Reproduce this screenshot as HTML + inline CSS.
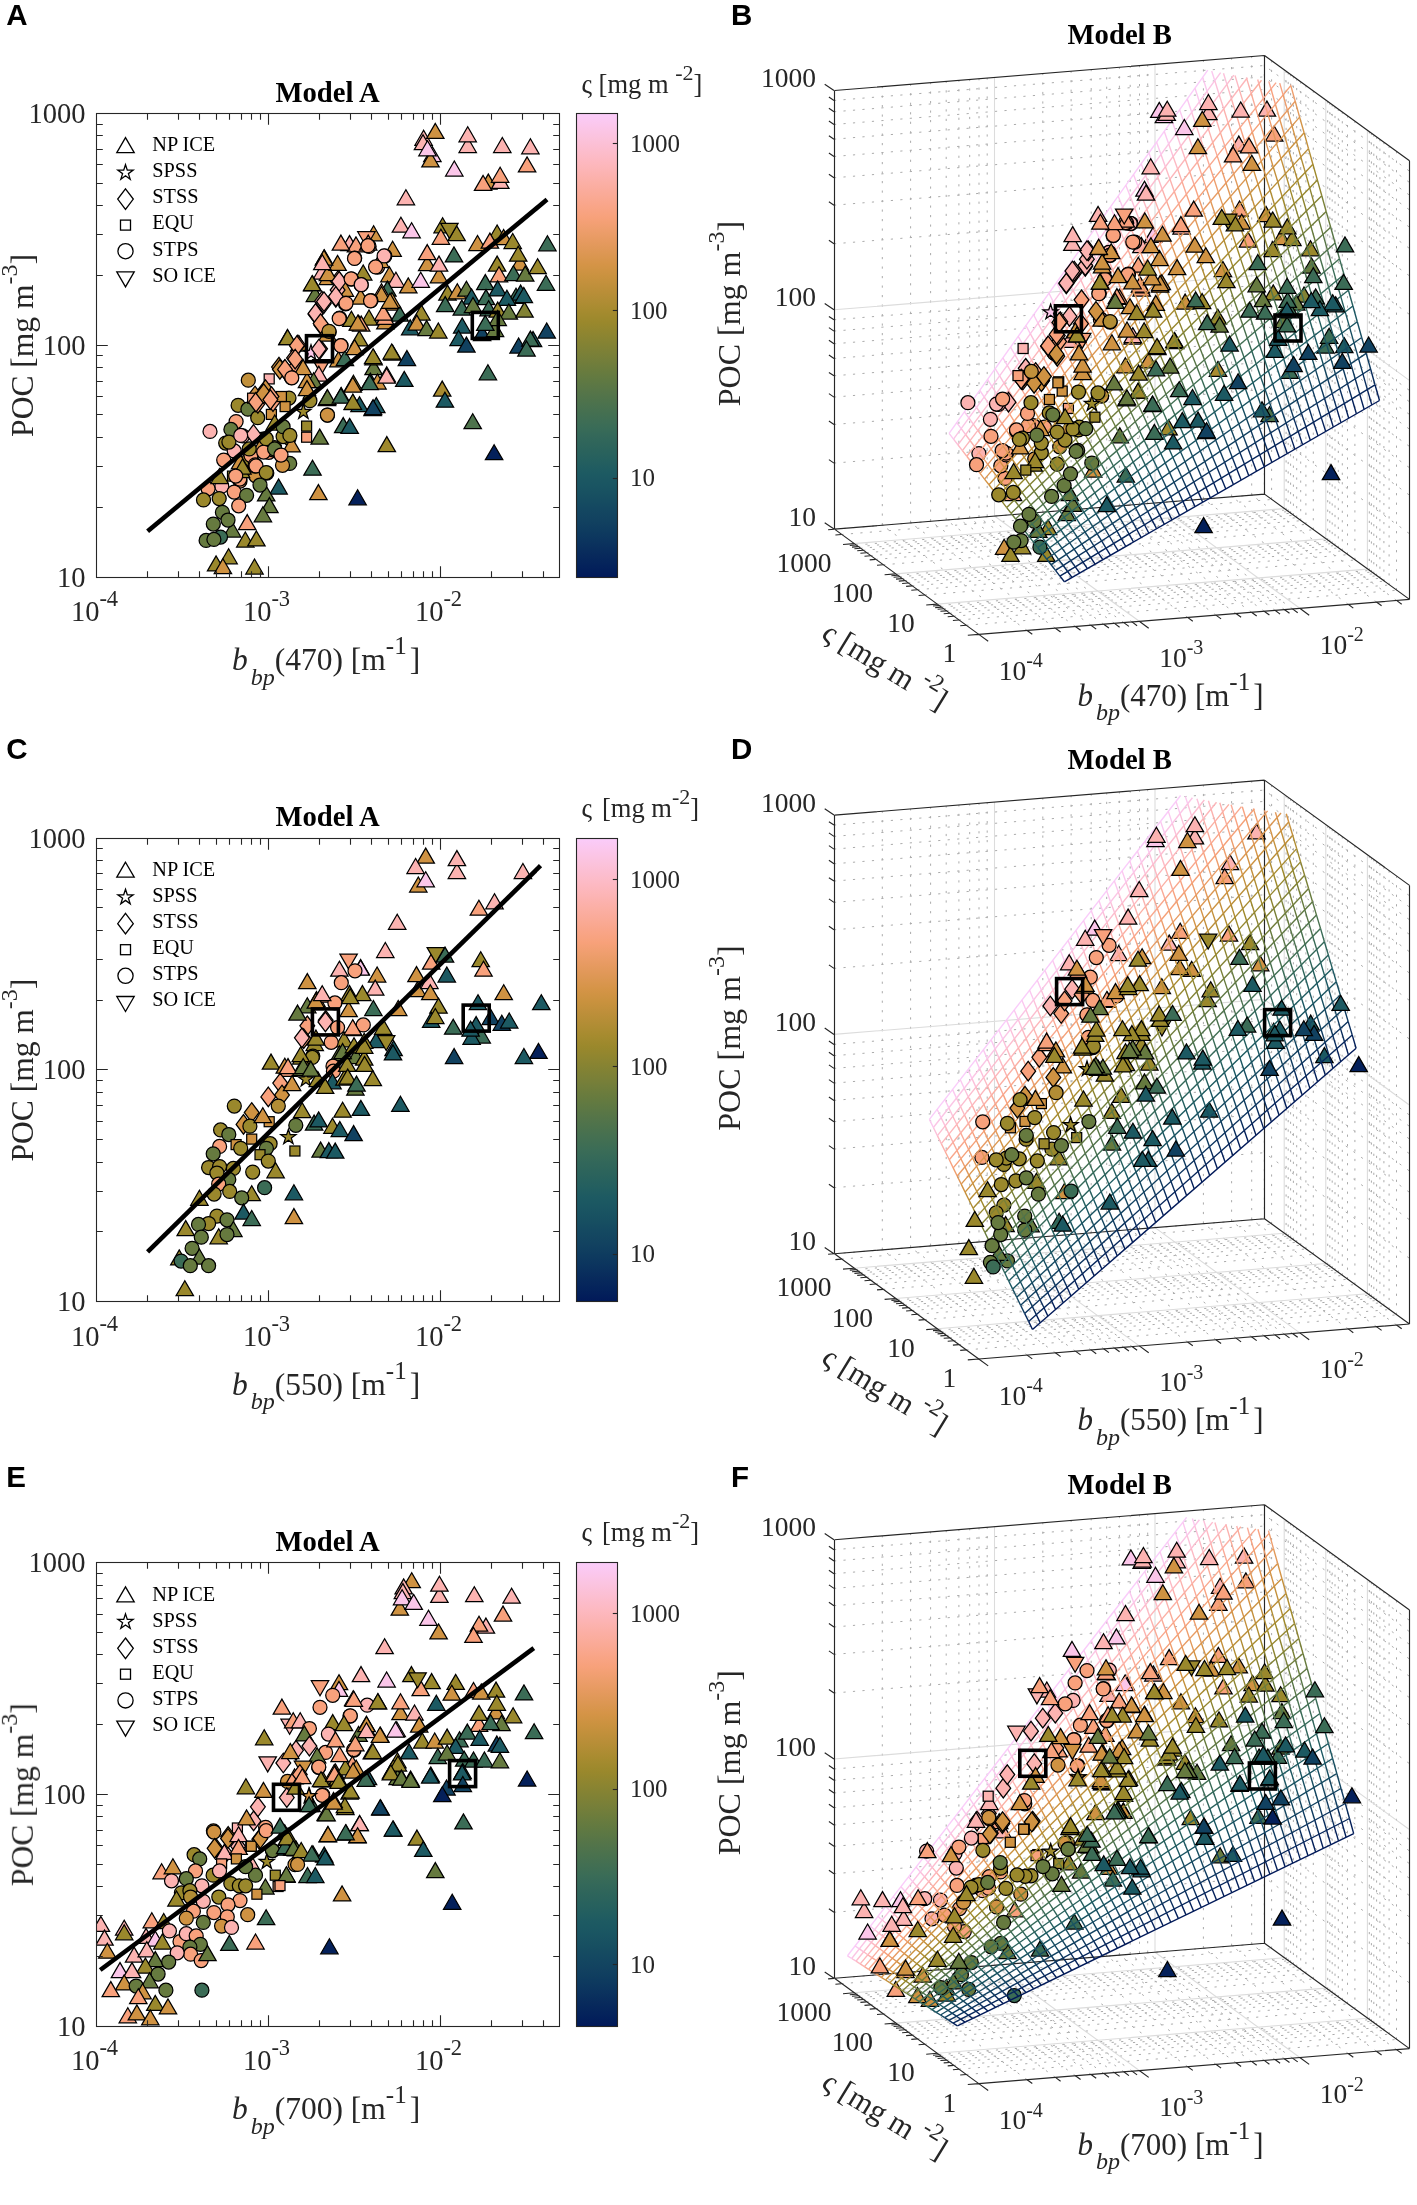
<!DOCTYPE html><html><head><meta charset="utf-8"><style>html,body{margin:0;padding:0;background:#fff;width:1417px;height:2205px;overflow:hidden}svg{display:block}</style></head><body><svg width="1417" height="2205" viewBox="0 0 1417 2205"><defs><linearGradient id="cbgrad" x1="0" y1="0" x2="0" y2="1"><stop offset="0.000" stop-color="#FACCFA"/><stop offset="0.025" stop-color="#FBC7EC"/><stop offset="0.050" stop-color="#FBC3DE"/><stop offset="0.075" stop-color="#FCBED0"/><stop offset="0.100" stop-color="#FDB9C2"/><stop offset="0.125" stop-color="#FCB4B4"/><stop offset="0.150" stop-color="#FBAFA5"/><stop offset="0.175" stop-color="#FAAA97"/><stop offset="0.200" stop-color="#F9A588"/><stop offset="0.225" stop-color="#F7A17A"/><stop offset="0.250" stop-color="#EE9E6D"/><stop offset="0.275" stop-color="#E69A60"/><stop offset="0.300" stop-color="#DD9754"/><stop offset="0.325" stop-color="#D59447"/><stop offset="0.350" stop-color="#CA923F"/><stop offset="0.375" stop-color="#BE8F3A"/><stop offset="0.400" stop-color="#B28D35"/><stop offset="0.425" stop-color="#A68B2F"/><stop offset="0.450" stop-color="#9A882C"/><stop offset="0.475" stop-color="#8E8530"/><stop offset="0.500" stop-color="#828234"/><stop offset="0.525" stop-color="#777F39"/><stop offset="0.550" stop-color="#6B7C3D"/><stop offset="0.575" stop-color="#607942"/><stop offset="0.600" stop-color="#567548"/><stop offset="0.625" stop-color="#4C724D"/><stop offset="0.650" stop-color="#436F52"/><stop offset="0.675" stop-color="#3A6C57"/><stop offset="0.700" stop-color="#32675A"/><stop offset="0.725" stop-color="#2B635C"/><stop offset="0.750" stop-color="#245F5F"/><stop offset="0.775" stop-color="#1D5A62"/><stop offset="0.800" stop-color="#1A5562"/><stop offset="0.825" stop-color="#174F61"/><stop offset="0.850" stop-color="#144861"/><stop offset="0.875" stop-color="#124260"/><stop offset="0.900" stop-color="#0E3B5F"/><stop offset="0.925" stop-color="#0B335E"/><stop offset="0.950" stop-color="#082A5C"/><stop offset="0.975" stop-color="#04225B"/><stop offset="1.000" stop-color="#011959"/></linearGradient><clipPath id="clipA0"><rect x="96" y="113.4" width="463.2" height="463.6"/></clipPath><clipPath id="clipA724"><rect x="96" y="838" width="463.2" height="463.6"/></clipPath><clipPath id="clipA1449"><rect x="96" y="1562.6" width="463.2" height="463.6"/></clipPath></defs><g style="will-change:transform">
<text x="6.2" y="25" style="font-family:'Liberation Sans',sans-serif;font-weight:bold;font-size:29.5px" fill="#000">A</text>
<text x="327.6" y="101.8" text-anchor="middle" style="font-family:'Liberation Serif',serif;font-weight:bold;font-size:28.7px" fill="#000">Model A</text>
<g clip-path="url(#clipA0)">
<polygon points="423.6,130.3 414.9,145.3 432.3,145.3" fill="#FCB3B1" stroke="#000" stroke-width="1.25" stroke-linejoin="miter"/>
<polygon points="435.3,123.4 426.6,138.4 444,138.4" fill="#CF9242" stroke="#000" stroke-width="1.25" stroke-linejoin="miter"/>
<polygon points="423,134.7 414.3,149.7 431.7,149.7" fill="#FCB3B1" stroke="#000" stroke-width="1.25" stroke-linejoin="miter"/>
<polygon points="432.4,146.7 423.7,161.7 441.1,161.7" fill="#FBC6E9" stroke="#000" stroke-width="1.25" stroke-linejoin="miter"/>
<polygon points="430.5,151.9 421.8,166.9 439.2,166.9" fill="#CF9242" stroke="#000" stroke-width="1.25" stroke-linejoin="miter"/>
<polygon points="427.5,140.8 418.8,155.8 436.2,155.8" fill="#FBC6E9" stroke="#000" stroke-width="1.25" stroke-linejoin="miter"/>
<polygon points="467.7,137.5 459,152.5 476.4,152.5" fill="#FCB3B1" stroke="#000" stroke-width="1.25" stroke-linejoin="miter"/>
<polygon points="467.7,126.8 459,141.8 476.4,141.8" fill="#FCB3B1" stroke="#000" stroke-width="1.25" stroke-linejoin="miter"/>
<polygon points="502.3,137.5 493.6,152.5 511,152.5" fill="#FCB3B1" stroke="#000" stroke-width="1.25" stroke-linejoin="miter"/>
<polygon points="530.4,138.8 521.7,153.8 539.1,153.8" fill="#FCB3B1" stroke="#000" stroke-width="1.25" stroke-linejoin="miter"/>
<polygon points="527.1,156.9 518.4,171.9 535.8,171.9" fill="#F8A17C" stroke="#000" stroke-width="1.25" stroke-linejoin="miter"/>
<polygon points="454.3,161 445.6,176 463,176" fill="#FBC6E9" stroke="#000" stroke-width="1.25" stroke-linejoin="miter"/>
<polygon points="488.3,174.1 479.6,189.1 497,189.1" fill="#CF9242" stroke="#000" stroke-width="1.25" stroke-linejoin="miter"/>
<polygon points="483.1,175.4 474.4,190.4 491.8,190.4" fill="#F8A17C" stroke="#000" stroke-width="1.25" stroke-linejoin="miter"/>
<polygon points="500.3,173.4 491.6,188.4 509,188.4" fill="#FCB3B1" stroke="#000" stroke-width="1.25" stroke-linejoin="miter"/>
<polygon points="500.1,167.3 491.4,182.3 508.8,182.3" fill="#F8A17C" stroke="#000" stroke-width="1.25" stroke-linejoin="miter"/>
<polygon points="405.9,189.8 397.2,204.8 414.6,204.8" fill="#FCB3B1" stroke="#000" stroke-width="1.25" stroke-linejoin="miter"/>
<polygon points="400.9,217.2 392.2,232.2 409.6,232.2" fill="#FCB3B1" stroke="#000" stroke-width="1.25" stroke-linejoin="miter"/>
<polygon points="411.6,222.8 402.9,237.8 420.3,237.8" fill="#FBC6E9" stroke="#000" stroke-width="1.25" stroke-linejoin="miter"/>
<polygon points="442.6,217.8 433.9,232.8 451.3,232.8" fill="#9A882C" stroke="#000" stroke-width="1.25" stroke-linejoin="miter"/>
<polygon points="456.6,225.7 447.9,240.7 465.3,240.7" fill="#9A882C" stroke="#000" stroke-width="1.25" stroke-linejoin="miter"/>
<polygon points="440.9,229.3 432.2,244.3 449.6,244.3" fill="#F8A17C" stroke="#000" stroke-width="1.25" stroke-linejoin="miter"/>
<polygon points="449.4,238.4 440.7,223.4 458.1,223.4" fill="#9A882C" stroke="#000" stroke-width="1.25"/>
<polygon points="497.1,225 488.4,240 505.8,240" fill="#9A882C" stroke="#000" stroke-width="1.25" stroke-linejoin="miter"/>
<polygon points="477.5,235.5 468.8,250.5 486.2,250.5" fill="#CF9242" stroke="#000" stroke-width="1.25" stroke-linejoin="miter"/>
<polygon points="489.9,233.1 481.2,248.1 498.6,248.1" fill="#F8A17C" stroke="#000" stroke-width="1.25" stroke-linejoin="miter"/>
<polygon points="503.6,229.5 494.9,244.5 512.3,244.5" fill="#CF9242" stroke="#000" stroke-width="1.25" stroke-linejoin="miter"/>
<polygon points="512.7,233.5 504,248.5 521.4,248.5" fill="#9A882C" stroke="#000" stroke-width="1.25" stroke-linejoin="miter"/>
<polygon points="547.4,235.8 538.7,250.8 556.1,250.8" fill="#3B6C56" stroke="#000" stroke-width="1.25" stroke-linejoin="miter"/>
<polygon points="392.6,241.3 383.9,256.3 401.3,256.3" fill="#CF9242" stroke="#000" stroke-width="1.25" stroke-linejoin="miter"/>
<polygon points="427.2,255.7 418.5,270.7 435.9,270.7" fill="#CF9242" stroke="#000" stroke-width="1.25" stroke-linejoin="miter"/>
<polygon points="427.2,244.6 418.5,259.6 435.9,259.6" fill="#F8A17C" stroke="#000" stroke-width="1.25" stroke-linejoin="miter"/>
<polygon points="439,267.8 430.3,282.8 447.7,282.8" fill="#CF9242" stroke="#000" stroke-width="1.25" stroke-linejoin="miter"/>
<polygon points="439,256.1 430.3,271.1 447.7,271.1" fill="#FCB3B1" stroke="#000" stroke-width="1.25" stroke-linejoin="miter"/>
<polygon points="454,246.9 445.3,261.9 462.7,261.9" fill="#3B6C56" stroke="#000" stroke-width="1.25" stroke-linejoin="miter"/>
<polygon points="519.9,255 511.2,270 528.6,270" fill="#CF9242" stroke="#000" stroke-width="1.25" stroke-linejoin="miter"/>
<polygon points="518.2,246.2 509.5,261.2 526.9,261.2" fill="#9A882C" stroke="#000" stroke-width="1.25" stroke-linejoin="miter"/>
<polygon points="497.1,256.1 488.4,271.1 505.8,271.1" fill="#9A882C" stroke="#000" stroke-width="1.25" stroke-linejoin="miter"/>
<polygon points="499,266.8 490.3,281.8 507.7,281.8" fill="#F8A17C" stroke="#000" stroke-width="1.25" stroke-linejoin="miter"/>
<polygon points="513.4,265.7 504.7,280.7 522.1,280.7" fill="#3B6C56" stroke="#000" stroke-width="1.25" stroke-linejoin="miter"/>
<polygon points="525.2,266.1 516.5,281.1 533.9,281.1" fill="#667A3F" stroke="#000" stroke-width="1.25" stroke-linejoin="miter"/>
<polygon points="537.6,258.7 528.9,273.7 546.3,273.7" fill="#9A882C" stroke="#000" stroke-width="1.25" stroke-linejoin="miter"/>
<polygon points="546,275.3 537.3,290.3 554.7,290.3" fill="#3B6C56" stroke="#000" stroke-width="1.25" stroke-linejoin="miter"/>
<polygon points="389.4,266.8 380.7,281.8 398.1,281.8" fill="#CF9242" stroke="#000" stroke-width="1.25" stroke-linejoin="miter"/>
<polygon points="395.9,272.3 387.2,287.3 404.6,287.3" fill="#FCB3B1" stroke="#000" stroke-width="1.25" stroke-linejoin="miter"/>
<polygon points="408.3,277.9 399.6,292.9 417,292.9" fill="#CF9242" stroke="#000" stroke-width="1.25" stroke-linejoin="miter"/>
<polygon points="420.7,272.3 412,287.3 429.4,287.3" fill="#FBC6E9" stroke="#000" stroke-width="1.25" stroke-linejoin="miter"/>
<polygon points="387.4,281.1 378.7,296.1 396.1,296.1" fill="#3B6C56" stroke="#000" stroke-width="1.25" stroke-linejoin="miter"/>
<polygon points="381.5,283.8 372.8,298.8 390.2,298.8" fill="#F8A17C" stroke="#000" stroke-width="1.25" stroke-linejoin="miter"/>
<polygon points="447.5,285.1 438.8,300.1 456.2,300.1" fill="#9A882C" stroke="#000" stroke-width="1.25" stroke-linejoin="miter"/>
<polygon points="457.3,283.8 448.6,298.8 466,298.8" fill="#CF9242" stroke="#000" stroke-width="1.25" stroke-linejoin="miter"/>
<polygon points="466.4,281.2 457.7,296.2 475.1,296.2" fill="#667A3F" stroke="#000" stroke-width="1.25" stroke-linejoin="miter"/>
<polygon points="471.6,289 462.9,304 480.3,304" fill="#1C5962" stroke="#000" stroke-width="1.25" stroke-linejoin="miter"/>
<polygon points="485.3,274.6 476.6,289.6 494,289.6" fill="#3B6C56" stroke="#000" stroke-width="1.25" stroke-linejoin="miter"/>
<polygon points="486,289.6 477.3,304.6 494.7,304.6" fill="#3B6C56" stroke="#000" stroke-width="1.25" stroke-linejoin="miter"/>
<polygon points="497.7,280.9 489,295.9 506.4,295.9" fill="#1C5962" stroke="#000" stroke-width="1.25" stroke-linejoin="miter"/>
<polygon points="516,288.3 507.3,303.3 524.7,303.3" fill="#3B6C56" stroke="#000" stroke-width="1.25" stroke-linejoin="miter"/>
<polygon points="520.6,285.1 511.9,300.1 529.3,300.1" fill="#1C5962" stroke="#000" stroke-width="1.25" stroke-linejoin="miter"/>
<polygon points="506.9,290.3 498.2,305.3 515.6,305.3" fill="#1C5962" stroke="#000" stroke-width="1.25" stroke-linejoin="miter"/>
<circle cx="384.8" cy="256" r="7" fill="#FCB3B1" stroke="#000" stroke-width="1.25"/>
<circle cx="377.6" cy="267.1" r="7" fill="#F8A17C" stroke="#000" stroke-width="1.25"/>
<polygon points="373.6,225.8 364.9,240.8 382.3,240.8" fill="#CF9242" stroke="#000" stroke-width="1.25" stroke-linejoin="miter"/>
<polygon points="366.4,246.7 357.7,231.7 375.1,231.7" fill="#F8A17C" stroke="#000" stroke-width="1.25"/>
<polygon points="349.5,235.6 340.8,250.6 358.2,250.6" fill="#FCB3B1" stroke="#000" stroke-width="1.25" stroke-linejoin="miter"/>
<polygon points="356,236.9 347.3,251.9 364.7,251.9" fill="#F8A17C" stroke="#000" stroke-width="1.25" stroke-linejoin="miter"/>
<circle cx="369.1" cy="246.4" r="7" fill="#F8A17C" stroke="#000" stroke-width="1.25"/>
<circle cx="354.7" cy="258.1" r="7" fill="#F8A17C" stroke="#000" stroke-width="1.25"/>
<polygon points="324.3,249.7 315.6,264.7 333,264.7" fill="#CF9242" stroke="#000" stroke-width="1.25" stroke-linejoin="miter"/>
<polygon points="327.9,269.5 319.2,284.5 336.6,284.5" fill="#CF9242" stroke="#000" stroke-width="1.25" stroke-linejoin="miter"/>
<polygon points="322,264 313.3,279 330.7,279" fill="#FCB3B1" stroke="#000" stroke-width="1.25" stroke-linejoin="miter"/>
<polygon points="363.2,265 354.5,280 371.9,280" fill="#9A882C" stroke="#000" stroke-width="1.25" stroke-linejoin="miter"/>
<polygon points="337.7,271.2 345.1,281 337.7,290.8 330.3,281" fill="#FCB3B1" stroke="#000" stroke-width="1.25"/>
<circle cx="351.4" cy="279" r="7" fill="#F8A17C" stroke="#000" stroke-width="1.25"/>
<circle cx="361.2" cy="284.9" r="7" fill="#FCB3B1" stroke="#000" stroke-width="1.25"/>
<polygon points="312.5,275.8 303.8,290.8 321.2,290.8" fill="#9A882C" stroke="#000" stroke-width="1.25" stroke-linejoin="miter"/>
<polygon points="314.9,286.5 306.2,301.5 323.6,301.5" fill="#667A3F" stroke="#000" stroke-width="1.25" stroke-linejoin="miter"/>
<polygon points="381.5,286.5 372.8,301.5 390.2,301.5" fill="#CF9242" stroke="#000" stroke-width="1.25" stroke-linejoin="miter"/>
<polygon points="390,295 381.3,310 398.7,310" fill="#CF9242" stroke="#000" stroke-width="1.25" stroke-linejoin="miter"/>
<polygon points="322,291.4 329.4,301.2 322,311 314.6,301.2" fill="#FCB3B1" stroke="#000" stroke-width="1.25"/>
<polygon points="335.8,287.5 343.2,297.3 335.8,307.1 328.4,297.3" fill="#FCB3B1" stroke="#000" stroke-width="1.25"/>
<circle cx="345.5" cy="303.8" r="7" fill="#F8A17C" stroke="#000" stroke-width="1.25"/>
<circle cx="371" cy="300.5" r="7" fill="#F8A17C" stroke="#000" stroke-width="1.25"/>
<polygon points="384.1,305.8 375.4,320.8 392.8,320.8" fill="#F8A17C" stroke="#000" stroke-width="1.25" stroke-linejoin="miter"/>
<polygon points="369,310 360.3,325 377.7,325" fill="#9A882C" stroke="#000" stroke-width="1.25" stroke-linejoin="miter"/>
<polygon points="351.4,311.3 342.7,326.3 360.1,326.3" fill="#9A882C" stroke="#000" stroke-width="1.25" stroke-linejoin="miter"/>
<polygon points="385.4,313.9 376.7,328.9 394.1,328.9" fill="#CF9242" stroke="#000" stroke-width="1.25" stroke-linejoin="miter"/>
<polygon points="399.7,306.1 391,321.1 408.4,321.1" fill="#3B6C56" stroke="#000" stroke-width="1.25" stroke-linejoin="miter"/>
<polygon points="410.2,319.8 401.5,334.8 418.9,334.8" fill="#1C5962" stroke="#000" stroke-width="1.25" stroke-linejoin="miter"/>
<polygon points="321.4,315.5 328.8,325.3 321.4,335.1 314,325.3" fill="#CF9242" stroke="#000" stroke-width="1.25"/>
<polygon points="315.5,304.4 322.9,314.2 315.5,324 308.1,314.2" fill="#FCB3B1" stroke="#000" stroke-width="1.25"/>
<circle cx="339.7" cy="318.2" r="7" fill="#F8A17C" stroke="#000" stroke-width="1.25"/>
<polygon points="358.6,315.2 349.9,330.2 367.3,330.2" fill="#F8A17C" stroke="#000" stroke-width="1.25" stroke-linejoin="miter"/>
<polygon points="287.4,329.6 278.7,344.6 296.1,344.6" fill="#9A882C" stroke="#000" stroke-width="1.25" stroke-linejoin="miter"/>
<polygon points="299.2,336.1 290.5,351.1 307.9,351.1" fill="#CF9242" stroke="#000" stroke-width="1.25" stroke-linejoin="miter"/>
<polygon points="359.3,330.9 350.6,345.9 368,345.9" fill="#9A882C" stroke="#000" stroke-width="1.25" stroke-linejoin="miter"/>
<circle cx="329.2" cy="331.9" r="7" fill="#B28D35" stroke="#000" stroke-width="1.25"/>
<polygon points="373.6,359.6 364.9,374.6 382.3,374.6" fill="#667A3F" stroke="#000" stroke-width="1.25" stroke-linejoin="miter"/>
<polygon points="373.6,349.8 364.9,364.8 382.3,364.8" fill="#9A882C" stroke="#000" stroke-width="1.25" stroke-linejoin="miter"/>
<polygon points="392.6,345 383.9,360 401.3,360" fill="#9A882C" stroke="#000" stroke-width="1.25" stroke-linejoin="miter"/>
<polygon points="406.9,350.5 398.2,365.5 415.6,365.5" fill="#114160" stroke="#000" stroke-width="1.25" stroke-linejoin="miter"/>
<polygon points="386.7,366.8 378,381.8 395.4,381.8" fill="#FCB3B1" stroke="#000" stroke-width="1.25" stroke-linejoin="miter"/>
<polygon points="404.3,371.4 395.6,386.4 413,386.4" fill="#1C5962" stroke="#000" stroke-width="1.25" stroke-linejoin="miter"/>
<polygon points="353.4,375.3 344.7,390.3 362.1,390.3" fill="#9A882C" stroke="#000" stroke-width="1.25" stroke-linejoin="miter"/>
<polygon points="370.4,373.2 361.7,388.2 379.1,388.2" fill="#1C5962" stroke="#000" stroke-width="1.25" stroke-linejoin="miter"/>
<polygon points="377.5,374 368.8,389 386.2,389" fill="#CF9242" stroke="#000" stroke-width="1.25" stroke-linejoin="miter"/>
<polygon points="338.4,351.8 329.7,366.8 347.1,366.8" fill="#CF9242" stroke="#000" stroke-width="1.25" stroke-linejoin="miter"/>
<polygon points="344.9,350.5 336.2,365.5 353.6,365.5" fill="#3B6C56" stroke="#000" stroke-width="1.25" stroke-linejoin="miter"/>
<circle cx="341" cy="345.6" r="7" fill="#F8A17C" stroke="#000" stroke-width="1.25"/>
<polygon points="297.9,335.1 305.3,344.9 297.9,354.7 290.5,344.9" fill="#F8A17C" stroke="#000" stroke-width="1.25"/>
<polygon points="294,348.2 301.4,358 294,367.8 286.6,358" fill="#F8A17C" stroke="#000" stroke-width="1.25"/>
<polygon points="279,357.3 286.4,367.1 279,376.9 271.6,367.1" fill="#CF9242" stroke="#000" stroke-width="1.25"/>
<polygon points="284.8,359.9 292.2,369.7 284.8,379.5 277.4,369.7" fill="#F8A17C" stroke="#000" stroke-width="1.25"/>
<polygon points="296.6,356 304,365.8 296.6,375.6 289.2,365.8" fill="#F8A17C" stroke="#000" stroke-width="1.25"/>
<polygon points="320.1,339 327.5,348.8 320.1,358.6 312.7,348.8" fill="#F8A17C" stroke="#000" stroke-width="1.25"/>
<polygon points="311,344.8 312.8,350.3 318.6,350.3 313.9,353.7 315.7,359.3 311,355.9 306.3,359.3 308.1,353.7 303.4,350.3 309.2,350.3" fill="#FBC6E9" stroke="#000" stroke-width="1.25"/>
<polygon points="321.4,374.6 312.7,359.6 330.1,359.6" fill="#F8A17C" stroke="#000" stroke-width="1.25"/>
<polygon points="318.8,366.2 310.1,381.2 327.5,381.2" fill="#FCB3B1" stroke="#000" stroke-width="1.25" stroke-linejoin="miter"/>
<polygon points="313.6,372.7 304.9,387.7 322.3,387.7" fill="#667A3F" stroke="#000" stroke-width="1.25" stroke-linejoin="miter"/>
<polygon points="307,372.7 298.3,387.7 315.7,387.7" fill="#CF9242" stroke="#000" stroke-width="1.25" stroke-linejoin="miter"/>
<circle cx="291.4" cy="377.6" r="7" fill="#F8A17C" stroke="#000" stroke-width="1.25"/>
<rect x="264.2" y="373.9" width="10" height="10" fill="#FCB3B1" stroke="#000" stroke-width="1.25"/>
<circle cx="248.3" cy="380.2" r="7" fill="#C1903B" stroke="#000" stroke-width="1.25"/>
<polygon points="445.2,296.6 436.5,311.6 453.9,311.6" fill="#3B6C56" stroke="#000" stroke-width="1.25" stroke-linejoin="miter"/>
<polygon points="461.8,300.1 453.1,315.1 470.5,315.1" fill="#3B6C56" stroke="#000" stroke-width="1.25" stroke-linejoin="miter"/>
<polygon points="473,297.5 464.3,312.5 481.7,312.5" fill="#667A3F" stroke="#000" stroke-width="1.25" stroke-linejoin="miter"/>
<polygon points="488.6,300.8 479.9,315.8 497.3,315.8" fill="#3B6C56" stroke="#000" stroke-width="1.25" stroke-linejoin="miter"/>
<polygon points="497.7,302.1 489,317.1 506.4,317.1" fill="#9A882C" stroke="#000" stroke-width="1.25" stroke-linejoin="miter"/>
<polygon points="508.8,304 500.1,319 517.5,319" fill="#667A3F" stroke="#000" stroke-width="1.25" stroke-linejoin="miter"/>
<polygon points="524.5,302.1 515.8,317.1 533.2,317.1" fill="#828234" stroke="#000" stroke-width="1.25" stroke-linejoin="miter"/>
<polygon points="523.8,287.5 515.1,302.5 532.5,302.5" fill="#1C5962" stroke="#000" stroke-width="1.25" stroke-linejoin="miter"/>
<polygon points="421.4,305 412.7,320 430.1,320" fill="#9A882C" stroke="#000" stroke-width="1.25" stroke-linejoin="miter"/>
<polygon points="416.8,315.1 408.1,330.1 425.5,330.1" fill="#CF9242" stroke="#000" stroke-width="1.25" stroke-linejoin="miter"/>
<polygon points="426.6,320.6 417.9,335.6 435.3,335.6" fill="#667A3F" stroke="#000" stroke-width="1.25" stroke-linejoin="miter"/>
<polygon points="438.3,323 429.6,338 447,338" fill="#9A882C" stroke="#000" stroke-width="1.25" stroke-linejoin="miter"/>
<polygon points="462.2,318 453.5,333 470.9,333" fill="#1C5962" stroke="#000" stroke-width="1.25" stroke-linejoin="miter"/>
<polygon points="458.6,330.5 449.9,345.5 467.3,345.5" fill="#1C5962" stroke="#000" stroke-width="1.25" stroke-linejoin="miter"/>
<polygon points="466.4,337.1 457.7,352.1 475.1,352.1" fill="#114160" stroke="#000" stroke-width="1.25" stroke-linejoin="miter"/>
<polygon points="482.1,325.6 473.4,340.6 490.8,340.6" fill="#114160" stroke="#000" stroke-width="1.25" stroke-linejoin="miter"/>
<polygon points="495,321.5 486.3,336.5 503.7,336.5" fill="#667A3F" stroke="#000" stroke-width="1.25" stroke-linejoin="miter"/>
<polygon points="497.7,310.5 489,325.5 506.4,325.5" fill="#667A3F" stroke="#000" stroke-width="1.25" stroke-linejoin="miter"/>
<polygon points="485.3,315.4 476.6,330.4 494,330.4" fill="#3B6C56" stroke="#000" stroke-width="1.25" stroke-linejoin="miter"/>
<polygon points="546.7,323 538,338 555.4,338" fill="#114160" stroke="#000" stroke-width="1.25" stroke-linejoin="miter"/>
<polygon points="533,331.5 524.3,346.5 541.7,346.5" fill="#1C5962" stroke="#000" stroke-width="1.25" stroke-linejoin="miter"/>
<polygon points="518.6,338 509.9,353 527.3,353" fill="#114160" stroke="#000" stroke-width="1.25" stroke-linejoin="miter"/>
<polygon points="530.4,331.1 521.7,346.1 539.1,346.1" fill="#3B6C56" stroke="#000" stroke-width="1.25" stroke-linejoin="miter"/>
<polygon points="526.5,341 517.8,356 535.2,356" fill="#3B6C56" stroke="#000" stroke-width="1.25" stroke-linejoin="miter"/>
<polygon points="442.2,381.1 433.5,396.1 450.9,396.1" fill="#A98B30" stroke="#000" stroke-width="1.25" stroke-linejoin="miter"/>
<polygon points="444.9,392.2 436.2,407.2 453.6,407.2" fill="#1C5962" stroke="#000" stroke-width="1.25" stroke-linejoin="miter"/>
<polygon points="487.9,364.8 479.2,379.8 496.6,379.8" fill="#3B6C56" stroke="#000" stroke-width="1.25" stroke-linejoin="miter"/>
<polygon points="472.7,413.7 464,428.7 481.4,428.7" fill="#4E734C" stroke="#000" stroke-width="1.25" stroke-linejoin="miter"/>
<polygon points="386.8,436.6 378.1,451.6 395.5,451.6" fill="#9F892C" stroke="#000" stroke-width="1.25" stroke-linejoin="miter"/>
<polygon points="494.1,444.7 485.4,459.7 502.8,459.7" fill="#04205A" stroke="#000" stroke-width="1.25" stroke-linejoin="miter"/>
<polygon points="376.3,397.5 367.6,412.5 385,412.5" fill="#1C5962" stroke="#000" stroke-width="1.25" stroke-linejoin="miter"/>
<polygon points="265.5,379.8 272.9,389.6 265.5,399.4 258.1,389.6" fill="#CF9242" stroke="#000" stroke-width="1.25"/>
<polygon points="255,386.2 262.4,396 255,405.8 247.6,396" fill="#CF9242" stroke="#000" stroke-width="1.25"/>
<polygon points="256.4,392.8 263.8,402.6 256.4,412.4 249,402.6" fill="#F8A17C" stroke="#000" stroke-width="1.25"/>
<polygon points="272,390.2 279.4,400 272,409.8 264.6,400" fill="#FCB3B1" stroke="#000" stroke-width="1.25"/>
<rect x="275.5" y="392.4" width="10" height="10" fill="#CF9242" stroke="#000" stroke-width="1.25"/>
<circle cx="289" cy="398.1" r="7" fill="#9A882C" stroke="#000" stroke-width="1.25"/>
<circle cx="238.1" cy="405.3" r="7" fill="#9A882C" stroke="#000" stroke-width="1.25"/>
<circle cx="247.9" cy="409.2" r="7" fill="#667A3F" stroke="#000" stroke-width="1.25"/>
<rect x="280.1" y="401.6" width="10" height="10" fill="#CF9242" stroke="#000" stroke-width="1.25"/>
<rect x="266.4" y="409.4" width="10" height="10" fill="#CF9242" stroke="#000" stroke-width="1.25"/>
<circle cx="257.7" cy="417.7" r="7" fill="#9A882C" stroke="#000" stroke-width="1.25"/>
<circle cx="236.1" cy="421.6" r="7" fill="#F8A17C" stroke="#000" stroke-width="1.25"/>
<circle cx="210" cy="431.4" r="7" fill="#FCB3B1" stroke="#000" stroke-width="1.25"/>
<circle cx="230.9" cy="429.4" r="7" fill="#667A3F" stroke="#000" stroke-width="1.25"/>
<circle cx="242.7" cy="435.9" r="7" fill="#FCB3B1" stroke="#000" stroke-width="1.25"/>
<circle cx="289" cy="438" r="7" fill="#9A882C" stroke="#000" stroke-width="1.25"/>
<circle cx="283.1" cy="436.6" r="7" fill="#9A882C" stroke="#000" stroke-width="1.25"/>
<circle cx="225.7" cy="443.1" r="7" fill="#9A882C" stroke="#000" stroke-width="1.25"/>
<circle cx="234.2" cy="450.9" r="7" fill="#FCB3B1" stroke="#000" stroke-width="1.25"/>
<circle cx="223.7" cy="460.1" r="7" fill="#F8A17C" stroke="#000" stroke-width="1.25"/>
<polygon points="291.6,436.9 282.9,451.9 300.3,451.9" fill="#CF9242" stroke="#000" stroke-width="1.25" stroke-linejoin="miter"/>
<circle cx="274.6" cy="447.7" r="7" fill="#9A882C" stroke="#000" stroke-width="1.25"/>
<circle cx="268.8" cy="452.3" r="7" fill="#F8A17C" stroke="#000" stroke-width="1.25"/>
<circle cx="251.1" cy="456.8" r="7" fill="#F8A17C" stroke="#000" stroke-width="1.25"/>
<circle cx="309.9" cy="400.7" r="7" fill="#9A882C" stroke="#000" stroke-width="1.25"/>
<polygon points="303.4,403.8 305.2,409.3 311,409.3 306.3,412.7 308.1,418.3 303.4,414.9 298.7,418.3 300.5,412.7 295.8,409.3 301.6,409.3" fill="#9A882C" stroke="#000" stroke-width="1.25"/>
<rect x="301.6" y="421.1" width="10" height="10" fill="#9A882C" stroke="#000" stroke-width="1.25"/>
<rect x="301.6" y="432.2" width="10" height="10" fill="#F8A17C" stroke="#000" stroke-width="1.25"/>
<circle cx="327.5" cy="415" r="7" fill="#CF9242" stroke="#000" stroke-width="1.25"/>
<polygon points="326.9,390.6 318.2,405.6 335.6,405.6" fill="#667A3F" stroke="#000" stroke-width="1.25" stroke-linejoin="miter"/>
<polygon points="341.2,387.6 332.5,402.6 349.9,402.6" fill="#3B6C56" stroke="#000" stroke-width="1.25" stroke-linejoin="miter"/>
<polygon points="353,394.5 344.3,409.5 361.7,409.5" fill="#9A882C" stroke="#000" stroke-width="1.25" stroke-linejoin="miter"/>
<polygon points="359.5,396.7 350.8,411.7 368.2,411.7" fill="#1C5962" stroke="#000" stroke-width="1.25" stroke-linejoin="miter"/>
<polygon points="372.6,400.6 363.9,415.6 381.3,415.6" fill="#114160" stroke="#000" stroke-width="1.25" stroke-linejoin="miter"/>
<polygon points="343.2,417.6 334.5,432.6 351.9,432.6" fill="#3B6C56" stroke="#000" stroke-width="1.25" stroke-linejoin="miter"/>
<polygon points="349.7,418.4 341,433.4 358.4,433.4" fill="#1C5962" stroke="#000" stroke-width="1.25" stroke-linejoin="miter"/>
<polygon points="319.7,429.1 311,444.1 328.4,444.1" fill="#667A3F" stroke="#000" stroke-width="1.25" stroke-linejoin="miter"/>
<polygon points="312.5,460.2 303.8,475.2 321.2,475.2" fill="#3B6C56" stroke="#000" stroke-width="1.25" stroke-linejoin="miter"/>
<polygon points="318.4,484.6 309.7,499.6 327.1,499.6" fill="#CF9242" stroke="#000" stroke-width="1.25" stroke-linejoin="miter"/>
<polygon points="357.6,489.8 348.9,504.8 366.3,504.8" fill="#04205A" stroke="#000" stroke-width="1.25" stroke-linejoin="miter"/>
<circle cx="289.7" cy="463.4" r="7" fill="#667A3F" stroke="#000" stroke-width="1.25"/>
<circle cx="282.5" cy="465.3" r="7" fill="#CF9242" stroke="#000" stroke-width="1.25"/>
<circle cx="266.8" cy="473.1" r="7" fill="#667A3F" stroke="#000" stroke-width="1.25"/>
<circle cx="255.7" cy="475.8" r="7" fill="#CF9242" stroke="#000" stroke-width="1.25"/>
<circle cx="240" cy="481" r="7" fill="#F8A17C" stroke="#000" stroke-width="1.25"/>
<circle cx="221.8" cy="486.2" r="7" fill="#FCB3B1" stroke="#000" stroke-width="1.25"/>
<circle cx="208.1" cy="488.8" r="7" fill="#F8A17C" stroke="#000" stroke-width="1.25"/>
<circle cx="234.2" cy="492.1" r="7" fill="#F8A17C" stroke="#000" stroke-width="1.25"/>
<polygon points="278.6,479 269.9,494 287.3,494" fill="#1C5962" stroke="#000" stroke-width="1.25" stroke-linejoin="miter"/>
<polygon points="266.2,485.9 257.5,500.9 274.9,500.9" fill="#667A3F" stroke="#000" stroke-width="1.25" stroke-linejoin="miter"/>
<polygon points="269.4,497.6 260.7,512.6 278.1,512.6" fill="#667A3F" stroke="#000" stroke-width="1.25" stroke-linejoin="miter"/>
<polygon points="262.9,506.8 254.2,521.8 271.6,521.8" fill="#667A3F" stroke="#000" stroke-width="1.25" stroke-linejoin="miter"/>
<circle cx="246.6" cy="495.3" r="7" fill="#667A3F" stroke="#000" stroke-width="1.25"/>
<circle cx="219.2" cy="498.6" r="7" fill="#9A882C" stroke="#000" stroke-width="1.25"/>
<circle cx="203.5" cy="499.9" r="7" fill="#9A882C" stroke="#000" stroke-width="1.25"/>
<circle cx="238.7" cy="505.8" r="7" fill="#F8A17C" stroke="#000" stroke-width="1.25"/>
<circle cx="222.4" cy="512.3" r="7" fill="#667A3F" stroke="#000" stroke-width="1.25"/>
<polygon points="247.2,514.6 238.5,529.6 255.9,529.6" fill="#F8A17C" stroke="#000" stroke-width="1.25" stroke-linejoin="miter"/>
<polygon points="232.2,522 223.5,537 240.9,537" fill="#667A3F" stroke="#000" stroke-width="1.25" stroke-linejoin="miter"/>
<circle cx="213.3" cy="524.1" r="7" fill="#667A3F" stroke="#000" stroke-width="1.25"/>
<circle cx="220.5" cy="537.1" r="7" fill="#3B6C56" stroke="#000" stroke-width="1.25"/>
<circle cx="206.1" cy="540.4" r="7" fill="#667A3F" stroke="#000" stroke-width="1.25"/>
<polygon points="245.3,532 236.6,547 254,547" fill="#9A882C" stroke="#000" stroke-width="1.25" stroke-linejoin="miter"/>
<polygon points="256.4,530.9 247.7,545.9 265.1,545.9" fill="#9A882C" stroke="#000" stroke-width="1.25" stroke-linejoin="miter"/>
<polygon points="327.9,265.6 319.2,280.6 336.6,280.6" fill="#CF9242" stroke="#000" stroke-width="1.25" stroke-linejoin="miter"/>
<polygon points="360.6,289.1 351.9,304.1 369.3,304.1" fill="#CF9242" stroke="#000" stroke-width="1.25" stroke-linejoin="miter"/>
<polygon points="344.9,281.3 336.2,296.3 353.6,296.3" fill="#CF9242" stroke="#000" stroke-width="1.25" stroke-linejoin="miter"/>
<polygon points="380.2,252.5 371.5,267.5 388.9,267.5" fill="#CF9242" stroke="#000" stroke-width="1.25" stroke-linejoin="miter"/>
<polygon points="303.1,359.6 294.4,374.6 311.8,374.6" fill="#CF9242" stroke="#000" stroke-width="1.25" stroke-linejoin="miter"/>
<circle cx="213.9" cy="539.4" r="7" fill="#667A3F" stroke="#000" stroke-width="1.25"/>
<circle cx="239.8" cy="479" r="7" fill="#F8A17C" stroke="#000" stroke-width="1.25"/>
<rect x="227.5" y="471.1" width="10" height="10" fill="#9A882C" stroke="#000" stroke-width="1.25"/>
<circle cx="255.1" cy="466" r="7" fill="#F8A17C" stroke="#000" stroke-width="1.25"/>
<polygon points="241,462.5 232.3,477.5 249.7,477.5" fill="#9A882C" stroke="#000" stroke-width="1.25" stroke-linejoin="miter"/>
<polygon points="219.5,468.5 210.8,483.5 228.2,483.5" fill="#9A882C" stroke="#000" stroke-width="1.25" stroke-linejoin="miter"/>
<polygon points="228.6,548.8 219.9,563.8 237.3,563.8" fill="#9A882C" stroke="#000" stroke-width="1.25" stroke-linejoin="miter"/>
<polygon points="216.1,555.9 207.4,570.9 224.8,570.9" fill="#9A882C" stroke="#000" stroke-width="1.25" stroke-linejoin="miter"/>
<polygon points="222.9,558.7 214.2,573.7 231.6,573.7" fill="#CF9242" stroke="#000" stroke-width="1.25" stroke-linejoin="miter"/>
<polygon points="254.5,559 245.8,574 263.2,574" fill="#9A882C" stroke="#000" stroke-width="1.25" stroke-linejoin="miter"/>
<circle cx="272.9" cy="449.8" r="7" fill="#667A3F" stroke="#000" stroke-width="1.25"/>
<circle cx="262.8" cy="439" r="7" fill="#F8A17C" stroke="#000" stroke-width="1.25"/>
<circle cx="249.2" cy="459.1" r="7" fill="#9A882C" stroke="#000" stroke-width="1.25"/>
<rect x="247.6" y="393.2" width="10" height="10" fill="#F8A17C" stroke="#000" stroke-width="1.25"/>
<polygon points="262.8,385 270.2,394.8 262.8,404.6 255.4,394.8" fill="#CF9242" stroke="#000" stroke-width="1.25"/>
<polygon points="273,391.8 280.4,401.6 273,411.4 265.6,401.6" fill="#F8A17C" stroke="#000" stroke-width="1.25"/>
<rect x="276.4" y="391.5" width="10" height="10" fill="#CF9242" stroke="#000" stroke-width="1.25"/>
<polygon points="323.8,293.8 331.2,303.6 323.8,313.4 316.4,303.6" fill="#FCB3B1" stroke="#000" stroke-width="1.25"/>
<polygon points="361.2,316.1 352.5,331.1 369.9,331.1" fill="#F8A17C" stroke="#000" stroke-width="1.25" stroke-linejoin="miter"/>
<polygon points="337.6,280.2 345,290 337.6,299.8 330.2,290" fill="#FCB3B1" stroke="#000" stroke-width="1.25"/>
<polygon points="327.5,326 318.8,341 336.2,341" fill="#CF9242" stroke="#000" stroke-width="1.25" stroke-linejoin="miter"/>
<polygon points="354.6,339.6 345.9,354.6 363.3,354.6" fill="#CF9242" stroke="#000" stroke-width="1.25" stroke-linejoin="miter"/>
<polygon points="340.9,235.1 332.2,250.1 349.6,250.1" fill="#F8A17C" stroke="#000" stroke-width="1.25" stroke-linejoin="miter"/>
<polygon points="368.2,235.1 359.5,250.1 376.9,250.1" fill="#F8A17C" stroke="#000" stroke-width="1.25" stroke-linejoin="miter"/>
<polygon points="337.6,255.4 328.9,270.4 346.3,270.4" fill="#CF9242" stroke="#000" stroke-width="1.25" stroke-linejoin="miter"/>
<polygon points="385.1,309.4 376.4,324.4 393.8,324.4" fill="#F8A17C" stroke="#000" stroke-width="1.25" stroke-linejoin="miter"/>
<polygon points="391.9,292.5 383.2,307.5 400.6,307.5" fill="#CF9242" stroke="#000" stroke-width="1.25" stroke-linejoin="miter"/>
<polygon points="324,250.1 315.3,265.1 332.7,265.1" fill="#CF9242" stroke="#000" stroke-width="1.25" stroke-linejoin="miter"/>
<polygon points="322.3,254.7 313.6,269.7 331,269.7" fill="#FCB3B1" stroke="#000" stroke-width="1.25" stroke-linejoin="miter"/>
<polygon points="312.1,275.7 303.4,290.7 320.8,290.7" fill="#9A882C" stroke="#000" stroke-width="1.25" stroke-linejoin="miter"/>
<polygon points="357.8,315.2 349.1,330.2 366.5,330.2" fill="#CF9242" stroke="#000" stroke-width="1.25" stroke-linejoin="miter"/>
<polygon points="383.3,305 374.6,320 392,320" fill="#F8A17C" stroke="#000" stroke-width="1.25" stroke-linejoin="miter"/>
<polygon points="390,293.3 381.3,308.3 398.7,308.3" fill="#CF9242" stroke="#000" stroke-width="1.25" stroke-linejoin="miter"/>
<polygon points="373.1,348.7 364.4,363.7 381.8,363.7" fill="#9A882C" stroke="#000" stroke-width="1.25" stroke-linejoin="miter"/>
<polygon points="391.7,344 383,359 400.4,359" fill="#9A882C" stroke="#000" stroke-width="1.25" stroke-linejoin="miter"/>
<polygon points="352.8,377.2 344.1,392.2 361.5,392.2" fill="#CF9242" stroke="#000" stroke-width="1.25" stroke-linejoin="miter"/>
<polygon points="369.7,374.6 361,389.6 378.4,389.6" fill="#3B6C56" stroke="#000" stroke-width="1.25" stroke-linejoin="miter"/>
<polygon points="386.6,368.2 377.9,383.2 395.3,383.2" fill="#FCB3B1" stroke="#000" stroke-width="1.25" stroke-linejoin="miter"/>
<polygon points="327.4,389.6 318.7,404.6 336.1,404.6" fill="#667A3F" stroke="#000" stroke-width="1.25" stroke-linejoin="miter"/>
<polygon points="340.9,388.1 332.2,403.1 349.6,403.1" fill="#3B6C56" stroke="#000" stroke-width="1.25" stroke-linejoin="miter"/>
<polygon points="352.8,394.3 344.1,409.3 361.5,409.3" fill="#9A882C" stroke="#000" stroke-width="1.25" stroke-linejoin="miter"/>
<polygon points="373.1,399.7 364.4,414.7 381.8,414.7" fill="#114160" stroke="#000" stroke-width="1.25" stroke-linejoin="miter"/>
<polygon points="287.6,329.7 278.9,344.7 296.3,344.7" fill="#9A882C" stroke="#000" stroke-width="1.25" stroke-linejoin="miter"/>
<polygon points="307,380.6 298.3,395.6 315.7,395.6" fill="#CF9242" stroke="#000" stroke-width="1.25" stroke-linejoin="miter"/>
<polygon points="339.2,271.5 346.6,281.3 339.2,291.1 331.8,281.3" fill="#FCB3B1" stroke="#000" stroke-width="1.25"/>
<polygon points="324,291.8 331.4,301.6 324,311.4 316.6,301.6" fill="#FCB3B1" stroke="#000" stroke-width="1.25"/>
<polygon points="315.5,303.7 322.9,313.5 315.5,323.3 308.1,313.5" fill="#FCB3B1" stroke="#000" stroke-width="1.25"/>
<polygon points="335.8,286.7 343.2,296.5 335.8,306.3 328.4,296.5" fill="#FCB3B1" stroke="#000" stroke-width="1.25"/>
<polygon points="320.6,313.8 328,323.6 320.6,333.4 313.2,323.6" fill="#F8A17C" stroke="#000" stroke-width="1.25"/>
<polygon points="296.9,335.9 304.3,345.7 296.9,355.5 289.5,345.7" fill="#F8A17C" stroke="#000" stroke-width="1.25"/>
<polygon points="295.2,349.4 302.6,359.2 295.2,369 287.8,359.2" fill="#F8A17C" stroke="#000" stroke-width="1.25"/>
<polygon points="279.9,359.6 287.3,369.4 279.9,379.2 272.5,369.4" fill="#CF9242" stroke="#000" stroke-width="1.25"/>
<polygon points="285,359.6 292.4,369.4 285,379.2 277.6,369.4" fill="#F8A17C" stroke="#000" stroke-width="1.25"/>
<polygon points="318.9,339.2 326.3,349 318.9,358.8 311.5,349" fill="#FCB3B1" stroke="#000" stroke-width="1.25"/>
<polygon points="271.5,386.7 278.9,396.5 271.5,406.3 264.1,396.5" fill="#F8A17C" stroke="#000" stroke-width="1.25"/>
<polygon points="257.9,393.5 265.3,403.3 257.9,413.1 250.5,403.3" fill="#F8A17C" stroke="#000" stroke-width="1.25"/>
<circle cx="329" cy="331.3" r="7" fill="#B28D35" stroke="#000" stroke-width="1.25"/>
<circle cx="368" cy="245.7" r="7" fill="#F8A17C" stroke="#000" stroke-width="1.25"/>
<circle cx="354.5" cy="258.4" r="7" fill="#F8A17C" stroke="#000" stroke-width="1.25"/>
<circle cx="384.1" cy="255.9" r="7" fill="#FCB3B1" stroke="#000" stroke-width="1.25"/>
<circle cx="375.6" cy="266.9" r="7" fill="#F8A17C" stroke="#000" stroke-width="1.25"/>
<circle cx="351.1" cy="278.8" r="7" fill="#F8A17C" stroke="#000" stroke-width="1.25"/>
<circle cx="361.2" cy="284.7" r="7" fill="#FCB3B1" stroke="#000" stroke-width="1.25"/>
<circle cx="346" cy="303.3" r="7" fill="#F8A17C" stroke="#000" stroke-width="1.25"/>
<circle cx="370.5" cy="300.8" r="7" fill="#F8A17C" stroke="#000" stroke-width="1.25"/>
<circle cx="339.2" cy="318.6" r="7" fill="#F8A17C" stroke="#000" stroke-width="1.25"/>
<circle cx="340.9" cy="345.7" r="7" fill="#F8A17C" stroke="#000" stroke-width="1.25"/>
<circle cx="291.8" cy="377.8" r="7" fill="#F8A17C" stroke="#000" stroke-width="1.25"/>
<circle cx="327.4" cy="415.1" r="7" fill="#CF9242" stroke="#000" stroke-width="1.25"/>
<polygon points="256,392.4 263.4,402.2 256,412 248.6,402.2" fill="#F8A17C" stroke="#000" stroke-width="1.25"/>
<polygon points="263.7,383.9 271.1,393.7 263.7,403.5 256.3,393.7" fill="#CF9242" stroke="#000" stroke-width="1.25"/>
<polygon points="270.4,389.8 277.8,399.6 270.4,409.4 263,399.6" fill="#F8A17C" stroke="#000" stroke-width="1.25"/>
<polygon points="274.7,415 266,430 283.4,430" fill="#9A882C" stroke="#000" stroke-width="1.25" stroke-linejoin="miter"/>
<circle cx="283.1" cy="426.7" r="7" fill="#667A3F" stroke="#000" stroke-width="1.25"/>
<polygon points="253.5,424.6 260.9,434.4 253.5,444.2 246.1,434.4" fill="#FCB3B1" stroke="#000" stroke-width="1.25"/>
<polygon points="262,436.2 253.3,451.2 270.7,451.2" fill="#CF9242" stroke="#000" stroke-width="1.25" stroke-linejoin="miter"/>
<polygon points="240,453.9 231.3,468.9 248.7,468.9" fill="#CF9242" stroke="#000" stroke-width="1.25" stroke-linejoin="miter"/>
<polygon points="242.5,459 233.8,474 251.2,474" fill="#9A882C" stroke="#000" stroke-width="1.25" stroke-linejoin="miter"/>
<circle cx="251" cy="455.5" r="7" fill="#F8A17C" stroke="#000" stroke-width="1.25"/>
<circle cx="263.7" cy="452.1" r="7" fill="#F8A17C" stroke="#000" stroke-width="1.25"/>
<circle cx="255.2" cy="464.8" r="7" fill="#F8A17C" stroke="#000" stroke-width="1.25"/>
<circle cx="249.2" cy="448.9" r="7" fill="#9A882C" stroke="#000" stroke-width="1.25"/>
<circle cx="266.2" cy="438.7" r="7" fill="#9A882C" stroke="#000" stroke-width="1.25"/>
<circle cx="289.9" cy="435.4" r="7" fill="#9A882C" stroke="#000" stroke-width="1.25"/>
<circle cx="274.6" cy="448.9" r="7" fill="#667A3F" stroke="#000" stroke-width="1.25"/>
<circle cx="256" cy="465.9" r="7" fill="#F8A17C" stroke="#000" stroke-width="1.25"/>
<circle cx="266.2" cy="472.6" r="7" fill="#9A882C" stroke="#000" stroke-width="1.25"/>
<circle cx="235.7" cy="476" r="7" fill="#F8A17C" stroke="#000" stroke-width="1.25"/>
<circle cx="228.9" cy="442.1" r="7" fill="#9A882C" stroke="#000" stroke-width="1.25"/>
<circle cx="240.7" cy="435.4" r="7" fill="#FCB3B1" stroke="#000" stroke-width="1.25"/>
<circle cx="281" cy="455" r="7" fill="#F8A17C" stroke="#000" stroke-width="1.25"/>
<circle cx="260" cy="485" r="7" fill="#667A3F" stroke="#000" stroke-width="1.25"/>
<circle cx="228" cy="520" r="7" fill="#667A3F" stroke="#000" stroke-width="1.25"/>
<line x1="147.6" y1="531.3" x2="547" y2="199.5" stroke="#000" stroke-width="4.6"/>
<rect x="306.5" y="335.7" width="26" height="26" fill="none" stroke="#000" stroke-width="3.6"/>
<rect x="472.3" y="312.4" width="26" height="26" fill="none" stroke="#000" stroke-width="3.6"/>
</g>
<rect x="96.5" y="113.5" width="463" height="464" fill="none" stroke="#262626" stroke-width="1.1"/>
<path d="M147.5 577.5v-6.3M147.5 113.5v6.3M178.5 577.5v-6.3M178.5 113.5v6.3M199.5 577.5v-6.3M199.5 113.5v6.3M216.5 577.5v-6.3M216.5 113.5v6.3M229.5 577.5v-6.3M229.5 113.5v6.3M241.5 577.5v-6.3M241.5 113.5v6.3M251.5 577.5v-6.3M251.5 113.5v6.3M260.5 577.5v-6.3M260.5 113.5v6.3M268.5 577.5v-11.3M268.5 113.5v11.3M319.5 577.5v-6.3M319.5 113.5v6.3M350.5 577.5v-6.3M350.5 113.5v6.3M371.5 577.5v-6.3M371.5 113.5v6.3M388.5 577.5v-6.3M388.5 113.5v6.3M401.5 577.5v-6.3M401.5 113.5v6.3M413.5 577.5v-6.3M413.5 113.5v6.3M423.5 577.5v-6.3M423.5 113.5v6.3M432.5 577.5v-6.3M432.5 113.5v6.3M440.5 577.5v-11.3M440.5 113.5v11.3M491.5 577.5v-6.3M491.5 113.5v6.3M522.5 577.5v-6.3M522.5 113.5v6.3M543.5 577.5v-6.3M543.5 113.5v6.3M96.5 507.5h6.3M559.5 507.5h-6.3M96.5 466.5h6.3M559.5 466.5h-6.3M96.5 437.5h6.3M559.5 437.5h-6.3M96.5 414.5h6.3M559.5 414.5h-6.3M96.5 396.5h6.3M559.5 396.5h-6.3M96.5 381.5h6.3M559.5 381.5h-6.3M96.5 367.5h6.3M559.5 367.5h-6.3M96.5 355.5h6.3M559.5 355.5h-6.3M96.5 345.5h11.3M559.5 345.5h-11.3M96.5 275.5h6.3M559.5 275.5h-6.3M96.5 234.5h6.3M559.5 234.5h-6.3M96.5 205.5h6.3M559.5 205.5h-6.3M96.5 183.5h6.3M559.5 183.5h-6.3M96.5 164.5h6.3M559.5 164.5h-6.3M96.5 149.5h6.3M559.5 149.5h-6.3M96.5 135.5h6.3M559.5 135.5h-6.3M96.5 124.5h6.3M559.5 124.5h-6.3" stroke="#262626" stroke-width="1.1" fill="none"/>
<text x="85.5" y="586.6" text-anchor="end" style="font-family:'Liberation Serif',serif;font-size:28.5px" fill="#262626">10</text>
<text x="85.5" y="354.8" text-anchor="end" style="font-family:'Liberation Serif',serif;font-size:28.5px" fill="#262626">100</text>
<text x="85.5" y="123" text-anchor="end" style="font-family:'Liberation Serif',serif;font-size:28.5px" fill="#262626">1000</text>
<text x="94.5" y="621" text-anchor="middle" style="font-family:'Liberation Serif',serif;font-size:28.5px" fill="#262626">10<tspan dy="-15" style="font-size:22.5px">-4</tspan></text>
<text x="266.5" y="621" text-anchor="middle" style="font-family:'Liberation Serif',serif;font-size:28.5px" fill="#262626">10<tspan dy="-15" style="font-size:22.5px">-3</tspan></text>
<text x="438.5" y="621" text-anchor="middle" style="font-family:'Liberation Serif',serif;font-size:28.5px" fill="#262626">10<tspan dy="-15" style="font-size:22.5px">-2</tspan></text>
<text x="232" y="670" style="font-family:'Liberation Serif',serif;font-size:31.5px" fill="#262626"><tspan style="font-style:italic">b</tspan><tspan dx="3" dy="14.5" style="font-style:italic;font-size:24px">bp</tspan><tspan dy="-14.5">(470) [m</tspan><tspan dy="-16" style="font-size:25px">-1</tspan><tspan dx="3" dy="16">]</tspan></text>
<text transform="translate(32.9,345.5) rotate(-90)" text-anchor="middle" style="font-family:'Liberation Serif',serif;font-size:31.5px" fill="#262626">POC [mg m<tspan dy="-16" style="font-size:24px">-3</tspan><tspan dy="16">]</tspan></text>
<rect x="576.5" y="113.5" width="41" height="464" fill="url(#cbgrad)" stroke="#262626" stroke-width="1.1"/>
<path d="M617.5 143.5h-4.7" stroke="#262626" stroke-width="1.1"/>
<text x="630" y="151.8" style="font-family:'Liberation Serif',serif;font-size:25px" fill="#262626">1000</text>
<path d="M617.5 310.5h-4.7" stroke="#262626" stroke-width="1.1"/>
<text x="630" y="319.1" style="font-family:'Liberation Serif',serif;font-size:25px" fill="#262626">100</text>
<path d="M617.5 478.5h-4.7" stroke="#262626" stroke-width="1.1"/>
<text x="630" y="486.4" style="font-family:'Liberation Serif',serif;font-size:25px" fill="#262626">10</text>
<text x="581.5" y="93" style="font-family:'Liberation Serif',serif;font-size:26.5px" fill="#262626">&#962; [mg m <tspan dy="-13" style="font-size:22px">-2</tspan><tspan dy="13">]</tspan></text>
<polygon points="125.5,137.6 116.8,152.6 134.2,152.6" fill="none" stroke="#000" stroke-width="1.30" stroke-linejoin="miter"/>
<text x="152.3" y="151.3" style="font-family:'Liberation Serif',serif;font-size:20.3px" fill="#000">NP ICE</text>
<polygon points="125.5,164.7 127.3,170.2 133.1,170.2 128.4,173.6 130.2,179.2 125.5,175.8 120.8,179.2 122.6,173.6 117.9,170.2 123.7,170.2" fill="none" stroke="#000" stroke-width="1.30"/>
<text x="152.3" y="177.3" style="font-family:'Liberation Serif',serif;font-size:20.3px" fill="#000">SPSS</text>
<polygon points="125.5,188.8 133.3,199.1 125.5,209.4 117.7,199.1" fill="none" stroke="#000" stroke-width="1.30"/>
<text x="152.3" y="203.4" style="font-family:'Liberation Serif',serif;font-size:20.3px" fill="#000">STSS</text>
<rect x="120.5" y="220.1" width="10" height="10" fill="none" stroke="#000" stroke-width="1.30"/>
<text x="152.3" y="229.4" style="font-family:'Liberation Serif',serif;font-size:20.3px" fill="#000">EQU</text>
<circle cx="125.5" cy="251.2" r="7.6" fill="none" stroke="#000" stroke-width="1.30"/>
<text x="152.3" y="255.5" style="font-family:'Liberation Serif',serif;font-size:20.3px" fill="#000">STPS</text>
<polygon points="125.5,286.9 116.8,271.9 134.2,271.9" fill="none" stroke="#000" stroke-width="1.30"/>
<text x="152.3" y="281.6" style="font-family:'Liberation Serif',serif;font-size:20.3px" fill="#000">SO ICE</text>
<text x="6.2" y="759" style="font-family:'Liberation Sans',sans-serif;font-weight:bold;font-size:29.5px" fill="#000">C</text>
<text x="327.6" y="826.4" text-anchor="middle" style="font-family:'Liberation Serif',serif;font-weight:bold;font-size:28.7px" fill="#000">Model A</text>
<g clip-path="url(#clipA724)">
<polygon points="425.7,848.1 417,863.1 434.4,863.1" fill="#CF9242" stroke="#000" stroke-width="1.25" stroke-linejoin="miter"/>
<polygon points="415.6,858.5 406.9,873.5 424.3,873.5" fill="#FCB3B1" stroke="#000" stroke-width="1.25" stroke-linejoin="miter"/>
<polygon points="418.3,877 409.6,892 427,892" fill="#CF9242" stroke="#000" stroke-width="1.25" stroke-linejoin="miter"/>
<polygon points="425.7,871.8 417,886.8 434.4,886.8" fill="#FBC6E9" stroke="#000" stroke-width="1.25" stroke-linejoin="miter"/>
<polygon points="456.9,863.5 448.2,878.5 465.6,878.5" fill="#FCB3B1" stroke="#000" stroke-width="1.25" stroke-linejoin="miter"/>
<polygon points="456.9,850.6 448.2,865.6 465.6,865.6" fill="#FCB3B1" stroke="#000" stroke-width="1.25" stroke-linejoin="miter"/>
<polygon points="522.9,863.5 514.2,878.5 531.6,878.5" fill="#FCB3B1" stroke="#000" stroke-width="1.25" stroke-linejoin="miter"/>
<polygon points="397.2,914.3 388.5,929.3 405.9,929.3" fill="#FCB3B1" stroke="#000" stroke-width="1.25" stroke-linejoin="miter"/>
<polygon points="478.9,900.2 470.2,915.2 487.6,915.2" fill="#F8A17C" stroke="#000" stroke-width="1.25" stroke-linejoin="miter"/>
<polygon points="494.5,893.8 485.8,908.8 503.2,908.8" fill="#FCB3B1" stroke="#000" stroke-width="1.25" stroke-linejoin="miter"/>
<polygon points="385.3,942.5 376.6,957.5 394,957.5" fill="#FCB3B1" stroke="#000" stroke-width="1.25" stroke-linejoin="miter"/>
<polygon points="445,947.1 436.3,962.1 453.7,962.1" fill="#3B6C56" stroke="#000" stroke-width="1.25" stroke-linejoin="miter"/>
<polygon points="431.2,954.1 422.5,969.1 439.9,969.1" fill="#F8A17C" stroke="#000" stroke-width="1.25" stroke-linejoin="miter"/>
<polygon points="435.8,962.6 427.1,947.6 444.5,947.6" fill="#9A882C" stroke="#000" stroke-width="1.25"/>
<polygon points="480.7,951.7 472,966.7 489.4,966.7" fill="#9A882C" stroke="#000" stroke-width="1.25" stroke-linejoin="miter"/>
<polygon points="483.5,961.2 474.8,976.2 492.2,976.2" fill="#F8A17C" stroke="#000" stroke-width="1.25" stroke-linejoin="miter"/>
<polygon points="446.8,967 438.1,982 455.5,982" fill="#1C5962" stroke="#000" stroke-width="1.25" stroke-linejoin="miter"/>
<polygon points="417.4,981.7 408.7,996.7 426.1,996.7" fill="#CF9242" stroke="#000" stroke-width="1.25" stroke-linejoin="miter"/>
<polygon points="416.5,966.6 407.8,981.6 425.2,981.6" fill="#CF9242" stroke="#000" stroke-width="1.25" stroke-linejoin="miter"/>
<polygon points="429.4,973.5 420.7,988.5 438.1,988.5" fill="#FCB3B1" stroke="#000" stroke-width="1.25" stroke-linejoin="miter"/>
<polygon points="430.3,984.7 421.6,999.7 439,999.7" fill="#CF9242" stroke="#000" stroke-width="1.25" stroke-linejoin="miter"/>
<polygon points="503.7,984.7 495,999.7 512.4,999.7" fill="#CF9242" stroke="#000" stroke-width="1.25" stroke-linejoin="miter"/>
<polygon points="541.3,994.7 532.6,1009.7 550,1009.7" fill="#1C5962" stroke="#000" stroke-width="1.25" stroke-linejoin="miter"/>
<polygon points="438.5,998.2 429.8,1013.2 447.2,1013.2" fill="#9A882C" stroke="#000" stroke-width="1.25" stroke-linejoin="miter"/>
<polygon points="431.2,1012.3 422.5,1027.3 439.9,1027.3" fill="#1C5962" stroke="#000" stroke-width="1.25" stroke-linejoin="miter"/>
<polygon points="453.2,1019.2 444.5,1034.2 461.9,1034.2" fill="#3B6C56" stroke="#000" stroke-width="1.25" stroke-linejoin="miter"/>
<polygon points="481.7,1028 473,1043 490.4,1043" fill="#3B6C56" stroke="#000" stroke-width="1.25" stroke-linejoin="miter"/>
<polygon points="471.6,1029.3 462.9,1044.3 480.3,1044.3" fill="#1C5962" stroke="#000" stroke-width="1.25" stroke-linejoin="miter"/>
<polygon points="478,994.7 469.3,1009.7 486.7,1009.7" fill="#1C5962" stroke="#000" stroke-width="1.25" stroke-linejoin="miter"/>
<polygon points="476.1,1016.6 467.4,1031.6 484.8,1031.6" fill="#1C5962" stroke="#000" stroke-width="1.25" stroke-linejoin="miter"/>
<polygon points="470.6,1021.2 461.9,1036.2 479.3,1036.2" fill="#1C5962" stroke="#000" stroke-width="1.25" stroke-linejoin="miter"/>
<polygon points="490.8,1009.5 482.1,1024.5 499.5,1024.5" fill="#114160" stroke="#000" stroke-width="1.25" stroke-linejoin="miter"/>
<polygon points="501.8,1015.3 493.1,1030.3 510.5,1030.3" fill="#114160" stroke="#000" stroke-width="1.25" stroke-linejoin="miter"/>
<polygon points="509.2,1013 500.5,1028 517.9,1028" fill="#1C5962" stroke="#000" stroke-width="1.25" stroke-linejoin="miter"/>
<polygon points="538.5,1043.4 529.8,1058.4 547.2,1058.4" fill="#04205A" stroke="#000" stroke-width="1.25" stroke-linejoin="miter"/>
<polygon points="523.9,1048.5 515.2,1063.5 532.6,1063.5" fill="#1C5962" stroke="#000" stroke-width="1.25" stroke-linejoin="miter"/>
<polygon points="454.1,1048.5 445.4,1063.5 462.8,1063.5" fill="#114160" stroke="#000" stroke-width="1.25" stroke-linejoin="miter"/>
<polygon points="307.3,973.6 298.6,988.6 316,988.6" fill="#CF9242" stroke="#000" stroke-width="1.25" stroke-linejoin="miter"/>
<polygon points="339.4,961.2 330.7,976.2 348.1,976.2" fill="#FCB3B1" stroke="#000" stroke-width="1.25" stroke-linejoin="miter"/>
<polygon points="348.6,969.1 339.9,954.1 357.3,954.1" fill="#F8A17C" stroke="#000" stroke-width="1.25"/>
<polygon points="360.6,959.6 351.9,974.6 369.3,974.6" fill="#9A882C" stroke="#000" stroke-width="1.25" stroke-linejoin="miter"/>
<polygon points="360.6,960.1 351.9,975.1 369.3,975.1" fill="#FBC6E9" stroke="#000" stroke-width="1.25" stroke-linejoin="miter"/>
<circle cx="355" cy="970.8" r="7" fill="#F8A17C" stroke="#000" stroke-width="1.25"/>
<circle cx="341.3" cy="982.7" r="7" fill="#F8A17C" stroke="#000" stroke-width="1.25"/>
<polygon points="377.1,967 368.4,982 385.8,982" fill="#CF9242" stroke="#000" stroke-width="1.25" stroke-linejoin="miter"/>
<polygon points="375.2,980.1 366.5,995.1 383.9,995.1" fill="#FCB3B1" stroke="#000" stroke-width="1.25" stroke-linejoin="miter"/>
<polygon points="349.5,985.6 340.8,1000.6 358.2,1000.6" fill="#9A882C" stroke="#000" stroke-width="1.25" stroke-linejoin="miter"/>
<polygon points="362.4,985.6 353.7,1000.6 371.1,1000.6" fill="#9A882C" stroke="#000" stroke-width="1.25" stroke-linejoin="miter"/>
<polygon points="316.5,991.5 307.8,1006.5 325.2,1006.5" fill="#CF9242" stroke="#000" stroke-width="1.25" stroke-linejoin="miter"/>
<polygon points="322,987.1 313.3,1002.1 330.7,1002.1" fill="#F8A17C" stroke="#000" stroke-width="1.25" stroke-linejoin="miter"/>
<circle cx="334.9" cy="1002.9" r="7" fill="#F8A17C" stroke="#000" stroke-width="1.25"/>
<polygon points="307.3,997.8 298.6,1012.8 316,1012.8" fill="#667A3F" stroke="#000" stroke-width="1.25" stroke-linejoin="miter"/>
<polygon points="373.4,1000.5 364.7,1015.5 382.1,1015.5" fill="#3B6C56" stroke="#000" stroke-width="1.25" stroke-linejoin="miter"/>
<polygon points="348.6,1001.7 339.9,1016.7 357.3,1016.7" fill="#CF9242" stroke="#000" stroke-width="1.25" stroke-linejoin="miter"/>
<polygon points="398.2,1000.5 389.5,1015.5 406.9,1015.5" fill="#CF9242" stroke="#000" stroke-width="1.25" stroke-linejoin="miter"/>
<polygon points="325.7,1010.5 333.1,1020.3 325.7,1030.1 318.3,1020.3" fill="#F8A17C" stroke="#000" stroke-width="1.25"/>
<polygon points="307.3,1016 314.7,1025.8 307.3,1035.6 299.9,1025.8" fill="#F8A17C" stroke="#000" stroke-width="1.25"/>
<circle cx="337.6" cy="1027.6" r="7" fill="#F8A17C" stroke="#000" stroke-width="1.25"/>
<polygon points="353.2,1020.7 344.5,1035.7 361.9,1035.7" fill="#F8A17C" stroke="#000" stroke-width="1.25" stroke-linejoin="miter"/>
<circle cx="363.3" cy="1024.9" r="7" fill="#F8A17C" stroke="#000" stroke-width="1.25"/>
<polygon points="384.4,1025.2 375.7,1040.2 393.1,1040.2" fill="#9A882C" stroke="#000" stroke-width="1.25" stroke-linejoin="miter"/>
<polygon points="303.7,1028.9 311.1,1038.7 303.7,1048.5 296.3,1038.7" fill="#F8A17C" stroke="#000" stroke-width="1.25"/>
<polygon points="314.7,1035.5 306,1050.5 323.4,1050.5" fill="#9A882C" stroke="#000" stroke-width="1.25" stroke-linejoin="miter"/>
<polygon points="344,1031.8 335.3,1046.8 352.7,1046.8" fill="#9A882C" stroke="#000" stroke-width="1.25" stroke-linejoin="miter"/>
<circle cx="331.2" cy="1042.3" r="7" fill="#F8A17C" stroke="#000" stroke-width="1.25"/>
<polygon points="376.1,1032.7 367.4,1047.7 384.8,1047.7" fill="#1C5962" stroke="#000" stroke-width="1.25" stroke-linejoin="miter"/>
<polygon points="386.2,1050.5 377.5,1035.5 394.9,1035.5" fill="#9A882C" stroke="#000" stroke-width="1.25"/>
<polygon points="393.6,1040.7 384.9,1055.7 402.3,1055.7" fill="#1C5962" stroke="#000" stroke-width="1.25" stroke-linejoin="miter"/>
<polygon points="364.2,1033.3 355.5,1048.3 372.9,1048.3" fill="#9A882C" stroke="#000" stroke-width="1.25" stroke-linejoin="miter"/>
<circle cx="312.8" cy="1056.1" r="7" fill="#9A882C" stroke="#000" stroke-width="1.25"/>
<polygon points="339.4,1045.7 330.7,1060.7 348.1,1060.7" fill="#667A3F" stroke="#000" stroke-width="1.25" stroke-linejoin="miter"/>
<polygon points="356,1048.5 347.3,1063.5 364.7,1063.5" fill="#667A3F" stroke="#000" stroke-width="1.25" stroke-linejoin="miter"/>
<polygon points="364.2,1050.1 355.5,1065.1 372.9,1065.1" fill="#9A882C" stroke="#000" stroke-width="1.25" stroke-linejoin="miter"/>
<circle cx="333" cy="1066.2" r="7" fill="#F8A17C" stroke="#000" stroke-width="1.25"/>
<polygon points="271,1054.1 262.3,1069.1 279.7,1069.1" fill="#9A882C" stroke="#000" stroke-width="1.25" stroke-linejoin="miter"/>
<polygon points="284.8,1058.2 276.1,1073.2 293.5,1073.2" fill="#CF9242" stroke="#000" stroke-width="1.25" stroke-linejoin="miter"/>
<polygon points="288.4,1061.4 279.7,1076.4 297.1,1076.4" fill="#F8A17C" stroke="#000" stroke-width="1.25" stroke-linejoin="miter"/>
<polygon points="280.2,1073.3 287.6,1083.1 280.2,1092.9 272.8,1083.1" fill="#F8A17C" stroke="#000" stroke-width="1.25"/>
<polygon points="268.3,1087.1 275.7,1096.9 268.3,1106.7 260.9,1096.9" fill="#F8A17C" stroke="#000" stroke-width="1.25"/>
<polygon points="282,1085.2 289.4,1095 282,1104.8 274.6,1095" fill="#CF9242" stroke="#000" stroke-width="1.25"/>
<polygon points="292.1,1075.6 283.4,1090.6 300.8,1090.6" fill="#CF9242" stroke="#000" stroke-width="1.25" stroke-linejoin="miter"/>
<polygon points="301.3,1049 292.6,1064 310,1064" fill="#9A882C" stroke="#000" stroke-width="1.25" stroke-linejoin="miter"/>
<circle cx="312.3" cy="1057.4" r="7" fill="#9A882C" stroke="#000" stroke-width="1.25"/>
<polygon points="301.3,1060.5 292.6,1075.5 310,1075.5" fill="#667A3F" stroke="#000" stroke-width="1.25" stroke-linejoin="miter"/>
<polygon points="305.9,1071.4 307.7,1076.9 313.5,1076.9 308.8,1080.3 310.6,1085.9 305.9,1082.5 301.2,1085.9 303,1080.3 298.3,1076.9 304.1,1076.9" fill="#9A882C" stroke="#000" stroke-width="1.25"/>
<polygon points="317.8,1071.5 309.1,1086.5 326.5,1086.5" fill="#9A882C" stroke="#000" stroke-width="1.25" stroke-linejoin="miter"/>
<circle cx="333.4" cy="1071.2" r="7" fill="#F8A17C" stroke="#000" stroke-width="1.25"/>
<polygon points="332.5,1073.8 323.8,1088.8 341.2,1088.8" fill="#1C5962" stroke="#000" stroke-width="1.25" stroke-linejoin="miter"/>
<polygon points="344.4,1070.1 335.7,1085.1 353.1,1085.1" fill="#9A882C" stroke="#000" stroke-width="1.25" stroke-linejoin="miter"/>
<polygon points="372.8,1070.6 364.1,1085.6 381.5,1085.6" fill="#9A882C" stroke="#000" stroke-width="1.25" stroke-linejoin="miter"/>
<polygon points="364.6,1056.4 355.9,1071.4 373.3,1071.4" fill="#9A882C" stroke="#000" stroke-width="1.25" stroke-linejoin="miter"/>
<polygon points="347.2,1056.4 338.5,1071.4 355.9,1071.4" fill="#9A882C" stroke="#000" stroke-width="1.25" stroke-linejoin="miter"/>
<polygon points="393,1044.9 384.3,1059.9 401.7,1059.9" fill="#1C5962" stroke="#000" stroke-width="1.25" stroke-linejoin="miter"/>
<polygon points="355.4,1080.2 346.7,1095.2 364.1,1095.2" fill="#667A3F" stroke="#000" stroke-width="1.25" stroke-linejoin="miter"/>
<polygon points="325.1,1078.4 316.4,1093.4 333.8,1093.4" fill="#9A882C" stroke="#000" stroke-width="1.25" stroke-linejoin="miter"/>
<polygon points="400.4,1096.3 391.7,1111.3 409.1,1111.3" fill="#1C5962" stroke="#000" stroke-width="1.25" stroke-linejoin="miter"/>
<polygon points="342.6,1102.2 333.9,1117.2 351.3,1117.2" fill="#9A882C" stroke="#000" stroke-width="1.25" stroke-linejoin="miter"/>
<polygon points="360.9,1100.4 352.2,1115.4 369.6,1115.4" fill="#1C5962" stroke="#000" stroke-width="1.25" stroke-linejoin="miter"/>
<polygon points="302.2,1102.7 293.5,1117.7 310.9,1117.7" fill="#9A882C" stroke="#000" stroke-width="1.25" stroke-linejoin="miter"/>
<polygon points="314.1,1115.1 305.4,1130.1 322.8,1130.1" fill="#3B6C56" stroke="#000" stroke-width="1.25" stroke-linejoin="miter"/>
<polygon points="318.7,1111.9 310,1126.9 327.4,1126.9" fill="#1C5962" stroke="#000" stroke-width="1.25" stroke-linejoin="miter"/>
<polygon points="332.5,1118.3 323.8,1133.3 341.2,1133.3" fill="#9A882C" stroke="#000" stroke-width="1.25" stroke-linejoin="miter"/>
<polygon points="339.8,1121.5 331.1,1136.5 348.5,1136.5" fill="#1C5962" stroke="#000" stroke-width="1.25" stroke-linejoin="miter"/>
<polygon points="353.6,1125.6 344.9,1140.6 362.3,1140.6" fill="#114160" stroke="#000" stroke-width="1.25" stroke-linejoin="miter"/>
<polygon points="320.6,1142.1 311.9,1157.1 329.3,1157.1" fill="#667A3F" stroke="#000" stroke-width="1.25" stroke-linejoin="miter"/>
<polygon points="328.8,1142.6 320.1,1157.6 337.5,1157.6" fill="#1C5962" stroke="#000" stroke-width="1.25" stroke-linejoin="miter"/>
<polygon points="335.2,1143.1 326.5,1158.1 343.9,1158.1" fill="#1C5962" stroke="#000" stroke-width="1.25" stroke-linejoin="miter"/>
<circle cx="295.8" cy="1125.3" r="7" fill="#667A3F" stroke="#000" stroke-width="1.25"/>
<polygon points="288.4,1129.2 290.2,1134.7 296,1134.7 291.3,1138.1 293.1,1143.7 288.4,1140.3 283.7,1143.7 285.5,1138.1 280.8,1134.7 286.6,1134.7" fill="#9A882C" stroke="#000" stroke-width="1.25"/>
<rect x="289.9" y="1146" width="10" height="10" fill="#9A882C" stroke="#000" stroke-width="1.25"/>
<circle cx="234.3" cy="1106.1" r="7" fill="#9A882C" stroke="#000" stroke-width="1.25"/>
<polygon points="251.7,1102.7 259.1,1112.5 251.7,1122.3 244.3,1112.5" fill="#CF9242" stroke="#000" stroke-width="1.25"/>
<polygon points="243.5,1114.6 250.9,1124.4 243.5,1134.2 236.1,1124.4" fill="#CF9242" stroke="#000" stroke-width="1.25"/>
<circle cx="249.9" cy="1126.2" r="7" fill="#9A882C" stroke="#000" stroke-width="1.25"/>
<rect x="264.2" y="1116.7" width="10" height="10" fill="#CF9242" stroke="#000" stroke-width="1.25"/>
<polygon points="262.8,1107.7 254.1,1122.7 271.5,1122.7" fill="#CF9242" stroke="#000" stroke-width="1.25" stroke-linejoin="miter"/>
<circle cx="278.3" cy="1106.1" r="7" fill="#B28D35" stroke="#000" stroke-width="1.25"/>
<circle cx="220.6" cy="1129.9" r="7" fill="#9A882C" stroke="#000" stroke-width="1.25"/>
<circle cx="228.8" cy="1134.5" r="7" fill="#667A3F" stroke="#000" stroke-width="1.25"/>
<circle cx="219.6" cy="1146.4" r="7" fill="#F8A17C" stroke="#000" stroke-width="1.25"/>
<rect x="231.1" y="1139.6" width="10" height="10" fill="#CF9242" stroke="#000" stroke-width="1.25"/>
<circle cx="240.7" cy="1148.3" r="7" fill="#9A882C" stroke="#000" stroke-width="1.25"/>
<rect x="246.7" y="1134.1" width="10" height="10" fill="#CF9242" stroke="#000" stroke-width="1.25"/>
<circle cx="270.1" cy="1143.7" r="7" fill="#9A882C" stroke="#000" stroke-width="1.25"/>
<circle cx="266.4" cy="1148.3" r="7" fill="#667A3F" stroke="#000" stroke-width="1.25"/>
<circle cx="213.2" cy="1153.8" r="7" fill="#667A3F" stroke="#000" stroke-width="1.25"/>
<circle cx="208.6" cy="1167.5" r="7" fill="#9A882C" stroke="#000" stroke-width="1.25"/>
<circle cx="219.6" cy="1166.6" r="7" fill="#9A882C" stroke="#000" stroke-width="1.25"/>
<circle cx="216.9" cy="1173" r="7" fill="#9A882C" stroke="#000" stroke-width="1.25"/>
<circle cx="233.4" cy="1168.4" r="7" fill="#9A882C" stroke="#000" stroke-width="1.25"/>
<circle cx="252.7" cy="1172.1" r="7" fill="#9A882C" stroke="#000" stroke-width="1.25"/>
<rect x="255" y="1149.7" width="10" height="10" fill="#9A882C" stroke="#000" stroke-width="1.25"/>
<circle cx="268.3" cy="1161.1" r="7" fill="#9A882C" stroke="#000" stroke-width="1.25"/>
<polygon points="275.6,1162.8 266.9,1177.8 284.3,1177.8" fill="#9A882C" stroke="#000" stroke-width="1.25" stroke-linejoin="miter"/>
<circle cx="228.8" cy="1179.4" r="7" fill="#667A3F" stroke="#000" stroke-width="1.25"/>
<circle cx="218.7" cy="1184" r="7" fill="#F8A17C" stroke="#000" stroke-width="1.25"/>
<circle cx="214.1" cy="1194.1" r="7" fill="#9A882C" stroke="#000" stroke-width="1.25"/>
<circle cx="229.7" cy="1191.4" r="7" fill="#9A882C" stroke="#000" stroke-width="1.25"/>
<polygon points="251.7,1185.7 243,1200.7 260.4,1200.7" fill="#9A882C" stroke="#000" stroke-width="1.25" stroke-linejoin="miter"/>
<circle cx="241.7" cy="1197.8" r="7" fill="#667A3F" stroke="#000" stroke-width="1.25"/>
<circle cx="264.6" cy="1187.7" r="7" fill="#3B6C56" stroke="#000" stroke-width="1.25"/>
<polygon points="199.4,1190.3 190.7,1205.3 208.1,1205.3" fill="#9A882C" stroke="#000" stroke-width="1.25" stroke-linejoin="miter"/>
<polygon points="293.9,1184.8 285.2,1199.8 302.6,1199.8" fill="#1C5962" stroke="#000" stroke-width="1.25" stroke-linejoin="miter"/>
<polygon points="293.9,1208.6 285.2,1223.6 302.6,1223.6" fill="#CF9242" stroke="#000" stroke-width="1.25" stroke-linejoin="miter"/>
<polygon points="243.5,1204.1 234.8,1219.1 252.2,1219.1" fill="#1C5962" stroke="#000" stroke-width="1.25" stroke-linejoin="miter"/>
<polygon points="251.7,1210.5 243,1225.5 260.4,1225.5" fill="#3B6C56" stroke="#000" stroke-width="1.25" stroke-linejoin="miter"/>
<circle cx="216.9" cy="1216.1" r="7" fill="#9A882C" stroke="#000" stroke-width="1.25"/>
<circle cx="208.6" cy="1223.5" r="7" fill="#9A882C" stroke="#000" stroke-width="1.25"/>
<circle cx="198.5" cy="1224.4" r="7" fill="#667A3F" stroke="#000" stroke-width="1.25"/>
<circle cx="227" cy="1219.8" r="7" fill="#667A3F" stroke="#000" stroke-width="1.25"/>
<polygon points="185.7,1220.6 177,1235.6 194.4,1235.6" fill="#9A882C" stroke="#000" stroke-width="1.25" stroke-linejoin="miter"/>
<polygon points="233.4,1221.5 224.7,1236.5 242.1,1236.5" fill="#667A3F" stroke="#000" stroke-width="1.25" stroke-linejoin="miter"/>
<polygon points="218.7,1228.8 210,1243.8 227.4,1243.8" fill="#9A882C" stroke="#000" stroke-width="1.25" stroke-linejoin="miter"/>
<circle cx="201.3" cy="1237.2" r="7" fill="#667A3F" stroke="#000" stroke-width="1.25"/>
<circle cx="227" cy="1234.5" r="7" fill="#667A3F" stroke="#000" stroke-width="1.25"/>
<polygon points="179.3,1249.9 170.6,1264.9 188,1264.9" fill="#9A882C" stroke="#000" stroke-width="1.25" stroke-linejoin="miter"/>
<circle cx="192.1" cy="1248.3" r="7" fill="#667A3F" stroke="#000" stroke-width="1.25"/>
<polygon points="199.4,1249 190.7,1264 208.1,1264" fill="#667A3F" stroke="#000" stroke-width="1.25" stroke-linejoin="miter"/>
<circle cx="181.1" cy="1261.1" r="7" fill="#3B6C56" stroke="#000" stroke-width="1.25"/>
<circle cx="190.3" cy="1265.7" r="7" fill="#667A3F" stroke="#000" stroke-width="1.25"/>
<circle cx="208.6" cy="1265.7" r="7" fill="#667A3F" stroke="#000" stroke-width="1.25"/>
<polygon points="184.8,1280.7 176.1,1295.7 193.5,1295.7" fill="#9A882C" stroke="#000" stroke-width="1.25" stroke-linejoin="miter"/>
<polygon points="297.5,1005.1 288.8,1020.1 306.2,1020.1" fill="#667A3F" stroke="#000" stroke-width="1.25" stroke-linejoin="miter"/>
<polygon points="315.9,993.1 307.2,1008.1 324.6,1008.1" fill="#CF9242" stroke="#000" stroke-width="1.25" stroke-linejoin="miter"/>
<polygon points="322.2,985.7 313.5,1000.7 330.9,1000.7" fill="#FCB3B1" stroke="#000" stroke-width="1.25" stroke-linejoin="miter"/>
<polygon points="350.2,988.7 341.5,1003.7 358.9,1003.7" fill="#9A882C" stroke="#000" stroke-width="1.25" stroke-linejoin="miter"/>
<polygon points="325.4,1012.1 332.8,1021.9 325.4,1031.7 318,1021.9" fill="#FCB3B1" stroke="#000" stroke-width="1.25"/>
<polygon points="301.9,1028 309.3,1037.8 301.9,1047.6 294.5,1037.8" fill="#FCB3B1" stroke="#000" stroke-width="1.25"/>
<polygon points="352.7,1019.8 344,1034.8 361.4,1034.8" fill="#F8A17C" stroke="#000" stroke-width="1.25" stroke-linejoin="miter"/>
<polygon points="383.2,1019.3 374.5,1034.3 391.9,1034.3" fill="#9A882C" stroke="#000" stroke-width="1.25" stroke-linejoin="miter"/>
<polygon points="315.9,1030.1 307.2,1045.1 324.6,1045.1" fill="#9A882C" stroke="#000" stroke-width="1.25" stroke-linejoin="miter"/>
<polygon points="300.7,1046.7 292,1061.7 309.4,1061.7" fill="#9A882C" stroke="#000" stroke-width="1.25" stroke-linejoin="miter"/>
<polygon points="342.6,1043.6 333.9,1058.6 351.3,1058.6" fill="#667A3F" stroke="#000" stroke-width="1.25" stroke-linejoin="miter"/>
<polygon points="354,1037.8 345.3,1052.8 362.7,1052.8" fill="#9A882C" stroke="#000" stroke-width="1.25" stroke-linejoin="miter"/>
<polygon points="364.2,1038.3 355.5,1053.3 372.9,1053.3" fill="#9A882C" stroke="#000" stroke-width="1.25" stroke-linejoin="miter"/>
<polygon points="288,1058.6 279.3,1073.6 296.7,1073.6" fill="#F8A17C" stroke="#000" stroke-width="1.25" stroke-linejoin="miter"/>
<polygon points="303.2,1058.5 294.5,1073.5 311.9,1073.5" fill="#667A3F" stroke="#000" stroke-width="1.25" stroke-linejoin="miter"/>
<polygon points="310.8,1061.1 302.1,1076.1 319.5,1076.1" fill="#667A3F" stroke="#000" stroke-width="1.25" stroke-linejoin="miter"/>
<polygon points="347.7,1069.1 339,1084.1 356.4,1084.1" fill="#9A882C" stroke="#000" stroke-width="1.25" stroke-linejoin="miter"/>
<polygon points="356.5,1076.1 347.8,1091.1 365.2,1091.1" fill="#3B6C56" stroke="#000" stroke-width="1.25" stroke-linejoin="miter"/>
<polygon points="435.3,1008.5 426.6,1023.5 444,1023.5" fill="#9A882C" stroke="#000" stroke-width="1.25" stroke-linejoin="miter"/>
<line x1="147.6" y1="1251.8" x2="540.5" y2="865.7" stroke="#000" stroke-width="4.6"/>
<rect x="312.4" y="1008.9" width="26" height="26" fill="none" stroke="#000" stroke-width="3.6"/>
<rect x="463.2" y="1005.1" width="26" height="26" fill="none" stroke="#000" stroke-width="3.6"/>
</g>
<rect x="96.5" y="838.5" width="463" height="463" fill="none" stroke="#262626" stroke-width="1.1"/>
<path d="M147.5 1301.5v-6.3M147.5 838.5v6.3M178.5 1301.5v-6.3M178.5 838.5v6.3M199.5 1301.5v-6.3M199.5 838.5v6.3M216.5 1301.5v-6.3M216.5 838.5v6.3M229.5 1301.5v-6.3M229.5 838.5v6.3M241.5 1301.5v-6.3M241.5 838.5v6.3M251.5 1301.5v-6.3M251.5 838.5v6.3M260.5 1301.5v-6.3M260.5 838.5v6.3M268.5 1301.5v-11.3M268.5 838.5v11.3M319.5 1301.5v-6.3M319.5 838.5v6.3M350.5 1301.5v-6.3M350.5 838.5v6.3M371.5 1301.5v-6.3M371.5 838.5v6.3M388.5 1301.5v-6.3M388.5 838.5v6.3M401.5 1301.5v-6.3M401.5 838.5v6.3M413.5 1301.5v-6.3M413.5 838.5v6.3M423.5 1301.5v-6.3M423.5 838.5v6.3M432.5 1301.5v-6.3M432.5 838.5v6.3M440.5 1301.5v-11.3M440.5 838.5v11.3M491.5 1301.5v-6.3M491.5 838.5v6.3M522.5 1301.5v-6.3M522.5 838.5v6.3M543.5 1301.5v-6.3M543.5 838.5v6.3M96.5 1231.5h6.3M559.5 1231.5h-6.3M96.5 1191.5h6.3M559.5 1191.5h-6.3M96.5 1162.5h6.3M559.5 1162.5h-6.3M96.5 1139.5h6.3M559.5 1139.5h-6.3M96.5 1121.5h6.3M559.5 1121.5h-6.3M96.5 1105.5h6.3M559.5 1105.5h-6.3M96.5 1092.5h6.3M559.5 1092.5h-6.3M96.5 1080.5h6.3M559.5 1080.5h-6.3M96.5 1069.5h11.3M559.5 1069.5h-11.3M96.5 1000.5h6.3M559.5 1000.5h-6.3M96.5 959.5h6.3M559.5 959.5h-6.3M96.5 930.5h6.3M559.5 930.5h-6.3M96.5 907.5h6.3M559.5 907.5h-6.3M96.5 889.5h6.3M559.5 889.5h-6.3M96.5 873.5h6.3M559.5 873.5h-6.3M96.5 860.5h6.3M559.5 860.5h-6.3M96.5 848.5h6.3M559.5 848.5h-6.3" stroke="#262626" stroke-width="1.1" fill="none"/>
<text x="85.5" y="1311.2" text-anchor="end" style="font-family:'Liberation Serif',serif;font-size:28.5px" fill="#262626">10</text>
<text x="85.5" y="1079.4" text-anchor="end" style="font-family:'Liberation Serif',serif;font-size:28.5px" fill="#262626">100</text>
<text x="85.5" y="847.6" text-anchor="end" style="font-family:'Liberation Serif',serif;font-size:28.5px" fill="#262626">1000</text>
<text x="94.5" y="1345.6" text-anchor="middle" style="font-family:'Liberation Serif',serif;font-size:28.5px" fill="#262626">10<tspan dy="-15" style="font-size:22.5px">-4</tspan></text>
<text x="266.5" y="1345.6" text-anchor="middle" style="font-family:'Liberation Serif',serif;font-size:28.5px" fill="#262626">10<tspan dy="-15" style="font-size:22.5px">-3</tspan></text>
<text x="438.5" y="1345.6" text-anchor="middle" style="font-family:'Liberation Serif',serif;font-size:28.5px" fill="#262626">10<tspan dy="-15" style="font-size:22.5px">-2</tspan></text>
<text x="232" y="1394.6" style="font-family:'Liberation Serif',serif;font-size:31.5px" fill="#262626"><tspan style="font-style:italic">b</tspan><tspan dx="3" dy="14.5" style="font-style:italic;font-size:24px">bp</tspan><tspan dy="-14.5">(550) [m</tspan><tspan dy="-16" style="font-size:25px">-1</tspan><tspan dx="3" dy="16">]</tspan></text>
<text transform="translate(32.9,1070.1) rotate(-90)" text-anchor="middle" style="font-family:'Liberation Serif',serif;font-size:31.5px" fill="#262626">POC [mg m<tspan dy="-16" style="font-size:24px">-3</tspan><tspan dy="16">]</tspan></text>
<rect x="576.5" y="838.5" width="41" height="463" fill="url(#cbgrad)" stroke="#262626" stroke-width="1.1"/>
<path d="M617.5 879.5h-4.7" stroke="#262626" stroke-width="1.1"/>
<text x="630" y="888" style="font-family:'Liberation Serif',serif;font-size:25px" fill="#262626">1000</text>
<path d="M617.5 1066.5h-4.7" stroke="#262626" stroke-width="1.1"/>
<text x="630" y="1075" style="font-family:'Liberation Serif',serif;font-size:25px" fill="#262626">100</text>
<path d="M617.5 1254.5h-4.7" stroke="#262626" stroke-width="1.1"/>
<text x="630" y="1262.4" style="font-family:'Liberation Serif',serif;font-size:25px" fill="#262626">10</text>
<text x="581.5" y="816.8" style="font-family:'Liberation Serif',serif;font-size:26.5px" fill="#262626">&#962;<tspan dx="10">[mg m</tspan><tspan dy="-13" style="font-size:22px">-2</tspan><tspan dy="13">]</tspan></text>
<polygon points="125.5,862.2 116.8,877.2 134.2,877.2" fill="none" stroke="#000" stroke-width="1.30" stroke-linejoin="miter"/>
<text x="152.3" y="875.9" style="font-family:'Liberation Serif',serif;font-size:20.3px" fill="#000">NP ICE</text>
<polygon points="125.5,889.3 127.3,894.8 133.1,894.8 128.4,898.2 130.2,903.8 125.5,900.4 120.8,903.8 122.6,898.2 117.9,894.8 123.7,894.8" fill="none" stroke="#000" stroke-width="1.30"/>
<text x="152.3" y="902" style="font-family:'Liberation Serif',serif;font-size:20.3px" fill="#000">SPSS</text>
<polygon points="125.5,913.4 133.3,923.7 125.5,934 117.7,923.7" fill="none" stroke="#000" stroke-width="1.30"/>
<text x="152.3" y="928" style="font-family:'Liberation Serif',serif;font-size:20.3px" fill="#000">STSS</text>
<rect x="120.5" y="944.7" width="10" height="10" fill="none" stroke="#000" stroke-width="1.30"/>
<text x="152.3" y="954.1" style="font-family:'Liberation Serif',serif;font-size:20.3px" fill="#000">EQU</text>
<circle cx="125.5" cy="975.8" r="7.6" fill="none" stroke="#000" stroke-width="1.30"/>
<text x="152.3" y="980.1" style="font-family:'Liberation Serif',serif;font-size:20.3px" fill="#000">STPS</text>
<polygon points="125.5,1011.5 116.8,996.5 134.2,996.5" fill="none" stroke="#000" stroke-width="1.30"/>
<text x="152.3" y="1006.2" style="font-family:'Liberation Serif',serif;font-size:20.3px" fill="#000">SO ICE</text>
<text x="6.2" y="1487" style="font-family:'Liberation Sans',sans-serif;font-weight:bold;font-size:29.5px" fill="#000">E</text>
<text x="327.6" y="1551" text-anchor="middle" style="font-family:'Liberation Serif',serif;font-weight:bold;font-size:28.7px" fill="#000">Model A</text>
<g clip-path="url(#clipA1449)">
<polygon points="411.7,1572.7 403,1587.7 420.4,1587.7" fill="#CF9242" stroke="#000" stroke-width="1.25" stroke-linejoin="miter"/>
<polygon points="403.7,1578.9 395,1593.9 412.4,1593.9" fill="#FCB3B1" stroke="#000" stroke-width="1.25" stroke-linejoin="miter"/>
<polygon points="402.9,1583.6 394.2,1598.6 411.6,1598.6" fill="#FCB3B1" stroke="#000" stroke-width="1.25" stroke-linejoin="miter"/>
<polygon points="399.8,1600.2 391.1,1615.2 408.5,1615.2" fill="#CF9242" stroke="#000" stroke-width="1.25" stroke-linejoin="miter"/>
<polygon points="402.1,1589.8 393.4,1604.8 410.8,1604.8" fill="#FBC6E9" stroke="#000" stroke-width="1.25" stroke-linejoin="miter"/>
<polygon points="413.7,1594.4 405,1609.4 422.4,1609.4" fill="#FBC6E9" stroke="#000" stroke-width="1.25" stroke-linejoin="miter"/>
<polygon points="439.4,1587.4 430.7,1602.4 448.1,1602.4" fill="#FCB3B1" stroke="#000" stroke-width="1.25" stroke-linejoin="miter"/>
<polygon points="439.4,1576.2 430.7,1591.2 448.1,1591.2" fill="#FCB3B1" stroke="#000" stroke-width="1.25" stroke-linejoin="miter"/>
<polygon points="474.3,1586.7 465.6,1601.7 483,1601.7" fill="#FCB3B1" stroke="#000" stroke-width="1.25" stroke-linejoin="miter"/>
<polygon points="511.6,1588.2 502.9,1603.2 520.3,1603.2" fill="#FCB3B1" stroke="#000" stroke-width="1.25" stroke-linejoin="miter"/>
<polygon points="503,1606.1 494.3,1621.1 511.7,1621.1" fill="#F8A17C" stroke="#000" stroke-width="1.25" stroke-linejoin="miter"/>
<polygon points="428.5,1610.3 419.8,1625.3 437.2,1625.3" fill="#FBC6E9" stroke="#000" stroke-width="1.25" stroke-linejoin="miter"/>
<polygon points="438.6,1623.9 429.9,1638.9 447.3,1638.9" fill="#CF9242" stroke="#000" stroke-width="1.25" stroke-linejoin="miter"/>
<polygon points="485.9,1618.1 477.2,1633.1 494.6,1633.1" fill="#FCB3B1" stroke="#000" stroke-width="1.25" stroke-linejoin="miter"/>
<polygon points="479,1616.2 470.3,1631.2 487.7,1631.2" fill="#F8A17C" stroke="#000" stroke-width="1.25" stroke-linejoin="miter"/>
<polygon points="473.5,1627.4 464.8,1642.4 482.2,1642.4" fill="#F8A17C" stroke="#000" stroke-width="1.25" stroke-linejoin="miter"/>
<polygon points="384.6,1638.7 375.9,1653.7 393.3,1653.7" fill="#FCB3B1" stroke="#000" stroke-width="1.25" stroke-linejoin="miter"/>
<polygon points="361,1666.6 352.3,1681.6 369.7,1681.6" fill="#FCB3B1" stroke="#000" stroke-width="1.25" stroke-linejoin="miter"/>
<polygon points="386.6,1672 377.9,1687 395.3,1687" fill="#FBC6E9" stroke="#000" stroke-width="1.25" stroke-linejoin="miter"/>
<polygon points="411.4,1666.6 402.7,1681.6 420.1,1681.6" fill="#9A882C" stroke="#000" stroke-width="1.25" stroke-linejoin="miter"/>
<polygon points="431.6,1673.6 422.9,1688.6 440.3,1688.6" fill="#9A882C" stroke="#000" stroke-width="1.25" stroke-linejoin="miter"/>
<polygon points="420.7,1680.6 412,1695.6 429.4,1695.6" fill="#F8A17C" stroke="#000" stroke-width="1.25" stroke-linejoin="miter"/>
<polygon points="417.6,1687.8 408.9,1672.8 426.3,1672.8" fill="#9A882C" stroke="#000" stroke-width="1.25"/>
<polygon points="455.7,1674.4 447,1689.4 464.4,1689.4" fill="#9A882C" stroke="#000" stroke-width="1.25" stroke-linejoin="miter"/>
<polygon points="451.8,1685.2 443.1,1700.2 460.5,1700.2" fill="#CF9242" stroke="#000" stroke-width="1.25" stroke-linejoin="miter"/>
<polygon points="473.5,1682.5 464.8,1697.5 482.2,1697.5" fill="#F8A17C" stroke="#000" stroke-width="1.25" stroke-linejoin="miter"/>
<polygon points="481.3,1684.1 472.6,1699.1 490,1699.1" fill="#CF9242" stroke="#000" stroke-width="1.25" stroke-linejoin="miter"/>
<polygon points="496,1682.1 487.3,1697.1 504.7,1697.1" fill="#9A882C" stroke="#000" stroke-width="1.25" stroke-linejoin="miter"/>
<polygon points="524,1684.9 515.3,1699.9 532.7,1699.9" fill="#3B6C56" stroke="#000" stroke-width="1.25" stroke-linejoin="miter"/>
<polygon points="353.2,1690.7 344.5,1705.7 361.9,1705.7" fill="#F8A17C" stroke="#000" stroke-width="1.25" stroke-linejoin="miter"/>
<polygon points="378,1693.8 369.3,1708.8 386.7,1708.8" fill="#9A882C" stroke="#000" stroke-width="1.25" stroke-linejoin="miter"/>
<circle cx="367.2" cy="1705.2" r="7" fill="#FCB3B1" stroke="#000" stroke-width="1.25"/>
<circle cx="350.1" cy="1716" r="7" fill="#F8A17C" stroke="#000" stroke-width="1.25"/>
<polygon points="400.5,1704.7 391.8,1719.7 409.2,1719.7" fill="#CF9242" stroke="#000" stroke-width="1.25" stroke-linejoin="miter"/>
<polygon points="400.5,1693.8 391.8,1708.8 409.2,1708.8" fill="#F8A17C" stroke="#000" stroke-width="1.25" stroke-linejoin="miter"/>
<polygon points="414.5,1705 405.8,1720 423.2,1720" fill="#FCB3B1" stroke="#000" stroke-width="1.25" stroke-linejoin="miter"/>
<polygon points="436.3,1695.3 427.6,1710.3 445,1710.3" fill="#1C5962" stroke="#000" stroke-width="1.25" stroke-linejoin="miter"/>
<polygon points="496,1703.9 487.3,1718.9 504.7,1718.9" fill="#CF9242" stroke="#000" stroke-width="1.25" stroke-linejoin="miter"/>
<polygon points="496.8,1695.3 488.1,1710.3 505.5,1710.3" fill="#9A882C" stroke="#000" stroke-width="1.25" stroke-linejoin="miter"/>
<polygon points="479,1716.3 470.3,1731.3 487.7,1731.3" fill="#F8A17C" stroke="#000" stroke-width="1.25" stroke-linejoin="miter"/>
<polygon points="479,1705.4 470.3,1720.4 487.7,1720.4" fill="#9A882C" stroke="#000" stroke-width="1.25" stroke-linejoin="miter"/>
<polygon points="513.1,1707.8 504.4,1722.8 521.8,1722.8" fill="#9A882C" stroke="#000" stroke-width="1.25" stroke-linejoin="miter"/>
<polygon points="501.5,1715.5 492.8,1730.5 510.2,1730.5" fill="#667A3F" stroke="#000" stroke-width="1.25" stroke-linejoin="miter"/>
<polygon points="490.6,1714.7 481.9,1729.7 499.3,1729.7" fill="#3B6C56" stroke="#000" stroke-width="1.25" stroke-linejoin="miter"/>
<polygon points="534.1,1723.7 525.4,1738.7 542.8,1738.7" fill="#3B6C56" stroke="#000" stroke-width="1.25" stroke-linejoin="miter"/>
<polygon points="366.4,1716.3 357.7,1731.3 375.1,1731.3" fill="#CF9242" stroke="#000" stroke-width="1.25" stroke-linejoin="miter"/>
<polygon points="367.2,1722.1 358.5,1737.1 375.9,1737.1" fill="#F8A17C" stroke="#000" stroke-width="1.25" stroke-linejoin="miter"/>
<polygon points="419.2,1717.1 410.5,1732.1 427.9,1732.1" fill="#CF9242" stroke="#000" stroke-width="1.25" stroke-linejoin="miter"/>
<polygon points="396.7,1721.7 388,1736.7 405.4,1736.7" fill="#FBC6E9" stroke="#000" stroke-width="1.25" stroke-linejoin="miter"/>
<polygon points="358.6,1726.4 349.9,1741.4 367.3,1741.4" fill="#667A3F" stroke="#000" stroke-width="1.25" stroke-linejoin="miter"/>
<polygon points="380.4,1727.2 371.7,1742.2 389.1,1742.2" fill="#CF9242" stroke="#000" stroke-width="1.25" stroke-linejoin="miter"/>
<polygon points="422.3,1733 413.6,1748 431,1748" fill="#9A882C" stroke="#000" stroke-width="1.25" stroke-linejoin="miter"/>
<polygon points="434.7,1733 426,1748 443.4,1748" fill="#CF9242" stroke="#000" stroke-width="1.25" stroke-linejoin="miter"/>
<polygon points="447.1,1729.1 438.4,1744.1 455.8,1744.1" fill="#9A882C" stroke="#000" stroke-width="1.25" stroke-linejoin="miter"/>
<polygon points="459.5,1731.8 450.8,1746.8 468.2,1746.8" fill="#3B6C56" stroke="#000" stroke-width="1.25" stroke-linejoin="miter"/>
<polygon points="467.3,1724.1 458.6,1739.1 476,1739.1" fill="#3B6C56" stroke="#000" stroke-width="1.25" stroke-linejoin="miter"/>
<polygon points="479.7,1730.3 471,1745.3 488.4,1745.3" fill="#1C5962" stroke="#000" stroke-width="1.25" stroke-linejoin="miter"/>
<polygon points="496.8,1736.1 488.1,1751.1 505.5,1751.1" fill="#114160" stroke="#000" stroke-width="1.25" stroke-linejoin="miter"/>
<polygon points="499.9,1737.3 491.2,1752.3 508.6,1752.3" fill="#1C5962" stroke="#000" stroke-width="1.25" stroke-linejoin="miter"/>
<polygon points="455.7,1738.4 447,1753.4 464.4,1753.4" fill="#1C5962" stroke="#000" stroke-width="1.25" stroke-linejoin="miter"/>
<polygon points="437.8,1748.5 429.1,1763.5 446.5,1763.5" fill="#3B6C56" stroke="#000" stroke-width="1.25" stroke-linejoin="miter"/>
<polygon points="447.1,1745 438.4,1760 455.8,1760" fill="#667A3F" stroke="#000" stroke-width="1.25" stroke-linejoin="miter"/>
<polygon points="464.2,1751.2 455.5,1766.2 472.9,1766.2" fill="#3B6C56" stroke="#000" stroke-width="1.25" stroke-linejoin="miter"/>
<polygon points="473.5,1752 464.8,1767 482.2,1767" fill="#3B6C56" stroke="#000" stroke-width="1.25" stroke-linejoin="miter"/>
<polygon points="484.4,1752 475.7,1767 493.1,1767" fill="#3B6C56" stroke="#000" stroke-width="1.25" stroke-linejoin="miter"/>
<polygon points="499.9,1752.8 491.2,1767.8 508.6,1767.8" fill="#667A3F" stroke="#000" stroke-width="1.25" stroke-linejoin="miter"/>
<polygon points="409.1,1743.9 400.4,1758.9 417.8,1758.9" fill="#1C5962" stroke="#000" stroke-width="1.25" stroke-linejoin="miter"/>
<polygon points="397.4,1752.8 388.7,1767.8 406.1,1767.8" fill="#9A882C" stroke="#000" stroke-width="1.25" stroke-linejoin="miter"/>
<polygon points="391.2,1763.3 382.5,1778.3 399.9,1778.3" fill="#9A882C" stroke="#000" stroke-width="1.25" stroke-linejoin="miter"/>
<polygon points="371.8,1743.9 363.1,1758.9 380.5,1758.9" fill="#CF9242" stroke="#000" stroke-width="1.25" stroke-linejoin="miter"/>
<circle cx="354" cy="1750.2" r="7" fill="#F8A17C" stroke="#000" stroke-width="1.25"/>
<polygon points="401.3,1769.5 392.6,1784.5 410,1784.5" fill="#667A3F" stroke="#000" stroke-width="1.25" stroke-linejoin="miter"/>
<polygon points="410.6,1771 401.9,1786 419.3,1786" fill="#9A882C" stroke="#000" stroke-width="1.25" stroke-linejoin="miter"/>
<polygon points="430.8,1767.1 422.1,1782.1 439.5,1782.1" fill="#1C5962" stroke="#000" stroke-width="1.25" stroke-linejoin="miter"/>
<polygon points="462.7,1763.6 454,1778.6 471.4,1778.6" fill="#1C5962" stroke="#000" stroke-width="1.25" stroke-linejoin="miter"/>
<polygon points="527.1,1771 518.4,1786 535.8,1786" fill="#04205A" stroke="#000" stroke-width="1.25" stroke-linejoin="miter"/>
<polygon points="320,1695.7 311.3,1680.7 328.7,1680.7" fill="#F8A17C" stroke="#000" stroke-width="1.25"/>
<polygon points="339,1674.7 330.3,1689.7 347.7,1689.7" fill="#CF9242" stroke="#000" stroke-width="1.25" stroke-linejoin="miter"/>
<polygon points="339,1681.4 330.3,1696.4 347.7,1696.4" fill="#FBC6E9" stroke="#000" stroke-width="1.25" stroke-linejoin="miter"/>
<circle cx="332.7" cy="1695.3" r="7" fill="#F8A17C" stroke="#000" stroke-width="1.25"/>
<circle cx="320" cy="1707.3" r="7" fill="#F8A17C" stroke="#000" stroke-width="1.25"/>
<polygon points="353.8,1691.3 345.1,1706.3 362.5,1706.3" fill="#F8A17C" stroke="#000" stroke-width="1.25" stroke-linejoin="miter"/>
<polygon points="377.8,1693.8 369.1,1708.8 386.5,1708.8" fill="#9A882C" stroke="#000" stroke-width="1.25" stroke-linejoin="miter"/>
<circle cx="350.3" cy="1715.8" r="7" fill="#F8A17C" stroke="#000" stroke-width="1.25"/>
<polygon points="281.9,1699.1 273.2,1714.1 290.6,1714.1" fill="#F8A17C" stroke="#000" stroke-width="1.25" stroke-linejoin="miter"/>
<polygon points="289.6,1734.2 280.9,1719.2 298.3,1719.2" fill="#FCB3B1" stroke="#000" stroke-width="1.25"/>
<polygon points="293.2,1712.8 284.5,1727.8 301.9,1727.8" fill="#F8A17C" stroke="#000" stroke-width="1.25" stroke-linejoin="miter"/>
<polygon points="300.2,1712.8 291.5,1727.8 308.9,1727.8" fill="#FCB3B1" stroke="#000" stroke-width="1.25" stroke-linejoin="miter"/>
<circle cx="309.4" cy="1728.5" r="7" fill="#F8A17C" stroke="#000" stroke-width="1.25"/>
<polygon points="332.7,1714.6 324,1729.6 341.4,1729.6" fill="#9A882C" stroke="#000" stroke-width="1.25" stroke-linejoin="miter"/>
<polygon points="344,1715.7 335.3,1730.7 352.7,1730.7" fill="#9A882C" stroke="#000" stroke-width="1.25" stroke-linejoin="miter"/>
<polygon points="366.5,1716.7 357.8,1731.7 375.2,1731.7" fill="#CF9242" stroke="#000" stroke-width="1.25" stroke-linejoin="miter"/>
<circle cx="328.4" cy="1734.1" r="7" fill="#FCB3B1" stroke="#000" stroke-width="1.25"/>
<polygon points="366.5,1722.7 357.8,1737.7 375.2,1737.7" fill="#FCB3B1" stroke="#000" stroke-width="1.25" stroke-linejoin="miter"/>
<polygon points="380,1727.3 371.3,1742.3 388.7,1742.3" fill="#CF9242" stroke="#000" stroke-width="1.25" stroke-linejoin="miter"/>
<polygon points="395.5,1722 386.8,1737 404.2,1737" fill="#FBC6E9" stroke="#000" stroke-width="1.25" stroke-linejoin="miter"/>
<polygon points="264.2,1729.8 255.5,1744.8 272.9,1744.8" fill="#9A882C" stroke="#000" stroke-width="1.25" stroke-linejoin="miter"/>
<polygon points="304.4,1725.9 295.7,1740.9 313.1,1740.9" fill="#667A3F" stroke="#000" stroke-width="1.25" stroke-linejoin="miter"/>
<polygon points="296,1740.5 303.4,1750.3 296,1760.1 288.6,1750.3" fill="#FCB3B1" stroke="#000" stroke-width="1.25"/>
<polygon points="309.4,1736.3 316.8,1746.1 309.4,1755.9 302,1746.1" fill="#FCB3B1" stroke="#000" stroke-width="1.25"/>
<circle cx="325.6" cy="1752.4" r="7" fill="#F8A17C" stroke="#000" stroke-width="1.25"/>
<circle cx="353.8" cy="1749.6" r="7" fill="#F8A17C" stroke="#000" stroke-width="1.25"/>
<polygon points="335.5,1731.9 326.8,1746.9 344.2,1746.9" fill="#F8A17C" stroke="#000" stroke-width="1.25" stroke-linejoin="miter"/>
<polygon points="372.9,1743.5 364.2,1758.5 381.6,1758.5" fill="#9A882C" stroke="#000" stroke-width="1.25" stroke-linejoin="miter"/>
<polygon points="355.3,1735.8 346.6,1750.8 364,1750.8" fill="#F8A17C" stroke="#000" stroke-width="1.25" stroke-linejoin="miter"/>
<polygon points="267.7,1771.9 259,1756.9 276.4,1756.9" fill="#FCB3B1" stroke="#000" stroke-width="1.25"/>
<polygon points="283.3,1753.2 290.7,1763 283.3,1772.8 275.9,1763" fill="#FCB3B1" stroke="#000" stroke-width="1.25"/>
<polygon points="290.3,1743.5 281.6,1758.5 299,1758.5" fill="#CF9242" stroke="#000" stroke-width="1.25" stroke-linejoin="miter"/>
<polygon points="317.1,1747.8 308.4,1762.8 325.8,1762.8" fill="#667A3F" stroke="#000" stroke-width="1.25" stroke-linejoin="miter"/>
<polygon points="303,1776.2 294.3,1761.2 311.7,1761.2" fill="#CF9242" stroke="#000" stroke-width="1.25"/>
<circle cx="318.6" cy="1767.3" r="7" fill="#F8A17C" stroke="#000" stroke-width="1.25"/>
<polygon points="335.5,1764 326.8,1779 344.2,1779" fill="#CF9242" stroke="#000" stroke-width="1.25" stroke-linejoin="miter"/>
<polygon points="352.4,1756.2 343.7,1771.2 361.1,1771.2" fill="#F8A17C" stroke="#000" stroke-width="1.25" stroke-linejoin="miter"/>
<polygon points="345.4,1759.8 336.7,1774.8 354.1,1774.8" fill="#9A882C" stroke="#000" stroke-width="1.25" stroke-linejoin="miter"/>
<polygon points="368,1769.6 359.3,1784.6 376.7,1784.6" fill="#1C5962" stroke="#000" stroke-width="1.25" stroke-linejoin="miter"/>
<polygon points="393.4,1759.8 384.7,1774.8 402.1,1774.8" fill="#9A882C" stroke="#000" stroke-width="1.25" stroke-linejoin="miter"/>
<polygon points="397.6,1769.6 388.9,1784.6 406.3,1784.6" fill="#667A3F" stroke="#000" stroke-width="1.25" stroke-linejoin="miter"/>
<circle cx="287.5" cy="1781.4" r="7" fill="#CF9242" stroke="#000" stroke-width="1.25"/>
<polygon points="245.9,1778.8 237.2,1793.8 254.6,1793.8" fill="#9A882C" stroke="#000" stroke-width="1.25" stroke-linejoin="miter"/>
<polygon points="263.5,1782.4 254.8,1797.4 272.2,1797.4" fill="#CF9242" stroke="#000" stroke-width="1.25" stroke-linejoin="miter"/>
<polygon points="294.6,1768.9 285.9,1783.9 303.3,1783.9" fill="#F8A17C" stroke="#000" stroke-width="1.25" stroke-linejoin="miter"/>
<polygon points="322.8,1771.8 314.1,1786.8 331.5,1786.8" fill="#9A882C" stroke="#000" stroke-width="1.25" stroke-linejoin="miter"/>
<polygon points="286.8,1787.8 294.2,1797.6 286.8,1807.4 279.4,1797.6" fill="#FCB3B1" stroke="#000" stroke-width="1.25"/>
<polygon points="309.4,1788.2 311.2,1793.7 317,1793.7 312.3,1797.1 314.1,1802.7 309.4,1799.3 304.7,1802.7 306.5,1797.1 301.8,1793.7 307.6,1793.7" fill="#CF9242" stroke="#000" stroke-width="1.25"/>
<circle cx="322.8" cy="1794.8" r="7" fill="#F8A17C" stroke="#000" stroke-width="1.25"/>
<polygon points="349.6,1784.1 340.9,1799.1 358.3,1799.1" fill="#9A882C" stroke="#000" stroke-width="1.25" stroke-linejoin="miter"/>
<polygon points="345.4,1799.6 336.7,1814.6 354.1,1814.6" fill="#9A882C" stroke="#000" stroke-width="1.25" stroke-linejoin="miter"/>
<polygon points="325.6,1805.6 316.9,1820.6 334.3,1820.6" fill="#667A3F" stroke="#000" stroke-width="1.25" stroke-linejoin="miter"/>
<polygon points="311.5,1796.5 302.8,1811.5 320.2,1811.5" fill="#3B6C56" stroke="#000" stroke-width="1.25" stroke-linejoin="miter"/>
<polygon points="380.7,1800 372,1815 389.4,1815" fill="#114160" stroke="#000" stroke-width="1.25" stroke-linejoin="miter"/>
<polygon points="359.5,1815.5 350.8,1830.5 368.2,1830.5" fill="#FCB3B1" stroke="#000" stroke-width="1.25" stroke-linejoin="miter"/>
<polygon points="327.7,1826.8 319,1841.8 336.4,1841.8" fill="#CF9242" stroke="#000" stroke-width="1.25" stroke-linejoin="miter"/>
<polygon points="346.1,1825 337.4,1840 354.8,1840" fill="#3B6C56" stroke="#000" stroke-width="1.25" stroke-linejoin="miter"/>
<polygon points="357.4,1827.9 348.7,1842.9 366.1,1842.9" fill="#CF9242" stroke="#000" stroke-width="1.25" stroke-linejoin="miter"/>
<polygon points="393.4,1821.2 384.7,1836.2 402.1,1836.2" fill="#1C5962" stroke="#000" stroke-width="1.25" stroke-linejoin="miter"/>
<polygon points="257.9,1797 265.3,1806.8 257.9,1816.6 250.5,1806.8" fill="#FCB3B1" stroke="#000" stroke-width="1.25"/>
<polygon points="253.6,1811.1 261,1820.9 253.6,1830.7 246.2,1820.9" fill="#FCB3B1" stroke="#000" stroke-width="1.25"/>
<circle cx="265.6" cy="1827.3" r="7" fill="#F8A17C" stroke="#000" stroke-width="1.25"/>
<rect x="232.4" y="1823" width="10" height="10" fill="#FCB3B1" stroke="#000" stroke-width="1.25"/>
<circle cx="213.4" cy="1830.8" r="7" fill="#CF9242" stroke="#000" stroke-width="1.25"/>
<polygon points="228.2,1826.6 235.6,1836.4 228.2,1846.2 220.8,1836.4" fill="#CF9242" stroke="#000" stroke-width="1.25"/>
<polygon points="215.5,1837.9 222.9,1847.7 215.5,1857.5 208.1,1847.7" fill="#CF9242" stroke="#000" stroke-width="1.25"/>
<polygon points="238.1,1836.5 245.5,1846.3 238.1,1856.1 230.7,1846.3" fill="#FCB3B1" stroke="#000" stroke-width="1.25"/>
<polygon points="225.4,1843.6 232.8,1853.4 225.4,1863.2 218,1853.4" fill="#FCB3B1" stroke="#000" stroke-width="1.25"/>
<rect x="245.8" y="1841.3" width="10" height="10" fill="#CF9242" stroke="#000" stroke-width="1.25"/>
<polygon points="259.3,1829.5 266.7,1839.3 259.3,1849.1 251.9,1839.3" fill="#CF9242" stroke="#000" stroke-width="1.25"/>
<polygon points="284.7,1824.7 276,1839.7 293.4,1839.7" fill="#3B6C56" stroke="#000" stroke-width="1.25" stroke-linejoin="miter"/>
<polygon points="287.5,1830.3 278.8,1845.3 296.2,1845.3" fill="#9A882C" stroke="#000" stroke-width="1.25" stroke-linejoin="miter"/>
<circle cx="272.7" cy="1850.5" r="7" fill="#667A3F" stroke="#000" stroke-width="1.25"/>
<polygon points="296,1840.9 287.3,1855.9 304.7,1855.9" fill="#667A3F" stroke="#000" stroke-width="1.25" stroke-linejoin="miter"/>
<polygon points="284.7,1840.2 276,1855.2 293.4,1855.2" fill="#1C5962" stroke="#000" stroke-width="1.25" stroke-linejoin="miter"/>
<polygon points="312.9,1845.7 304.2,1860.7 321.6,1860.7" fill="#1C5962" stroke="#000" stroke-width="1.25" stroke-linejoin="miter"/>
<polygon points="324.2,1847.1 315.5,1862.1 332.9,1862.1" fill="#1C5962" stroke="#000" stroke-width="1.25" stroke-linejoin="miter"/>
<polygon points="246.6,1809.9 237.9,1824.9 255.3,1824.9" fill="#CF9242" stroke="#000" stroke-width="1.25" stroke-linejoin="miter"/>
<circle cx="213.9" cy="1832.1" r="7" fill="#CF9242" stroke="#000" stroke-width="1.25"/>
<polygon points="228,1828.7 235.4,1838.5 228,1848.3 220.6,1838.5" fill="#CF9242" stroke="#000" stroke-width="1.25"/>
<polygon points="238.6,1826.7 229.9,1841.7 247.3,1841.7" fill="#FCB3B1" stroke="#000" stroke-width="1.25" stroke-linejoin="miter"/>
<polygon points="214.6,1838.5 222,1848.3 214.6,1858.1 207.2,1848.3" fill="#CF9242" stroke="#000" stroke-width="1.25"/>
<polygon points="224.4,1844.4 215.7,1859.4 233.1,1859.4" fill="#FCB3B1" stroke="#000" stroke-width="1.25" stroke-linejoin="miter"/>
<polygon points="238.6,1839.4 229.9,1854.4 247.3,1854.4" fill="#F8A17C" stroke="#000" stroke-width="1.25" stroke-linejoin="miter"/>
<rect x="246.3" y="1841.2" width="10" height="10" fill="#CF9242" stroke="#000" stroke-width="1.25"/>
<polygon points="260.4,1828.7 267.8,1838.5 260.4,1848.3 253,1838.5" fill="#CF9242" stroke="#000" stroke-width="1.25"/>
<circle cx="266.1" cy="1830.7" r="7" fill="#F8A17C" stroke="#000" stroke-width="1.25"/>
<circle cx="194.1" cy="1854.7" r="7" fill="#9A882C" stroke="#000" stroke-width="1.25"/>
<circle cx="199.7" cy="1858.9" r="7" fill="#667A3F" stroke="#000" stroke-width="1.25"/>
<rect x="216.6" y="1858.9" width="10" height="10" fill="#F8A17C" stroke="#000" stroke-width="1.25"/>
<rect x="231.4" y="1853.9" width="10" height="10" fill="#CF9242" stroke="#000" stroke-width="1.25"/>
<polygon points="252.7,1857.8 244,1872.8 261.4,1872.8" fill="#FCB3B1" stroke="#000" stroke-width="1.25" stroke-linejoin="miter"/>
<circle cx="272.4" cy="1850.5" r="7" fill="#667A3F" stroke="#000" stroke-width="1.25"/>
<polygon points="288,1828.1 279.3,1843.1 296.7,1843.1" fill="#9A882C" stroke="#000" stroke-width="1.25" stroke-linejoin="miter"/>
<polygon points="292.2,1840.1 283.5,1855.1 300.9,1855.1" fill="#667A3F" stroke="#000" stroke-width="1.25" stroke-linejoin="miter"/>
<polygon points="285.1,1838.7 276.4,1853.7 293.8,1853.7" fill="#3B6C56" stroke="#000" stroke-width="1.25" stroke-linejoin="miter"/>
<polygon points="266.8,1853.8 268.6,1859.3 274.4,1859.3 269.7,1862.7 271.5,1868.3 266.8,1864.9 262.1,1868.3 263.9,1862.7 259.2,1859.3 265,1859.3" fill="#9A882C" stroke="#000" stroke-width="1.25"/>
<polygon points="161.6,1863.8 152.9,1878.8 170.3,1878.8" fill="#F8A17C" stroke="#000" stroke-width="1.25" stroke-linejoin="miter"/>
<polygon points="172.9,1858.8 164.2,1873.8 181.6,1873.8" fill="#CF9242" stroke="#000" stroke-width="1.25" stroke-linejoin="miter"/>
<circle cx="171.5" cy="1880.8" r="7" fill="#FCB3B1" stroke="#000" stroke-width="1.25"/>
<circle cx="195.5" cy="1870.9" r="7" fill="#F8A17C" stroke="#000" stroke-width="1.25"/>
<circle cx="186.3" cy="1878.7" r="7" fill="#667A3F" stroke="#000" stroke-width="1.25"/>
<circle cx="213.1" cy="1875.2" r="7" fill="#9A882C" stroke="#000" stroke-width="1.25"/>
<circle cx="219.5" cy="1870.9" r="7" fill="#FCB3B1" stroke="#000" stroke-width="1.25"/>
<circle cx="201.9" cy="1885.8" r="7" fill="#FCB3B1" stroke="#000" stroke-width="1.25"/>
<circle cx="181.4" cy="1892.8" r="7" fill="#9A882C" stroke="#000" stroke-width="1.25"/>
<circle cx="189.9" cy="1890.7" r="7" fill="#9A882C" stroke="#000" stroke-width="1.25"/>
<circle cx="190.6" cy="1897" r="7" fill="#B28D35" stroke="#000" stroke-width="1.25"/>
<polygon points="176.5,1891 167.8,1906 185.2,1906" fill="#9A882C" stroke="#000" stroke-width="1.25" stroke-linejoin="miter"/>
<circle cx="203.3" cy="1901.3" r="7" fill="#FCB3B1" stroke="#000" stroke-width="1.25"/>
<circle cx="218.8" cy="1897" r="7" fill="#9A882C" stroke="#000" stroke-width="1.25"/>
<circle cx="230.8" cy="1883.6" r="7" fill="#9A882C" stroke="#000" stroke-width="1.25"/>
<circle cx="239.3" cy="1885.8" r="7" fill="#9A882C" stroke="#000" stroke-width="1.25"/>
<circle cx="245.6" cy="1885.8" r="7" fill="#9A882C" stroke="#000" stroke-width="1.25"/>
<circle cx="255.5" cy="1875.2" r="7" fill="#667A3F" stroke="#000" stroke-width="1.25"/>
<circle cx="245.6" cy="1866.7" r="7" fill="#667A3F" stroke="#000" stroke-width="1.25"/>
<polygon points="265.4,1879 256.7,1894 274.1,1894" fill="#667A3F" stroke="#000" stroke-width="1.25" stroke-linejoin="miter"/>
<rect x="270.3" y="1870.2" width="10" height="10" fill="#9A882C" stroke="#000" stroke-width="1.25"/>
<rect x="273.1" y="1881.5" width="10" height="10" fill="#F8A17C" stroke="#000" stroke-width="1.25"/>
<rect x="251.9" y="1889.2" width="10" height="10" fill="#CF9242" stroke="#000" stroke-width="1.25"/>
<polygon points="286.5,1867.3 277.8,1882.3 295.2,1882.3" fill="#9A882C" stroke="#000" stroke-width="1.25" stroke-linejoin="miter"/>
<circle cx="295" cy="1864.6" r="7" fill="#CF9242" stroke="#000" stroke-width="1.25"/>
<circle cx="240" cy="1900.6" r="7" fill="#F8A17C" stroke="#000" stroke-width="1.25"/>
<circle cx="228" cy="1904.8" r="7" fill="#F8A17C" stroke="#000" stroke-width="1.25"/>
<circle cx="193.4" cy="1911.2" r="7" fill="#F8A17C" stroke="#000" stroke-width="1.25"/>
<circle cx="186.3" cy="1918.2" r="7" fill="#CF9242" stroke="#000" stroke-width="1.25"/>
<circle cx="203.3" cy="1922.4" r="7" fill="#667A3F" stroke="#000" stroke-width="1.25"/>
<circle cx="213.9" cy="1912.6" r="7" fill="#F8A17C" stroke="#000" stroke-width="1.25"/>
<circle cx="227.3" cy="1916.8" r="7" fill="#F8A17C" stroke="#000" stroke-width="1.25"/>
<circle cx="221.6" cy="1926" r="7" fill="#CF9242" stroke="#000" stroke-width="1.25"/>
<circle cx="231.5" cy="1927.4" r="7" fill="#FCB3B1" stroke="#000" stroke-width="1.25"/>
<circle cx="247.7" cy="1914.7" r="7" fill="#CF9242" stroke="#000" stroke-width="1.25"/>
<polygon points="266.1,1909.7 257.4,1924.7 274.8,1924.7" fill="#3B6C56" stroke="#000" stroke-width="1.25" stroke-linejoin="miter"/>
<polygon points="151.8,1912.8 143.1,1927.8 160.5,1927.8" fill="#F8A17C" stroke="#000" stroke-width="1.25" stroke-linejoin="miter"/>
<polygon points="163.7,1913.5 155,1928.5 172.4,1928.5" fill="#9A882C" stroke="#000" stroke-width="1.25" stroke-linejoin="miter"/>
<polygon points="100.9,1916.4 92.2,1931.4 109.6,1931.4" fill="#FCB3B1" stroke="#000" stroke-width="1.25" stroke-linejoin="miter"/>
<polygon points="124.2,1920.2 115.5,1935.2 132.9,1935.2" fill="#FCB3B1" stroke="#000" stroke-width="1.25" stroke-linejoin="miter"/>
<polygon points="124.2,1924.8 115.5,1939.8 132.9,1939.8" fill="#9A882C" stroke="#000" stroke-width="1.25" stroke-linejoin="miter"/>
<polygon points="104.5,1930.1 95.8,1945.1 113.2,1945.1" fill="#FCB3B1" stroke="#000" stroke-width="1.25" stroke-linejoin="miter"/>
<polygon points="107.3,1943.2 98.6,1958.2 116,1958.2" fill="#CF9242" stroke="#000" stroke-width="1.25" stroke-linejoin="miter"/>
<polygon points="146.1,1928.4 137.4,1943.4 154.8,1943.4" fill="#FCB3B1" stroke="#000" stroke-width="1.25" stroke-linejoin="miter"/>
<polygon points="155.3,1931.2 146.6,1946.2 164,1946.2" fill="#FBC6E9" stroke="#000" stroke-width="1.25" stroke-linejoin="miter"/>
<polygon points="162.3,1934 153.6,1949 171,1949" fill="#9A882C" stroke="#000" stroke-width="1.25" stroke-linejoin="miter"/>
<circle cx="169.4" cy="1930.9" r="7" fill="#FCB3B1" stroke="#000" stroke-width="1.25"/>
<circle cx="180" cy="1941.5" r="7" fill="#F8A17C" stroke="#000" stroke-width="1.25"/>
<circle cx="186.3" cy="1933.7" r="7" fill="#FCB3B1" stroke="#000" stroke-width="1.25"/>
<circle cx="196.2" cy="1935.9" r="7" fill="#F8A17C" stroke="#000" stroke-width="1.25"/>
<circle cx="200.4" cy="1944.3" r="7" fill="#667A3F" stroke="#000" stroke-width="1.25"/>
<circle cx="189.9" cy="1947.1" r="7" fill="#667A3F" stroke="#000" stroke-width="1.25"/>
<circle cx="190.6" cy="1954.2" r="7" fill="#F8A17C" stroke="#000" stroke-width="1.25"/>
<circle cx="201.2" cy="1960.6" r="7" fill="#F8A17C" stroke="#000" stroke-width="1.25"/>
<circle cx="177.2" cy="1952.8" r="7" fill="#FCB3B1" stroke="#000" stroke-width="1.25"/>
<polygon points="207.5,1945.6 198.8,1960.6 216.2,1960.6" fill="#667A3F" stroke="#000" stroke-width="1.25" stroke-linejoin="miter"/>
<polygon points="229.4,1935.4 220.7,1950.4 238.1,1950.4" fill="#3B6C56" stroke="#000" stroke-width="1.25" stroke-linejoin="miter"/>
<polygon points="255.5,1934 246.8,1949 264.2,1949" fill="#F8A17C" stroke="#000" stroke-width="1.25" stroke-linejoin="miter"/>
<polygon points="134.1,1947.1 125.4,1962.1 142.8,1962.1" fill="#FCB3B1" stroke="#000" stroke-width="1.25" stroke-linejoin="miter"/>
<polygon points="146.8,1941.8 138.1,1956.8 155.5,1956.8" fill="#FCB3B1" stroke="#000" stroke-width="1.25" stroke-linejoin="miter"/>
<polygon points="155.3,1951.6 146.6,1966.6 164,1966.6" fill="#667A3F" stroke="#000" stroke-width="1.25" stroke-linejoin="miter"/>
<circle cx="168.7" cy="1962" r="7" fill="#667A3F" stroke="#000" stroke-width="1.25"/>
<polygon points="145.4,1958 136.7,1973 154.1,1973" fill="#9A882C" stroke="#000" stroke-width="1.25" stroke-linejoin="miter"/>
<polygon points="120,1962.6 111.3,1977.6 128.7,1977.6" fill="#FBC6E9" stroke="#000" stroke-width="1.25" stroke-linejoin="miter"/>
<polygon points="132,1962.6 123.3,1977.6 140.7,1977.6" fill="#FCB3B1" stroke="#000" stroke-width="1.25" stroke-linejoin="miter"/>
<circle cx="158.1" cy="1974" r="7" fill="#667A3F" stroke="#000" stroke-width="1.25"/>
<polygon points="124.2,1974.9 115.5,1989.9 132.9,1989.9" fill="#CF9242" stroke="#000" stroke-width="1.25" stroke-linejoin="miter"/>
<polygon points="149.6,1972.8 140.9,1987.8 158.3,1987.8" fill="#667A3F" stroke="#000" stroke-width="1.25" stroke-linejoin="miter"/>
<circle cx="136.2" cy="1986" r="7" fill="#667A3F" stroke="#000" stroke-width="1.25"/>
<polygon points="110.8,1981.6 102.1,1996.6 119.5,1996.6" fill="#F8A17C" stroke="#000" stroke-width="1.25" stroke-linejoin="miter"/>
<polygon points="142.6,1983.8 133.9,1998.8 151.3,1998.8" fill="#CF9242" stroke="#000" stroke-width="1.25" stroke-linejoin="miter"/>
<polygon points="138.3,1988.7 129.6,2003.7 147,2003.7" fill="#F8A17C" stroke="#000" stroke-width="1.25" stroke-linejoin="miter"/>
<circle cx="165.9" cy="1990.2" r="7" fill="#667A3F" stroke="#000" stroke-width="1.25"/>
<circle cx="201.9" cy="1990.2" r="7" fill="#3B6C56" stroke="#000" stroke-width="1.25"/>
<polygon points="155.3,1995.4 146.6,2010.4 164,2010.4" fill="#9A882C" stroke="#000" stroke-width="1.25" stroke-linejoin="miter"/>
<polygon points="168,1998.9 159.3,2013.9 176.7,2013.9" fill="#CF9242" stroke="#000" stroke-width="1.25" stroke-linejoin="miter"/>
<polygon points="127.8,2007.8 119.1,2022.8 136.5,2022.8" fill="#F8A17C" stroke="#000" stroke-width="1.25" stroke-linejoin="miter"/>
<polygon points="136.9,2004.9 128.2,2019.9 145.6,2019.9" fill="#CF9242" stroke="#000" stroke-width="1.25" stroke-linejoin="miter"/>
<polygon points="150.3,2009.9 141.6,2024.9 159,2024.9" fill="#CF9242" stroke="#000" stroke-width="1.25" stroke-linejoin="miter"/>
<polygon points="397.9,1756 389.2,1771 406.6,1771" fill="#9A882C" stroke="#000" stroke-width="1.25" stroke-linejoin="miter"/>
<polygon points="390.8,1764.9 382.1,1779.9 399.5,1779.9" fill="#9A882C" stroke="#000" stroke-width="1.25" stroke-linejoin="miter"/>
<polygon points="401.4,1770.1 392.7,1785.1 410.1,1785.1" fill="#667A3F" stroke="#000" stroke-width="1.25" stroke-linejoin="miter"/>
<polygon points="410.6,1772.3 401.9,1787.3 419.3,1787.3" fill="#667A3F" stroke="#000" stroke-width="1.25" stroke-linejoin="miter"/>
<polygon points="430.3,1768 421.6,1783 439,1783" fill="#1C5962" stroke="#000" stroke-width="1.25" stroke-linejoin="miter"/>
<polygon points="462.1,1764.9 453.4,1779.9 470.8,1779.9" fill="#1C5962" stroke="#000" stroke-width="1.25" stroke-linejoin="miter"/>
<polygon points="446.5,1780 437.8,1795 455.2,1795" fill="#114160" stroke="#000" stroke-width="1.25" stroke-linejoin="miter"/>
<polygon points="442.3,1786.7 433.6,1801.7 451,1801.7" fill="#04205A" stroke="#000" stroke-width="1.25" stroke-linejoin="miter"/>
<polygon points="462.8,1776.5 454.1,1791.5 471.5,1791.5" fill="#114160" stroke="#000" stroke-width="1.25" stroke-linejoin="miter"/>
<polygon points="334.3,1764.5 325.6,1779.5 343,1779.5" fill="#CF9242" stroke="#000" stroke-width="1.25" stroke-linejoin="miter"/>
<circle cx="318.8" cy="1767.1" r="7" fill="#F8A17C" stroke="#000" stroke-width="1.25"/>
<polygon points="356.2,1760.3 347.5,1775.3 364.9,1775.3" fill="#CF9242" stroke="#000" stroke-width="1.25" stroke-linejoin="miter"/>
<polygon points="337.9,1770.1 329.2,1785.1 346.6,1785.1" fill="#9A882C" stroke="#000" stroke-width="1.25" stroke-linejoin="miter"/>
<polygon points="366.1,1771.2 357.4,1786.2 374.8,1786.2" fill="#1C5962" stroke="#000" stroke-width="1.25" stroke-linejoin="miter"/>
<polygon points="350.6,1783.2 341.9,1798.2 359.3,1798.2" fill="#9A882C" stroke="#000" stroke-width="1.25" stroke-linejoin="miter"/>
<polygon points="344.9,1797.7 336.2,1812.7 353.6,1812.7" fill="#9A882C" stroke="#000" stroke-width="1.25" stroke-linejoin="miter"/>
<polygon points="326.6,1805.8 317.9,1820.8 335.3,1820.8" fill="#667A3F" stroke="#000" stroke-width="1.25" stroke-linejoin="miter"/>
<polygon points="333.6,1792.4 324.9,1807.4 342.3,1807.4" fill="#CF9242" stroke="#000" stroke-width="1.25" stroke-linejoin="miter"/>
<circle cx="322.3" cy="1795.3" r="7" fill="#F8A17C" stroke="#000" stroke-width="1.25"/>
<polygon points="308.9,1788 310.7,1793.5 316.5,1793.5 311.8,1796.9 313.6,1802.5 308.9,1799.1 304.2,1802.5 306,1796.9 301.3,1793.5 307.1,1793.5" fill="#CF9242" stroke="#000" stroke-width="1.25"/>
<polygon points="380.2,1799.8 371.5,1814.8 388.9,1814.8" fill="#114160" stroke="#000" stroke-width="1.25" stroke-linejoin="miter"/>
<polygon points="359.7,1815.7 351,1830.7 368.4,1830.7" fill="#FCB3B1" stroke="#000" stroke-width="1.25" stroke-linejoin="miter"/>
<polygon points="357.6,1827.7 348.9,1842.7 366.3,1842.7" fill="#CF9242" stroke="#000" stroke-width="1.25" stroke-linejoin="miter"/>
<polygon points="345.6,1824.8 336.9,1839.8 354.3,1839.8" fill="#3B6C56" stroke="#000" stroke-width="1.25" stroke-linejoin="miter"/>
<polygon points="328,1826.6 319.3,1841.6 336.7,1841.6" fill="#CF9242" stroke="#000" stroke-width="1.25" stroke-linejoin="miter"/>
<polygon points="392.9,1821 384.2,1836 401.6,1836" fill="#1C5962" stroke="#000" stroke-width="1.25" stroke-linejoin="miter"/>
<polygon points="416.9,1830.1 408.2,1845.1 425.6,1845.1" fill="#9A882C" stroke="#000" stroke-width="1.25" stroke-linejoin="miter"/>
<polygon points="423.3,1841.4 414.6,1856.4 432,1856.4" fill="#1C5962" stroke="#000" stroke-width="1.25" stroke-linejoin="miter"/>
<polygon points="463.5,1813.9 454.8,1828.9 472.2,1828.9" fill="#3B6C56" stroke="#000" stroke-width="1.25" stroke-linejoin="miter"/>
<polygon points="435.3,1862.6 426.6,1877.6 444,1877.6" fill="#667A3F" stroke="#000" stroke-width="1.25" stroke-linejoin="miter"/>
<polygon points="452.2,1894.3 443.5,1909.3 460.9,1909.3" fill="#04205A" stroke="#000" stroke-width="1.25" stroke-linejoin="miter"/>
<polygon points="287.1,1829.8 278.4,1844.8 295.8,1844.8" fill="#9A882C" stroke="#000" stroke-width="1.25" stroke-linejoin="miter"/>
<polygon points="293.4,1840.4 284.7,1855.4 302.1,1855.4" fill="#667A3F" stroke="#000" stroke-width="1.25" stroke-linejoin="miter"/>
<polygon points="301.2,1842.5 292.5,1857.5 309.9,1857.5" fill="#9A882C" stroke="#000" stroke-width="1.25" stroke-linejoin="miter"/>
<polygon points="311.8,1846 303.1,1861 320.5,1861" fill="#3B6C56" stroke="#000" stroke-width="1.25" stroke-linejoin="miter"/>
<polygon points="325.2,1849.9 316.5,1864.9 333.9,1864.9" fill="#1C5962" stroke="#000" stroke-width="1.25" stroke-linejoin="miter"/>
<circle cx="297.6" cy="1864.4" r="7" fill="#CF9242" stroke="#000" stroke-width="1.25"/>
<polygon points="286.4,1866.8 277.7,1881.8 295.1,1881.8" fill="#667A3F" stroke="#000" stroke-width="1.25" stroke-linejoin="miter"/>
<polygon points="307.5,1867.5 298.8,1882.5 316.2,1882.5" fill="#3B6C56" stroke="#000" stroke-width="1.25" stroke-linejoin="miter"/>
<polygon points="315.3,1867.5 306.6,1882.5 324,1882.5" fill="#1C5962" stroke="#000" stroke-width="1.25" stroke-linejoin="miter"/>
<polygon points="342.1,1885.9 333.4,1900.9 350.8,1900.9" fill="#CF9242" stroke="#000" stroke-width="1.25" stroke-linejoin="miter"/>
<polygon points="329.4,1938.8 320.7,1953.8 338.1,1953.8" fill="#04205A" stroke="#000" stroke-width="1.25" stroke-linejoin="miter"/>
<polygon points="280,1818.1 271.3,1833.1 288.7,1833.1" fill="#3B6C56" stroke="#000" stroke-width="1.25" stroke-linejoin="miter"/>
<rect x="275" y="1880.6" width="10" height="10" fill="#F8A17C" stroke="#000" stroke-width="1.25"/>
<polygon points="339.6,1746.7 330.9,1761.7 348.3,1761.7" fill="#F8A17C" stroke="#000" stroke-width="1.25" stroke-linejoin="miter"/>
<polygon points="299.8,1764.7 307.2,1774.5 299.8,1784.3 292.4,1774.5" fill="#F8A17C" stroke="#000" stroke-width="1.25"/>
<polygon points="321,1771.7 312.3,1786.7 329.7,1786.7" fill="#9A882C" stroke="#000" stroke-width="1.25" stroke-linejoin="miter"/>
<polygon points="334.5,1766.3 325.8,1781.3 343.2,1781.3" fill="#F8A17C" stroke="#000" stroke-width="1.25" stroke-linejoin="miter"/>
<polygon points="338.7,1773.3 330,1788.3 347.4,1788.3" fill="#9A882C" stroke="#000" stroke-width="1.25" stroke-linejoin="miter"/>
<polygon points="353.1,1763 344.4,1778 361.8,1778" fill="#CF9242" stroke="#000" stroke-width="1.25" stroke-linejoin="miter"/>
<polygon points="365.8,1771.3 357.1,1786.3 374.5,1786.3" fill="#3B6C56" stroke="#000" stroke-width="1.25" stroke-linejoin="miter"/>
<polygon points="309.1,1796.7 300.4,1811.7 317.8,1811.7" fill="#3B6C56" stroke="#000" stroke-width="1.25" stroke-linejoin="miter"/>
<polygon points="333.7,1794.2 325,1809.2 342.4,1809.2" fill="#CF9242" stroke="#000" stroke-width="1.25" stroke-linejoin="miter"/>
<polygon points="295.6,1779.2 286.9,1794.2 304.3,1794.2" fill="#9A882C" stroke="#000" stroke-width="1.25" stroke-linejoin="miter"/>
<polygon points="302.3,1768.7 293.6,1783.7 311,1783.7" fill="#F8A17C" stroke="#000" stroke-width="1.25" stroke-linejoin="miter"/>
<line x1="100.2" y1="1970" x2="533.8" y2="1648.2" stroke="#000" stroke-width="4.6"/>
<rect x="273.5" y="1784.3" width="26" height="26" fill="none" stroke="#000" stroke-width="3.6"/>
<rect x="449.6" y="1760.6" width="26" height="26" fill="none" stroke="#000" stroke-width="3.6"/>
</g>
<rect x="96.5" y="1562.5" width="463" height="464" fill="none" stroke="#262626" stroke-width="1.1"/>
<path d="M147.5 2026.5v-6.3M147.5 1562.5v6.3M178.5 2026.5v-6.3M178.5 1562.5v6.3M199.5 2026.5v-6.3M199.5 1562.5v6.3M216.5 2026.5v-6.3M216.5 1562.5v6.3M229.5 2026.5v-6.3M229.5 1562.5v6.3M241.5 2026.5v-6.3M241.5 1562.5v6.3M251.5 2026.5v-6.3M251.5 1562.5v6.3M260.5 2026.5v-6.3M260.5 1562.5v6.3M268.5 2026.5v-11.3M268.5 1562.5v11.3M319.5 2026.5v-6.3M319.5 1562.5v6.3M350.5 2026.5v-6.3M350.5 1562.5v6.3M371.5 2026.5v-6.3M371.5 1562.5v6.3M388.5 2026.5v-6.3M388.5 1562.5v6.3M401.5 2026.5v-6.3M401.5 1562.5v6.3M413.5 2026.5v-6.3M413.5 1562.5v6.3M423.5 2026.5v-6.3M423.5 1562.5v6.3M432.5 2026.5v-6.3M432.5 1562.5v6.3M440.5 2026.5v-11.3M440.5 1562.5v11.3M491.5 2026.5v-6.3M491.5 1562.5v6.3M522.5 2026.5v-6.3M522.5 1562.5v6.3M543.5 2026.5v-6.3M543.5 1562.5v6.3M96.5 1956.5h6.3M559.5 1956.5h-6.3M96.5 1915.5h6.3M559.5 1915.5h-6.3M96.5 1886.5h6.3M559.5 1886.5h-6.3M96.5 1864.5h6.3M559.5 1864.5h-6.3M96.5 1845.5h6.3M559.5 1845.5h-6.3M96.5 1830.5h6.3M559.5 1830.5h-6.3M96.5 1816.5h6.3M559.5 1816.5h-6.3M96.5 1805.5h6.3M559.5 1805.5h-6.3M96.5 1794.5h11.3M559.5 1794.5h-11.3M96.5 1724.5h6.3M559.5 1724.5h-6.3M96.5 1683.5h6.3M559.5 1683.5h-6.3M96.5 1654.5h6.3M559.5 1654.5h-6.3M96.5 1632.5h6.3M559.5 1632.5h-6.3M96.5 1614.5h6.3M559.5 1614.5h-6.3M96.5 1598.5h6.3M559.5 1598.5h-6.3M96.5 1585.5h6.3M559.5 1585.5h-6.3M96.5 1573.5h6.3M559.5 1573.5h-6.3" stroke="#262626" stroke-width="1.1" fill="none"/>
<text x="85.5" y="2035.8" text-anchor="end" style="font-family:'Liberation Serif',serif;font-size:28.5px" fill="#262626">10</text>
<text x="85.5" y="1804" text-anchor="end" style="font-family:'Liberation Serif',serif;font-size:28.5px" fill="#262626">100</text>
<text x="85.5" y="1572.2" text-anchor="end" style="font-family:'Liberation Serif',serif;font-size:28.5px" fill="#262626">1000</text>
<text x="94.5" y="2070.2" text-anchor="middle" style="font-family:'Liberation Serif',serif;font-size:28.5px" fill="#262626">10<tspan dy="-15" style="font-size:22.5px">-4</tspan></text>
<text x="266.5" y="2070.2" text-anchor="middle" style="font-family:'Liberation Serif',serif;font-size:28.5px" fill="#262626">10<tspan dy="-15" style="font-size:22.5px">-3</tspan></text>
<text x="438.5" y="2070.2" text-anchor="middle" style="font-family:'Liberation Serif',serif;font-size:28.5px" fill="#262626">10<tspan dy="-15" style="font-size:22.5px">-2</tspan></text>
<text x="232" y="2119.2" style="font-family:'Liberation Serif',serif;font-size:31.5px" fill="#262626"><tspan style="font-style:italic">b</tspan><tspan dx="3" dy="14.5" style="font-style:italic;font-size:24px">bp</tspan><tspan dy="-14.5">(700) [m</tspan><tspan dy="-16" style="font-size:25px">-1</tspan><tspan dx="3" dy="16">]</tspan></text>
<text transform="translate(32.9,1794.7) rotate(-90)" text-anchor="middle" style="font-family:'Liberation Serif',serif;font-size:31.5px" fill="#262626">POC [mg m<tspan dy="-16" style="font-size:24px">-3</tspan><tspan dy="16">]</tspan></text>
<rect x="576.5" y="1562.5" width="41" height="464" fill="url(#cbgrad)" stroke="#262626" stroke-width="1.1"/>
<path d="M617.5 1613.5h-4.7" stroke="#262626" stroke-width="1.1"/>
<text x="630" y="1621.8" style="font-family:'Liberation Serif',serif;font-size:25px" fill="#262626">1000</text>
<path d="M617.5 1789.5h-4.7" stroke="#262626" stroke-width="1.1"/>
<text x="630" y="1797.4" style="font-family:'Liberation Serif',serif;font-size:25px" fill="#262626">100</text>
<path d="M617.5 1964.5h-4.7" stroke="#262626" stroke-width="1.1"/>
<text x="630" y="1973.1" style="font-family:'Liberation Serif',serif;font-size:25px" fill="#262626">10</text>
<text x="581.5" y="1541.4" style="font-family:'Liberation Serif',serif;font-size:26.5px" fill="#262626">&#962;<tspan dx="10">[mg m</tspan><tspan dy="-13" style="font-size:22px">-2</tspan><tspan dy="13">]</tspan></text>
<polygon points="125.5,1586.8 116.8,1601.8 134.2,1601.8" fill="none" stroke="#000" stroke-width="1.30" stroke-linejoin="miter"/>
<text x="152.3" y="1600.5" style="font-family:'Liberation Serif',serif;font-size:20.3px" fill="#000">NP ICE</text>
<polygon points="125.5,1613.9 127.3,1619.4 133.1,1619.4 128.4,1622.8 130.2,1628.4 125.5,1625 120.8,1628.4 122.6,1622.8 117.9,1619.4 123.7,1619.4" fill="none" stroke="#000" stroke-width="1.30"/>
<text x="152.3" y="1626.6" style="font-family:'Liberation Serif',serif;font-size:20.3px" fill="#000">SPSS</text>
<polygon points="125.5,1638 133.3,1648.3 125.5,1658.6 117.7,1648.3" fill="none" stroke="#000" stroke-width="1.30"/>
<text x="152.3" y="1652.6" style="font-family:'Liberation Serif',serif;font-size:20.3px" fill="#000">STSS</text>
<rect x="120.5" y="1669.2" width="10" height="10" fill="none" stroke="#000" stroke-width="1.30"/>
<text x="152.3" y="1678.7" style="font-family:'Liberation Serif',serif;font-size:20.3px" fill="#000">EQU</text>
<circle cx="125.5" cy="1700.4" r="7.6" fill="none" stroke="#000" stroke-width="1.30"/>
<text x="152.3" y="1704.7" style="font-family:'Liberation Serif',serif;font-size:20.3px" fill="#000">STPS</text>
<polygon points="125.5,1736.1 116.8,1721.1 134.2,1721.1" fill="none" stroke="#000" stroke-width="1.30"/>
<text x="152.3" y="1730.8" style="font-family:'Liberation Serif',serif;font-size:20.3px" fill="#000">SO ICE</text>
<text x="731" y="25.2" style="font-family:'Liberation Sans',sans-serif;font-weight:bold;font-size:29.5px" fill="#000">B</text>
<text x="1119.7" y="44.3" text-anchor="middle" style="font-family:'Liberation Serif',serif;font-weight:bold;font-size:28.7px" fill="#000">Model B</text>
<path d="M882.3 525.2L882.3 86.6M910.6 522.9L910.6 84.3M930.6 521.2L930.6 82.6M946.2 520L946.2 81.4M958.9 518.9L958.9 80.3M969.7 518.1L969.7 79.5M979 517.3L979 78.7M987.2 516.6L987.2 78M1042.8 512.1L1042.8 73.5M1071.1 509.8L1071.1 71.2M1091.2 508.2L1091.2 69.6M1106.7 506.9L1106.7 68.3M1119.4 505.9L1119.4 67.3M1130.2 505L1130.2 66.4M1139.5 504.2L1139.5 65.6M1147.7 503.6L1147.7 65M1203.4 499L1203.4 60.4M1231.6 496.7L1231.6 58.1M1251.7 495.1L1251.7 56.5M834 463.1L1264.2 428.1M834 424.5L1264.2 389.5M834 397.1L1264.2 362.1M834 375.8L1264.2 340.8M834 358.5L1264.2 323.5M834 343.8L1264.2 308.8M834 331.1L1264.2 296.1M834 319.8L1264.2 284.8M834 243.8L1264.2 208.8M834 205.2L1264.2 170.2M834 177.8L1264.2 142.8M834 156.5L1264.2 121.5M834 139.2L1264.2 104.2M834 124.5L1264.2 89.5M834 111.8L1264.2 76.8M834 100.5L1264.2 65.5M1396.5 590.3L1396.5 151.7M1389.1 585L1389.1 146.4M1383.9 581.2L1383.9 142.6M1379.9 578.3L1379.9 139.7M1376.6 575.9L1376.6 137.3M1373.8 573.8L1373.8 135.2M1371.4 572.1L1371.4 133.5M1369.3 570.5L1369.3 131.9M1354.9 560L1354.9 121.4M1347.5 554.7L1347.5 116.1M1342.3 550.9L1342.3 112.3M1338.3 548L1338.3 109.4M1335 545.6L1335 107M1332.2 543.6L1332.2 105M1329.8 541.8L1329.8 103.2M1327.7 540.3L1327.7 101.7M1313.3 529.8L1313.3 91.2M1305.9 524.4L1305.9 85.8M1300.7 520.7L1300.7 82.1M1296.7 517.7L1296.7 79.1M1293.4 515.3L1293.4 76.7M1290.6 513.3L1290.6 74.7M1288.2 511.6L1288.2 73M1286.1 510L1286.1 71.4M1271.6 499.5L1271.6 60.9M1264.3 494.2L1264.3 55.6M1409 533.4L1264.2 428.1M1409 494.8L1264.2 389.5M1409 467.4L1264.2 362.1M1409 446.1L1264.2 340.8M1409 428.8L1264.2 323.5M1409 414.1L1264.2 308.8M1409 401.4L1264.2 296.1M1409 390.1L1264.2 284.8M1409 314.1L1264.2 208.8M1409 275.5L1264.2 170.2M1409 248.1L1264.2 142.8M1409 226.8L1264.2 121.5M1409 209.5L1264.2 104.2M1409 194.8L1264.2 89.5M1409 182.1L1264.2 76.8M1409 170.8L1264.2 65.5M1027.1 630.5L882.3 525.2M1055.4 628.2L910.6 522.9M1075.4 626.5L930.6 521.2M1091 625.3L946.2 520M1103.7 624.2L958.9 518.9M1114.5 623.4L969.7 518.1M1123.8 622.6L979 517.3M1132 621.9L987.2 516.6M1187.6 617.4L1042.8 512.1M1215.9 615.1L1071.1 509.8M1236 613.5L1091.2 508.2M1251.5 612.2L1106.7 506.9M1264.2 611.2L1119.4 505.9M1275 610.3L1130.2 505M1284.3 609.5L1139.5 504.2M1292.5 608.9L1147.7 503.6M1348.2 604.3L1203.4 499M1376.4 602L1231.6 496.7M1396.5 600.4L1251.7 495.1M966.3 625.3L1396.5 590.3M958.9 620L1389.1 585M953.7 616.2L1383.9 581.2M949.7 613.3L1379.9 578.3M946.4 610.9L1376.6 575.9M943.6 608.8L1373.8 573.8M941.2 607.1L1371.4 572.1M939.1 605.5L1369.3 570.5M924.7 595L1354.9 560M917.3 589.7L1347.5 554.7M912.1 585.9L1342.3 550.9M908.1 583L1338.3 548M904.8 580.6L1335 545.6M902 578.6L1332.2 543.6M899.6 576.8L1329.8 541.8M897.5 575.3L1327.7 540.3M883.1 564.8L1313.3 529.8M875.7 559.4L1305.9 524.4M870.5 555.7L1300.7 520.7M866.5 552.7L1296.7 517.7M863.2 550.3L1293.4 515.3M860.4 548.3L1290.6 513.3M858 546.6L1288.2 511.6M855.9 545L1286.1 510M841.4 534.5L1271.6 499.5M834.1 529.2L1264.3 494.2" stroke="#ABABAB" stroke-width="1" fill="none" stroke-dasharray="2.2 7.3"/>
<path d="M994.5 516L994.5 77.4M1155 503L1155 64.4M834 309.8L1264.2 274.8M1367.4 569.1L1367.4 130.5M1325.8 538.9L1325.8 100.3M1284.2 508.6L1284.2 70M1409 380.1L1264.2 274.8M1139.3 621.3L994.5 516M1299.8 608.3L1155 503M937.2 604.1L1367.4 569.1M895.6 573.9L1325.8 538.9M854 543.6L1284.2 508.6" stroke="#DCDCDC" stroke-width="1.1" fill="none"/>
<path d="M834.5 529.1L834.5 90.5M834.5 90.5L1264.5 55.5M1264.5 55.5L1409.5 160.8M1409.5 160.8L1409.5 599.4M978.8 634.4L1409.5 599.4M978.8 634.4L834.5 529.1M834.5 529.1L1264.5 494.1M1264.5 494.1L1409.5 599.4M1264.5 494.1L1264.5 55.5" stroke="#262626" stroke-width="1.15" fill="none"/>
<path d="M834 463.1L828.9 459.6M834 424.5L828.9 421M834 397.1L828.9 393.6M834 375.8L828.9 372.4M834 358.5L828.9 355M834 343.8L828.9 340.3M834 331.1L828.9 327.6M834 319.8L828.9 316.4M834 309.8L824.7 303.5M834 243.8L828.9 240.3M834 205.2L828.9 201.7M834 177.8L828.9 174.3M834 156.5L828.9 153.1M834 139.2L828.9 135.7M834 124.5L828.9 121M834 111.8L828.9 108.3M834 100.5L828.9 97.1M834 529.1L824.7 522.8M834 90.5L824.7 84.2M1027.1 630.5L1032.3 634.3M1055.4 628.2L1060.6 632M1075.4 626.5L1080.6 630.3M1091 625.3L1096.2 629.1M1103.7 624.2L1108.9 628M1114.5 623.4L1119.6 627.2M1123.8 622.6L1128.9 626.4M1132 621.9L1137.1 625.7M1139.3 621.3L1148.7 628.2M1187.6 617.4L1192.8 621.2M1215.9 615.1L1221.1 618.9M1236 613.5L1241.1 617.3M1251.5 612.2L1256.7 616M1264.2 611.2L1269.4 615M1275 610.3L1280.1 614.1M1284.3 609.5L1289.5 613.3M1292.5 608.9L1297.7 612.7M1299.8 608.3L1309.2 615.2M1348.2 604.3L1353.3 608.1M1376.4 602L1381.6 605.8M1396.5 600.4L1401.7 604.2M978.8 634.4L988.2 641.3M966.3 625.3L960.2 625.8M958.9 620L952.9 620.5M953.7 616.2L947.7 616.7M949.7 613.3L943.7 613.7M946.4 610.9L940.4 611.3M943.6 608.8L937.6 609.3M941.2 607.1L935.2 607.6M939.1 605.5L933 606M937.2 604.1L926.2 605M924.7 595L918.6 595.5M917.3 589.7L911.3 590.2M912.1 585.9L906.1 586.4M908.1 583L902.1 583.5M904.8 580.6L898.8 581.1M902 578.6L896 579.1M899.6 576.8L893.6 577.3M897.5 575.3L891.4 575.8M895.6 573.9L884.6 574.8M883.1 564.8L877 565.3M875.7 559.4L869.7 559.9M870.5 555.7L864.5 556.2M866.5 552.7L860.4 553.2M863.2 550.3L857.2 550.8M860.4 548.3L854.4 548.8M858 546.6L852 547.1M855.9 545L849.8 545.5M854 543.6L843 544.5M841.4 534.5L835.4 535M834.1 529.2L828.1 529.7M978.8 634.4L967.8 635.3" stroke="#262626" stroke-width="1.15" fill="none"/>
<text x="816" y="525.6" text-anchor="end" style="font-family:'Liberation Serif',serif;font-size:27.5px" fill="#262626">10</text>
<text x="816" y="306.3" text-anchor="end" style="font-family:'Liberation Serif',serif;font-size:27.5px" fill="#262626">100</text>
<text x="816" y="87" text-anchor="end" style="font-family:'Liberation Serif',serif;font-size:27.5px" fill="#262626">1000</text>
<text x="956.3" y="662.4" text-anchor="end" style="font-family:'Liberation Serif',serif;font-size:27.5px" fill="#262626">1</text>
<text x="914.7" y="632.1" text-anchor="end" style="font-family:'Liberation Serif',serif;font-size:27.5px" fill="#262626">10</text>
<text x="873.1" y="601.9" text-anchor="end" style="font-family:'Liberation Serif',serif;font-size:27.5px" fill="#262626">100</text>
<text x="831.5" y="571.6" text-anchor="end" style="font-family:'Liberation Serif',serif;font-size:27.5px" fill="#262626">1000</text>
<text x="1020.8" y="679.9" text-anchor="middle" style="font-family:'Liberation Serif',serif;font-size:27.5px" fill="#262626">10<tspan dy="-12.5" style="font-size:20px">-4</tspan></text>
<text x="1181.3" y="666.8" text-anchor="middle" style="font-family:'Liberation Serif',serif;font-size:27.5px" fill="#262626">10<tspan dy="-12.5" style="font-size:20px">-3</tspan></text>
<text x="1341.8" y="653.8" text-anchor="middle" style="font-family:'Liberation Serif',serif;font-size:27.5px" fill="#262626">10<tspan dy="-12.5" style="font-size:20px">-2</tspan></text>
<text x="1077.5" y="705.7" style="font-family:'Liberation Serif',serif;font-size:31px" fill="#262626"><tspan style="font-style:italic">b</tspan><tspan dx="3" dy="14.5" style="font-style:italic;font-size:24px">bp</tspan><tspan dy="-14.5">(470) [m</tspan><tspan dy="-16" style="font-size:25px">-1</tspan><tspan dx="3" dy="16">]</tspan></text>
<text transform="translate(739.9,313.5) rotate(-90)" text-anchor="middle" style="font-family:'Liberation Serif',serif;font-size:32px" fill="#262626">POC [mg m<tspan dy="-16" style="font-size:24px">-3</tspan><tspan dy="16">]</tspan></text>
<text transform="translate(820,638) rotate(31.5)" style="font-family:'Liberation Serif',serif;font-size:31px" fill="#262626">&#962; [mg m <tspan dy="-15" style="font-size:24px">-2</tspan><tspan dy="15">]</tspan></text>
<polygon points="1153,227.4 1144.3,242.4 1161.7,242.4" fill="#FBC6E9" stroke="#000" stroke-width="1.25" stroke-linejoin="miter"/>
<polygon points="1132.7,329.1 1124,344.1 1141.4,344.1" fill="#FCB3B1" stroke="#000" stroke-width="1.25" stroke-linejoin="miter"/>
<polygon points="1132.8,327.7 1124.1,342.7 1141.5,342.7" fill="#FCB3B1" stroke="#000" stroke-width="1.25" stroke-linejoin="miter"/>
<polygon points="1181.6,219 1172.9,234 1190.3,234" fill="#FCB3B1" stroke="#000" stroke-width="1.25" stroke-linejoin="miter"/>
<polygon points="1266.9,101.1 1258.2,116.1 1275.6,116.1" fill="#FCB3B1" stroke="#000" stroke-width="1.25" stroke-linejoin="miter"/>
<polygon points="1238.8,136.1 1230.1,151.1 1247.5,151.1" fill="#FCB3B1" stroke="#000" stroke-width="1.25" stroke-linejoin="miter"/>
<polygon points="1141.4,237.6 1132.7,252.6 1150.1,252.6" fill="#FCB3B1" stroke="#000" stroke-width="1.25" stroke-linejoin="miter"/>
<polygon points="1248,232.1 1239.3,247.1 1256.7,247.1" fill="#F8A17C" stroke="#000" stroke-width="1.25" stroke-linejoin="miter"/>
<polygon points="1069.4,332.3 1060.7,347.3 1078.1,347.3" fill="#FCB3B1" stroke="#000" stroke-width="1.25" stroke-linejoin="miter"/>
<circle cx="978.9" cy="453.6" r="7" fill="#FCB3B1" stroke="#000" stroke-width="1.25"/>
<polygon points="1239.5,201 1230.8,216 1248.2,216" fill="#F8A17C" stroke="#000" stroke-width="1.25" stroke-linejoin="miter"/>
<polygon points="1013,485.7 1004.3,500.7 1021.7,500.7" fill="#F8A17C" stroke="#000" stroke-width="1.25" stroke-linejoin="miter"/>
<polygon points="1274.2,126 1265.5,141 1282.9,141" fill="#F8A17C" stroke="#000" stroke-width="1.25" stroke-linejoin="miter"/>
<rect x="1063.4" y="403.4" width="10" height="10" fill="#F8A17C" stroke="#000" stroke-width="1.25"/>
<circle cx="1044.5" cy="427.2" r="7" fill="#F8A17C" stroke="#000" stroke-width="1.25"/>
<circle cx="1005" cy="478.4" r="7" fill="#F8A17C" stroke="#000" stroke-width="1.25"/>
<polygon points="1141.7,281.1 1133,296.1 1150.4,296.1" fill="#F8A17C" stroke="#000" stroke-width="1.25" stroke-linejoin="miter"/>
<polygon points="1140.7,277.8 1132,292.8 1149.4,292.8" fill="#F8A17C" stroke="#000" stroke-width="1.25" stroke-linejoin="miter"/>
<polygon points="1140,277.1 1131.3,292.1 1148.7,292.1" fill="#F8A17C" stroke="#000" stroke-width="1.25" stroke-linejoin="miter"/>
<circle cx="1033.1" cy="425.5" r="7" fill="#F8A17C" stroke="#000" stroke-width="1.25"/>
<circle cx="1021.2" cy="439.4" r="7" fill="#F8A17C" stroke="#000" stroke-width="1.25"/>
<circle cx="1020.3" cy="439.5" r="7" fill="#F8A17C" stroke="#000" stroke-width="1.25"/>
<circle cx="1000.8" cy="465.8" r="7" fill="#F8A17C" stroke="#000" stroke-width="1.25"/>
<circle cx="1020.4" cy="438.4" r="7" fill="#F8A17C" stroke="#000" stroke-width="1.25"/>
<circle cx="1028.4" cy="425.7" r="7" fill="#F8A17C" stroke="#000" stroke-width="1.25"/>
<circle cx="1006.2" cy="454.9" r="7" fill="#F8A17C" stroke="#000" stroke-width="1.25"/>
<circle cx="1006.1" cy="453" r="7" fill="#F8A17C" stroke="#000" stroke-width="1.25"/>
<circle cx="1002.2" cy="450.5" r="7" fill="#F8A17C" stroke="#000" stroke-width="1.25"/>
<polygon points="1281.3,229.5 1272.6,244.5 1290,244.5" fill="#CF9242" stroke="#000" stroke-width="1.25" stroke-linejoin="miter"/>
<polygon points="1093.2,462 1084.5,477 1101.9,477" fill="#CF9242" stroke="#000" stroke-width="1.25" stroke-linejoin="miter"/>
<polygon points="1266.1,206.6 1257.4,221.6 1274.8,221.6" fill="#CF9242" stroke="#000" stroke-width="1.25" stroke-linejoin="miter"/>
<polygon points="1222.9,261.5 1214.2,276.5 1231.6,276.5" fill="#CF9242" stroke="#000" stroke-width="1.25" stroke-linejoin="miter"/>
<polygon points="1148.4,352.9 1139.7,367.9 1157.1,367.9" fill="#CF9242" stroke="#000" stroke-width="1.25" stroke-linejoin="miter"/>
<polygon points="1185.1,294.1 1176.4,309.1 1193.8,309.1" fill="#CF9242" stroke="#000" stroke-width="1.25" stroke-linejoin="miter"/>
<polygon points="1241.7,214.2 1233,229.2 1250.4,229.2" fill="#CF9242" stroke="#000" stroke-width="1.25" stroke-linejoin="miter"/>
<polygon points="1004.1,539.3 995.4,554.3 1012.8,554.3" fill="#CF9242" stroke="#000" stroke-width="1.25" stroke-linejoin="miter"/>
<polygon points="1218,361.4 1209.3,376.4 1226.7,376.4" fill="#A98B30" stroke="#000" stroke-width="1.25" stroke-linejoin="miter"/>
<polygon points="1125.3,357.8 1116.6,372.8 1134,372.8" fill="#CF9242" stroke="#000" stroke-width="1.25" stroke-linejoin="miter"/>
<circle cx="1101.7" cy="395.8" r="7" fill="#CF9242" stroke="#000" stroke-width="1.25"/>
<circle cx="1101.6" cy="395.9" r="7" fill="#CF9242" stroke="#000" stroke-width="1.25"/>
<circle cx="1059.7" cy="446.8" r="7" fill="#CF9242" stroke="#000" stroke-width="1.25"/>
<polygon points="1068.2,418.9 1059.5,433.9 1076.9,433.9" fill="#CF9242" stroke="#000" stroke-width="1.25" stroke-linejoin="miter"/>
<circle cx="1034.7" cy="458.8" r="7" fill="#CF9242" stroke="#000" stroke-width="1.25"/>
<polygon points="1310.5,240.8 1301.8,255.8 1319.2,255.8" fill="#9A882C" stroke="#000" stroke-width="1.25" stroke-linejoin="miter"/>
<polygon points="1168.6,419.8 1159.9,434.8 1177.3,434.8" fill="#9F892C" stroke="#000" stroke-width="1.25" stroke-linejoin="miter"/>
<polygon points="1273.3,284.9 1264.6,299.9 1282,299.9" fill="#9A882C" stroke="#000" stroke-width="1.25" stroke-linejoin="miter"/>
<polygon points="1292.4,230.5 1283.7,245.5 1301.1,245.5" fill="#9A882C" stroke="#000" stroke-width="1.25" stroke-linejoin="miter"/>
<polygon points="1304,287.1 1295.3,302.1 1312.7,302.1" fill="#828234" stroke="#000" stroke-width="1.25" stroke-linejoin="miter"/>
<polygon points="1272.7,241.5 1264,256.5 1281.4,256.5" fill="#9A882C" stroke="#000" stroke-width="1.25" stroke-linejoin="miter"/>
<polygon points="1287.3,218.9 1278.6,233.9 1296,233.9" fill="#9A882C" stroke="#000" stroke-width="1.25" stroke-linejoin="miter"/>
<polygon points="1046.3,546.4 1037.6,561.4 1055,561.4" fill="#9A882C" stroke="#000" stroke-width="1.25" stroke-linejoin="miter"/>
<polygon points="1217.8,309.2 1209.1,324.2 1226.5,324.2" fill="#9A882C" stroke="#000" stroke-width="1.25" stroke-linejoin="miter"/>
<polygon points="1048.1,519.7 1039.4,534.7 1056.8,534.7" fill="#9A882C" stroke="#000" stroke-width="1.25" stroke-linejoin="miter"/>
<polygon points="1175.2,333.5 1166.5,348.5 1183.9,348.5" fill="#9A882C" stroke="#000" stroke-width="1.25" stroke-linejoin="miter"/>
<polygon points="1037.7,521.6 1029,536.6 1046.4,536.6" fill="#9A882C" stroke="#000" stroke-width="1.25" stroke-linejoin="miter"/>
<polygon points="1138.2,383.3 1129.5,398.3 1146.9,398.3" fill="#9A882C" stroke="#000" stroke-width="1.25" stroke-linejoin="miter"/>
<polygon points="1138,383.2 1129.3,398.2 1146.7,398.2" fill="#9A882C" stroke="#000" stroke-width="1.25" stroke-linejoin="miter"/>
<polygon points="1174.3,332.6 1165.6,347.6 1183,347.6" fill="#9A882C" stroke="#000" stroke-width="1.25" stroke-linejoin="miter"/>
<polygon points="1022.1,538.8 1013.4,553.8 1030.8,553.8" fill="#9A882C" stroke="#000" stroke-width="1.25" stroke-linejoin="miter"/>
<polygon points="1010.5,546.4 1001.8,561.4 1019.2,561.4" fill="#9A882C" stroke="#000" stroke-width="1.25" stroke-linejoin="miter"/>
<circle cx="1057.2" cy="464.2" r="7" fill="#9A882C" stroke="#000" stroke-width="1.25"/>
<polygon points="1296.3,295.1 1287.6,310.1 1305,310.1" fill="#667A3F" stroke="#000" stroke-width="1.25" stroke-linejoin="miter"/>
<polygon points="1283.4,312.7 1274.7,327.7 1292.1,327.7" fill="#667A3F" stroke="#000" stroke-width="1.25" stroke-linejoin="miter"/>
<polygon points="1285.9,302.1 1277.2,317.1 1294.6,317.1" fill="#667A3F" stroke="#000" stroke-width="1.25" stroke-linejoin="miter"/>
<polygon points="1311.6,258 1302.9,273 1320.3,273" fill="#667A3F" stroke="#000" stroke-width="1.25" stroke-linejoin="miter"/>
<polygon points="1269.5,406.7 1260.8,421.7 1278.2,421.7" fill="#4E734C" stroke="#000" stroke-width="1.25" stroke-linejoin="miter"/>
<polygon points="1325.5,338 1316.8,353 1334.2,353" fill="#3B6C56" stroke="#000" stroke-width="1.25" stroke-linejoin="miter"/>
<polygon points="1329.1,328.3 1320.4,343.3 1337.8,343.3" fill="#3B6C56" stroke="#000" stroke-width="1.25" stroke-linejoin="miter"/>
<polygon points="1066.8,505.6 1058.1,520.6 1075.5,520.6" fill="#667A3F" stroke="#000" stroke-width="1.25" stroke-linejoin="miter"/>
<polygon points="1072.9,496.4 1064.2,511.4 1081.6,511.4" fill="#667A3F" stroke="#000" stroke-width="1.25" stroke-linejoin="miter"/>
<polygon points="1119.8,427.8 1111.1,442.8 1128.5,442.8" fill="#667A3F" stroke="#000" stroke-width="1.25" stroke-linejoin="miter"/>
<polygon points="1289.5,363.4 1280.8,378.4 1298.2,378.4" fill="#3B6C56" stroke="#000" stroke-width="1.25" stroke-linejoin="miter"/>
<polygon points="1069.9,485.6 1061.2,500.6 1078.6,500.6" fill="#667A3F" stroke="#000" stroke-width="1.25" stroke-linejoin="miter"/>
<circle cx="1091.8" cy="463" r="7" fill="#667A3F" stroke="#000" stroke-width="1.25"/>
<polygon points="1038.2,522.4 1029.5,537.4 1046.9,537.4" fill="#667A3F" stroke="#000" stroke-width="1.25" stroke-linejoin="miter"/>
<circle cx="1021.1" cy="540.6" r="7" fill="#667A3F" stroke="#000" stroke-width="1.25"/>
<circle cx="1034.2" cy="521.2" r="7" fill="#667A3F" stroke="#000" stroke-width="1.25"/>
<circle cx="1013.8" cy="542.1" r="7" fill="#667A3F" stroke="#000" stroke-width="1.25"/>
<polygon points="1125.8,467 1117.1,482 1134.5,482" fill="#3B6C56" stroke="#000" stroke-width="1.25" stroke-linejoin="miter"/>
<polygon points="1344.3,337.7 1335.6,352.7 1353,352.7" fill="#1C5962" stroke="#000" stroke-width="1.25" stroke-linejoin="miter"/>
<circle cx="1039.9" cy="547.2" r="7" fill="#3B6C56" stroke="#000" stroke-width="1.25"/>
<polygon points="1262,401.8 1253.3,416.8 1270.7,416.8" fill="#1C5962" stroke="#000" stroke-width="1.25" stroke-linejoin="miter"/>
<polygon points="1331,464.6 1322.3,479.6 1339.7,479.6" fill="#04205A" stroke="#000" stroke-width="1.25" stroke-linejoin="miter"/>
<polygon points="1203.6,517.6 1194.9,532.6 1212.3,532.6" fill="#04205A" stroke="#000" stroke-width="1.25" stroke-linejoin="miter"/>
<path d="M1064.4 581.8L1379.5 400.5" stroke="#011959" stroke-width="1.4" fill="none"/>
<path d="M1059.9 576.1L1375 384.8" stroke="#06265B" stroke-width="1.4" fill="none"/>
<path d="M1055.5 570.4L1370.6 369" stroke="#0B335E" stroke-width="1.4" fill="none"/>
<path d="M1051.1 564.7L1366.2 353.3" stroke="#104060" stroke-width="1.4" fill="none"/>
<path d="M1046.6 559L1361.7 337.5" stroke="#154961" stroke-width="1.4" fill="none"/>
<path d="M1042.2 553.3L1357.3 321.8" stroke="#195361" stroke-width="1.4" fill="none"/>
<path d="M1037.7 547.6L1352.9 306" stroke="#1E5B61" stroke-width="1.4" fill="none"/>
<path d="M1033.3 541.9L1348.4 290.3" stroke="#2A625D" stroke-width="1.4" fill="none"/>
<path d="M1028.9 536.2L1344 274.5" stroke="#356959" stroke-width="1.4" fill="none"/>
<path d="M1024.4 530.5L1339.5 258.8" stroke="#416F53" stroke-width="1.4" fill="none"/>
<path d="M1020 524.8L1335.1 243" stroke="#50734B" stroke-width="1.4" fill="none"/>
<path d="M1015.6 519L1330.7 227.3" stroke="#607843" stroke-width="1.4" fill="none"/>
<path d="M1011.1 513.3L1326.2 211.6" stroke="#707D3B" stroke-width="1.4" fill="none"/>
<path d="M1006.7 507.6L1321.8 195.8" stroke="#828234" stroke-width="1.4" fill="none"/>
<path d="M1002.3 501.9L1317.4 180.1" stroke="#95872E" stroke-width="1.4" fill="none"/>
<path d="M997.8 496.2L1312.9 164.3" stroke="#A78B30" stroke-width="1.4" fill="none"/>
<path d="M993.4 490.5L1308.5 148.6" stroke="#BA8E38" stroke-width="1.4" fill="none"/>
<path d="M989 484.8L1304.1 132.8" stroke="#CC9240" stroke-width="1.4" fill="none"/>
<path d="M984.5 479.1L1299.6 117.1" stroke="#DB9650" stroke-width="1.4" fill="none"/>
<path d="M980.1 473.4L1295.2 101.3" stroke="#E89B63" stroke-width="1.4" fill="none"/>
<path d="M975.7 467.7L1290.8 85.6" stroke="#F5A077" stroke-width="1.4" fill="none"/>
<path d="M971.2 462L1276.1 82.6" stroke="#F9A78C" stroke-width="1.4" fill="none"/>
<path d="M966.8 456.3L1261.5 80.2" stroke="#FBAFA3" stroke-width="1.4" fill="none"/>
<path d="M962.4 450.6L1247.4 77.7" stroke="#FDB6BA" stroke-width="1.4" fill="none"/>
<path d="M957.9 444.8L1233.8 75.2" stroke="#FCBDCF" stroke-width="1.4" fill="none"/>
<path d="M953.5 439.1L1220.6 72.7" stroke="#FBC5E5" stroke-width="1.4" fill="none"/>
<path d="M949.1 433.4L1207.8 70.2" stroke="#FACCFA" stroke-width="1.4" fill="none"/>
<path d="M1064.4 581.8L1059.9 576.1M1072 577.4L1067.6 571.5M1079.7 573L1075.3 566.8M1087.4 568.6L1083 562.1M1095.1 564.1L1090.7 557.5M1102.8 559.7L1098.3 552.8M1110.5 555.3L1106 548.1M1118.2 550.9L1113.7 543.5M1125.8 546.5L1121.4 538.8M1133.5 542L1129.1 534.1M1141.2 537.6L1136.8 529.5M1148.9 533.2L1144.5 524.8M1156.6 528.8L1152.1 520.1M1164.3 524.3L1159.8 515.4M1172 519.9L1167.5 510.8M1179.6 515.5L1175.2 506.1M1187.3 511.1L1182.9 501.4M1195 506.6L1190.6 496.8M1202.7 502.2L1198.3 492.1M1210.4 497.8L1205.9 487.4M1218.1 493.4L1213.6 482.8M1225.8 489L1221.3 478.1M1233.4 484.5L1229 473.4M1241.1 480.1L1236.7 468.8M1248.8 475.7L1244.4 464.1M1256.5 471.3L1252.1 459.4M1264.2 466.8L1259.7 454.8M1271.9 462.4L1267.4 450.1M1279.5 458L1275.1 445.4M1287.2 453.6L1282.8 440.8M1294.9 449.1L1290.5 436.1M1302.6 444.7L1298.2 431.4M1310.3 440.3L1305.9 426.8M1318 435.9L1313.5 422.1M1325.7 431.5L1321.2 417.4M1333.3 427L1328.9 412.8M1341 422.6L1336.6 408.1M1348.7 418.2L1344.3 403.4M1356.4 413.8L1352 398.8M1364.1 409.3L1359.7 394.1M1371.8 404.9L1367.3 389.4M1379.5 400.5L1375 384.8" stroke="#04205A" stroke-width="1.4" fill="none"/>
<path d="M1059.9 576.1L1055.5 570.4M1067.6 571.5L1063.2 565.5M1075.3 566.8L1070.9 560.6M1083 562.1L1078.5 555.7M1090.7 557.5L1086.2 550.8M1098.3 552.8L1093.9 545.9M1106 548.1L1101.6 540.9M1113.7 543.5L1109.3 536M1121.4 538.8L1117 531.1M1129.1 534.1L1124.7 526.2M1136.8 529.5L1132.3 521.3M1144.5 524.8L1140 516.4M1152.1 520.1L1147.7 511.5M1159.8 515.4L1155.4 506.6M1167.5 510.8L1163.1 501.6M1175.2 506.1L1170.8 496.7M1182.9 501.4L1178.5 491.8M1190.6 496.8L1186.1 486.9M1198.3 492.1L1193.8 482M1205.9 487.4L1201.5 477.1M1213.6 482.8L1209.2 472.2M1221.3 478.1L1216.9 467.3M1229 473.4L1224.6 462.3M1236.7 468.8L1232.3 457.4M1244.4 464.1L1239.9 452.5M1252.1 459.4L1247.6 447.6M1259.7 454.8L1255.3 442.7M1267.4 450.1L1263 437.8M1275.1 445.4L1270.7 432.9M1282.8 440.8L1278.4 428M1290.5 436.1L1286.1 423M1298.2 431.4L1293.7 418.1M1305.9 426.8L1301.4 413.2M1313.5 422.1L1309.1 408.3M1321.2 417.4L1316.8 403.4M1328.9 412.8L1324.5 398.5M1336.6 408.1L1332.2 393.6M1344.3 403.4L1339.8 388.7M1352 398.8L1347.5 383.7M1359.7 394.1L1355.2 378.8M1367.3 389.4L1362.9 373.9M1375 384.8L1370.6 369" stroke="#092D5D" stroke-width="1.4" fill="none"/>
<path d="M1055.5 570.4L1051.1 564.7M1063.2 565.5L1058.7 559.6M1070.9 560.6L1066.4 554.4M1078.5 555.7L1074.1 549.2M1086.2 550.8L1081.8 544.1M1093.9 545.9L1089.5 538.9M1101.6 540.9L1097.2 533.8M1109.3 536L1104.9 528.6M1117 531.1L1112.5 523.5M1124.7 526.2L1120.2 518.3M1132.3 521.3L1127.9 513.1M1140 516.4L1135.6 508M1147.7 511.5L1143.3 502.8M1155.4 506.6L1151 497.7M1163.1 501.6L1158.6 492.5M1170.8 496.7L1166.3 487.4M1178.5 491.8L1174 482.2M1186.1 486.9L1181.7 477M1193.8 482L1189.4 471.9M1201.5 477.1L1197.1 466.7M1209.2 472.2L1204.8 461.6M1216.9 467.3L1212.4 456.4M1224.6 462.3L1220.1 451.3M1232.3 457.4L1227.8 446.1M1239.9 452.5L1235.5 440.9M1247.6 447.6L1243.2 435.8M1255.3 442.7L1250.9 430.6M1263 437.8L1258.6 425.5M1270.7 432.9L1266.2 420.3M1278.4 428L1273.9 415.1M1286.1 423L1281.6 410M1293.7 418.1L1289.3 404.8M1301.4 413.2L1297 399.7M1309.1 408.3L1304.7 394.5M1316.8 403.4L1312.4 389.4M1324.5 398.5L1320 384.2M1332.2 393.6L1327.7 379M1339.8 388.7L1335.4 373.9M1347.5 383.7L1343.1 368.7M1355.2 378.8L1350.8 363.6M1362.9 373.9L1358.5 358.4M1370.6 369L1366.2 353.3" stroke="#0E3A5F" stroke-width="1.4" fill="none"/>
<path d="M1051.1 564.7L1046.6 559M1058.7 559.6L1054.3 553.6M1066.4 554.4L1062 548.2M1074.1 549.2L1069.7 542.8M1081.8 544.1L1077.4 537.4M1089.5 538.9L1085 532M1097.2 533.8L1092.7 526.6M1104.9 528.6L1100.4 521.2M1112.5 523.5L1108.1 515.8M1120.2 518.3L1115.8 510.4M1127.9 513.1L1123.5 505M1135.6 508L1131.2 499.6M1143.3 502.8L1138.8 494.2M1151 497.7L1146.5 488.8M1158.6 492.5L1154.2 483.4M1166.3 487.4L1161.9 478M1174 482.2L1169.6 472.6M1181.7 477L1177.3 467.2M1189.4 471.9L1185 461.8M1197.1 466.7L1192.6 456.4M1204.8 461.6L1200.3 451M1212.4 456.4L1208 445.6M1220.1 451.3L1215.7 440.2M1227.8 446.1L1223.4 434.8M1235.5 440.9L1231.1 429.4M1243.2 435.8L1238.8 424M1250.9 430.6L1246.4 418.5M1258.6 425.5L1254.1 413.1M1266.2 420.3L1261.8 407.7M1273.9 415.1L1269.5 402.3M1281.6 410L1277.2 396.9M1289.3 404.8L1284.9 391.5M1297 399.7L1292.6 386.1M1304.7 394.5L1300.2 380.7M1312.4 389.4L1307.9 375.3M1320 384.2L1315.6 369.9M1327.7 379L1323.3 364.5M1335.4 373.9L1331 359.1M1343.1 368.7L1338.7 353.7M1350.8 363.6L1346.4 348.3M1358.5 358.4L1354 342.9M1366.2 353.3L1361.7 337.5" stroke="#134560" stroke-width="1.4" fill="none"/>
<path d="M1046.6 559L1042.2 553.3M1054.3 553.6L1049.9 547.6M1062 548.2L1057.6 542M1069.7 542.8L1065.2 536.4M1077.4 537.4L1072.9 530.7M1085 532L1080.6 525.1M1092.7 526.6L1088.3 519.4M1100.4 521.2L1096 513.8M1108.1 515.8L1103.7 508.1M1115.8 510.4L1111.4 502.5M1123.5 505L1119 496.8M1131.2 499.6L1126.7 491.2M1138.8 494.2L1134.4 485.5M1146.5 488.8L1142.1 479.9M1154.2 483.4L1149.8 474.2M1161.9 478L1157.5 468.6M1169.6 472.6L1165.2 462.9M1177.3 467.2L1172.8 457.3M1185 461.8L1180.5 451.7M1192.6 456.4L1188.2 446M1200.3 451L1195.9 440.4M1208 445.6L1203.6 434.7M1215.7 440.2L1211.3 429.1M1223.4 434.8L1218.9 423.4M1231.1 429.4L1226.6 417.8M1238.8 424L1234.3 412.1M1246.4 418.5L1242 406.5M1254.1 413.1L1249.7 400.8M1261.8 407.7L1257.4 395.2M1269.5 402.3L1265.1 389.5M1277.2 396.9L1272.7 383.9M1284.9 391.5L1280.4 378.2M1292.6 386.1L1288.1 372.6M1300.2 380.7L1295.8 366.9M1307.9 375.3L1303.5 361.3M1315.6 369.9L1311.2 355.7M1323.3 364.5L1318.9 350M1331 359.1L1326.5 344.4M1338.7 353.7L1334.2 338.7M1346.4 348.3L1341.9 333.1M1354 342.9L1349.6 327.4M1361.7 337.5L1357.3 321.8" stroke="#174E61" stroke-width="1.4" fill="none"/>
<path d="M1042.2 553.3L1037.7 547.6M1049.9 547.6L1045.4 541.7M1057.6 542L1053.1 535.8M1065.2 536.4L1060.8 529.9M1072.9 530.7L1068.5 524M1080.6 525.1L1076.2 518.1M1088.3 519.4L1083.9 512.2M1096 513.8L1091.5 506.3M1103.7 508.1L1099.2 500.5M1111.4 502.5L1106.9 494.6M1119 496.8L1114.6 488.7M1126.7 491.2L1122.3 482.8M1134.4 485.5L1130 476.9M1142.1 479.9L1137.7 471M1149.8 474.2L1145.3 465.1M1157.5 468.6L1153 459.2M1165.2 462.9L1160.7 453.3M1172.8 457.3L1168.4 447.4M1180.5 451.7L1176.1 441.5M1188.2 446L1183.8 435.6M1195.9 440.4L1191.5 429.8M1203.6 434.7L1199.1 423.9M1211.3 429.1L1206.8 418M1218.9 423.4L1214.5 412.1M1226.6 417.8L1222.2 406.2M1234.3 412.1L1229.9 400.3M1242 406.5L1237.6 394.4M1249.7 400.8L1245.3 388.5M1257.4 395.2L1252.9 382.6M1265.1 389.5L1260.6 376.7M1272.7 383.9L1268.3 370.8M1280.4 378.2L1276 364.9M1288.1 372.6L1283.7 359.1M1295.8 366.9L1291.4 353.2M1303.5 361.3L1299.1 347.3M1311.2 355.7L1306.7 341.4M1318.9 350L1314.4 335.5M1326.5 344.4L1322.1 329.6M1334.2 338.7L1329.8 323.7M1341.9 333.1L1337.5 317.8M1349.6 327.4L1345.2 311.9M1357.3 321.8L1352.9 306" stroke="#1B5762" stroke-width="1.4" fill="none"/>
<path d="M1037.7 547.6L1033.3 541.9M1045.4 541.7L1041 535.7M1053.1 535.8L1048.7 529.6M1060.8 529.9L1056.4 523.5M1068.5 524L1064.1 517.3M1076.2 518.1L1071.7 511.2M1083.9 512.2L1079.4 505.1M1091.5 506.3L1087.1 498.9M1099.2 500.5L1094.8 492.8M1106.9 494.6L1102.5 486.7M1114.6 488.7L1110.2 480.5M1122.3 482.8L1117.9 474.4M1130 476.9L1125.5 468.2M1137.7 471L1133.2 462.1M1145.3 465.1L1140.9 456M1153 459.2L1148.6 449.8M1160.7 453.3L1156.3 443.7M1168.4 447.4L1164 437.6M1176.1 441.5L1171.7 431.4M1183.8 435.6L1179.3 425.3M1191.5 429.8L1187 419.1M1199.1 423.9L1194.7 413M1206.8 418L1202.4 406.9M1214.5 412.1L1210.1 400.7M1222.2 406.2L1217.8 394.6M1229.9 400.3L1225.5 388.5M1237.6 394.4L1233.1 382.3M1245.3 388.5L1240.8 376.2M1252.9 382.6L1248.5 370.1M1260.6 376.7L1256.2 363.9M1268.3 370.8L1263.9 357.8M1276 364.9L1271.6 351.6M1283.7 359.1L1279.2 345.5M1291.4 353.2L1286.9 339.4M1299.1 347.3L1294.6 333.2M1306.7 341.4L1302.3 327.1M1314.4 335.5L1310 321M1322.1 329.6L1317.7 314.8M1329.8 323.7L1325.4 308.7M1337.5 317.8L1333 302.6M1345.2 311.9L1340.7 296.4M1352.9 306L1348.4 290.3" stroke="#245F5F" stroke-width="1.4" fill="none"/>
<path d="M1033.3 541.9L1028.9 536.2M1041 535.7L1036.6 529.8M1048.7 529.6L1044.3 523.4M1056.4 523.5L1051.9 517M1064.1 517.3L1059.6 510.6M1071.7 511.2L1067.3 504.3M1079.4 505.1L1075 497.9M1087.1 498.9L1082.7 491.5M1094.8 492.8L1090.4 485.1M1102.5 486.7L1098 478.7M1110.2 480.5L1105.7 472.4M1117.9 474.4L1113.4 466M1125.5 468.2L1121.1 459.6M1133.2 462.1L1128.8 453.2M1140.9 456L1136.5 446.8M1148.6 449.8L1144.2 440.5M1156.3 443.7L1151.8 434.1M1164 437.6L1159.5 427.7M1171.7 431.4L1167.2 421.3M1179.3 425.3L1174.9 414.9M1187 419.1L1182.6 408.5M1194.7 413L1190.3 402.2M1202.4 406.9L1198 395.8M1210.1 400.7L1205.6 389.4M1217.8 394.6L1213.3 383M1225.5 388.5L1221 376.6M1233.1 382.3L1228.7 370.3M1240.8 376.2L1236.4 363.9M1248.5 370.1L1244.1 357.5M1256.2 363.9L1251.8 351.1M1263.9 357.8L1259.4 344.7M1271.6 351.6L1267.1 338.3M1279.2 345.5L1274.8 332M1286.9 339.4L1282.5 325.6M1294.6 333.2L1290.2 319.2M1302.3 327.1L1297.9 312.8M1310 321L1305.6 306.4M1317.7 314.8L1313.2 300.1M1325.4 308.7L1320.9 293.7M1333 302.6L1328.6 287.3M1340.7 296.4L1336.3 280.9M1348.4 290.3L1344 274.5" stroke="#2F655B" stroke-width="1.4" fill="none"/>
<path d="M1028.9 536.2L1024.4 530.5M1036.6 529.8L1032.1 523.8M1044.3 523.4L1039.8 517.2M1051.9 517L1047.5 510.6M1059.6 510.6L1055.2 504M1067.3 504.3L1062.9 497.3M1075 497.9L1070.6 490.7M1082.7 491.5L1078.2 484.1M1090.4 485.1L1085.9 477.5M1098 478.7L1093.6 470.8M1105.7 472.4L1101.3 464.2M1113.4 466L1109 457.6M1121.1 459.6L1116.7 451M1128.8 453.2L1124.4 444.3M1136.5 446.8L1132 437.7M1144.2 440.5L1139.7 431.1M1151.8 434.1L1147.4 424.4M1159.5 427.7L1155.1 417.8M1167.2 421.3L1162.8 411.2M1174.9 414.9L1170.5 404.6M1182.6 408.5L1178.2 397.9M1190.3 402.2L1185.8 391.3M1198 395.8L1193.5 384.7M1205.6 389.4L1201.2 378.1M1213.3 383L1208.9 371.4M1221 376.6L1216.6 364.8M1228.7 370.3L1224.3 358.2M1236.4 363.9L1232 351.6M1244.1 357.5L1239.6 344.9M1251.8 351.1L1247.3 338.3M1259.4 344.7L1255 331.7M1267.1 338.3L1262.7 325.1M1274.8 332L1270.4 318.4M1282.5 325.6L1278.1 311.8M1290.2 319.2L1285.8 305.2M1297.9 312.8L1293.4 298.5M1305.6 306.4L1301.1 291.9M1313.2 300.1L1308.8 285.3M1320.9 293.7L1316.5 278.7M1328.6 287.3L1324.2 272M1336.3 280.9L1331.9 265.4M1344 274.5L1339.5 258.8" stroke="#3A6C57" stroke-width="1.4" fill="none"/>
<path d="M1024.4 530.5L1020 524.8M1032.1 523.8L1027.7 517.9M1039.8 517.2L1035.4 511M1047.5 510.6L1043.1 504.1M1055.2 504L1050.8 497.3M1062.9 497.3L1058.4 490.4M1070.6 490.7L1066.1 483.5M1078.2 484.1L1073.8 476.7M1085.9 477.5L1081.5 469.8M1093.6 470.8L1089.2 462.9M1101.3 464.2L1096.9 456M1109 457.6L1104.6 449.2M1116.7 451L1112.2 442.3M1124.4 444.3L1119.9 435.4M1132 437.7L1127.6 428.6M1139.7 431.1L1135.3 421.7M1147.4 424.4L1143 414.8M1155.1 417.8L1150.7 407.9M1162.8 411.2L1158.3 401.1M1170.5 404.6L1166 394.2M1178.2 397.9L1173.7 387.3M1185.8 391.3L1181.4 380.5M1193.5 384.7L1189.1 373.6M1201.2 378.1L1196.8 366.7M1208.9 371.4L1204.5 359.9M1216.6 364.8L1212.1 353M1224.3 358.2L1219.8 346.1M1232 351.6L1227.5 339.2M1239.6 344.9L1235.2 332.4M1247.3 338.3L1242.9 325.5M1255 331.7L1250.6 318.6M1262.7 325.1L1258.3 311.8M1270.4 318.4L1265.9 304.9M1278.1 311.8L1273.6 298M1285.8 305.2L1281.3 291.1M1293.4 298.5L1289 284.3M1301.1 291.9L1296.7 277.4M1308.8 285.3L1304.4 270.5M1316.5 278.7L1312.1 263.7M1324.2 272L1319.7 256.8M1331.9 265.4L1327.4 249.9M1339.5 258.8L1335.1 243" stroke="#49714F" stroke-width="1.4" fill="none"/>
<path d="M1020 524.8L1015.6 519M1027.7 517.9L1023.3 511.9M1035.4 511L1030.9 504.8M1043.1 504.1L1038.6 497.7M1050.8 497.3L1046.3 490.6M1058.4 490.4L1054 483.5M1066.1 483.5L1061.7 476.4M1073.8 476.7L1069.4 469.2M1081.5 469.8L1077.1 462.1M1089.2 462.9L1084.7 455M1096.9 456L1092.4 447.9M1104.6 449.2L1100.1 440.8M1112.2 442.3L1107.8 433.7M1119.9 435.4L1115.5 426.5M1127.6 428.6L1123.2 419.4M1135.3 421.7L1130.9 412.3M1143 414.8L1138.5 405.2M1150.7 407.9L1146.2 398.1M1158.3 401.1L1153.9 391M1166 394.2L1161.6 383.8M1173.7 387.3L1169.3 376.7M1181.4 380.5L1177 369.6M1189.1 373.6L1184.7 362.5M1196.8 366.7L1192.3 355.4M1204.5 359.9L1200 348.3M1212.1 353L1207.7 341.2M1219.8 346.1L1215.4 334M1227.5 339.2L1223.1 326.9M1235.2 332.4L1230.8 319.8M1242.9 325.5L1238.5 312.7M1250.6 318.6L1246.1 305.6M1258.3 311.8L1253.8 298.5M1265.9 304.9L1261.5 291.3M1273.6 298L1269.2 284.2M1281.3 291.1L1276.9 277.1M1289 284.3L1284.6 270M1296.7 277.4L1292.3 262.9M1304.4 270.5L1299.9 255.8M1312.1 263.7L1307.6 248.6M1319.7 256.8L1315.3 241.5M1327.4 249.9L1323 234.4M1335.1 243L1330.7 227.3" stroke="#587647" stroke-width="1.4" fill="none"/>
<path d="M1015.6 519L1011.1 513.3M1023.3 511.9L1018.8 506M1030.9 504.8L1026.5 498.6M1038.6 497.7L1034.2 491.3M1046.3 490.6L1041.9 483.9M1054 483.5L1049.6 476.5M1061.7 476.4L1057.3 469.2M1069.4 469.2L1064.9 461.8M1077.1 462.1L1072.6 454.5M1084.7 455L1080.3 447.1M1092.4 447.9L1088 439.7M1100.1 440.8L1095.7 432.4M1107.8 433.7L1103.4 425M1115.5 426.5L1111.1 417.7M1123.2 419.4L1118.7 410.3M1130.9 412.3L1126.4 402.9M1138.5 405.2L1134.1 395.6M1146.2 398.1L1141.8 388.2M1153.9 391L1149.5 380.8M1161.6 383.8L1157.2 373.5M1169.3 376.7L1164.9 366.1M1177 369.6L1172.5 358.8M1184.7 362.5L1180.2 351.4M1192.3 355.4L1187.9 344M1200 348.3L1195.6 336.7M1207.7 341.2L1203.3 329.3M1215.4 334L1211 322M1223.1 326.9L1218.6 314.6M1230.8 319.8L1226.3 307.2M1238.5 312.7L1234 299.9M1246.1 305.6L1241.7 292.5M1253.8 298.5L1249.4 285.2M1261.5 291.3L1257.1 277.8M1269.2 284.2L1264.8 270.4M1276.9 277.1L1272.4 263.1M1284.6 270L1280.1 255.7M1292.3 262.9L1287.8 248.4M1299.9 255.8L1295.5 241M1307.6 248.6L1303.2 233.6M1315.3 241.5L1310.9 226.3M1323 234.4L1318.6 218.9M1330.7 227.3L1326.2 211.6" stroke="#677B3E" stroke-width="1.4" fill="none"/>
<path d="M1011.1 513.3L1006.7 507.6M1018.8 506L1014.4 500M1026.5 498.6L1022.1 492.4M1034.2 491.3L1029.8 484.8M1041.9 483.9L1037.4 477.2M1049.6 476.5L1045.1 469.6M1057.3 469.2L1052.8 462M1064.9 461.8L1060.5 454.4M1072.6 454.5L1068.2 446.8M1080.3 447.1L1075.9 439.2M1088 439.7L1083.6 431.6M1095.7 432.4L1091.2 424M1103.4 425L1098.9 416.4M1111.1 417.7L1106.6 408.8M1118.7 410.3L1114.3 401.2M1126.4 402.9L1122 393.6M1134.1 395.6L1129.7 385.9M1141.8 388.2L1137.4 378.3M1149.5 380.8L1145 370.7M1157.2 373.5L1152.7 363.1M1164.9 366.1L1160.4 355.5M1172.5 358.8L1168.1 347.9M1180.2 351.4L1175.8 340.3M1187.9 344L1183.5 332.7M1195.6 336.7L1191.2 325.1M1203.3 329.3L1198.8 317.5M1211 322L1206.5 309.9M1218.6 314.6L1214.2 302.3M1226.3 307.2L1221.9 294.7M1234 299.9L1229.6 287.1M1241.7 292.5L1237.3 279.5M1249.4 285.2L1245 271.9M1257.1 277.8L1252.6 264.3M1264.8 270.4L1260.3 256.7M1272.4 263.1L1268 249M1280.1 255.7L1275.7 241.4M1287.8 248.4L1283.4 233.8M1295.5 241L1291.1 226.2M1303.2 233.6L1298.8 218.6M1310.9 226.3L1306.4 211M1318.6 218.9L1314.1 203.4M1326.2 211.6L1321.8 195.8" stroke="#798038" stroke-width="1.4" fill="none"/>
<path d="M1006.7 507.6L1002.3 501.9M1014.4 500L1010 494.1M1022.1 492.4L1017.6 486.2M1029.8 484.8L1025.3 478.4M1037.4 477.2L1033 470.5M1045.1 469.6L1040.7 462.7M1052.8 462L1048.4 454.8M1060.5 454.4L1056.1 447M1068.2 446.8L1063.8 439.1M1075.9 439.2L1071.4 431.3M1083.6 431.6L1079.1 423.4M1091.2 424L1086.8 415.6M1098.9 416.4L1094.5 407.7M1106.6 408.8L1102.2 399.9M1114.3 401.2L1109.9 392M1122 393.6L1117.6 384.2M1129.7 385.9L1125.2 376.3M1137.4 378.3L1132.9 368.5M1145 370.7L1140.6 360.6M1152.7 363.1L1148.3 352.8M1160.4 355.5L1156 344.9M1168.1 347.9L1163.7 337.1M1175.8 340.3L1171.4 329.2M1183.5 332.7L1179 321.4M1191.2 325.1L1186.7 313.5M1198.8 317.5L1194.4 305.7M1206.5 309.9L1202.1 297.8M1214.2 302.3L1209.8 290M1221.9 294.7L1217.5 282.1M1229.6 287.1L1225.2 274.3M1237.3 279.5L1232.8 266.4M1245 271.9L1240.5 258.6M1252.6 264.3L1248.2 250.7M1260.3 256.7L1255.9 242.9M1268 249L1263.6 235M1275.7 241.4L1271.3 227.2M1283.4 233.8L1278.9 219.3M1291.1 226.2L1286.6 211.5M1298.8 218.6L1294.3 203.6M1306.4 211L1302 195.8M1314.1 203.4L1309.7 187.9M1321.8 195.8L1317.4 180.1" stroke="#8C8431" stroke-width="1.4" fill="none"/>
<path d="M1002.3 501.9L997.8 496.2M1010 494.1L1005.5 488.1M1017.6 486.2L1013.2 480M1025.3 478.4L1020.9 471.9M1033 470.5L1028.6 463.8M1040.7 462.7L1036.3 455.7M1048.4 454.8L1043.9 447.6M1056.1 447L1051.6 439.6M1063.8 439.1L1059.3 431.5M1071.4 431.3L1067 423.4M1079.1 423.4L1074.7 415.3M1086.8 415.6L1082.4 407.2M1094.5 407.7L1090.1 399.1M1102.2 399.9L1097.7 391M1109.9 392L1105.4 382.9M1117.6 384.2L1113.1 374.8M1125.2 376.3L1120.8 366.7M1132.9 368.5L1128.5 358.6M1140.6 360.6L1136.2 350.5M1148.3 352.8L1143.9 342.4M1156 344.9L1151.5 334.3M1163.7 337.1L1159.2 326.2M1171.4 329.2L1166.9 318.1M1179 321.4L1174.6 310M1186.7 313.5L1182.3 301.9M1194.4 305.7L1190 293.8M1202.1 297.8L1197.7 285.7M1209.8 290L1205.3 277.7M1217.5 282.1L1213 269.6M1225.2 274.3L1220.7 261.5M1232.8 266.4L1228.4 253.4M1240.5 258.6L1236.1 245.3M1248.2 250.7L1243.8 237.2M1255.9 242.9L1251.5 229.1M1263.6 235L1259.1 221M1271.3 227.2L1266.8 212.9M1278.9 219.3L1274.5 204.8M1286.6 211.5L1282.2 196.7M1294.3 203.6L1289.9 188.6M1302 195.8L1297.6 180.5M1309.7 187.9L1305.3 172.4M1317.4 180.1L1312.9 164.3" stroke="#9E892B" stroke-width="1.4" fill="none"/>
<path d="M997.8 496.2L993.4 490.5M1005.5 488.1L1001.1 482.2M1013.2 480L1008.8 473.8M1020.9 471.9L1016.5 465.5M1028.6 463.8L1024.1 457.1M1036.3 455.7L1031.8 448.8M1043.9 447.6L1039.5 440.5M1051.6 439.6L1047.2 432.1M1059.3 431.5L1054.9 423.8M1067 423.4L1062.6 415.4M1074.7 415.3L1070.3 407.1M1082.4 407.2L1077.9 398.8M1090.1 399.1L1085.6 390.4M1097.7 391L1093.3 382.1M1105.4 382.9L1101 373.8M1113.1 374.8L1108.7 365.4M1120.8 366.7L1116.4 357.1M1128.5 358.6L1124.1 348.7M1136.2 350.5L1131.7 340.4M1143.9 342.4L1139.4 332.1M1151.5 334.3L1147.1 323.7M1159.2 326.2L1154.8 315.4M1166.9 318.1L1162.5 307M1174.6 310L1170.2 298.7M1182.3 301.9L1177.9 290.4M1190 293.8L1185.5 282M1197.7 285.7L1193.2 273.7M1205.3 277.7L1200.9 265.3M1213 269.6L1208.6 257M1220.7 261.5L1216.3 248.7M1228.4 253.4L1224 240.3M1236.1 245.3L1231.7 232M1243.8 237.2L1239.3 223.6M1251.5 229.1L1247 215.3M1259.1 221L1254.7 207M1266.8 212.9L1262.4 198.6M1274.5 204.8L1270.1 190.3M1282.2 196.7L1277.8 181.9M1289.9 188.6L1285.5 173.6M1297.6 180.5L1293.1 165.3M1305.3 172.4L1300.8 156.9M1312.9 164.3L1308.5 148.6" stroke="#B08D34" stroke-width="1.4" fill="none"/>
<path d="M993.4 490.5L989 484.8M1001.1 482.2L996.7 476.2M1008.8 473.8L1004.3 467.6M1016.5 465.5L1012 459M1024.1 457.1L1019.7 450.5M1031.8 448.8L1027.4 441.9M1039.5 440.5L1035.1 433.3M1047.2 432.1L1042.8 424.7M1054.9 423.8L1050.5 416.1M1062.6 415.4L1058.1 407.5M1070.3 407.1L1065.8 399M1077.9 398.8L1073.5 390.4M1085.6 390.4L1081.2 381.8M1093.3 382.1L1088.9 373.2M1101 373.8L1096.6 364.6M1108.7 365.4L1104.3 356M1116.4 357.1L1111.9 347.4M1124.1 348.7L1119.6 338.9M1131.7 340.4L1127.3 330.3M1139.4 332.1L1135 321.7M1147.1 323.7L1142.7 313.1M1154.8 315.4L1150.4 304.5M1162.5 307L1158 295.9M1170.2 298.7L1165.7 287.4M1177.9 290.4L1173.4 278.8M1185.5 282L1181.1 270.2M1193.2 273.7L1188.8 261.6M1200.9 265.3L1196.5 253M1208.6 257L1204.2 244.4M1216.3 248.7L1211.8 235.8M1224 240.3L1219.5 227.3M1231.7 232L1227.2 218.7M1239.3 223.6L1234.9 210.1M1247 215.3L1242.6 201.5M1254.7 207L1250.3 192.9M1262.4 198.6L1258 184.3M1270.1 190.3L1265.6 175.8M1277.8 181.9L1273.3 167.2M1285.5 173.6L1281 158.6M1293.1 165.3L1288.7 150M1300.8 156.9L1296.4 141.4M1308.5 148.6L1304.1 132.8" stroke="#C3903C" stroke-width="1.4" fill="none"/>
<path d="M989 484.8L984.5 479.1M996.7 476.2L992.2 470.3M1004.3 467.6L999.9 461.4M1012 459L1007.6 452.6M1019.7 450.5L1015.3 443.8M1027.4 441.9L1023 434.9M1035.1 433.3L1030.6 426.1M1042.8 424.7L1038.3 417.3M1050.5 416.1L1046 408.5M1058.1 407.5L1053.7 399.6M1065.8 399L1061.4 390.8M1073.5 390.4L1069.1 382M1081.2 381.8L1076.8 373.1M1088.9 373.2L1084.4 364.3M1096.6 364.6L1092.1 355.5M1104.3 356L1099.8 346.7M1111.9 347.4L1107.5 337.8M1119.6 338.9L1115.2 329M1127.3 330.3L1122.9 320.2M1135 321.7L1130.6 311.3M1142.7 313.1L1138.2 302.5M1150.4 304.5L1145.9 293.7M1158 295.9L1153.6 284.8M1165.7 287.4L1161.3 276M1173.4 278.8L1169 267.2M1181.1 270.2L1176.7 258.4M1188.8 261.6L1184.4 249.5M1196.5 253L1192 240.7M1204.2 244.4L1199.7 231.9M1211.8 235.8L1207.4 223M1219.5 227.3L1215.1 214.2M1227.2 218.7L1222.8 205.4M1234.9 210.1L1230.5 196.5M1242.6 201.5L1238.2 187.7M1250.3 192.9L1245.8 178.9M1258 184.3L1253.5 170.1M1265.6 175.8L1261.2 161.2M1273.3 167.2L1268.9 152.4M1281 158.6L1276.6 143.6M1288.7 150L1284.3 134.7M1296.4 141.4L1292 125.9M1304.1 132.8L1299.6 117.1" stroke="#D49446" stroke-width="1.4" fill="none"/>
<path d="M984.5 479.1L980.1 473.4M992.2 470.3L987.8 464.3M999.9 461.4L995.5 455.2M1007.6 452.6L1003.2 446.2M1015.3 443.8L1010.8 437.1M1023 434.9L1018.5 428M1030.6 426.1L1026.2 418.9M1038.3 417.3L1033.9 409.9M1046 408.5L1041.6 400.8M1053.7 399.6L1049.3 391.7M1061.4 390.8L1057 382.6M1069.1 382L1064.6 373.6M1076.8 373.1L1072.3 364.5M1084.4 364.3L1080 355.4M1092.1 355.5L1087.7 346.3M1099.8 346.7L1095.4 337.3M1107.5 337.8L1103.1 328.2M1115.2 329L1110.8 319.1M1122.9 320.2L1118.4 310M1130.6 311.3L1126.1 301M1138.2 302.5L1133.8 291.9M1145.9 293.7L1141.5 282.8M1153.6 284.8L1149.2 273.7M1161.3 276L1156.9 264.7M1169 267.2L1164.6 255.6M1176.7 258.4L1172.2 246.5M1184.4 249.5L1179.9 237.5M1192 240.7L1187.6 228.4M1199.7 231.9L1195.3 219.3M1207.4 223L1203 210.2M1215.1 214.2L1210.7 201.2M1222.8 205.4L1218.3 192.1M1230.5 196.5L1226 183M1238.2 187.7L1233.7 173.9M1245.8 178.9L1241.4 164.9M1253.5 170.1L1249.1 155.8M1261.2 161.2L1256.8 146.7M1268.9 152.4L1264.5 137.6M1276.6 143.6L1272.1 128.6M1284.3 134.7L1279.8 119.5M1292 125.9L1287.5 110.4M1299.6 117.1L1295.2 101.3" stroke="#E1995A" stroke-width="1.4" fill="none"/>
<path d="M980.1 473.4L975.7 467.7M987.8 464.3L983.3 458.4M995.5 455.2L991 449M1003.2 446.2L998.7 439.7M1010.8 437.1L1006.4 430.4M1018.5 428L1014.1 421.1M1026.2 418.9L1021.8 411.8M1033.9 409.9L1029.5 402.4M1041.6 400.8L1037.1 393.1M1049.3 391.7L1044.8 383.8M1057 382.6L1052.5 374.5M1064.6 373.6L1060.2 365.2M1072.3 364.5L1067.9 355.8M1080 355.4L1075.6 346.5M1087.7 346.3L1083.3 337.2M1095.4 337.3L1090.9 327.9M1103.1 328.2L1098.6 318.6M1110.8 319.1L1106.3 309.3M1118.4 310L1114 299.9M1126.1 301L1121.7 290.6M1133.8 291.9L1129.4 281.3M1141.5 282.8L1137.1 272M1149.2 273.7L1144.7 262.7M1156.9 264.7L1152.4 253.3M1164.6 255.6L1160.1 244M1172.2 246.5L1167.8 234.7M1179.9 237.5L1175.5 225.4M1187.6 228.4L1183.2 216.1M1195.3 219.3L1190.9 206.7M1203 210.2L1198.5 197.4M1210.7 201.2L1206.2 188.1M1218.3 192.1L1213.9 178.8M1226 183L1221.6 169.5M1233.7 173.9L1229.3 160.1M1241.4 164.9L1237 150.8M1249.1 155.8L1244.7 141.5M1256.8 146.7L1252.3 132.2M1264.5 137.6L1260 122.9M1272.1 128.6L1267.7 113.6M1279.8 119.5L1275.4 104.2M1287.5 110.4L1283.1 94.9M1295.2 101.3L1290.8 85.6" stroke="#EE9E6D" stroke-width="1.4" fill="none"/>
<path d="M975.7 467.7L971.2 462M983.3 458.4L978.9 452.4M991 449L986.6 442.8M998.7 439.7L994.3 433.3M1006.4 430.4L1002 423.7M1014.1 421.1L1009.7 414.1M1021.8 411.8L1017.3 404.6M1029.5 402.4L1025 395M1037.1 393.1L1032.7 385.5M1044.8 383.8L1040.4 375.9M1052.5 374.5L1048.1 366.3M1060.2 365.2L1055.8 356.8M1067.9 355.8L1063.5 347.2M1075.6 346.5L1071.1 337.6M1083.3 337.2L1078.8 328.1M1090.9 327.9L1086.5 318.5M1098.6 318.6L1094.2 308.9M1106.3 309.3L1101.9 299.4M1114 299.9L1109.6 289.8M1121.7 290.6L1117.3 280.3M1129.4 281.3L1124.9 270.7M1137.1 272L1132.6 261.1M1144.7 262.7L1140.3 251.6M1152.4 253.3L1148 242M1160.1 244L1155.7 232.4M1167.8 234.7L1163.4 222.9M1175.5 225.4L1171.1 213.3M1183.2 216.1L1178.7 203.7M1190.9 206.7L1186.4 194.2M1198.5 197.4L1194.1 184.6M1206.2 188.1L1201.8 175.1M1213.9 178.8L1209.5 165.5M1221.6 169.5L1217.2 155.9M1229.3 160.1L1224.9 146.4M1237 150.8L1232.5 136.8M1244.7 141.5L1240.2 127.2M1252.3 132.2L1247.9 117.7M1260 122.9L1255.6 108.1M1267.7 113.6L1263.3 98.5M1275.4 104.2L1271 89M1283.1 94.9L1279.7 83.1M1290.8 85.6L1290.5 84.8" stroke="#F8A381" stroke-width="1.4" fill="none"/>
<path d="M971.2 462L966.8 456.3M978.9 452.4L974.5 446.5M986.6 442.8L982.2 436.6M994.3 433.3L989.9 426.8M1002 423.7L997.5 417M1009.7 414.1L1005.2 407.2M1017.3 404.6L1012.9 397.4M1025 395L1020.6 387.6M1032.7 385.5L1028.3 377.8M1040.4 375.9L1036 368M1048.1 366.3L1043.6 358.2M1055.8 356.8L1051.3 348.4M1063.5 347.2L1059 338.6M1071.1 337.6L1066.7 328.7M1078.8 328.1L1074.4 318.9M1086.5 318.5L1082.1 309.1M1094.2 308.9L1089.8 299.3M1101.9 299.4L1097.4 289.5M1109.6 289.8L1105.1 279.7M1117.3 280.3L1112.8 269.9M1124.9 270.7L1120.5 260.1M1132.6 261.1L1128.2 250.3M1140.3 251.6L1135.9 240.5M1148 242L1143.6 230.7M1155.7 232.4L1151.2 220.9M1163.4 222.9L1158.9 211M1171.1 213.3L1166.6 201.2M1178.7 203.7L1174.3 191.4M1186.4 194.2L1182 181.6M1194.1 184.6L1189.7 171.8M1201.8 175.1L1197.4 162M1209.5 165.5L1205 152.2M1217.2 155.9L1212.7 142.4M1224.9 146.4L1220.4 132.6M1232.5 136.8L1228.1 122.8M1240.2 127.2L1235.8 113M1247.9 117.7L1243.5 103.1M1255.6 108.1L1251.2 93.3M1263.3 98.5L1258.8 83.5M1271 89L1268.8 81.4" stroke="#FAAB98" stroke-width="1.4" fill="none"/>
<path d="M966.8 456.3L962.4 450.6M974.5 446.5L970 440.5M982.2 436.6L977.7 430.4M989.9 426.8L985.4 420.4M997.5 417L993.1 410.3M1005.2 407.2L1000.8 400.3M1012.9 397.4L1008.5 390.2M1020.6 387.6L1016.2 380.2M1028.3 377.8L1023.8 370.1M1036 368L1031.5 360.1M1043.6 358.2L1039.2 350M1051.3 348.4L1046.9 340M1059 338.6L1054.6 329.9M1066.7 328.7L1062.3 319.9M1074.4 318.9L1070 309.8M1082.1 309.1L1077.6 299.7M1089.8 299.3L1085.3 289.7M1097.4 289.5L1093 279.6M1105.1 279.7L1100.7 269.6M1112.8 269.9L1108.4 259.5M1120.5 260.1L1116.1 249.5M1128.2 250.3L1123.8 239.4M1135.9 240.5L1131.4 229.4M1143.6 230.7L1139.1 219.3M1151.2 220.9L1146.8 209.3M1158.9 211L1154.5 199.2M1166.6 201.2L1162.2 189.2M1174.3 191.4L1169.9 179.1M1182 181.6L1177.6 169.1M1189.7 171.8L1185.2 159M1197.4 162L1192.9 148.9M1205 152.2L1200.6 138.9M1212.7 142.4L1208.3 128.8M1220.4 132.6L1216 118.8M1228.1 122.8L1223.7 108.7M1235.8 113L1231.4 98.7M1243.5 103.1L1239 88.6M1251.2 93.3L1246.7 78.6M1258.8 83.5L1257.7 79.5" stroke="#FCB2AE" stroke-width="1.4" fill="none"/>
<path d="M962.4 450.6L957.9 444.8M970 440.5L965.6 434.5M977.7 430.4L973.3 424.2M985.4 420.4L981 413.9M993.1 410.3L988.7 403.7M1000.8 400.3L996.4 393.4M1008.5 390.2L1004 383.1M1016.2 380.2L1011.7 372.8M1023.8 370.1L1019.4 362.5M1031.5 360.1L1027.1 352.2M1039.2 350L1034.8 341.9M1046.9 340L1042.5 331.6M1054.6 329.9L1050.2 321.3M1062.3 319.9L1057.8 311M1070 309.8L1065.5 300.7M1077.6 299.7L1073.2 290.4M1085.3 289.7L1080.9 280.1M1093 279.6L1088.6 269.8M1100.7 269.6L1096.3 259.5M1108.4 259.5L1104 249.2M1116.1 249.5L1111.6 238.9M1123.8 239.4L1119.3 228.6M1131.4 229.4L1127 218.3M1139.1 219.3L1134.7 208M1146.8 209.3L1142.4 197.7M1154.5 199.2L1150.1 187.4M1162.2 189.2L1157.7 177.1M1169.9 179.1L1165.4 166.8M1177.6 169.1L1173.1 156.5M1185.2 159L1180.8 146.2M1192.9 148.9L1188.5 135.9M1200.6 138.9L1196.2 125.6M1208.3 128.8L1203.9 115.3M1216 118.8L1211.5 105M1223.7 108.7L1219.2 94.7M1231.4 98.7L1226.9 84.4M1239 88.6L1235 75.5M1246.7 78.6L1246.4 77.5" stroke="#FDBAC4" stroke-width="1.4" fill="none"/>
<path d="M957.9 444.8L953.5 439.1M965.6 434.5L961.2 428.6M973.3 424.2L968.9 418M981 413.9L976.5 407.5M988.7 403.7L984.2 397M996.4 393.4L991.9 386.4M1004 383.1L999.6 375.9M1011.7 372.8L1007.3 365.3M1019.4 362.5L1015 354.8M1027.1 352.2L1022.7 344.2M1034.8 341.9L1030.3 333.7M1042.5 331.6L1038 323.2M1050.2 321.3L1045.7 312.6M1057.8 311L1053.4 302.1M1065.5 300.7L1061.1 291.5M1073.2 290.4L1068.8 281M1080.9 280.1L1076.5 270.4M1088.6 269.8L1084.1 259.9M1096.3 259.5L1091.8 249.4M1104 249.2L1099.5 238.8M1111.6 238.9L1107.2 228.3M1119.3 228.6L1114.9 217.7M1127 218.3L1122.6 207.2M1134.7 208L1130.3 196.6M1142.4 197.7L1137.9 186.1M1150.1 187.4L1145.6 175.6M1157.7 177.1L1153.3 165M1165.4 166.8L1161 154.5M1173.1 156.5L1168.7 143.9M1180.8 146.2L1176.4 133.4M1188.5 135.9L1184.1 122.8M1196.2 125.6L1191.7 112.3M1203.9 115.3L1199.4 101.8M1211.5 105L1207.1 91.2M1219.2 94.7L1214.8 80.7M1226.9 84.4L1223.5 73.3" stroke="#FCC1DA" stroke-width="1.4" fill="none"/>
<path d="M953.5 439.1L949.1 433.4M961.2 428.6L956.7 422.6M968.9 418L964.4 411.9M976.5 407.5L972.1 401.1M984.2 397L979.8 390.3M991.9 386.4L987.5 379.5M999.6 375.9L995.2 368.7M1007.3 365.3L1002.9 357.9M1015 354.8L1010.5 347.1M1022.7 344.2L1018.2 336.3M1030.3 333.7L1025.9 325.5M1038 323.2L1033.6 314.8M1045.7 312.6L1041.3 304M1053.4 302.1L1049 293.2M1061.1 291.5L1056.7 282.4M1068.8 281L1064.3 271.6M1076.5 270.4L1072 260.8M1084.1 259.9L1079.7 250M1091.8 249.4L1087.4 239.2M1099.5 238.8L1095.1 228.5M1107.2 228.3L1102.8 217.7M1114.9 217.7L1110.5 206.9M1122.6 207.2L1118.1 196.1M1130.3 196.6L1125.8 185.3M1137.9 186.1L1133.5 174.5M1145.6 175.6L1141.2 163.7M1153.3 165L1148.9 152.9M1161 154.5L1156.6 142.2M1168.7 143.9L1164.3 131.4M1176.4 133.4L1171.9 120.6M1184.1 122.8L1179.6 109.8M1191.7 112.3L1187.3 99M1199.4 101.8L1195 88.2M1207.1 91.2L1202.7 77.4M1214.8 80.7L1211.7 71" stroke="#FBC8EF" stroke-width="1.4" fill="none"/>
<polygon points="1144.5,181.2 1135.8,196.2 1153.2,196.2" fill="#FBC6E9" stroke="#000" stroke-width="1.25" stroke-linejoin="miter"/>
<polygon points="1050.6,304.3 1052.4,309.8 1058.2,309.8 1053.5,313.2 1055.3,318.7 1050.6,315.3 1045.9,318.7 1047.7,313.2 1043,309.8 1048.8,309.8" fill="#FBC6E9" stroke="#000" stroke-width="1.25"/>
<polygon points="1184.3,119.5 1175.6,134.5 1193,134.5" fill="#FBC6E9" stroke="#000" stroke-width="1.25" stroke-linejoin="miter"/>
<polygon points="1163.9,107.7 1155.2,122.7 1172.6,122.7" fill="#FBC6E9" stroke="#000" stroke-width="1.25" stroke-linejoin="miter"/>
<polygon points="1159.3,102.4 1150.6,117.4 1168,117.4" fill="#FBC6E9" stroke="#000" stroke-width="1.25" stroke-linejoin="miter"/>
<polygon points="1240.7,102 1232,117 1249.4,117" fill="#FCB3B1" stroke="#000" stroke-width="1.25" stroke-linejoin="miter"/>
<polygon points="1008.5,392.4 1015.9,402.2 1008.5,412 1001.1,402.2" fill="#FCB3B1" stroke="#000" stroke-width="1.25"/>
<polygon points="1069.5,306.6 1076.9,316.4 1069.5,326.2 1062.1,316.4" fill="#FCB3B1" stroke="#000" stroke-width="1.25"/>
<circle cx="990.4" cy="419.3" r="7" fill="#FCB3B1" stroke="#000" stroke-width="1.25"/>
<polygon points="1025.7,358.5 1033.1,368.3 1025.7,378.1 1018.3,368.3" fill="#FCB3B1" stroke="#000" stroke-width="1.25"/>
<circle cx="1131" cy="223.5" r="7" fill="#FCB3B1" stroke="#000" stroke-width="1.25"/>
<circle cx="1130.3" cy="223.4" r="7" fill="#FCB3B1" stroke="#000" stroke-width="1.25"/>
<circle cx="1109" cy="252.6" r="7" fill="#FCB3B1" stroke="#000" stroke-width="1.25"/>
<circle cx="1109" cy="252.4" r="7" fill="#FCB3B1" stroke="#000" stroke-width="1.25"/>
<circle cx="998.4" cy="404.4" r="7" fill="#FCB3B1" stroke="#000" stroke-width="1.25"/>
<circle cx="996.5" cy="404.1" r="7" fill="#FCB3B1" stroke="#000" stroke-width="1.25"/>
<polygon points="1208.4,104.7 1199.7,119.7 1217.1,119.7" fill="#FCB3B1" stroke="#000" stroke-width="1.25" stroke-linejoin="miter"/>
<polygon points="1146,185.1 1137.3,200.1 1154.7,200.1" fill="#FCB3B1" stroke="#000" stroke-width="1.25" stroke-linejoin="miter"/>
<polygon points="1208.4,94.5 1199.7,109.5 1217.1,109.5" fill="#FCB3B1" stroke="#000" stroke-width="1.25" stroke-linejoin="miter"/>
<polygon points="1085.3,256.5 1092.7,266.3 1085.3,276.1 1077.9,266.3" fill="#FCB3B1" stroke="#000" stroke-width="1.25"/>
<polygon points="1085.3,255.7 1092.7,265.5 1085.3,275.3 1077.9,265.5" fill="#FCB3B1" stroke="#000" stroke-width="1.25"/>
<rect x="1018.1" y="343.5" width="10" height="10" fill="#FCB3B1" stroke="#000" stroke-width="1.25"/>
<polygon points="1086.9,249.4 1094.3,259.2 1086.9,269 1079.5,259.2" fill="#FCB3B1" stroke="#000" stroke-width="1.25"/>
<polygon points="1066.3,274 1073.7,283.8 1066.3,293.6 1058.9,283.8" fill="#FCB3B1" stroke="#000" stroke-width="1.25"/>
<polygon points="1074.1,263.3 1081.5,273.1 1074.1,282.9 1066.7,273.1" fill="#FCB3B1" stroke="#000" stroke-width="1.25"/>
<polygon points="1066.3,273.3 1073.7,283.1 1066.3,292.9 1058.9,283.1" fill="#FCB3B1" stroke="#000" stroke-width="1.25"/>
<polygon points="1150.7,158.8 1142,173.8 1159.4,173.8" fill="#FCB3B1" stroke="#000" stroke-width="1.25" stroke-linejoin="miter"/>
<polygon points="1074.3,261.4 1081.7,271.2 1074.3,281 1066.9,271.2" fill="#FCB3B1" stroke="#000" stroke-width="1.25"/>
<polygon points="1088.4,241.1 1095.8,250.9 1088.4,260.7 1081,250.9" fill="#FCB3B1" stroke="#000" stroke-width="1.25"/>
<polygon points="1072.4,261.2 1079.8,271 1072.4,280.8 1065,271" fill="#FCB3B1" stroke="#000" stroke-width="1.25"/>
<polygon points="1087,240.9 1094.4,250.7 1087,260.5 1079.6,250.7" fill="#FCB3B1" stroke="#000" stroke-width="1.25"/>
<circle cx="967.9" cy="402.7" r="7" fill="#FCB3B1" stroke="#000" stroke-width="1.25"/>
<polygon points="1098.1,206.4 1089.4,221.4 1106.8,221.4" fill="#FCB3B1" stroke="#000" stroke-width="1.25" stroke-linejoin="miter"/>
<polygon points="1249,137.9 1240.3,152.9 1257.7,152.9" fill="#F8A17C" stroke="#000" stroke-width="1.25" stroke-linejoin="miter"/>
<polygon points="1072.4,235.4 1063.7,250.4 1081.1,250.4" fill="#FCB3B1" stroke="#000" stroke-width="1.25" stroke-linejoin="miter"/>
<polygon points="1166.7,105.4 1158,120.4 1175.4,120.4" fill="#FCB3B1" stroke="#000" stroke-width="1.25" stroke-linejoin="miter"/>
<polygon points="1167.2,101.2 1158.5,116.2 1175.9,116.2" fill="#FCB3B1" stroke="#000" stroke-width="1.25" stroke-linejoin="miter"/>
<polygon points="1072.7,226.6 1064,241.6 1081.4,241.6" fill="#FCB3B1" stroke="#000" stroke-width="1.25" stroke-linejoin="miter"/>
<polygon points="1193.7,201.1 1185,216.1 1202.4,216.1" fill="#F8A17C" stroke="#000" stroke-width="1.25" stroke-linejoin="miter"/>
<polygon points="1233.1,146.9 1224.4,161.9 1241.8,161.9" fill="#F8A17C" stroke="#000" stroke-width="1.25" stroke-linejoin="miter"/>
<polygon points="1180.9,216.6 1172.2,231.6 1189.6,231.6" fill="#F8A17C" stroke="#000" stroke-width="1.25" stroke-linejoin="miter"/>
<polygon points="1119.4,289.3 1110.7,304.3 1128.1,304.3" fill="#F8A17C" stroke="#000" stroke-width="1.25" stroke-linejoin="miter"/>
<circle cx="1100.5" cy="319.1" r="7" fill="#F8A17C" stroke="#000" stroke-width="1.25"/>
<circle cx="1100.4" cy="319.2" r="7" fill="#F8A17C" stroke="#000" stroke-width="1.25"/>
<polygon points="1116.9,288.6 1108.2,303.6 1125.6,303.6" fill="#F8A17C" stroke="#000" stroke-width="1.25" stroke-linejoin="miter"/>
<polygon points="1138.3,257.2 1129.6,272.2 1147,272.2" fill="#F8A17C" stroke="#000" stroke-width="1.25" stroke-linejoin="miter"/>
<polygon points="1082.2,348.4 1073.5,333.4 1090.9,333.4" fill="#F8A17C" stroke="#000" stroke-width="1.25"/>
<circle cx="1016.6" cy="431.1" r="7" fill="#F8A17C" stroke="#000" stroke-width="1.25"/>
<circle cx="1016.5" cy="429.9" r="7" fill="#F8A17C" stroke="#000" stroke-width="1.25"/>
<circle cx="1027.5" cy="413.4" r="7" fill="#F8A17C" stroke="#000" stroke-width="1.25"/>
<circle cx="1128.5" cy="274.2" r="7" fill="#F8A17C" stroke="#000" stroke-width="1.25"/>
<circle cx="1128" cy="274.5" r="7" fill="#F8A17C" stroke="#000" stroke-width="1.25"/>
<polygon points="1081,313.9 1088.4,323.7 1081,333.5 1073.6,323.7" fill="#F8A17C" stroke="#000" stroke-width="1.25"/>
<circle cx="976.5" cy="464.7" r="7" fill="#F8A17C" stroke="#000" stroke-width="1.25"/>
<circle cx="1099.3" cy="293.3" r="7" fill="#F8A17C" stroke="#000" stroke-width="1.25"/>
<circle cx="1098.8" cy="293.7" r="7" fill="#F8A17C" stroke="#000" stroke-width="1.25"/>
<circle cx="1054.6" cy="353.3" r="7" fill="#F8A17C" stroke="#000" stroke-width="1.25"/>
<polygon points="1037,367.4 1044.4,377.2 1037,387 1029.6,377.2" fill="#F8A17C" stroke="#000" stroke-width="1.25"/>
<circle cx="1054.2" cy="353.1" r="7" fill="#F8A17C" stroke="#000" stroke-width="1.25"/>
<circle cx="1134.7" cy="242.1" r="7" fill="#F8A17C" stroke="#000" stroke-width="1.25"/>
<circle cx="1132.8" cy="242" r="7" fill="#F8A17C" stroke="#000" stroke-width="1.25"/>
<circle cx="991" cy="436.3" r="7" fill="#F8A17C" stroke="#000" stroke-width="1.25"/>
<circle cx="1105.2" cy="278.7" r="7" fill="#F8A17C" stroke="#000" stroke-width="1.25"/>
<circle cx="1104.7" cy="279.2" r="7" fill="#F8A17C" stroke="#000" stroke-width="1.25"/>
<polygon points="1034.6,365.7 1042,375.5 1034.6,385.3 1027.2,375.5" fill="#F8A17C" stroke="#000" stroke-width="1.25"/>
<polygon points="1059.1,331.8 1066.5,341.6 1059.1,351.4 1051.7,341.6" fill="#F8A17C" stroke="#000" stroke-width="1.25"/>
<polygon points="1035.6,362.7 1043,372.5 1035.6,382.3 1028.2,372.5" fill="#F8A17C" stroke="#000" stroke-width="1.25"/>
<polygon points="1057.8,325.6 1065.2,335.4 1057.8,345.2 1050.4,335.4" fill="#F8A17C" stroke="#000" stroke-width="1.25"/>
<polygon points="1056.6,324.6 1064,334.4 1056.6,344.2 1049.2,334.4" fill="#F8A17C" stroke="#000" stroke-width="1.25"/>
<polygon points="1048,336.4 1055.4,346.2 1048,356 1040.6,346.2" fill="#F8A17C" stroke="#000" stroke-width="1.25"/>
<polygon points="1048.2,336.1 1055.6,345.9 1048.2,355.7 1040.8,345.9" fill="#F8A17C" stroke="#000" stroke-width="1.25"/>
<polygon points="1081.5,290 1088.9,299.8 1081.5,309.6 1074.1,299.8" fill="#F8A17C" stroke="#000" stroke-width="1.25"/>
<polygon points="1022.9,370.2 1030.3,380 1022.9,389.8 1015.5,380" fill="#F8A17C" stroke="#000" stroke-width="1.25"/>
<polygon points="1021.5,369.6 1028.9,379.4 1021.5,389.2 1014.1,379.4" fill="#F8A17C" stroke="#000" stroke-width="1.25"/>
<polygon points="1021.2,369.3 1028.6,379.1 1021.2,388.9 1013.8,379.1" fill="#F8A17C" stroke="#000" stroke-width="1.25"/>
<circle cx="1110.2" cy="255.3" r="7" fill="#F8A17C" stroke="#000" stroke-width="1.25"/>
<circle cx="1109.9" cy="255.1" r="7" fill="#F8A17C" stroke="#000" stroke-width="1.25"/>
<polygon points="1060.3,311.9 1067.7,321.7 1060.3,331.5 1052.9,321.7" fill="#F8A17C" stroke="#000" stroke-width="1.25"/>
<polygon points="1059.3,312.7 1066.7,322.5 1059.3,332.3 1051.9,322.5" fill="#F8A17C" stroke="#000" stroke-width="1.25"/>
<circle cx="1002.6" cy="399" r="7" fill="#F8A17C" stroke="#000" stroke-width="1.25"/>
<rect x="1013" y="370.6" width="10" height="10" fill="#F8A17C" stroke="#000" stroke-width="1.25"/>
<circle cx="1126.7" cy="223.1" r="7" fill="#F8A17C" stroke="#000" stroke-width="1.25"/>
<circle cx="1125.7" cy="222.5" r="7" fill="#F8A17C" stroke="#000" stroke-width="1.25"/>
<polygon points="1125.9,212.1 1117.2,227.1 1134.6,227.1" fill="#F8A17C" stroke="#000" stroke-width="1.25" stroke-linejoin="miter"/>
<circle cx="1113.1" cy="235.6" r="7" fill="#F8A17C" stroke="#000" stroke-width="1.25"/>
<circle cx="1113.3" cy="235.3" r="7" fill="#F8A17C" stroke="#000" stroke-width="1.25"/>
<polygon points="1124.2,224 1115.5,209 1132.9,209" fill="#F8A17C" stroke="#000" stroke-width="1.25"/>
<polygon points="1114.5,214.7 1105.8,229.7 1123.2,229.7" fill="#F8A17C" stroke="#000" stroke-width="1.25" stroke-linejoin="miter"/>
<polygon points="1100.4,214.2 1091.7,229.2 1109.1,229.2" fill="#F8A17C" stroke="#000" stroke-width="1.25" stroke-linejoin="miter"/>
<polygon points="1205.8,247.7 1197.1,262.7 1214.5,262.7" fill="#CF9242" stroke="#000" stroke-width="1.25" stroke-linejoin="miter"/>
<polygon points="1155.8,295.4 1147.1,310.4 1164.5,310.4" fill="#CF9242" stroke="#000" stroke-width="1.25" stroke-linejoin="miter"/>
<polygon points="1194.8,237.2 1186.1,252.2 1203.5,252.2" fill="#CF9242" stroke="#000" stroke-width="1.25" stroke-linejoin="miter"/>
<polygon points="1177.1,259.6 1168.4,274.6 1185.8,274.6" fill="#CF9242" stroke="#000" stroke-width="1.25" stroke-linejoin="miter"/>
<polygon points="1251.8,155.3 1243.1,170.3 1260.5,170.3" fill="#CF9242" stroke="#000" stroke-width="1.25" stroke-linejoin="miter"/>
<polygon points="1160.1,277.2 1151.4,292.2 1168.8,292.2" fill="#CF9242" stroke="#000" stroke-width="1.25" stroke-linejoin="miter"/>
<polygon points="1161.8,274.7 1153.1,289.7 1170.5,289.7" fill="#CF9242" stroke="#000" stroke-width="1.25" stroke-linejoin="miter"/>
<polygon points="1127,322 1118.3,337 1135.7,337" fill="#CF9242" stroke="#000" stroke-width="1.25" stroke-linejoin="miter"/>
<polygon points="1160.1,275.6 1151.4,290.6 1168.8,290.6" fill="#CF9242" stroke="#000" stroke-width="1.25" stroke-linejoin="miter"/>
<polygon points="1111.9,334.8 1103.2,349.8 1120.6,349.8" fill="#CF9242" stroke="#000" stroke-width="1.25" stroke-linejoin="miter"/>
<polygon points="1152.1,269.8 1143.4,284.8 1160.8,284.8" fill="#CF9242" stroke="#000" stroke-width="1.25" stroke-linejoin="miter"/>
<polygon points="1082.6,364.5 1073.9,379.5 1091.3,379.5" fill="#CF9242" stroke="#000" stroke-width="1.25" stroke-linejoin="miter"/>
<polygon points="1130,298.7 1121.3,313.7 1138.7,313.7" fill="#CF9242" stroke="#000" stroke-width="1.25" stroke-linejoin="miter"/>
<polygon points="1040.6,420.5 1031.9,435.5 1049.3,435.5" fill="#CF9242" stroke="#000" stroke-width="1.25" stroke-linejoin="miter"/>
<polygon points="1082.6,357 1073.9,372 1091.3,372" fill="#CF9242" stroke="#000" stroke-width="1.25" stroke-linejoin="miter"/>
<polygon points="1159.5,250.5 1150.8,265.5 1168.2,265.5" fill="#CF9242" stroke="#000" stroke-width="1.25" stroke-linejoin="miter"/>
<rect x="1057.2" y="386.1" width="10" height="10" fill="#CF9242" stroke="#000" stroke-width="1.25"/>
<polygon points="1020.1,438.9 1011.4,453.9 1028.8,453.9" fill="#CF9242" stroke="#000" stroke-width="1.25" stroke-linejoin="miter"/>
<rect x="1044.4" y="394.5" width="10" height="10" fill="#CF9242" stroke="#000" stroke-width="1.25"/>
<polygon points="1132.6,273.8 1123.9,288.8 1141.3,288.8" fill="#CF9242" stroke="#000" stroke-width="1.25" stroke-linejoin="miter"/>
<rect x="1053.7" y="376.8" width="10" height="10" fill="#CF9242" stroke="#000" stroke-width="1.25"/>
<rect x="1052.9" y="377.8" width="10" height="10" fill="#CF9242" stroke="#000" stroke-width="1.25"/>
<polygon points="1079,344.9 1070.3,359.9 1087.7,359.9" fill="#CF9242" stroke="#000" stroke-width="1.25" stroke-linejoin="miter"/>
<polygon points="1101.7,311.2 1093,326.2 1110.4,326.2" fill="#CF9242" stroke="#000" stroke-width="1.25" stroke-linejoin="miter"/>
<polygon points="1162.5,226.2 1153.8,241.2 1171.2,241.2" fill="#CF9242" stroke="#000" stroke-width="1.25" stroke-linejoin="miter"/>
<polygon points="1150.9,237.7 1142.2,252.7 1159.6,252.7" fill="#CF9242" stroke="#000" stroke-width="1.25" stroke-linejoin="miter"/>
<polygon points="1096,301.6 1103.4,311.4 1096,321.2 1088.6,311.4" fill="#CF9242" stroke="#000" stroke-width="1.25"/>
<polygon points="1042.2,370.7 1049.6,380.5 1042.2,390.3 1034.8,380.5" fill="#CF9242" stroke="#000" stroke-width="1.25"/>
<polygon points="1041.4,371.8 1048.8,381.6 1041.4,391.4 1034,381.6" fill="#CF9242" stroke="#000" stroke-width="1.25"/>
<polygon points="1118,267.6 1109.3,282.6 1126.7,282.6" fill="#CF9242" stroke="#000" stroke-width="1.25" stroke-linejoin="miter"/>
<polygon points="1043.9,366.7 1051.3,376.5 1043.9,386.3 1036.5,376.5" fill="#CF9242" stroke="#000" stroke-width="1.25"/>
<polygon points="1057.3,346.5 1064.7,356.3 1057.3,366.1 1049.9,356.3" fill="#CF9242" stroke="#000" stroke-width="1.25"/>
<polygon points="1075.3,322.9 1066.6,337.9 1084,337.9" fill="#CF9242" stroke="#000" stroke-width="1.25" stroke-linejoin="miter"/>
<polygon points="1056.5,344.4 1063.9,354.2 1056.5,364 1049.1,354.2" fill="#CF9242" stroke="#000" stroke-width="1.25"/>
<polygon points="1034.1,373.6 1041.5,383.4 1034.1,393.2 1026.7,383.4" fill="#CF9242" stroke="#000" stroke-width="1.25"/>
<polygon points="1272.7,212 1264,227 1281.4,227" fill="#9A882C" stroke="#000" stroke-width="1.25" stroke-linejoin="miter"/>
<polygon points="1144.8,212.9 1136.1,227.9 1153.5,227.9" fill="#CF9242" stroke="#000" stroke-width="1.25" stroke-linejoin="miter"/>
<polygon points="1197.9,138.7 1189.2,153.7 1206.6,153.7" fill="#CF9242" stroke="#000" stroke-width="1.25" stroke-linejoin="miter"/>
<polygon points="1226.4,272.7 1217.7,287.7 1235.1,287.7" fill="#9A882C" stroke="#000" stroke-width="1.25" stroke-linejoin="miter"/>
<polygon points="1102.1,257.8 1093.4,272.8 1110.8,272.8" fill="#CF9242" stroke="#000" stroke-width="1.25" stroke-linejoin="miter"/>
<polygon points="1202.1,293.5 1193.4,308.5 1210.8,308.5" fill="#9A882C" stroke="#000" stroke-width="1.25" stroke-linejoin="miter"/>
<polygon points="1111.2,243.7 1102.5,258.7 1119.9,258.7" fill="#CF9242" stroke="#000" stroke-width="1.25" stroke-linejoin="miter"/>
<polygon points="1102.1,254.1 1093.4,269.1 1110.8,269.1" fill="#CF9242" stroke="#000" stroke-width="1.25" stroke-linejoin="miter"/>
<polygon points="1202.3,111.4 1193.6,126.4 1211,126.4" fill="#CF9242" stroke="#000" stroke-width="1.25" stroke-linejoin="miter"/>
<polygon points="1157.4,339.5 1148.7,354.5 1166.1,354.5" fill="#9A882C" stroke="#000" stroke-width="1.25" stroke-linejoin="miter"/>
<polygon points="1138.6,365.1 1129.9,380.1 1147.3,380.1" fill="#9A882C" stroke="#000" stroke-width="1.25" stroke-linejoin="miter"/>
<polygon points="1157,338.5 1148.3,353.5 1165.7,353.5" fill="#9A882C" stroke="#000" stroke-width="1.25" stroke-linejoin="miter"/>
<polygon points="1098.5,239.7 1089.8,254.7 1107.2,254.7" fill="#CF9242" stroke="#000" stroke-width="1.25" stroke-linejoin="miter"/>
<polygon points="1098.7,239.3 1090,254.3 1107.4,254.3" fill="#CF9242" stroke="#000" stroke-width="1.25" stroke-linejoin="miter"/>
<circle cx="1110.2" cy="322.1" r="7" fill="#B28D35" stroke="#000" stroke-width="1.25"/>
<circle cx="1110.1" cy="321.6" r="7" fill="#B28D35" stroke="#000" stroke-width="1.25"/>
<rect x="1089.9" y="412.2" width="10" height="10" fill="#9A882C" stroke="#000" stroke-width="1.25"/>
<polygon points="1234.9,215.8 1226.2,230.8 1243.6,230.8" fill="#9A882C" stroke="#000" stroke-width="1.25" stroke-linejoin="miter"/>
<circle cx="1031.3" cy="371.4" r="7" fill="#C1903B" stroke="#000" stroke-width="1.25"/>
<circle cx="1078.5" cy="429.8" r="7" fill="#9A882C" stroke="#000" stroke-width="1.25"/>
<circle cx="1079.3" cy="427.2" r="7" fill="#9A882C" stroke="#000" stroke-width="1.25"/>
<polygon points="1228.2,229.1 1219.5,214.1 1236.9,214.1" fill="#9A882C" stroke="#000" stroke-width="1.25"/>
<polygon points="1091.9,395.9 1093.7,401.4 1099.5,401.4 1094.8,404.8 1096.6,410.3 1091.9,406.9 1087.2,410.3 1089,404.8 1084.3,401.4 1090.1,401.4" fill="#9A882C" stroke="#000" stroke-width="1.25"/>
<circle cx="1065" cy="440" r="7" fill="#9A882C" stroke="#000" stroke-width="1.25"/>
<circle cx="1073" cy="428.9" r="7" fill="#9A882C" stroke="#000" stroke-width="1.25"/>
<polygon points="1144.1,322.7 1135.4,337.7 1152.8,337.7" fill="#9A882C" stroke="#000" stroke-width="1.25" stroke-linejoin="miter"/>
<circle cx="1098" cy="392.9" r="7" fill="#9A882C" stroke="#000" stroke-width="1.25"/>
<polygon points="1221.8,209.4 1213.1,224.4 1230.5,224.4" fill="#9A882C" stroke="#000" stroke-width="1.25" stroke-linejoin="miter"/>
<polygon points="1153.1,302.2 1144.4,317.2 1161.8,317.2" fill="#9A882C" stroke="#000" stroke-width="1.25" stroke-linejoin="miter"/>
<circle cx="1057.2" cy="432.1" r="7" fill="#9A882C" stroke="#000" stroke-width="1.25"/>
<circle cx="1013.3" cy="492.4" r="7" fill="#9A882C" stroke="#000" stroke-width="1.25"/>
<polygon points="1033.7,456.2 1025,471.2 1042.4,471.2" fill="#9A882C" stroke="#000" stroke-width="1.25" stroke-linejoin="miter"/>
<circle cx="1041.3" cy="452.7" r="7" fill="#9A882C" stroke="#000" stroke-width="1.25"/>
<polygon points="1035.1,452.7 1026.4,467.7 1043.8,467.7" fill="#9A882C" stroke="#000" stroke-width="1.25" stroke-linejoin="miter"/>
<polygon points="1065.1,408.7 1056.4,423.7 1073.8,423.7" fill="#9A882C" stroke="#000" stroke-width="1.25" stroke-linejoin="miter"/>
<rect x="1020.8" y="465.1" width="10" height="10" fill="#9A882C" stroke="#000" stroke-width="1.25"/>
<polygon points="1136.7,304.7 1128,319.7 1145.4,319.7" fill="#9A882C" stroke="#000" stroke-width="1.25" stroke-linejoin="miter"/>
<circle cx="1041.3" cy="443.1" r="7" fill="#9A882C" stroke="#000" stroke-width="1.25"/>
<circle cx="1078.5" cy="392" r="7" fill="#9A882C" stroke="#000" stroke-width="1.25"/>
<circle cx="998.7" cy="494.8" r="7" fill="#9A882C" stroke="#000" stroke-width="1.25"/>
<polygon points="1013.6,463.5 1004.9,478.5 1022.3,478.5" fill="#9A882C" stroke="#000" stroke-width="1.25" stroke-linejoin="miter"/>
<polygon points="1262.9,291.7 1254.2,306.7 1271.6,306.7" fill="#667A3F" stroke="#000" stroke-width="1.25" stroke-linejoin="miter"/>
<circle cx="1049.3" cy="412.9" r="7" fill="#9A882C" stroke="#000" stroke-width="1.25"/>
<polygon points="1147.7,260 1139,275 1156.4,275" fill="#9A882C" stroke="#000" stroke-width="1.25" stroke-linejoin="miter"/>
<circle cx="1022.4" cy="438.2" r="7" fill="#9A882C" stroke="#000" stroke-width="1.25"/>
<circle cx="1019.4" cy="439.4" r="7" fill="#9A882C" stroke="#000" stroke-width="1.25"/>
<polygon points="1256.7,276.8 1248,291.8 1265.4,291.8" fill="#667A3F" stroke="#000" stroke-width="1.25" stroke-linejoin="miter"/>
<polygon points="1219.6,317.1 1210.9,332.1 1228.3,332.1" fill="#667A3F" stroke="#000" stroke-width="1.25" stroke-linejoin="miter"/>
<circle cx="1031" cy="402.7" r="7" fill="#9A882C" stroke="#000" stroke-width="1.25"/>
<polygon points="1077.2,327 1068.5,342 1085.9,342" fill="#9A882C" stroke="#000" stroke-width="1.25" stroke-linejoin="miter"/>
<polygon points="1077,326.9 1068.3,341.9 1085.7,341.9" fill="#9A882C" stroke="#000" stroke-width="1.25" stroke-linejoin="miter"/>
<polygon points="1170.1,358 1161.4,373 1178.8,373" fill="#667A3F" stroke="#000" stroke-width="1.25" stroke-linejoin="miter"/>
<polygon points="1100.4,274.1 1091.7,289.1 1109.1,289.1" fill="#9A882C" stroke="#000" stroke-width="1.25" stroke-linejoin="miter"/>
<polygon points="1100,274 1091.3,289 1108.7,289" fill="#9A882C" stroke="#000" stroke-width="1.25" stroke-linejoin="miter"/>
<polygon points="1343.7,274.4 1335,289.4 1352.4,289.4" fill="#3B6C56" stroke="#000" stroke-width="1.25" stroke-linejoin="miter"/>
<circle cx="1064.1" cy="485.6" r="7" fill="#667A3F" stroke="#000" stroke-width="1.25"/>
<polygon points="1126.5,390.8 1117.8,405.8 1135.2,405.8" fill="#667A3F" stroke="#000" stroke-width="1.25" stroke-linejoin="miter"/>
<polygon points="1127,389.9 1118.3,404.9 1135.7,404.9" fill="#667A3F" stroke="#000" stroke-width="1.25" stroke-linejoin="miter"/>
<circle cx="1070.5" cy="473.9" r="7" fill="#667A3F" stroke="#000" stroke-width="1.25"/>
<circle cx="1051.6" cy="496.4" r="7" fill="#667A3F" stroke="#000" stroke-width="1.25"/>
<polygon points="1315.7,288.9 1307,303.9 1324.4,303.9" fill="#3B6C56" stroke="#000" stroke-width="1.25" stroke-linejoin="miter"/>
<circle cx="1077.7" cy="450.4" r="7" fill="#667A3F" stroke="#000" stroke-width="1.25"/>
<circle cx="1076.1" cy="451.4" r="7" fill="#667A3F" stroke="#000" stroke-width="1.25"/>
<circle cx="1020.5" cy="526.2" r="7" fill="#667A3F" stroke="#000" stroke-width="1.25"/>
<circle cx="1029" cy="514.3" r="7" fill="#667A3F" stroke="#000" stroke-width="1.25"/>
<circle cx="1085.7" cy="428.7" r="7" fill="#667A3F" stroke="#000" stroke-width="1.25"/>
<polygon points="1287.1,316.9 1278.4,331.9 1295.8,331.9" fill="#3B6C56" stroke="#000" stroke-width="1.25" stroke-linejoin="miter"/>
<polygon points="1345,236.9 1336.3,251.9 1353.7,251.9" fill="#3B6C56" stroke="#000" stroke-width="1.25" stroke-linejoin="miter"/>
<polygon points="1114.1,374.9 1105.4,389.9 1122.8,389.9" fill="#667A3F" stroke="#000" stroke-width="1.25" stroke-linejoin="miter"/>
<polygon points="1290.1,302.8 1281.4,317.8 1298.8,317.8" fill="#3B6C56" stroke="#000" stroke-width="1.25" stroke-linejoin="miter"/>
<polygon points="1313.3,267.7 1304.6,282.7 1322,282.7" fill="#3B6C56" stroke="#000" stroke-width="1.25" stroke-linejoin="miter"/>
<polygon points="1287.7,292.4 1279,307.4 1296.4,307.4" fill="#3B6C56" stroke="#000" stroke-width="1.25" stroke-linejoin="miter"/>
<polygon points="1287.1,278.3 1278.4,293.3 1295.8,293.3" fill="#3B6C56" stroke="#000" stroke-width="1.25" stroke-linejoin="miter"/>
<polygon points="1265.1,304.2 1256.4,319.2 1273.8,319.2" fill="#3B6C56" stroke="#000" stroke-width="1.25" stroke-linejoin="miter"/>
<circle cx="1052.8" cy="414.8" r="7" fill="#667A3F" stroke="#000" stroke-width="1.25"/>
<circle cx="1036.9" cy="435.2" r="7" fill="#667A3F" stroke="#000" stroke-width="1.25"/>
<polygon points="1249.6,302.2 1240.9,317.2 1258.3,317.2" fill="#3B6C56" stroke="#000" stroke-width="1.25" stroke-linejoin="miter"/>
<polygon points="1154.4,424.4 1145.7,439.4 1163.1,439.4" fill="#3B6C56" stroke="#000" stroke-width="1.25" stroke-linejoin="miter"/>
<polygon points="1179.2,381.7 1170.5,396.7 1187.9,396.7" fill="#3B6C56" stroke="#000" stroke-width="1.25" stroke-linejoin="miter"/>
<polygon points="1115.3,293.3 1106.6,308.3 1124,308.3" fill="#667A3F" stroke="#000" stroke-width="1.25" stroke-linejoin="miter"/>
<polygon points="1257.8,254.5 1249.1,269.5 1266.5,269.5" fill="#3B6C56" stroke="#000" stroke-width="1.25" stroke-linejoin="miter"/>
<polygon points="1152.3,396.6 1143.6,411.6 1161,411.6" fill="#3B6C56" stroke="#000" stroke-width="1.25" stroke-linejoin="miter"/>
<polygon points="1152.6,396.1 1143.9,411.1 1161.3,411.1" fill="#3B6C56" stroke="#000" stroke-width="1.25" stroke-linejoin="miter"/>
<polygon points="1207.2,314.6 1198.5,329.6 1215.9,329.6" fill="#3B6C56" stroke="#000" stroke-width="1.25" stroke-linejoin="miter"/>
<polygon points="1335.7,296.8 1327,311.8 1344.4,311.8" fill="#1C5962" stroke="#000" stroke-width="1.25" stroke-linejoin="miter"/>
<polygon points="1332.7,294.8 1324,309.8 1341.4,309.8" fill="#1C5962" stroke="#000" stroke-width="1.25" stroke-linejoin="miter"/>
<polygon points="1156,360.8 1147.3,375.8 1164.7,375.8" fill="#3B6C56" stroke="#000" stroke-width="1.25" stroke-linejoin="miter"/>
<polygon points="1319.9,300.7 1311.2,315.7 1328.6,315.7" fill="#1C5962" stroke="#000" stroke-width="1.25" stroke-linejoin="miter"/>
<polygon points="1195.7,291.9 1187,306.9 1204.4,306.9" fill="#3B6C56" stroke="#000" stroke-width="1.25" stroke-linejoin="miter"/>
<polygon points="1311.3,292.5 1302.6,307.5 1320,307.5" fill="#1C5962" stroke="#000" stroke-width="1.25" stroke-linejoin="miter"/>
<polygon points="1274.8,342.4 1266.1,357.4 1283.5,357.4" fill="#1C5962" stroke="#000" stroke-width="1.25" stroke-linejoin="miter"/>
<polygon points="1278.2,330.3 1269.5,345.3 1286.9,345.3" fill="#1C5962" stroke="#000" stroke-width="1.25" stroke-linejoin="miter"/>
<polygon points="1287,302.2 1278.3,317.2 1295.7,317.2" fill="#1C5962" stroke="#000" stroke-width="1.25" stroke-linejoin="miter"/>
<polygon points="1224.1,385.3 1215.4,400.3 1232.8,400.3" fill="#1C5962" stroke="#000" stroke-width="1.25" stroke-linejoin="miter"/>
<polygon points="1368.6,337 1359.9,352 1377.3,352" fill="#114160" stroke="#000" stroke-width="1.25" stroke-linejoin="miter"/>
<polygon points="1198,412.1 1189.3,427.1 1206.7,427.1" fill="#1C5962" stroke="#000" stroke-width="1.25" stroke-linejoin="miter"/>
<polygon points="1173.2,433.9 1164.5,448.9 1181.9,448.9" fill="#1C5962" stroke="#000" stroke-width="1.25" stroke-linejoin="miter"/>
<polygon points="1342.3,353.4 1333.6,368.4 1351,368.4" fill="#114160" stroke="#000" stroke-width="1.25" stroke-linejoin="miter"/>
<polygon points="1182.3,412.6 1173.6,427.6 1191,427.6" fill="#1C5962" stroke="#000" stroke-width="1.25" stroke-linejoin="miter"/>
<polygon points="1192.5,389.5 1183.8,404.5 1201.2,404.5" fill="#1C5962" stroke="#000" stroke-width="1.25" stroke-linejoin="miter"/>
<polygon points="1229.6,336 1220.9,351 1238.3,351" fill="#1C5962" stroke="#000" stroke-width="1.25" stroke-linejoin="miter"/>
<polygon points="1106.8,496.6 1098.1,511.6 1115.5,511.6" fill="#1C5962" stroke="#000" stroke-width="1.25" stroke-linejoin="miter"/>
<polygon points="1308.3,344.4 1299.6,359.4 1317,359.4" fill="#114160" stroke="#000" stroke-width="1.25" stroke-linejoin="miter"/>
<polygon points="1293.6,356.5 1284.9,371.5 1302.3,371.5" fill="#114160" stroke="#000" stroke-width="1.25" stroke-linejoin="miter"/>
<polygon points="1206.1,423.7 1197.4,438.7 1214.8,438.7" fill="#114160" stroke="#000" stroke-width="1.25" stroke-linejoin="miter"/>
<polygon points="1206.6,422.8 1197.9,437.8 1215.3,437.8" fill="#114160" stroke="#000" stroke-width="1.25" stroke-linejoin="miter"/>
<polygon points="1238.1,373.7 1229.4,388.7 1246.8,388.7" fill="#114160" stroke="#000" stroke-width="1.25" stroke-linejoin="miter"/>
<rect x="1055.4" y="305.8" width="26" height="26" fill="none" stroke="#000" stroke-width="3.6"/>
<rect x="1275" y="315" width="26" height="26" fill="none" stroke="#000" stroke-width="3.6"/>
<text x="731" y="758.9" style="font-family:'Liberation Sans',sans-serif;font-weight:bold;font-size:29.5px" fill="#000">D</text>
<text x="1119.7" y="768.9" text-anchor="middle" style="font-family:'Liberation Serif',serif;font-weight:bold;font-size:28.7px" fill="#000">Model B</text>
<path d="M882.3 1249.8L882.3 811.2M910.6 1247.5L910.6 808.9M930.6 1245.8L930.6 807.2M946.2 1244.6L946.2 806M958.9 1243.5L958.9 804.9M969.7 1242.7L969.7 804.1M979 1241.9L979 803.3M987.2 1241.2L987.2 802.6M1042.8 1236.7L1042.8 798.1M1071.1 1234.4L1071.1 795.8M1091.2 1232.8L1091.2 794.2M1106.7 1231.5L1106.7 792.9M1119.4 1230.5L1119.4 791.9M1130.2 1229.6L1130.2 791M1139.5 1228.8L1139.5 790.2M1147.7 1228.2L1147.7 789.6M1203.4 1223.6L1203.4 785M1231.6 1221.3L1231.6 782.7M1251.7 1219.7L1251.7 781.1M834 1187.7L1264.2 1152.7M834 1149.1L1264.2 1114.1M834 1121.7L1264.2 1086.7M834 1100.4L1264.2 1065.4M834 1083.1L1264.2 1048.1M834 1068.4L1264.2 1033.4M834 1055.7L1264.2 1020.7M834 1044.4L1264.2 1009.4M834 968.4L1264.2 933.4M834 929.8L1264.2 894.8M834 902.4L1264.2 867.4M834 881.1L1264.2 846.1M834 863.8L1264.2 828.8M834 849.1L1264.2 814.1M834 836.4L1264.2 801.4M834 825.1L1264.2 790.1M1396.5 1314.9L1396.5 876.3M1389.1 1309.6L1389.1 871M1383.9 1305.8L1383.9 867.2M1379.9 1302.9L1379.9 864.3M1376.6 1300.5L1376.6 861.9M1373.8 1298.4L1373.8 859.8M1371.4 1296.7L1371.4 858.1M1369.3 1295.1L1369.3 856.5M1354.9 1284.6L1354.9 846M1347.5 1279.3L1347.5 840.7M1342.3 1275.5L1342.3 836.9M1338.3 1272.6L1338.3 834M1335 1270.2L1335 831.6M1332.2 1268.2L1332.2 829.6M1329.8 1266.4L1329.8 827.8M1327.7 1264.9L1327.7 826.3M1313.3 1254.4L1313.3 815.8M1305.9 1249L1305.9 810.4M1300.7 1245.3L1300.7 806.7M1296.7 1242.3L1296.7 803.7M1293.4 1239.9L1293.4 801.3M1290.6 1237.9L1290.6 799.3M1288.2 1236.2L1288.2 797.6M1286.1 1234.6L1286.1 796M1271.6 1224.1L1271.6 785.5M1264.3 1218.8L1264.3 780.2M1409 1258L1264.2 1152.7M1409 1219.4L1264.2 1114.1M1409 1192L1264.2 1086.7M1409 1170.7L1264.2 1065.4M1409 1153.4L1264.2 1048.1M1409 1138.7L1264.2 1033.4M1409 1126L1264.2 1020.7M1409 1114.7L1264.2 1009.4M1409 1038.7L1264.2 933.4M1409 1000.1L1264.2 894.8M1409 972.7L1264.2 867.4M1409 951.4L1264.2 846.1M1409 934.1L1264.2 828.8M1409 919.4L1264.2 814.1M1409 906.7L1264.2 801.4M1409 895.4L1264.2 790.1M1027.1 1355.1L882.3 1249.8M1055.4 1352.8L910.6 1247.5M1075.4 1351.1L930.6 1245.8M1091 1349.9L946.2 1244.6M1103.7 1348.8L958.9 1243.5M1114.5 1348L969.7 1242.7M1123.8 1347.2L979 1241.9M1132 1346.5L987.2 1241.2M1187.6 1342L1042.8 1236.7M1215.9 1339.7L1071.1 1234.4M1236 1338.1L1091.2 1232.8M1251.5 1336.8L1106.7 1231.5M1264.2 1335.8L1119.4 1230.5M1275 1334.9L1130.2 1229.6M1284.3 1334.1L1139.5 1228.8M1292.5 1333.5L1147.7 1228.2M1348.2 1328.9L1203.4 1223.6M1376.4 1326.6L1231.6 1221.3M1396.5 1325L1251.7 1219.7M966.3 1349.9L1396.5 1314.9M958.9 1344.6L1389.1 1309.6M953.7 1340.8L1383.9 1305.8M949.7 1337.9L1379.9 1302.9M946.4 1335.5L1376.6 1300.5M943.6 1333.4L1373.8 1298.4M941.2 1331.7L1371.4 1296.7M939.1 1330.1L1369.3 1295.1M924.7 1319.6L1354.9 1284.6M917.3 1314.3L1347.5 1279.3M912.1 1310.5L1342.3 1275.5M908.1 1307.6L1338.3 1272.6M904.8 1305.2L1335 1270.2M902 1303.2L1332.2 1268.2M899.6 1301.4L1329.8 1266.4M897.5 1299.9L1327.7 1264.9M883.1 1289.4L1313.3 1254.4M875.7 1284L1305.9 1249M870.5 1280.3L1300.7 1245.3M866.5 1277.3L1296.7 1242.3M863.2 1274.9L1293.4 1239.9M860.4 1272.9L1290.6 1237.9M858 1271.2L1288.2 1236.2M855.9 1269.6L1286.1 1234.6M841.4 1259.1L1271.6 1224.1M834.1 1253.8L1264.3 1218.8" stroke="#ABABAB" stroke-width="1" fill="none" stroke-dasharray="2.2 7.3"/>
<path d="M994.5 1240.6L994.5 802M1155 1227.6L1155 789M834 1034.4L1264.2 999.4M1367.4 1293.7L1367.4 855.1M1325.8 1263.5L1325.8 824.9M1284.2 1233.2L1284.2 794.6M1409 1104.7L1264.2 999.4M1139.3 1345.9L994.5 1240.6M1299.8 1332.9L1155 1227.6M937.2 1328.7L1367.4 1293.7M895.6 1298.5L1325.8 1263.5M854 1268.2L1284.2 1233.2" stroke="#DCDCDC" stroke-width="1.1" fill="none"/>
<path d="M834.5 1253.7L834.5 815.1M834.5 815.1L1264.5 780.1M1264.5 780.1L1409.5 885.4M1409.5 885.4L1409.5 1324M978.8 1359L1409.5 1324M978.8 1359L834.5 1253.7M834.5 1253.7L1264.5 1218.7M1264.5 1218.7L1409.5 1324M1264.5 1218.7L1264.5 780.1" stroke="#262626" stroke-width="1.15" fill="none"/>
<path d="M834 1187.7L828.9 1184.2M834 1149.1L828.9 1145.6M834 1121.7L828.9 1118.2M834 1100.4L828.9 1097M834 1083.1L828.9 1079.6M834 1068.4L828.9 1064.9M834 1055.7L828.9 1052.2M834 1044.4L828.9 1041M834 1034.4L824.7 1028.1M834 968.4L828.9 964.9M834 929.8L828.9 926.3M834 902.4L828.9 898.9M834 881.1L828.9 877.7M834 863.8L828.9 860.3M834 849.1L828.9 845.6M834 836.4L828.9 832.9M834 825.1L828.9 821.7M834 1253.7L824.7 1247.4M834 815.1L824.7 808.8M1027.1 1355.1L1032.3 1358.9M1055.4 1352.8L1060.6 1356.6M1075.4 1351.1L1080.6 1354.9M1091 1349.9L1096.2 1353.7M1103.7 1348.8L1108.9 1352.6M1114.5 1348L1119.6 1351.8M1123.8 1347.2L1128.9 1351M1132 1346.5L1137.1 1350.3M1139.3 1345.9L1148.7 1352.8M1187.6 1342L1192.8 1345.8M1215.9 1339.7L1221.1 1343.5M1236 1338.1L1241.1 1341.9M1251.5 1336.8L1256.7 1340.6M1264.2 1335.8L1269.4 1339.6M1275 1334.9L1280.1 1338.7M1284.3 1334.1L1289.5 1337.9M1292.5 1333.5L1297.7 1337.3M1299.8 1332.9L1309.2 1339.8M1348.2 1328.9L1353.3 1332.7M1376.4 1326.6L1381.6 1330.4M1396.5 1325L1401.7 1328.8M978.8 1359L988.2 1365.9M966.3 1349.9L960.2 1350.4M958.9 1344.6L952.9 1345.1M953.7 1340.8L947.7 1341.3M949.7 1337.9L943.7 1338.3M946.4 1335.5L940.4 1335.9M943.6 1333.4L937.6 1333.9M941.2 1331.7L935.2 1332.2M939.1 1330.1L933 1330.6M937.2 1328.7L926.2 1329.6M924.7 1319.6L918.6 1320.1M917.3 1314.3L911.3 1314.8M912.1 1310.5L906.1 1311M908.1 1307.6L902.1 1308.1M904.8 1305.2L898.8 1305.7M902 1303.2L896 1303.7M899.6 1301.4L893.6 1301.9M897.5 1299.9L891.4 1300.4M895.6 1298.5L884.6 1299.4M883.1 1289.4L877 1289.9M875.7 1284L869.7 1284.5M870.5 1280.3L864.5 1280.8M866.5 1277.3L860.4 1277.8M863.2 1274.9L857.2 1275.4M860.4 1272.9L854.4 1273.4M858 1271.2L852 1271.7M855.9 1269.6L849.8 1270.1M854 1268.2L843 1269.1M841.4 1259.1L835.4 1259.6M834.1 1253.8L828.1 1254.3M978.8 1359L967.8 1359.9" stroke="#262626" stroke-width="1.15" fill="none"/>
<text x="816" y="1250.2" text-anchor="end" style="font-family:'Liberation Serif',serif;font-size:27.5px" fill="#262626">10</text>
<text x="816" y="1030.9" text-anchor="end" style="font-family:'Liberation Serif',serif;font-size:27.5px" fill="#262626">100</text>
<text x="816" y="811.6" text-anchor="end" style="font-family:'Liberation Serif',serif;font-size:27.5px" fill="#262626">1000</text>
<text x="956.3" y="1387" text-anchor="end" style="font-family:'Liberation Serif',serif;font-size:27.5px" fill="#262626">1</text>
<text x="914.7" y="1356.7" text-anchor="end" style="font-family:'Liberation Serif',serif;font-size:27.5px" fill="#262626">10</text>
<text x="873.1" y="1326.5" text-anchor="end" style="font-family:'Liberation Serif',serif;font-size:27.5px" fill="#262626">100</text>
<text x="831.5" y="1296.2" text-anchor="end" style="font-family:'Liberation Serif',serif;font-size:27.5px" fill="#262626">1000</text>
<text x="1020.8" y="1404.5" text-anchor="middle" style="font-family:'Liberation Serif',serif;font-size:27.5px" fill="#262626">10<tspan dy="-12.5" style="font-size:20px">-4</tspan></text>
<text x="1181.3" y="1391.4" text-anchor="middle" style="font-family:'Liberation Serif',serif;font-size:27.5px" fill="#262626">10<tspan dy="-12.5" style="font-size:20px">-3</tspan></text>
<text x="1341.8" y="1378.4" text-anchor="middle" style="font-family:'Liberation Serif',serif;font-size:27.5px" fill="#262626">10<tspan dy="-12.5" style="font-size:20px">-2</tspan></text>
<text x="1077.5" y="1430.3" style="font-family:'Liberation Serif',serif;font-size:31px" fill="#262626"><tspan style="font-style:italic">b</tspan><tspan dx="3" dy="14.5" style="font-style:italic;font-size:24px">bp</tspan><tspan dy="-14.5">(550) [m</tspan><tspan dy="-16" style="font-size:25px">-1</tspan><tspan dx="3" dy="16">]</tspan></text>
<text transform="translate(739.9,1038.1) rotate(-90)" text-anchor="middle" style="font-family:'Liberation Serif',serif;font-size:32px" fill="#262626">POC [mg m<tspan dy="-16" style="font-size:24px">-3</tspan><tspan dy="16">]</tspan></text>
<text transform="translate(820,1362.6) rotate(31.5)" style="font-family:'Liberation Serif',serif;font-size:31px" fill="#262626">&#962; [mg m <tspan dy="-15" style="font-size:24px">-2</tspan><tspan dy="15">]</tspan></text>
<polygon points="1256.5,823.9 1247.8,838.9 1265.2,838.9" fill="#FCB3B1" stroke="#000" stroke-width="1.25" stroke-linejoin="miter"/>
<polygon points="1230,854.7 1221.3,869.7 1238.7,869.7" fill="#FCB3B1" stroke="#000" stroke-width="1.25" stroke-linejoin="miter"/>
<polygon points="1169.2,935.1 1160.5,950.1 1177.9,950.1" fill="#FCB3B1" stroke="#000" stroke-width="1.25" stroke-linejoin="miter"/>
<polygon points="1229,926.1 1220.3,941.1 1237.7,941.1" fill="#F8A17C" stroke="#000" stroke-width="1.25" stroke-linejoin="miter"/>
<polygon points="1118.7,945.5 1110,960.5 1127.4,960.5" fill="#FCB3B1" stroke="#000" stroke-width="1.25" stroke-linejoin="miter"/>
<polygon points="1224.7,868.7 1216,883.7 1233.4,883.7" fill="#F8A17C" stroke="#000" stroke-width="1.25" stroke-linejoin="miter"/>
<polygon points="1180.2,923.3 1171.5,938.3 1188.9,938.3" fill="#F8A17C" stroke="#000" stroke-width="1.25" stroke-linejoin="miter"/>
<circle cx="1088.9" cy="1042" r="7" fill="#F8A17C" stroke="#000" stroke-width="1.25"/>
<circle cx="1088.6" cy="1037.3" r="7" fill="#F8A17C" stroke="#000" stroke-width="1.25"/>
<circle cx="1116.8" cy="995.9" r="7" fill="#F8A17C" stroke="#000" stroke-width="1.25"/>
<polygon points="1260.2,955.8 1251.5,970.8 1268.9,970.8" fill="#CF9242" stroke="#000" stroke-width="1.25" stroke-linejoin="miter"/>
<polygon points="1107.4,992.3 1098.7,1007.3 1116.1,1007.3" fill="#F8A17C" stroke="#000" stroke-width="1.25" stroke-linejoin="miter"/>
<polygon points="1106.9,991.5 1098.2,1006.5 1115.6,1006.5" fill="#F8A17C" stroke="#000" stroke-width="1.25" stroke-linejoin="miter"/>
<circle cx="981.9" cy="1157.4" r="7" fill="#F8A17C" stroke="#000" stroke-width="1.25"/>
<polygon points="1064.4,1183.5 1055.7,1198.5 1073.1,1198.5" fill="#CF9242" stroke="#000" stroke-width="1.25" stroke-linejoin="miter"/>
<polygon points="1191.7,961.4 1183,976.4 1200.4,976.4" fill="#CF9242" stroke="#000" stroke-width="1.25" stroke-linejoin="miter"/>
<polygon points="1179.7,959.5 1171,974.5 1188.4,974.5" fill="#CF9242" stroke="#000" stroke-width="1.25" stroke-linejoin="miter"/>
<polygon points="1161.8,978.7 1153.1,993.7 1170.5,993.7" fill="#CF9242" stroke="#000" stroke-width="1.25" stroke-linejoin="miter"/>
<polygon points="1250.1,934.6 1241.4,949.6 1258.8,949.6" fill="#9A882C" stroke="#000" stroke-width="1.25" stroke-linejoin="miter"/>
<polygon points="1207.7,991.7 1199,1006.7 1216.4,1006.7" fill="#9A882C" stroke="#000" stroke-width="1.25" stroke-linejoin="miter"/>
<polygon points="1210.7,981.8 1202,996.8 1219.4,996.8" fill="#9A882C" stroke="#000" stroke-width="1.25" stroke-linejoin="miter"/>
<polygon points="1149.4,1055.2 1140.7,1070.2 1158.1,1070.2" fill="#9A882C" stroke="#000" stroke-width="1.25" stroke-linejoin="miter"/>
<polygon points="1111.8,1103.4 1103.1,1118.4 1120.5,1118.4" fill="#9A882C" stroke="#000" stroke-width="1.25" stroke-linejoin="miter"/>
<polygon points="1121.2,1087.4 1112.5,1102.4 1129.9,1102.4" fill="#9A882C" stroke="#000" stroke-width="1.25" stroke-linejoin="miter"/>
<polygon points="1161.9,1036 1153.2,1021 1170.6,1021" fill="#9A882C" stroke="#000" stroke-width="1.25"/>
<polygon points="1141.7,1042.4 1133,1057.4 1150.4,1057.4" fill="#9A882C" stroke="#000" stroke-width="1.25" stroke-linejoin="miter"/>
<rect x="1071.7" y="1132.6" width="10" height="10" fill="#9A882C" stroke="#000" stroke-width="1.25"/>
<polygon points="1058.7,1149.8 1050,1164.8 1067.4,1164.8" fill="#9A882C" stroke="#000" stroke-width="1.25" stroke-linejoin="miter"/>
<polygon points="1005.6,1216.6 996.9,1231.6 1014.3,1231.6" fill="#9A882C" stroke="#000" stroke-width="1.25" stroke-linejoin="miter"/>
<polygon points="1036.4,1173.3 1027.7,1188.3 1045.1,1188.3" fill="#9A882C" stroke="#000" stroke-width="1.25" stroke-linejoin="miter"/>
<circle cx="1051.9" cy="1149.2" r="7" fill="#9A882C" stroke="#000" stroke-width="1.25"/>
<circle cx="1003.9" cy="1205.1" r="7" fill="#9A882C" stroke="#000" stroke-width="1.25"/>
<circle cx="996.2" cy="1212.8" r="7" fill="#9A882C" stroke="#000" stroke-width="1.25"/>
<polygon points="1112,1135.1 1103.3,1150.1 1120.7,1150.1" fill="#667A3F" stroke="#000" stroke-width="1.25" stroke-linejoin="miter"/>
<circle cx="1007.5" cy="1260.9" r="7" fill="#667A3F" stroke="#000" stroke-width="1.25"/>
<polygon points="1030.6,1216.8 1021.9,1231.8 1039.3,1231.8" fill="#667A3F" stroke="#000" stroke-width="1.25" stroke-linejoin="miter"/>
<circle cx="1024.7" cy="1230" r="7" fill="#667A3F" stroke="#000" stroke-width="1.25"/>
<polygon points="1273.7,1023.2 1265,1038.2 1282.4,1038.2" fill="#3B6C56" stroke="#000" stroke-width="1.25" stroke-linejoin="miter"/>
<polygon points="998.9,1245.4 990.2,1260.4 1007.6,1260.4" fill="#667A3F" stroke="#000" stroke-width="1.25" stroke-linejoin="miter"/>
<circle cx="1024.7" cy="1216.1" r="7" fill="#667A3F" stroke="#000" stroke-width="1.25"/>
<circle cx="990.4" cy="1262.3" r="7" fill="#667A3F" stroke="#000" stroke-width="1.25"/>
<polygon points="1324.4,1047.6 1315.7,1062.6 1333.1,1062.6" fill="#1C5962" stroke="#000" stroke-width="1.25" stroke-linejoin="miter"/>
<polygon points="1059.1,1213.3 1050.4,1228.3 1067.8,1228.3" fill="#3B6C56" stroke="#000" stroke-width="1.25" stroke-linejoin="miter"/>
<polygon points="1310.7,1015.1 1302,1030.1 1319.4,1030.1" fill="#1C5962" stroke="#000" stroke-width="1.25" stroke-linejoin="miter"/>
<polygon points="1209.2,1102.2 1200.5,1117.2 1217.9,1117.2" fill="#1C5962" stroke="#000" stroke-width="1.25" stroke-linejoin="miter"/>
<path d="M1032.5 1329.5L1356.1 1048.2" stroke="#011959" stroke-width="1.4" fill="none"/>
<path d="M1028.6 1321.4L1352.2 1034.9" stroke="#06265B" stroke-width="1.4" fill="none"/>
<path d="M1024.6 1313.4L1348.2 1021.6" stroke="#0B335E" stroke-width="1.4" fill="none"/>
<path d="M1020.6 1305.3L1344.2 1008.3" stroke="#104060" stroke-width="1.4" fill="none"/>
<path d="M1016.7 1297.2L1340.3 995" stroke="#154961" stroke-width="1.4" fill="none"/>
<path d="M1012.7 1289.1L1336.3 981.7" stroke="#195361" stroke-width="1.4" fill="none"/>
<path d="M1008.7 1281L1332.3 968.4" stroke="#1E5B61" stroke-width="1.4" fill="none"/>
<path d="M1004.8 1273L1328.4 955.1" stroke="#2A625D" stroke-width="1.4" fill="none"/>
<path d="M1000.8 1264.9L1324.4 941.8" stroke="#356959" stroke-width="1.4" fill="none"/>
<path d="M996.8 1256.8L1320.5 928.4" stroke="#416F53" stroke-width="1.4" fill="none"/>
<path d="M992.9 1248.7L1316.5 915.1" stroke="#50734B" stroke-width="1.4" fill="none"/>
<path d="M988.9 1240.6L1312.5 901.8" stroke="#607843" stroke-width="1.4" fill="none"/>
<path d="M984.9 1232.5L1308.6 888.5" stroke="#707D3B" stroke-width="1.4" fill="none"/>
<path d="M981 1224.5L1304.6 875.2" stroke="#828234" stroke-width="1.4" fill="none"/>
<path d="M977 1216.4L1300.6 861.9" stroke="#95872E" stroke-width="1.4" fill="none"/>
<path d="M973.1 1208.3L1296.7 848.6" stroke="#A78B30" stroke-width="1.4" fill="none"/>
<path d="M969.1 1200.2L1292.7 835.3" stroke="#BA8E38" stroke-width="1.4" fill="none"/>
<path d="M965.1 1192.1L1288.7 822" stroke="#CC9240" stroke-width="1.4" fill="none"/>
<path d="M961.2 1184.1L1281 813" stroke="#DB9650" stroke-width="1.4" fill="none"/>
<path d="M957.2 1176L1267.6 810.9" stroke="#E89B63" stroke-width="1.4" fill="none"/>
<path d="M953.2 1167.9L1254.4 808.8" stroke="#F5A077" stroke-width="1.4" fill="none"/>
<path d="M949.3 1159.8L1241.5 806.6" stroke="#F9A78C" stroke-width="1.4" fill="none"/>
<path d="M945.3 1151.7L1228.9 804.4" stroke="#FBAFA3" stroke-width="1.4" fill="none"/>
<path d="M941.3 1143.6L1216.5 802.2" stroke="#FDB6BA" stroke-width="1.4" fill="none"/>
<path d="M937.4 1135.6L1204.3 800" stroke="#FCBDCF" stroke-width="1.4" fill="none"/>
<path d="M933.4 1127.5L1192.4 797.8" stroke="#FBC5E5" stroke-width="1.4" fill="none"/>
<path d="M929.4 1119.4L1180.6 795.5" stroke="#FACCFA" stroke-width="1.4" fill="none"/>
<path d="M1032.5 1329.5L1028.6 1321.4M1040.2 1322.8L1036.3 1314.6M1047.9 1316.1L1044 1307.8M1055.6 1309.4L1051.7 1301M1063.3 1302.7L1059.4 1294.2M1071 1296L1067.1 1287.3M1078.7 1289.3L1074.8 1280.5M1086.5 1282.7L1082.5 1273.7M1094.2 1276L1090.2 1266.9M1101.9 1269.3L1097.9 1260.1M1109.6 1262.6L1105.6 1253.2M1117.3 1255.9L1113.3 1246.4M1125 1249.2L1121 1239.6M1132.7 1242.5L1128.7 1232.8M1140.4 1235.8L1136.4 1225.9M1148.1 1229.1L1144.1 1219.1M1155.8 1222.4L1151.8 1212.3M1163.5 1215.7L1159.5 1205.5M1171.2 1209L1167.2 1198.7M1178.9 1202.3L1174.9 1191.8M1186.6 1195.6L1182.7 1185M1194.3 1188.9L1190.4 1178.2M1202 1182.2L1198.1 1171.4M1209.7 1175.5L1205.8 1164.5M1217.4 1168.8L1213.5 1157.7M1225.1 1162.1L1221.2 1150.9M1232.8 1155.4L1228.9 1144.1M1240.6 1148.7L1236.6 1137.3M1248.3 1142L1244.3 1130.4M1256 1135.3L1252 1123.6M1263.7 1128.6L1259.7 1116.8M1271.4 1121.9L1267.4 1110M1279.1 1115.2L1275.1 1103.2M1286.8 1108.5L1282.8 1096.3M1294.5 1101.8L1290.5 1089.5M1302.2 1095.1L1298.2 1082.7M1309.9 1088.4L1305.9 1075.9M1317.6 1081.7L1313.6 1069M1325.3 1075L1321.3 1062.2M1333 1068.3L1329 1055.4M1340.7 1061.6L1336.8 1048.6M1348.4 1054.9L1344.5 1041.8M1356.1 1048.2L1352.2 1034.9" stroke="#04205A" stroke-width="1.4" fill="none"/>
<path d="M1028.6 1321.4L1024.6 1313.4M1036.3 1314.6L1032.3 1306.4M1044 1307.8L1040 1299.5M1051.7 1301L1047.7 1292.5M1059.4 1294.2L1055.4 1285.6M1067.1 1287.3L1063.1 1278.6M1074.8 1280.5L1070.8 1271.7M1082.5 1273.7L1078.5 1264.7M1090.2 1266.9L1086.2 1257.8M1097.9 1260.1L1093.9 1250.9M1105.6 1253.2L1101.6 1243.9M1113.3 1246.4L1109.3 1237M1121 1239.6L1117 1230M1128.7 1232.8L1124.8 1223.1M1136.4 1225.9L1132.5 1216.1M1144.1 1219.1L1140.2 1209.2M1151.8 1212.3L1147.9 1202.2M1159.5 1205.5L1155.6 1195.3M1167.2 1198.7L1163.3 1188.3M1174.9 1191.8L1171 1181.4M1182.7 1185L1178.7 1174.4M1190.4 1178.2L1186.4 1167.5M1198.1 1171.4L1194.1 1160.5M1205.8 1164.5L1201.8 1153.6M1213.5 1157.7L1209.5 1146.7M1221.2 1150.9L1217.2 1139.7M1228.9 1144.1L1224.9 1132.8M1236.6 1137.3L1232.6 1125.8M1244.3 1130.4L1240.3 1118.9M1252 1123.6L1248 1111.9M1259.7 1116.8L1255.7 1105M1267.4 1110L1263.4 1098M1275.1 1103.2L1271.1 1091.1M1282.8 1096.3L1278.9 1084.1M1290.5 1089.5L1286.6 1077.2M1298.2 1082.7L1294.3 1070.2M1305.9 1075.9L1302 1063.3M1313.6 1069L1309.7 1056.4M1321.3 1062.2L1317.4 1049.4M1329 1055.4L1325.1 1042.5M1336.8 1048.6L1332.8 1035.5M1344.5 1041.8L1340.5 1028.6M1352.2 1034.9L1348.2 1021.6" stroke="#092D5D" stroke-width="1.4" fill="none"/>
<path d="M1024.6 1313.4L1020.6 1305.3M1032.3 1306.4L1028.3 1298.2M1040 1299.5L1036 1291.1M1047.7 1292.5L1043.7 1284.1M1055.4 1285.6L1051.4 1277M1063.1 1278.6L1059.1 1269.9M1070.8 1271.7L1066.9 1262.9M1078.5 1264.7L1074.6 1255.8M1086.2 1257.8L1082.3 1248.7M1093.9 1250.9L1090 1241.6M1101.6 1243.9L1097.7 1234.6M1109.3 1237L1105.4 1227.5M1117 1230L1113.1 1220.4M1124.8 1223.1L1120.8 1213.4M1132.5 1216.1L1128.5 1206.3M1140.2 1209.2L1136.2 1199.2M1147.9 1202.2L1143.9 1192.2M1155.6 1195.3L1151.6 1185.1M1163.3 1188.3L1159.3 1178M1171 1181.4L1167 1170.9M1178.7 1174.4L1174.7 1163.9M1186.4 1167.5L1182.4 1156.8M1194.1 1160.5L1190.1 1149.7M1201.8 1153.6L1197.8 1142.7M1209.5 1146.7L1205.5 1135.6M1217.2 1139.7L1213.2 1128.5M1224.9 1132.8L1221 1121.4M1232.6 1125.8L1228.7 1114.4M1240.3 1118.9L1236.4 1107.3M1248 1111.9L1244.1 1100.2M1255.7 1105L1251.8 1093.2M1263.4 1098L1259.5 1086.1M1271.1 1091.1L1267.2 1079M1278.9 1084.1L1274.9 1071.9M1286.6 1077.2L1282.6 1064.9M1294.3 1070.2L1290.3 1057.8M1302 1063.3L1298 1050.7M1309.7 1056.4L1305.7 1043.7M1317.4 1049.4L1313.4 1036.6M1325.1 1042.5L1321.1 1029.5M1332.8 1035.5L1328.8 1022.5M1340.5 1028.6L1336.5 1015.4M1348.2 1021.6L1344.2 1008.3" stroke="#0E3A5F" stroke-width="1.4" fill="none"/>
<path d="M1020.6 1305.3L1016.7 1297.2M1028.3 1298.2L1024.4 1290M1036 1291.1L1032.1 1282.8M1043.7 1284.1L1039.8 1275.6M1051.4 1277L1047.5 1268.4M1059.1 1269.9L1055.2 1261.2M1066.9 1262.9L1062.9 1254M1074.6 1255.8L1070.6 1246.8M1082.3 1248.7L1078.3 1239.6M1090 1241.6L1086 1232.4M1097.7 1234.6L1093.7 1225.3M1105.4 1227.5L1101.4 1218.1M1113.1 1220.4L1109.1 1210.9M1120.8 1213.4L1116.8 1203.7M1128.5 1206.3L1124.5 1196.5M1136.2 1199.2L1132.2 1189.3M1143.9 1192.2L1139.9 1182.1M1151.6 1185.1L1147.6 1174.9M1159.3 1178L1155.4 1167.7M1167 1170.9L1163.1 1160.5M1174.7 1163.9L1170.8 1153.3M1182.4 1156.8L1178.5 1146.1M1190.1 1149.7L1186.2 1138.9M1197.8 1142.7L1193.9 1131.7M1205.5 1135.6L1201.6 1124.5M1213.2 1128.5L1209.3 1117.3M1221 1121.4L1217 1110.1M1228.7 1114.4L1224.7 1102.9M1236.4 1107.3L1232.4 1095.7M1244.1 1100.2L1240.1 1088.5M1251.8 1093.2L1247.8 1081.3M1259.5 1086.1L1255.5 1074.1M1267.2 1079L1263.2 1067M1274.9 1071.9L1270.9 1059.8M1282.6 1064.9L1278.6 1052.6M1290.3 1057.8L1286.3 1045.4M1298 1050.7L1294 1038.2M1305.7 1043.7L1301.7 1031M1313.4 1036.6L1309.5 1023.8M1321.1 1029.5L1317.2 1016.6M1328.8 1022.5L1324.9 1009.4M1336.5 1015.4L1332.6 1002.2M1344.2 1008.3L1340.3 995" stroke="#134560" stroke-width="1.4" fill="none"/>
<path d="M1016.7 1297.2L1012.7 1289.1M1024.4 1290L1020.4 1281.8M1032.1 1282.8L1028.1 1274.5M1039.8 1275.6L1035.8 1267.2M1047.5 1268.4L1043.5 1259.8M1055.2 1261.2L1051.2 1252.5M1062.9 1254L1058.9 1245.2M1070.6 1246.8L1066.6 1237.9M1078.3 1239.6L1074.3 1230.6M1086 1232.4L1082 1223.2M1093.7 1225.3L1089.7 1215.9M1101.4 1218.1L1097.5 1208.6M1109.1 1210.9L1105.2 1201.3M1116.8 1203.7L1112.9 1194M1124.5 1196.5L1120.6 1186.6M1132.2 1189.3L1128.3 1179.3M1139.9 1182.1L1136 1172M1147.6 1174.9L1143.7 1164.7M1155.4 1167.7L1151.4 1157.4M1163.1 1160.5L1159.1 1150M1170.8 1153.3L1166.8 1142.7M1178.5 1146.1L1174.5 1135.4M1186.2 1138.9L1182.2 1128.1M1193.9 1131.7L1189.9 1120.8M1201.6 1124.5L1197.6 1113.4M1209.3 1117.3L1205.3 1106.1M1217 1110.1L1213 1098.8M1224.7 1102.9L1220.7 1091.5M1232.4 1095.7L1228.4 1084.2M1240.1 1088.5L1236.1 1076.8M1247.8 1081.3L1243.8 1069.5M1255.5 1074.1L1251.6 1062.2M1263.2 1067L1259.3 1054.9M1270.9 1059.8L1267 1047.6M1278.6 1052.6L1274.7 1040.2M1286.3 1045.4L1282.4 1032.9M1294 1038.2L1290.1 1025.6M1301.7 1031L1297.8 1018.3M1309.5 1023.8L1305.5 1011M1317.2 1016.6L1313.2 1003.6M1324.9 1009.4L1320.9 996.3M1332.6 1002.2L1328.6 989M1340.3 995L1336.3 981.7" stroke="#174E61" stroke-width="1.4" fill="none"/>
<path d="M1012.7 1289.1L1008.7 1281M1020.4 1281.8L1016.4 1273.6M1028.1 1274.5L1024.1 1266.2M1035.8 1267.2L1031.8 1258.7M1043.5 1259.8L1039.6 1251.3M1051.2 1252.5L1047.3 1243.8M1058.9 1245.2L1055 1236.4M1066.6 1237.9L1062.7 1228.9M1074.3 1230.6L1070.4 1221.5M1082 1223.2L1078.1 1214M1089.7 1215.9L1085.8 1206.6M1097.5 1208.6L1093.5 1199.2M1105.2 1201.3L1101.2 1191.7M1112.9 1194L1108.9 1184.3M1120.6 1186.6L1116.6 1176.8M1128.3 1179.3L1124.3 1169.4M1136 1172L1132 1161.9M1143.7 1164.7L1139.7 1154.5M1151.4 1157.4L1147.4 1147M1159.1 1150L1155.1 1139.6M1166.8 1142.7L1162.8 1132.2M1174.5 1135.4L1170.5 1124.7M1182.2 1128.1L1178.2 1117.3M1189.9 1120.8L1185.9 1109.8M1197.6 1113.4L1193.7 1102.4M1205.3 1106.1L1201.4 1094.9M1213 1098.8L1209.1 1087.5M1220.7 1091.5L1216.8 1080M1228.4 1084.2L1224.5 1072.6M1236.1 1076.8L1232.2 1065.2M1243.8 1069.5L1239.9 1057.7M1251.6 1062.2L1247.6 1050.3M1259.3 1054.9L1255.3 1042.8M1267 1047.6L1263 1035.4M1274.7 1040.2L1270.7 1027.9M1282.4 1032.9L1278.4 1020.5M1290.1 1025.6L1286.1 1013M1297.8 1018.3L1293.8 1005.6M1305.5 1011L1301.5 998.2M1313.2 1003.6L1309.2 990.7M1320.9 996.3L1316.9 983.3M1328.6 989L1324.6 975.8M1336.3 981.7L1332.3 968.4" stroke="#1B5762" stroke-width="1.4" fill="none"/>
<path d="M1008.7 1281L1004.8 1273M1016.4 1273.6L1012.5 1265.4M1024.1 1266.2L1020.2 1257.8M1031.8 1258.7L1027.9 1250.3M1039.6 1251.3L1035.6 1242.7M1047.3 1243.8L1043.3 1235.1M1055 1236.4L1051 1227.5M1062.7 1228.9L1058.7 1220M1070.4 1221.5L1066.4 1212.4M1078.1 1214L1074.1 1204.8M1085.8 1206.6L1081.8 1197.3M1093.5 1199.2L1089.5 1189.7M1101.2 1191.7L1097.2 1182.1M1108.9 1184.3L1104.9 1174.6M1116.6 1176.8L1112.6 1167M1124.3 1169.4L1120.3 1159.4M1132 1161.9L1128 1151.9M1139.7 1154.5L1135.8 1144.3M1147.4 1147L1143.5 1136.7M1155.1 1139.6L1151.2 1129.2M1162.8 1132.2L1158.9 1121.6M1170.5 1124.7L1166.6 1114M1178.2 1117.3L1174.3 1106.4M1185.9 1109.8L1182 1098.9M1193.7 1102.4L1189.7 1091.3M1201.4 1094.9L1197.4 1083.7M1209.1 1087.5L1205.1 1076.2M1216.8 1080L1212.8 1068.6M1224.5 1072.6L1220.5 1061M1232.2 1065.2L1228.2 1053.5M1239.9 1057.7L1235.9 1045.9M1247.6 1050.3L1243.6 1038.3M1255.3 1042.8L1251.3 1030.8M1263 1035.4L1259 1023.2M1270.7 1027.9L1266.7 1015.6M1278.4 1020.5L1274.4 1008M1286.1 1013L1282.1 1000.5M1293.8 1005.6L1289.9 992.9M1301.5 998.2L1297.6 985.3M1309.2 990.7L1305.3 977.8M1316.9 983.3L1313 970.2M1324.6 975.8L1320.7 962.6M1332.3 968.4L1328.4 955.1" stroke="#245F5F" stroke-width="1.4" fill="none"/>
<path d="M1004.8 1273L1000.8 1264.9M1012.5 1265.4L1008.5 1257.2M1020.2 1257.8L1016.2 1249.5M1027.9 1250.3L1023.9 1241.8M1035.6 1242.7L1031.6 1234.1M1043.3 1235.1L1039.3 1226.4M1051 1227.5L1047 1218.7M1058.7 1220L1054.7 1211M1066.4 1212.4L1062.4 1203.3M1074.1 1204.8L1070.1 1195.6M1081.8 1197.3L1077.9 1187.9M1089.5 1189.7L1085.6 1180.2M1097.2 1182.1L1093.3 1172.6M1104.9 1174.6L1101 1164.9M1112.6 1167L1108.7 1157.2M1120.3 1159.4L1116.4 1149.5M1128 1151.9L1124.1 1141.8M1135.8 1144.3L1131.8 1134.1M1143.5 1136.7L1139.5 1126.4M1151.2 1129.2L1147.2 1118.7M1158.9 1121.6L1154.9 1111M1166.6 1114L1162.6 1103.3M1174.3 1106.4L1170.3 1095.6M1182 1098.9L1178 1087.9M1189.7 1091.3L1185.7 1080.2M1197.4 1083.7L1193.4 1072.5M1205.1 1076.2L1201.1 1064.8M1212.8 1068.6L1208.8 1057.2M1220.5 1061L1216.5 1049.5M1228.2 1053.5L1224.2 1041.8M1235.9 1045.9L1232 1034.1M1243.6 1038.3L1239.7 1026.4M1251.3 1030.8L1247.4 1018.7M1259 1023.2L1255.1 1011M1266.7 1015.6L1262.8 1003.3M1274.4 1008L1270.5 995.6M1282.1 1000.5L1278.2 987.9M1289.9 992.9L1285.9 980.2M1297.6 985.3L1293.6 972.5M1305.3 977.8L1301.3 964.8M1313 970.2L1309 957.1M1320.7 962.6L1316.7 949.4M1328.4 955.1L1324.4 941.8" stroke="#2F655B" stroke-width="1.4" fill="none"/>
<path d="M1000.8 1264.9L996.8 1256.8M1008.5 1257.2L1004.5 1249M1016.2 1249.5L1012.2 1241.2M1023.9 1241.8L1020 1233.3M1031.6 1234.1L1027.7 1225.5M1039.3 1226.4L1035.4 1217.7M1047 1218.7L1043.1 1209.9M1054.7 1211L1050.8 1202.1M1062.4 1203.3L1058.5 1194.3M1070.1 1195.6L1066.2 1186.4M1077.9 1187.9L1073.9 1178.6M1085.6 1180.2L1081.6 1170.8M1093.3 1172.6L1089.3 1163M1101 1164.9L1097 1155.2M1108.7 1157.2L1104.7 1147.3M1116.4 1149.5L1112.4 1139.5M1124.1 1141.8L1120.1 1131.7M1131.8 1134.1L1127.8 1123.9M1139.5 1126.4L1135.5 1116.1M1147.2 1118.7L1143.2 1108.3M1154.9 1111L1150.9 1100.4M1162.6 1103.3L1158.6 1092.6M1170.3 1095.6L1166.4 1084.8M1178 1087.9L1174.1 1077M1185.7 1080.2L1181.8 1069.2M1193.4 1072.5L1189.5 1061.3M1201.1 1064.8L1197.2 1053.5M1208.8 1057.2L1204.9 1045.7M1216.5 1049.5L1212.6 1037.9M1224.2 1041.8L1220.3 1030.1M1232 1034.1L1228 1022.3M1239.7 1026.4L1235.7 1014.4M1247.4 1018.7L1243.4 1006.6M1255.1 1011L1251.1 998.8M1262.8 1003.3L1258.8 991M1270.5 995.6L1266.5 983.2M1278.2 987.9L1274.2 975.4M1285.9 980.2L1281.9 967.5M1293.6 972.5L1289.6 959.7M1301.3 964.8L1297.3 951.9M1309 957.1L1305 944.1M1316.7 949.4L1312.7 936.3M1324.4 941.8L1320.5 928.4" stroke="#3A6C57" stroke-width="1.4" fill="none"/>
<path d="M996.8 1256.8L992.9 1248.7M1004.5 1249L1000.6 1240.8M1012.2 1241.2L1008.3 1232.8M1020 1233.3L1016 1224.9M1027.7 1225.5L1023.7 1216.9M1035.4 1217.7L1031.4 1209M1043.1 1209.9L1039.1 1201.1M1050.8 1202.1L1046.8 1193.1M1058.5 1194.3L1054.5 1185.2M1066.2 1186.4L1062.2 1177.2M1073.9 1178.6L1069.9 1169.3M1081.6 1170.8L1077.6 1161.3M1089.3 1163L1085.3 1153.4M1097 1155.2L1093 1145.5M1104.7 1147.3L1100.7 1137.5M1112.4 1139.5L1108.5 1129.6M1120.1 1131.7L1116.2 1121.6M1127.8 1123.9L1123.9 1113.7M1135.5 1116.1L1131.6 1105.8M1143.2 1108.3L1139.3 1097.8M1150.9 1100.4L1147 1089.9M1158.6 1092.6L1154.7 1081.9M1166.4 1084.8L1162.4 1074M1174.1 1077L1170.1 1066M1181.8 1069.2L1177.8 1058.1M1189.5 1061.3L1185.5 1050.2M1197.2 1053.5L1193.2 1042.2M1204.9 1045.7L1200.9 1034.3M1212.6 1037.9L1208.6 1026.3M1220.3 1030.1L1216.3 1018.4M1228 1022.3L1224 1010.4M1235.7 1014.4L1231.7 1002.5M1243.4 1006.6L1239.4 994.6M1251.1 998.8L1247.1 986.6M1258.8 991L1254.8 978.7M1266.5 983.2L1262.6 970.7M1274.2 975.4L1270.3 962.8M1281.9 967.5L1278 954.8M1289.6 959.7L1285.7 946.9M1297.3 951.9L1293.4 939M1305 944.1L1301.1 931M1312.7 936.3L1308.8 923.1M1320.5 928.4L1316.5 915.1" stroke="#49714F" stroke-width="1.4" fill="none"/>
<path d="M992.9 1248.7L988.9 1240.6M1000.6 1240.8L996.6 1232.6M1008.3 1232.8L1004.3 1224.5M1016 1224.9L1012 1216.4M1023.7 1216.9L1019.7 1208.4M1031.4 1209L1027.4 1200.3M1039.1 1201.1L1035.1 1192.2M1046.8 1193.1L1042.8 1184.2M1054.5 1185.2L1050.6 1176.1M1062.2 1177.2L1058.3 1168M1069.9 1169.3L1066 1160M1077.6 1161.3L1073.7 1151.9M1085.3 1153.4L1081.4 1143.8M1093 1145.5L1089.1 1135.8M1100.7 1137.5L1096.8 1127.7M1108.5 1129.6L1104.5 1119.6M1116.2 1121.6L1112.2 1111.6M1123.9 1113.7L1119.9 1103.5M1131.6 1105.8L1127.6 1095.4M1139.3 1097.8L1135.3 1087.4M1147 1089.9L1143 1079.3M1154.7 1081.9L1150.7 1071.2M1162.4 1074L1158.4 1063.2M1170.1 1066L1166.1 1055.1M1177.8 1058.1L1173.8 1047M1185.5 1050.2L1181.5 1039M1193.2 1042.2L1189.2 1030.9M1200.9 1034.3L1196.9 1022.8M1208.6 1026.3L1204.7 1014.8M1216.3 1018.4L1212.4 1006.7M1224 1010.4L1220.1 998.6M1231.7 1002.5L1227.8 990.6M1239.4 994.6L1235.5 982.5M1247.1 986.6L1243.2 974.4M1254.8 978.7L1250.9 966.4M1262.6 970.7L1258.6 958.3M1270.3 962.8L1266.3 950.2M1278 954.8L1274 942.2M1285.7 946.9L1281.7 934.1M1293.4 939L1289.4 926M1301.1 931L1297.1 918M1308.8 923.1L1304.8 909.9M1316.5 915.1L1312.5 901.8" stroke="#587647" stroke-width="1.4" fill="none"/>
<path d="M988.9 1240.6L984.9 1232.5M996.6 1232.6L992.7 1224.4M1004.3 1224.5L1000.4 1216.2M1012 1216.4L1008.1 1208M1019.7 1208.4L1015.8 1199.8M1027.4 1200.3L1023.5 1191.6M1035.1 1192.2L1031.2 1183.4M1042.8 1184.2L1038.9 1175.2M1050.6 1176.1L1046.6 1167M1058.3 1168L1054.3 1158.8M1066 1160L1062 1150.6M1073.7 1151.9L1069.7 1142.4M1081.4 1143.8L1077.4 1134.3M1089.1 1135.8L1085.1 1126.1M1096.8 1127.7L1092.8 1117.9M1104.5 1119.6L1100.5 1109.7M1112.2 1111.6L1108.2 1101.5M1119.9 1103.5L1115.9 1093.3M1127.6 1095.4L1123.6 1085.1M1135.3 1087.4L1131.3 1076.9M1143 1079.3L1139 1068.7M1150.7 1071.2L1146.8 1060.5M1158.4 1063.2L1154.5 1052.3M1166.1 1055.1L1162.2 1044.1M1173.8 1047L1169.9 1036M1181.5 1039L1177.6 1027.8M1189.2 1030.9L1185.3 1019.6M1196.9 1022.8L1193 1011.4M1204.7 1014.8L1200.7 1003.2M1212.4 1006.7L1208.4 995M1220.1 998.6L1216.1 986.8M1227.8 990.6L1223.8 978.6M1235.5 982.5L1231.5 970.4M1243.2 974.4L1239.2 962.2M1250.9 966.4L1246.9 954M1258.6 958.3L1254.6 945.8M1266.3 950.2L1262.3 937.7M1274 942.2L1270 929.5M1281.7 934.1L1277.7 921.3M1289.4 926L1285.4 913.1M1297.1 918L1293.1 904.9M1304.8 909.9L1300.9 896.7M1312.5 901.8L1308.6 888.5" stroke="#677B3E" stroke-width="1.4" fill="none"/>
<path d="M984.9 1232.5L981 1224.5M992.7 1224.4L988.7 1216.2M1000.4 1216.2L996.4 1207.8M1008.1 1208L1004.1 1199.5M1015.8 1199.8L1011.8 1191.2M1023.5 1191.6L1019.5 1182.9M1031.2 1183.4L1027.2 1174.6M1038.9 1175.2L1034.9 1166.3M1046.6 1167L1042.6 1157.9M1054.3 1158.8L1050.3 1149.6M1062 1150.6L1058 1141.3M1069.7 1142.4L1065.7 1133M1077.4 1134.3L1073.4 1124.7M1085.1 1126.1L1081.1 1116.4M1092.8 1117.9L1088.9 1108M1100.5 1109.7L1096.6 1099.7M1108.2 1101.5L1104.3 1091.4M1115.9 1093.3L1112 1083.1M1123.6 1085.1L1119.7 1074.8M1131.3 1076.9L1127.4 1066.5M1139 1068.7L1135.1 1058.1M1146.8 1060.5L1142.8 1049.8M1154.5 1052.3L1150.5 1041.5M1162.2 1044.1L1158.2 1033.2M1169.9 1036L1165.9 1024.9M1177.6 1027.8L1173.6 1016.6M1185.3 1019.6L1181.3 1008.3M1193 1011.4L1189 999.9M1200.7 1003.2L1196.7 991.6M1208.4 995L1204.4 983.3M1216.1 986.8L1212.1 975M1223.8 978.6L1219.8 966.7M1231.5 970.4L1227.5 958.4M1239.2 962.2L1235.2 950M1246.9 954L1243 941.7M1254.6 945.8L1250.7 933.4M1262.3 937.7L1258.4 925.1M1270 929.5L1266.1 916.8M1277.7 921.3L1273.8 908.5M1285.4 913.1L1281.5 900.1M1293.1 904.9L1289.2 891.8M1300.9 896.7L1296.9 883.5M1308.6 888.5L1304.6 875.2" stroke="#798038" stroke-width="1.4" fill="none"/>
<path d="M981 1224.5L977 1216.4M988.7 1216.2L984.7 1207.9M996.4 1207.8L992.4 1199.5M1004.1 1199.5L1000.1 1191.1M1011.8 1191.2L1007.8 1182.6M1019.5 1182.9L1015.5 1174.2M1027.2 1174.6L1023.2 1165.7M1034.9 1166.3L1031 1157.3M1042.6 1157.9L1038.7 1148.9M1050.3 1149.6L1046.4 1140.4M1058 1141.3L1054.1 1132M1065.7 1133L1061.8 1123.5M1073.4 1124.7L1069.5 1115.1M1081.1 1116.4L1077.2 1106.7M1088.9 1108L1084.9 1098.2M1096.6 1099.7L1092.6 1089.8M1104.3 1091.4L1100.3 1081.3M1112 1083.1L1108 1072.9M1119.7 1074.8L1115.7 1064.5M1127.4 1066.5L1123.4 1056M1135.1 1058.1L1131.1 1047.6M1142.8 1049.8L1138.8 1039.1M1150.5 1041.5L1146.5 1030.7M1158.2 1033.2L1154.2 1022.3M1165.9 1024.9L1161.9 1013.8M1173.6 1016.6L1169.6 1005.4M1181.3 1008.3L1177.4 996.9M1189 999.9L1185.1 988.5M1196.7 991.6L1192.8 980.1M1204.4 983.3L1200.5 971.6M1212.1 975L1208.2 963.2M1219.8 966.7L1215.9 954.7M1227.5 958.4L1223.6 946.3M1235.2 950L1231.3 937.9M1243 941.7L1239 929.4M1250.7 933.4L1246.7 921M1258.4 925.1L1254.4 912.5M1266.1 916.8L1262.1 904.1M1273.8 908.5L1269.8 895.6M1281.5 900.1L1277.5 887.2M1289.2 891.8L1285.2 878.8M1296.9 883.5L1292.9 870.3M1304.6 875.2L1300.6 861.9" stroke="#8C8431" stroke-width="1.4" fill="none"/>
<path d="M977 1216.4L973.1 1208.3M984.7 1207.9L980.8 1199.7M992.4 1199.5L988.5 1191.2M1000.1 1191.1L996.2 1182.6M1007.8 1182.6L1003.9 1174M1015.5 1174.2L1011.6 1165.5M1023.2 1165.7L1019.3 1156.9M1031 1157.3L1027 1148.3M1038.7 1148.9L1034.7 1139.8M1046.4 1140.4L1042.4 1131.2M1054.1 1132L1050.1 1122.7M1061.8 1123.5L1057.8 1114.1M1069.5 1115.1L1065.5 1105.5M1077.2 1106.7L1073.2 1097M1084.9 1098.2L1080.9 1088.4M1092.6 1089.8L1088.6 1079.8M1100.3 1081.3L1096.3 1071.3M1108 1072.9L1104 1062.7M1115.7 1064.5L1111.7 1054.1M1123.4 1056L1119.5 1045.6M1131.1 1047.6L1127.2 1037M1138.8 1039.1L1134.9 1028.4M1146.5 1030.7L1142.6 1019.9M1154.2 1022.3L1150.3 1011.3M1161.9 1013.8L1158 1002.7M1169.6 1005.4L1165.7 994.2M1177.4 996.9L1173.4 985.6M1185.1 988.5L1181.1 977.1M1192.8 980.1L1188.8 968.5M1200.5 971.6L1196.5 959.9M1208.2 963.2L1204.2 951.4M1215.9 954.7L1211.9 942.8M1223.6 946.3L1219.6 934.2M1231.3 937.9L1227.3 925.7M1239 929.4L1235 917.1M1246.7 921L1242.7 908.5M1254.4 912.5L1250.4 900M1262.1 904.1L1258.1 891.4M1269.8 895.6L1265.8 882.8M1277.5 887.2L1273.6 874.3M1285.2 878.8L1281.3 865.7M1292.9 870.3L1289 857.1M1300.6 861.9L1296.7 848.6" stroke="#9E892B" stroke-width="1.4" fill="none"/>
<path d="M973.1 1208.3L969.1 1200.2M980.8 1199.7L976.8 1191.5M988.5 1191.2L984.5 1182.8M996.2 1182.6L992.2 1174.2M1003.9 1174L999.9 1165.5M1011.6 1165.5L1007.6 1156.8M1019.3 1156.9L1015.3 1148.1M1027 1148.3L1023 1139.4M1034.7 1139.8L1030.7 1130.7M1042.4 1131.2L1038.4 1122M1050.1 1122.7L1046.1 1113.3M1057.8 1114.1L1053.8 1104.6M1065.5 1105.5L1061.6 1095.9M1073.2 1097L1069.3 1087.3M1080.9 1088.4L1077 1078.6M1088.6 1079.8L1084.7 1069.9M1096.3 1071.3L1092.4 1061.2M1104 1062.7L1100.1 1052.5M1111.7 1054.1L1107.8 1043.8M1119.5 1045.6L1115.5 1035.1M1127.2 1037L1123.2 1026.4M1134.9 1028.4L1130.9 1017.7M1142.6 1019.9L1138.6 1009.1M1150.3 1011.3L1146.3 1000.4M1158 1002.7L1154 991.7M1165.7 994.2L1161.7 983M1173.4 985.6L1169.4 974.3M1181.1 977.1L1177.1 965.6M1188.8 968.5L1184.8 956.9M1196.5 959.9L1192.5 948.2M1204.2 951.4L1200.2 939.5M1211.9 942.8L1207.9 930.8M1219.6 934.2L1215.7 922.2M1227.3 925.7L1223.4 913.5M1235 917.1L1231.1 904.8M1242.7 908.5L1238.8 896.1M1250.4 900L1246.5 887.4M1258.1 891.4L1254.2 878.7M1265.8 882.8L1261.9 870M1273.6 874.3L1269.6 861.3M1281.3 865.7L1277.3 852.6M1289 857.1L1285 844M1296.7 848.6L1292.7 835.3" stroke="#B08D34" stroke-width="1.4" fill="none"/>
<path d="M969.1 1200.2L965.1 1192.1M976.8 1191.5L972.8 1183.3M984.5 1182.8L980.5 1174.5M992.2 1174.2L988.2 1165.7M999.9 1165.5L995.9 1156.9M1007.6 1156.8L1003.7 1148.1M1015.3 1148.1L1011.4 1139.3M1023 1139.4L1019.1 1130.4M1030.7 1130.7L1026.8 1121.6M1038.4 1122L1034.5 1112.8M1046.1 1113.3L1042.2 1104M1053.8 1104.6L1049.9 1095.2M1061.6 1095.9L1057.6 1086.4M1069.3 1087.3L1065.3 1077.6M1077 1078.6L1073 1068.7M1084.7 1069.9L1080.7 1059.9M1092.4 1061.2L1088.4 1051.1M1100.1 1052.5L1096.1 1042.3M1107.8 1043.8L1103.8 1033.5M1115.5 1035.1L1111.5 1024.7M1123.2 1026.4L1119.2 1015.9M1130.9 1017.7L1126.9 1007M1138.6 1009.1L1134.6 998.2M1146.3 1000.4L1142.3 989.4M1154 991.7L1150 980.6M1161.7 983L1157.8 971.8M1169.4 974.3L1165.5 963M1177.1 965.6L1173.2 954.2M1184.8 956.9L1180.9 945.3M1192.5 948.2L1188.6 936.5M1200.2 939.5L1196.3 927.7M1207.9 930.8L1204 918.9M1215.7 922.2L1211.7 910.1M1223.4 913.5L1219.4 901.3M1231.1 904.8L1227.1 892.5M1238.8 896.1L1234.8 883.7M1246.5 887.4L1242.5 874.8M1254.2 878.7L1250.2 866M1261.9 870L1257.9 857.2M1269.6 861.3L1265.6 848.4M1277.3 852.6L1273.3 839.6M1285 844L1281 830.8M1292.7 835.3L1288.7 822" stroke="#C3903C" stroke-width="1.4" fill="none"/>
<path d="M965.1 1192.1L961.2 1184.1M972.8 1183.3L968.9 1175.1M980.5 1174.5L976.6 1166.2M988.2 1165.7L984.3 1157.2M995.9 1156.9L992 1148.3M1003.7 1148.1L999.7 1139.4M1011.4 1139.3L1007.4 1130.4M1019.1 1130.4L1015.1 1121.5M1026.8 1121.6L1022.8 1112.6M1034.5 1112.8L1030.5 1103.6M1042.2 1104L1038.2 1094.7M1049.9 1095.2L1045.9 1085.7M1057.6 1086.4L1053.6 1076.8M1065.3 1077.6L1061.3 1067.9M1073 1068.7L1069 1058.9M1080.7 1059.9L1076.7 1050M1088.4 1051.1L1084.4 1041M1096.1 1042.3L1092.1 1032.1M1103.8 1033.5L1099.9 1023.2M1111.5 1024.7L1107.6 1014.2M1119.2 1015.9L1115.3 1005.3M1126.9 1007L1123 996.4M1134.6 998.2L1130.7 987.4M1142.3 989.4L1138.4 978.5M1150 980.6L1146.1 969.5M1157.8 971.8L1153.8 960.6M1165.5 963L1161.5 951.7M1173.2 954.2L1169.2 942.7M1180.9 945.3L1176.9 933.8M1188.6 936.5L1184.6 924.8M1196.3 927.7L1192.3 915.9M1204 918.9L1200 907M1211.7 910.1L1207.7 898M1219.4 901.3L1215.4 889.1M1227.1 892.5L1223.1 880.2M1234.8 883.7L1230.8 871.2M1242.5 874.8L1238.5 862.3M1250.2 866L1246.2 853.3M1257.9 857.2L1254 844.4M1265.6 848.4L1261.7 835.5M1273.3 839.6L1269.4 826.5M1281 830.8L1277.1 817.6M1288.7 822L1286.3 813.8" stroke="#D49446" stroke-width="1.4" fill="none"/>
<path d="M961.2 1184.1L957.2 1176M968.9 1175.1L964.9 1166.9M976.6 1166.2L972.6 1157.9M984.3 1157.2L980.3 1148.8M992 1148.3L988 1139.7M999.7 1139.4L995.7 1130.7M1007.4 1130.4L1003.4 1121.6M1015.1 1121.5L1011.1 1112.5M1022.8 1112.6L1018.8 1103.5M1030.5 1103.6L1026.5 1094.4M1038.2 1094.7L1034.2 1085.3M1045.9 1085.7L1042 1076.3M1053.6 1076.8L1049.7 1067.2M1061.3 1067.9L1057.4 1058.2M1069 1058.9L1065.1 1049.1M1076.7 1050L1072.8 1040M1084.4 1041L1080.5 1031M1092.1 1032.1L1088.2 1021.9M1099.9 1023.2L1095.9 1012.8M1107.6 1014.2L1103.6 1003.8M1115.3 1005.3L1111.3 994.7M1123 996.4L1119 985.7M1130.7 987.4L1126.7 976.6M1138.4 978.5L1134.4 967.5M1146.1 969.5L1142.1 958.5M1153.8 960.6L1149.8 949.4M1161.5 951.7L1157.5 940.3M1169.2 942.7L1165.2 931.3M1176.9 933.8L1172.9 922.2M1184.6 924.8L1180.6 913.1M1192.3 915.9L1188.4 904.1M1200 907L1196.1 895M1207.7 898L1203.8 886M1215.4 889.1L1211.5 876.9M1223.1 880.2L1219.2 867.8M1230.8 871.2L1226.9 858.8M1238.5 862.3L1234.6 849.7M1246.2 853.3L1242.3 840.6M1254 844.4L1250 831.6M1261.7 835.5L1257.7 822.5M1269.4 826.5L1265.4 813.5M1277.1 817.6L1275.4 812.2" stroke="#E1995A" stroke-width="1.4" fill="none"/>
<path d="M957.2 1176L953.2 1167.9M964.9 1166.9L960.9 1158.7M972.6 1157.9L968.6 1149.5M980.3 1148.8L976.3 1140.3M988 1139.7L984.1 1131.1M995.7 1130.7L991.8 1122M1003.4 1121.6L999.5 1112.8M1011.1 1112.5L1007.2 1103.6M1018.8 1103.5L1014.9 1094.4M1026.5 1094.4L1022.6 1085.2M1034.2 1085.3L1030.3 1076M1042 1076.3L1038 1066.8M1049.7 1067.2L1045.7 1057.6M1057.4 1058.2L1053.4 1048.5M1065.1 1049.1L1061.1 1039.3M1072.8 1040L1068.8 1030.1M1080.5 1031L1076.5 1020.9M1088.2 1021.9L1084.2 1011.7M1095.9 1012.8L1091.9 1002.5M1103.6 1003.8L1099.6 993.3M1111.3 994.7L1107.3 984.1M1119 985.7L1115 975M1126.7 976.6L1122.7 965.8M1134.4 967.5L1130.5 956.6M1142.1 958.5L1138.2 947.4M1149.8 949.4L1145.9 938.2M1157.5 940.3L1153.6 929M1165.2 931.3L1161.3 919.8M1172.9 922.2L1169 910.6M1180.6 913.1L1176.7 901.5M1188.4 904.1L1184.4 892.3M1196.1 895L1192.1 883.1M1203.8 886L1199.8 873.9M1211.5 876.9L1207.5 864.7M1219.2 867.8L1215.2 855.5M1226.9 858.8L1222.9 846.3M1234.6 849.7L1230.6 837.1M1242.3 840.6L1238.3 828M1250 831.6L1246 818.8M1257.7 822.5L1253.7 809.6M1265.4 813.5L1264.5 810.4" stroke="#EE9E6D" stroke-width="1.4" fill="none"/>
<path d="M953.2 1167.9L949.3 1159.8M960.9 1158.7L957 1150.5M968.6 1149.5L964.7 1141.2M976.3 1140.3L972.4 1131.9M984.1 1131.1L980.1 1122.6M991.8 1122L987.8 1113.3M999.5 1112.8L995.5 1103.9M1007.2 1103.6L1003.2 1094.6M1014.9 1094.4L1010.9 1085.3M1022.6 1085.2L1018.6 1076M1030.3 1076L1026.3 1066.7M1038 1066.8L1034 1057.4M1045.7 1057.6L1041.7 1048.1M1053.4 1048.5L1049.4 1038.8M1061.1 1039.3L1057.1 1029.4M1068.8 1030.1L1064.8 1020.1M1076.5 1020.9L1072.6 1010.8M1084.2 1011.7L1080.3 1001.5M1091.9 1002.5L1088 992.2M1099.6 993.3L1095.7 982.9M1107.3 984.1L1103.4 973.6M1115 975L1111.1 964.3M1122.7 965.8L1118.8 954.9M1130.5 956.6L1126.5 945.6M1138.2 947.4L1134.2 936.3M1145.9 938.2L1141.9 927M1153.6 929L1149.6 917.7M1161.3 919.8L1157.3 908.4M1169 910.6L1165 899.1M1176.7 901.5L1172.7 889.8M1184.4 892.3L1180.4 880.5M1192.1 883.1L1188.1 871.1M1199.8 873.9L1195.8 861.8M1207.5 864.7L1203.5 852.5M1215.2 855.5L1211.2 843.2M1222.9 846.3L1218.9 833.9M1230.6 837.1L1226.7 824.6M1238.3 828L1234.4 815.3M1246 818.8L1242.3 806.8M1253.7 809.6L1253.4 808.6" stroke="#F8A381" stroke-width="1.4" fill="none"/>
<path d="M949.3 1159.8L945.3 1151.7M957 1150.5L953 1142.3M964.7 1141.2L960.7 1132.9M972.4 1131.9L968.4 1123.4M980.1 1122.6L976.1 1114M987.8 1113.3L983.8 1104.5M995.5 1103.9L991.5 1095.1M1003.2 1094.6L999.2 1085.7M1010.9 1085.3L1006.9 1076.2M1018.6 1076L1014.7 1066.8M1026.3 1066.7L1022.4 1057.4M1034 1057.4L1030.1 1047.9M1041.7 1048.1L1037.8 1038.5M1049.4 1038.8L1045.5 1029.1M1057.1 1029.4L1053.2 1019.6M1064.8 1020.1L1060.9 1010.2M1072.6 1010.8L1068.6 1000.7M1080.3 1001.5L1076.3 991.3M1088 992.2L1084 981.9M1095.7 982.9L1091.7 972.4M1103.4 973.6L1099.4 963M1111.1 964.3L1107.1 953.6M1118.8 954.9L1114.8 944.1M1126.5 945.6L1122.5 934.7M1134.2 936.3L1130.2 925.3M1141.9 927L1137.9 915.8M1149.6 917.7L1145.6 906.4M1157.3 908.4L1153.3 896.9M1165 899.1L1161 887.5M1172.7 889.8L1168.8 878.1M1180.4 880.5L1176.5 868.6M1188.1 871.1L1184.2 859.2M1195.8 861.8L1191.9 849.8M1203.5 852.5L1199.6 840.3M1211.2 843.2L1207.3 830.9M1218.9 833.9L1215 821.5M1226.7 824.6L1222.7 812M1234.4 815.3L1231.1 804.8" stroke="#FAAB98" stroke-width="1.4" fill="none"/>
<path d="M945.3 1151.7L941.3 1143.6M953 1142.3L949 1134.1M960.7 1132.9L956.8 1124.5M968.4 1123.4L964.5 1115M976.1 1114L972.2 1105.4M983.8 1104.5L979.9 1095.8M991.5 1095.1L987.6 1086.3M999.2 1085.7L995.3 1076.7M1006.9 1076.2L1003 1067.2M1014.7 1066.8L1010.7 1057.6M1022.4 1057.4L1018.4 1048M1030.1 1047.9L1026.1 1038.5M1037.8 1038.5L1033.8 1028.9M1045.5 1029.1L1041.5 1019.4M1053.2 1019.6L1049.2 1009.8M1060.9 1010.2L1056.9 1000.2M1068.6 1000.7L1064.6 990.7M1076.3 991.3L1072.3 981.1M1084 981.9L1080 971.6M1091.7 972.4L1087.7 962M1099.4 963L1095.4 952.4M1107.1 953.6L1103.1 942.9M1114.8 944.1L1110.9 933.3M1122.5 934.7L1118.6 923.7M1130.2 925.3L1126.3 914.2M1137.9 915.8L1134 904.6M1145.6 906.4L1141.7 895.1M1153.3 896.9L1149.4 885.5M1161 887.5L1157.1 875.9M1168.8 878.1L1164.8 866.4M1176.5 868.6L1172.5 856.8M1184.2 859.2L1180.2 847.3M1191.9 849.8L1187.9 837.7M1199.6 840.3L1195.6 828.1M1207.3 830.9L1203.3 818.6M1215 821.5L1211 809M1222.7 812L1219.8 802.8" stroke="#FCB2AE" stroke-width="1.4" fill="none"/>
<path d="M941.3 1143.6L937.4 1135.6M949 1134.1L945.1 1125.9M956.8 1124.5L952.8 1116.2M964.5 1115L960.5 1106.5M972.2 1105.4L968.2 1096.8M979.9 1095.8L975.9 1087.1M987.6 1086.3L983.6 1077.5M995.3 1076.7L991.3 1067.8M1003 1067.2L999 1058.1M1010.7 1057.6L1006.7 1048.4M1018.4 1048L1014.4 1038.7M1026.1 1038.5L1022.1 1029M1033.8 1028.9L1029.8 1019.3M1041.5 1019.4L1037.5 1009.7M1049.2 1009.8L1045.2 1000M1056.9 1000.2L1053 990.3M1064.6 990.7L1060.7 980.6M1072.3 981.1L1068.4 970.9M1080 971.6L1076.1 961.2M1087.7 962L1083.8 951.5M1095.4 952.4L1091.5 941.9M1103.1 942.9L1099.2 932.2M1110.9 933.3L1106.9 922.5M1118.6 923.7L1114.6 912.8M1126.3 914.2L1122.3 903.1M1134 904.6L1130 893.4M1141.7 895.1L1137.7 883.7M1149.4 885.5L1145.4 874.1M1157.1 875.9L1153.1 864.4M1164.8 866.4L1160.8 854.7M1172.5 856.8L1168.5 845M1180.2 847.3L1176.2 835.3M1187.9 837.7L1183.9 825.6M1195.6 828.1L1191.6 815.9M1203.3 818.6L1199.4 806.3M1211 809L1208.4 800.8" stroke="#FDBAC4" stroke-width="1.4" fill="none"/>
<path d="M937.4 1135.6L933.4 1127.5M945.1 1125.9L941.1 1117.7M952.8 1116.2L948.8 1107.9M960.5 1106.5L956.5 1098.1M968.2 1096.8L964.2 1088.2M975.9 1087.1L971.9 1078.4M983.6 1077.5L979.6 1068.6M991.3 1067.8L987.3 1058.8M999 1058.1L995.1 1049M1006.7 1048.4L1002.8 1039.2M1014.4 1038.7L1010.5 1029.4M1022.1 1029L1018.2 1019.6M1029.8 1019.3L1025.9 1009.8M1037.5 1009.7L1033.6 1000M1045.2 1000L1041.3 990.1M1053 990.3L1049 980.3M1060.7 980.6L1056.7 970.5M1068.4 970.9L1064.4 960.7M1076.1 961.2L1072.1 950.9M1083.8 951.5L1079.8 941.1M1091.5 941.9L1087.5 931.3M1099.2 932.2L1095.2 921.5M1106.9 922.5L1102.9 911.7M1114.6 912.8L1110.6 901.9M1122.3 903.1L1118.3 892M1130 893.4L1126 882.2M1137.7 883.7L1133.7 872.4M1145.4 874.1L1141.5 862.6M1153.1 864.4L1149.2 852.8M1160.8 854.7L1156.9 843M1168.5 845L1164.6 833.2M1176.2 835.3L1172.3 823.4M1183.9 825.6L1180 813.6M1191.6 815.9L1187.7 803.8M1199.4 806.3L1196.9 798.7" stroke="#FCC1DA" stroke-width="1.4" fill="none"/>
<path d="M933.4 1127.5L929.4 1119.4M941.1 1117.7L937.2 1109.5M948.8 1107.9L944.9 1099.5M956.5 1098.1L952.6 1089.6M964.2 1088.2L960.3 1079.7M971.9 1078.4L968 1069.7M979.6 1068.6L975.7 1059.8M987.3 1058.8L983.4 1049.9M995.1 1049L991.1 1039.9M1002.8 1039.2L998.8 1030M1010.5 1029.4L1006.5 1020.1M1018.2 1019.6L1014.2 1010.1M1025.9 1009.8L1021.9 1000.2M1033.6 1000L1029.6 990.3M1041.3 990.1L1037.3 980.3M1049 980.3L1045 970.4M1056.7 970.5L1052.7 960.5M1064.4 960.7L1060.4 950.5M1072.1 950.9L1068.1 940.6M1079.8 941.1L1075.8 930.6M1087.5 931.3L1083.6 920.7M1095.2 921.5L1091.3 910.8M1102.9 911.7L1099 900.8M1110.6 901.9L1106.7 890.9M1118.3 892L1114.4 881M1126 882.2L1122.1 871M1133.7 872.4L1129.8 861.1M1141.5 862.6L1137.5 851.2M1149.2 852.8L1145.2 841.2M1156.9 843L1152.9 831.3M1164.6 833.2L1160.6 821.4M1172.3 823.4L1168.3 811.4M1180 813.6L1176 801.5M1187.7 803.8L1185.3 796.4" stroke="#FBC8EF" stroke-width="1.4" fill="none"/>
<polygon points="1094.7,920.1 1086,935.1 1103.4,935.1" fill="#FBC6E9" stroke="#000" stroke-width="1.25" stroke-linejoin="miter"/>
<polygon points="1155.5,831.7 1146.8,846.7 1164.2,846.7" fill="#FBC6E9" stroke="#000" stroke-width="1.25" stroke-linejoin="miter"/>
<polygon points="1194.9,828.9 1186.2,843.9 1203.6,843.9" fill="#FCB3B1" stroke="#000" stroke-width="1.25" stroke-linejoin="miter"/>
<polygon points="1128.1,909.1 1119.4,924.1 1136.8,924.1" fill="#FCB3B1" stroke="#000" stroke-width="1.25" stroke-linejoin="miter"/>
<polygon points="1194.9,816.7 1186.2,831.7 1203.6,831.7" fill="#FCB3B1" stroke="#000" stroke-width="1.25" stroke-linejoin="miter"/>
<polygon points="1072.2,979.4 1079.6,989.2 1072.2,999 1064.8,989.2" fill="#FCB3B1" stroke="#000" stroke-width="1.25"/>
<polygon points="1139.2,881.5 1130.5,896.5 1147.9,896.5" fill="#FCB3B1" stroke="#000" stroke-width="1.25" stroke-linejoin="miter"/>
<polygon points="1050.3,996.2 1057.7,1006 1050.3,1015.8 1042.9,1006" fill="#FCB3B1" stroke="#000" stroke-width="1.25"/>
<polygon points="1069.2,954.8 1060.5,969.8 1077.9,969.8" fill="#FCB3B1" stroke="#000" stroke-width="1.25" stroke-linejoin="miter"/>
<polygon points="1085.2,930.3 1076.5,945.3 1093.9,945.3" fill="#FCB3B1" stroke="#000" stroke-width="1.25" stroke-linejoin="miter"/>
<polygon points="1156.4,827.3 1147.7,842.3 1165.1,842.3" fill="#FCB3B1" stroke="#000" stroke-width="1.25" stroke-linejoin="miter"/>
<circle cx="1086.9" cy="1014.8" r="7" fill="#F8A17C" stroke="#000" stroke-width="1.25"/>
<circle cx="1092.8" cy="1000.4" r="7" fill="#F8A17C" stroke="#000" stroke-width="1.25"/>
<polygon points="1039.3,1047.5 1046.7,1057.3 1039.3,1067.1 1031.9,1057.3" fill="#F8A17C" stroke="#000" stroke-width="1.25"/>
<polygon points="1028.2,1061.4 1035.6,1071.2 1028.2,1081 1020.8,1071.2" fill="#F8A17C" stroke="#000" stroke-width="1.25"/>
<polygon points="1046.9,1035.7 1038.2,1050.7 1055.6,1050.7" fill="#F8A17C" stroke="#000" stroke-width="1.25" stroke-linejoin="miter"/>
<polygon points="1081.7,984.6 1089.1,994.4 1081.7,1004.2 1074.3,994.4" fill="#F8A17C" stroke="#000" stroke-width="1.25"/>
<polygon points="1046.6,1033.1 1037.9,1048.1 1055.3,1048.1" fill="#F8A17C" stroke="#000" stroke-width="1.25" stroke-linejoin="miter"/>
<circle cx="1090.3" cy="977.2" r="7" fill="#F8A17C" stroke="#000" stroke-width="1.25"/>
<circle cx="982.7" cy="1121.8" r="7" fill="#F8A17C" stroke="#000" stroke-width="1.25"/>
<polygon points="1061.2,1003.7 1068.6,1013.5 1061.2,1023.3 1053.8,1013.5" fill="#F8A17C" stroke="#000" stroke-width="1.25"/>
<circle cx="1109.1" cy="945.3" r="7" fill="#F8A17C" stroke="#000" stroke-width="1.25"/>
<circle cx="1096.3" cy="957.6" r="7" fill="#F8A17C" stroke="#000" stroke-width="1.25"/>
<polygon points="1064.6,991.2 1072,1001 1064.6,1010.8 1057.2,1001" fill="#F8A17C" stroke="#000" stroke-width="1.25"/>
<polygon points="1103.1,944.6 1094.4,929.6 1111.8,929.6" fill="#F8A17C" stroke="#000" stroke-width="1.25"/>
<polygon points="1078.3,962.9 1069.6,977.9 1087,977.9" fill="#F8A17C" stroke="#000" stroke-width="1.25" stroke-linejoin="miter"/>
<polygon points="1178.8,945.3 1170.1,960.3 1187.5,960.3" fill="#CF9242" stroke="#000" stroke-width="1.25" stroke-linejoin="miter"/>
<rect x="1036.4" y="1098.6" width="10" height="10" fill="#CF9242" stroke="#000" stroke-width="1.25"/>
<rect x="1020" y="1116.4" width="10" height="10" fill="#CF9242" stroke="#000" stroke-width="1.25"/>
<polygon points="1062.8,1057.9 1054.1,1072.9 1071.5,1072.9" fill="#CF9242" stroke="#000" stroke-width="1.25" stroke-linejoin="miter"/>
<polygon points="1142.1,948.7 1133.4,963.7 1150.8,963.7" fill="#CF9242" stroke="#000" stroke-width="1.25" stroke-linejoin="miter"/>
<polygon points="1053.3,1067.6 1060.7,1077.4 1053.3,1087.2 1045.9,1077.4" fill="#CF9242" stroke="#000" stroke-width="1.25"/>
<polygon points="1115.5,983.6 1106.8,998.6 1124.2,998.6" fill="#CF9242" stroke="#000" stroke-width="1.25" stroke-linejoin="miter"/>
<polygon points="1035.4,1090.4 1026.7,1105.4 1044.1,1105.4" fill="#CF9242" stroke="#000" stroke-width="1.25" stroke-linejoin="miter"/>
<rect x="1005.5" y="1122.8" width="10" height="10" fill="#CF9242" stroke="#000" stroke-width="1.25"/>
<polygon points="1017.4,1098.3 1024.8,1108.1 1017.4,1117.9 1010,1108.1" fill="#CF9242" stroke="#000" stroke-width="1.25"/>
<polygon points="1025,1086.4 1032.4,1096.2 1025,1106 1017.6,1096.2" fill="#CF9242" stroke="#000" stroke-width="1.25"/>
<polygon points="1055.9,1041.9 1047.2,1056.9 1064.6,1056.9" fill="#CF9242" stroke="#000" stroke-width="1.25" stroke-linejoin="miter"/>
<polygon points="1180.5,860.4 1171.8,875.4 1189.2,875.4" fill="#CF9242" stroke="#000" stroke-width="1.25" stroke-linejoin="miter"/>
<polygon points="1085,978 1076.3,993 1093.7,993" fill="#CF9242" stroke="#000" stroke-width="1.25" stroke-linejoin="miter"/>
<polygon points="1085.5,976.4 1076.8,991.4 1094.2,991.4" fill="#CF9242" stroke="#000" stroke-width="1.25" stroke-linejoin="miter"/>
<polygon points="1187.4,832.5 1178.7,847.5 1196.1,847.5" fill="#CF9242" stroke="#000" stroke-width="1.25" stroke-linejoin="miter"/>
<circle cx="1056.1" cy="1092.7" r="7" fill="#B28D35" stroke="#000" stroke-width="1.25"/>
<polygon points="973.9,1268.3 965.2,1283.3 982.6,1283.3" fill="#9A882C" stroke="#000" stroke-width="1.25" stroke-linejoin="miter"/>
<polygon points="1160.2,1011.4 1151.5,1026.4 1168.9,1026.4" fill="#9A882C" stroke="#000" stroke-width="1.25" stroke-linejoin="miter"/>
<polygon points="1141.4,1036.5 1132.7,1051.5 1150.1,1051.5" fill="#9A882C" stroke="#000" stroke-width="1.25" stroke-linejoin="miter"/>
<polygon points="1126,1055.7 1117.3,1070.7 1134.7,1070.7" fill="#9A882C" stroke="#000" stroke-width="1.25" stroke-linejoin="miter"/>
<polygon points="1122.9,1056.9 1114.2,1071.9 1131.6,1071.9" fill="#9A882C" stroke="#000" stroke-width="1.25" stroke-linejoin="miter"/>
<polygon points="1159.1,1005.9 1150.4,1020.9 1167.8,1020.9" fill="#9A882C" stroke="#000" stroke-width="1.25" stroke-linejoin="miter"/>
<polygon points="1076.9,960.2 1068.2,975.2 1085.6,975.2" fill="#CF9242" stroke="#000" stroke-width="1.25" stroke-linejoin="miter"/>
<polygon points="1208.2,949.1 1199.5,934.1 1216.9,934.1" fill="#9A882C" stroke="#000" stroke-width="1.25"/>
<polygon points="1141.4,1025.3 1132.7,1040.3 1150.1,1040.3" fill="#9A882C" stroke="#000" stroke-width="1.25" stroke-linejoin="miter"/>
<polygon points="1125.5,1043.7 1116.8,1058.7 1134.2,1058.7" fill="#9A882C" stroke="#000" stroke-width="1.25" stroke-linejoin="miter"/>
<polygon points="1141.4,1020.6 1132.7,1035.6 1150.1,1035.6" fill="#9A882C" stroke="#000" stroke-width="1.25" stroke-linejoin="miter"/>
<polygon points="1070.6,1117.1 1072.4,1122.6 1078.2,1122.6 1073.5,1126 1075.3,1131.5 1070.6,1128.1 1065.9,1131.5 1067.7,1126 1063,1122.6 1068.8,1122.6" fill="#9A882C" stroke="#000" stroke-width="1.25"/>
<polygon points="1104.9,1066.2 1096.2,1081.2 1113.6,1081.2" fill="#9A882C" stroke="#000" stroke-width="1.25" stroke-linejoin="miter"/>
<polygon points="1131.9,1025.6 1123.2,1040.6 1140.6,1040.6" fill="#9A882C" stroke="#000" stroke-width="1.25" stroke-linejoin="miter"/>
<polygon points="1083.5,1091 1074.8,1106 1092.2,1106" fill="#9A882C" stroke="#000" stroke-width="1.25" stroke-linejoin="miter"/>
<circle cx="1037.3" cy="1160.8" r="7" fill="#9A882C" stroke="#000" stroke-width="1.25"/>
<circle cx="1053.6" cy="1132.6" r="7" fill="#9A882C" stroke="#000" stroke-width="1.25"/>
<rect x="1039.1" y="1138.8" width="10" height="10" fill="#9A882C" stroke="#000" stroke-width="1.25"/>
<polygon points="968.8,1239.6 960.1,1254.6 977.5,1254.6" fill="#9A882C" stroke="#000" stroke-width="1.25" stroke-linejoin="miter"/>
<polygon points="1098.1,1060.3 1089.4,1075.3 1106.8,1075.3" fill="#9A882C" stroke="#000" stroke-width="1.25" stroke-linejoin="miter"/>
<circle cx="1015.9" cy="1180.8" r="7" fill="#9A882C" stroke="#000" stroke-width="1.25"/>
<polygon points="1122.5,1020.7 1113.8,1035.7 1131.2,1035.7" fill="#9A882C" stroke="#000" stroke-width="1.25" stroke-linejoin="miter"/>
<polygon points="1087,1061 1088.8,1066.6 1094.6,1066.6 1089.9,1070 1091.7,1075.5 1087,1072.1 1082.3,1075.5 1084.1,1070 1079.4,1066.6 1085.2,1066.6" fill="#9A882C" stroke="#000" stroke-width="1.25"/>
<circle cx="1001.3" cy="1184.5" r="7" fill="#9A882C" stroke="#000" stroke-width="1.25"/>
<circle cx="1019.3" cy="1158.8" r="7" fill="#9A882C" stroke="#000" stroke-width="1.25"/>
<polygon points="974.8,1211.4 966.1,1226.4 983.5,1226.4" fill="#9A882C" stroke="#000" stroke-width="1.25" stroke-linejoin="miter"/>
<circle cx="1092.9" cy="1047.7" r="7" fill="#9A882C" stroke="#000" stroke-width="1.25"/>
<polygon points="1139.7,975.6 1131,990.6 1148.4,990.6" fill="#9A882C" stroke="#000" stroke-width="1.25" stroke-linejoin="miter"/>
<circle cx="1026.1" cy="1139.2" r="7" fill="#9A882C" stroke="#000" stroke-width="1.25"/>
<circle cx="1093.4" cy="1046.5" r="7" fill="#9A882C" stroke="#000" stroke-width="1.25"/>
<polygon points="987.6,1181.7 978.9,1196.7 996.3,1196.7" fill="#9A882C" stroke="#000" stroke-width="1.25" stroke-linejoin="miter"/>
<circle cx="1003.9" cy="1164.4" r="7" fill="#9A882C" stroke="#000" stroke-width="1.25"/>
<circle cx="1006.4" cy="1158.1" r="7" fill="#9A882C" stroke="#000" stroke-width="1.25"/>
<circle cx="1034.7" cy="1117.6" r="7" fill="#9A882C" stroke="#000" stroke-width="1.25"/>
<polygon points="1095.2,1026.4 1086.5,1041.4 1103.9,1041.4" fill="#9A882C" stroke="#000" stroke-width="1.25" stroke-linejoin="miter"/>
<polygon points="1128.3,979.5 1119.6,994.5 1137,994.5" fill="#9A882C" stroke="#000" stroke-width="1.25" stroke-linejoin="miter"/>
<polygon points="1082.7,1040.2 1074,1055.2 1091.4,1055.2" fill="#9A882C" stroke="#000" stroke-width="1.25" stroke-linejoin="miter"/>
<polygon points="1096.3,1021.2 1087.6,1036.2 1105,1036.2" fill="#9A882C" stroke="#000" stroke-width="1.25" stroke-linejoin="miter"/>
<polygon points="1127.7,976.6 1119,991.6 1136.4,991.6" fill="#9A882C" stroke="#000" stroke-width="1.25" stroke-linejoin="miter"/>
<polygon points="1082.1,1038.1 1073.4,1053.1 1090.8,1053.1" fill="#9A882C" stroke="#000" stroke-width="1.25" stroke-linejoin="miter"/>
<circle cx="996.2" cy="1159.8" r="7" fill="#9A882C" stroke="#000" stroke-width="1.25"/>
<polygon points="1138,951.2 1129.3,966.2 1146.7,966.2" fill="#9A882C" stroke="#000" stroke-width="1.25" stroke-linejoin="miter"/>
<circle cx="1007.4" cy="1123.3" r="7" fill="#9A882C" stroke="#000" stroke-width="1.25"/>
<polygon points="1054.4,1047.4 1045.7,1062.4 1063.1,1062.4" fill="#9A882C" stroke="#000" stroke-width="1.25" stroke-linejoin="miter"/>
<circle cx="1020.1" cy="1099.7" r="7" fill="#9A882C" stroke="#000" stroke-width="1.25"/>
<polygon points="1144.5,1073.9 1135.8,1088.9 1153.2,1088.9" fill="#667A3F" stroke="#000" stroke-width="1.25" stroke-linejoin="miter"/>
<polygon points="1145.1,1043.9 1136.4,1058.9 1153.8,1058.9" fill="#667A3F" stroke="#000" stroke-width="1.25" stroke-linejoin="miter"/>
<circle cx="1038.4" cy="1194.2" r="7" fill="#667A3F" stroke="#000" stroke-width="1.25"/>
<circle cx="1088.9" cy="1121.5" r="7" fill="#667A3F" stroke="#000" stroke-width="1.25"/>
<circle cx="1000.7" cy="1234.5" r="7" fill="#667A3F" stroke="#000" stroke-width="1.25"/>
<circle cx="992.1" cy="1245.7" r="7" fill="#667A3F" stroke="#000" stroke-width="1.25"/>
<polygon points="1132.6,1040.2 1123.9,1055.2 1141.3,1055.2" fill="#667A3F" stroke="#000" stroke-width="1.25" stroke-linejoin="miter"/>
<circle cx="1061.4" cy="1145.5" r="7" fill="#667A3F" stroke="#000" stroke-width="1.25"/>
<polygon points="1129.6,1042.5 1120.9,1057.5 1138.3,1057.5" fill="#667A3F" stroke="#000" stroke-width="1.25" stroke-linejoin="miter"/>
<circle cx="998.1" cy="1222.6" r="7" fill="#667A3F" stroke="#000" stroke-width="1.25"/>
<circle cx="1026.3" cy="1177.8" r="7" fill="#667A3F" stroke="#000" stroke-width="1.25"/>
<polygon points="1247.1,1017 1238.4,1032 1255.8,1032" fill="#3B6C56" stroke="#000" stroke-width="1.25" stroke-linejoin="miter"/>
<polygon points="1102.9,1059.2 1094.2,1074.2 1111.6,1074.2" fill="#667A3F" stroke="#000" stroke-width="1.25" stroke-linejoin="miter"/>
<polygon points="1095.8,1057.3 1087.1,1072.3 1104.5,1072.3" fill="#667A3F" stroke="#000" stroke-width="1.25" stroke-linejoin="miter"/>
<polygon points="1094,1059.4 1085.3,1074.4 1102.7,1074.4" fill="#667A3F" stroke="#000" stroke-width="1.25" stroke-linejoin="miter"/>
<circle cx="1026.3" cy="1135.3" r="7" fill="#667A3F" stroke="#000" stroke-width="1.25"/>
<circle cx="1011.8" cy="1154.7" r="7" fill="#667A3F" stroke="#000" stroke-width="1.25"/>
<polygon points="1340.7,995.4 1332,1010.4 1349.4,1010.4" fill="#1C5962" stroke="#000" stroke-width="1.25" stroke-linejoin="miter"/>
<polygon points="1156.9,1078.2 1148.2,1093.2 1165.6,1093.2" fill="#3B6C56" stroke="#000" stroke-width="1.25" stroke-linejoin="miter"/>
<polygon points="1099.6,999.6 1090.9,1014.6 1108.3,1014.6" fill="#667A3F" stroke="#000" stroke-width="1.25" stroke-linejoin="miter"/>
<polygon points="1090.5,1007.2 1081.8,1022.2 1099.2,1022.2" fill="#667A3F" stroke="#000" stroke-width="1.25" stroke-linejoin="miter"/>
<circle cx="1071.1" cy="1191.1" r="7" fill="#3B6C56" stroke="#000" stroke-width="1.25"/>
<polygon points="1117.3,1118.3 1108.6,1133.3 1126,1133.3" fill="#3B6C56" stroke="#000" stroke-width="1.25" stroke-linejoin="miter"/>
<polygon points="1239.5,949.4 1230.8,964.4 1248.2,964.4" fill="#3B6C56" stroke="#000" stroke-width="1.25" stroke-linejoin="miter"/>
<polygon points="1275.6,1033.4 1266.9,1048.4 1284.3,1048.4" fill="#1C5962" stroke="#000" stroke-width="1.25" stroke-linejoin="miter"/>
<polygon points="1279.8,1021 1271.1,1036 1288.5,1036" fill="#1C5962" stroke="#000" stroke-width="1.25" stroke-linejoin="miter"/>
<circle cx="993.2" cy="1266.9" r="7" fill="#3B6C56" stroke="#000" stroke-width="1.25"/>
<polygon points="1274.7,1025.8 1266,1040.8 1283.4,1040.8" fill="#1C5962" stroke="#000" stroke-width="1.25" stroke-linejoin="miter"/>
<polygon points="1172.6,1005.4 1163.9,1020.4 1181.3,1020.4" fill="#3B6C56" stroke="#000" stroke-width="1.25" stroke-linejoin="miter"/>
<polygon points="1281.6,1000.2 1272.9,1015.2 1290.3,1015.2" fill="#1C5962" stroke="#000" stroke-width="1.25" stroke-linejoin="miter"/>
<polygon points="1148.3,1151.4 1139.6,1166.4 1157,1166.4" fill="#1C5962" stroke="#000" stroke-width="1.25" stroke-linejoin="miter"/>
<polygon points="1237.9,1020.4 1229.2,1035.4 1246.6,1035.4" fill="#1C5962" stroke="#000" stroke-width="1.25" stroke-linejoin="miter"/>
<polygon points="1142.4,1151.4 1133.7,1166.4 1151.1,1166.4" fill="#1C5962" stroke="#000" stroke-width="1.25" stroke-linejoin="miter"/>
<polygon points="1172.3,1109.1 1163.6,1124.1 1181,1124.1" fill="#1C5962" stroke="#000" stroke-width="1.25" stroke-linejoin="miter"/>
<polygon points="1109.8,1194 1101.1,1209 1118.5,1209" fill="#1C5962" stroke="#000" stroke-width="1.25" stroke-linejoin="miter"/>
<polygon points="1152.6,1130.6 1143.9,1145.6 1161.3,1145.6" fill="#1C5962" stroke="#000" stroke-width="1.25" stroke-linejoin="miter"/>
<polygon points="1202.3,1054.1 1193.6,1069.1 1211,1069.1" fill="#1C5962" stroke="#000" stroke-width="1.25" stroke-linejoin="miter"/>
<polygon points="1202.8,1050.1 1194.1,1065.1 1211.5,1065.1" fill="#1C5962" stroke="#000" stroke-width="1.25" stroke-linejoin="miter"/>
<polygon points="1252.5,976.3 1243.8,991.3 1261.2,991.3" fill="#1C5962" stroke="#000" stroke-width="1.25" stroke-linejoin="miter"/>
<polygon points="1314.1,1025.4 1305.4,1040.4 1322.8,1040.4" fill="#114160" stroke="#000" stroke-width="1.25" stroke-linejoin="miter"/>
<polygon points="1132.9,1123.2 1124.2,1138.2 1141.6,1138.2" fill="#1C5962" stroke="#000" stroke-width="1.25" stroke-linejoin="miter"/>
<polygon points="1062.7,1216.1 1054,1231.1 1071.4,1231.1" fill="#1C5962" stroke="#000" stroke-width="1.25" stroke-linejoin="miter"/>
<polygon points="1186.5,1043.9 1177.8,1058.9 1195.2,1058.9" fill="#1C5962" stroke="#000" stroke-width="1.25" stroke-linejoin="miter"/>
<polygon points="1303.8,1020.7 1295.1,1035.7 1312.5,1035.7" fill="#114160" stroke="#000" stroke-width="1.25" stroke-linejoin="miter"/>
<polygon points="1269.6,1060.4 1260.9,1075.4 1278.3,1075.4" fill="#114160" stroke="#000" stroke-width="1.25" stroke-linejoin="miter"/>
<polygon points="1145.8,1086.1 1137.1,1101.1 1154.5,1101.1" fill="#1C5962" stroke="#000" stroke-width="1.25" stroke-linejoin="miter"/>
<polygon points="1358.7,1056.6 1350,1071.6 1367.4,1071.6" fill="#04205A" stroke="#000" stroke-width="1.25" stroke-linejoin="miter"/>
<polygon points="1175.8,1141 1167.1,1156 1184.5,1156" fill="#114160" stroke="#000" stroke-width="1.25" stroke-linejoin="miter"/>
<rect x="1056.6" y="978.6" width="26" height="26" fill="none" stroke="#000" stroke-width="3.6"/>
<rect x="1264.6" y="1009.6" width="26" height="26" fill="none" stroke="#000" stroke-width="3.6"/>
<text x="731" y="1486.7" style="font-family:'Liberation Sans',sans-serif;font-weight:bold;font-size:29.5px" fill="#000">F</text>
<text x="1119.7" y="1493.5" text-anchor="middle" style="font-family:'Liberation Serif',serif;font-weight:bold;font-size:28.7px" fill="#000">Model B</text>
<path d="M882.3 1974.4L882.3 1535.8M910.6 1972.1L910.6 1533.5M930.6 1970.4L930.6 1531.8M946.2 1969.2L946.2 1530.6M958.9 1968.1L958.9 1529.5M969.7 1967.3L969.7 1528.7M979 1966.5L979 1527.9M987.2 1965.8L987.2 1527.2M1042.8 1961.3L1042.8 1522.7M1071.1 1959L1071.1 1520.4M1091.2 1957.4L1091.2 1518.8M1106.7 1956.1L1106.7 1517.5M1119.4 1955.1L1119.4 1516.5M1130.2 1954.2L1130.2 1515.6M1139.5 1953.4L1139.5 1514.8M1147.7 1952.8L1147.7 1514.2M1203.4 1948.2L1203.4 1509.6M1231.6 1945.9L1231.6 1507.3M1251.7 1944.3L1251.7 1505.7M834 1912.3L1264.2 1877.3M834 1873.7L1264.2 1838.7M834 1846.3L1264.2 1811.3M834 1825L1264.2 1790M834 1807.7L1264.2 1772.7M834 1793L1264.2 1758M834 1780.3L1264.2 1745.3M834 1769L1264.2 1734M834 1693L1264.2 1658M834 1654.4L1264.2 1619.4M834 1627L1264.2 1592M834 1605.7L1264.2 1570.7M834 1588.4L1264.2 1553.4M834 1573.7L1264.2 1538.7M834 1561L1264.2 1526M834 1549.7L1264.2 1514.7M1396.5 2039.5L1396.5 1600.9M1389.1 2034.2L1389.1 1595.6M1383.9 2030.4L1383.9 1591.8M1379.9 2027.5L1379.9 1588.9M1376.6 2025.1L1376.6 1586.5M1373.8 2023L1373.8 1584.4M1371.4 2021.3L1371.4 1582.7M1369.3 2019.7L1369.3 1581.1M1354.9 2009.2L1354.9 1570.6M1347.5 2003.9L1347.5 1565.3M1342.3 2000.1L1342.3 1561.5M1338.3 1997.2L1338.3 1558.6M1335 1994.8L1335 1556.2M1332.2 1992.8L1332.2 1554.2M1329.8 1991L1329.8 1552.4M1327.7 1989.5L1327.7 1550.9M1313.3 1979L1313.3 1540.4M1305.9 1973.6L1305.9 1535M1300.7 1969.9L1300.7 1531.3M1296.7 1966.9L1296.7 1528.3M1293.4 1964.5L1293.4 1525.9M1290.6 1962.5L1290.6 1523.9M1288.2 1960.8L1288.2 1522.2M1286.1 1959.2L1286.1 1520.6M1271.6 1948.7L1271.6 1510.1M1264.3 1943.4L1264.3 1504.8M1409 1982.6L1264.2 1877.3M1409 1944L1264.2 1838.7M1409 1916.6L1264.2 1811.3M1409 1895.3L1264.2 1790M1409 1878L1264.2 1772.7M1409 1863.3L1264.2 1758M1409 1850.6L1264.2 1745.3M1409 1839.3L1264.2 1734M1409 1763.3L1264.2 1658M1409 1724.7L1264.2 1619.4M1409 1697.3L1264.2 1592M1409 1676L1264.2 1570.7M1409 1658.7L1264.2 1553.4M1409 1644L1264.2 1538.7M1409 1631.3L1264.2 1526M1409 1620L1264.2 1514.7M1027.1 2079.7L882.3 1974.4M1055.4 2077.4L910.6 1972.1M1075.4 2075.7L930.6 1970.4M1091 2074.5L946.2 1969.2M1103.7 2073.4L958.9 1968.1M1114.5 2072.6L969.7 1967.3M1123.8 2071.8L979 1966.5M1132 2071.1L987.2 1965.8M1187.6 2066.6L1042.8 1961.3M1215.9 2064.3L1071.1 1959M1236 2062.7L1091.2 1957.4M1251.5 2061.4L1106.7 1956.1M1264.2 2060.4L1119.4 1955.1M1275 2059.5L1130.2 1954.2M1284.3 2058.7L1139.5 1953.4M1292.5 2058.1L1147.7 1952.8M1348.2 2053.5L1203.4 1948.2M1376.4 2051.2L1231.6 1945.9M1396.5 2049.6L1251.7 1944.3M966.3 2074.5L1396.5 2039.5M958.9 2069.2L1389.1 2034.2M953.7 2065.4L1383.9 2030.4M949.7 2062.5L1379.9 2027.5M946.4 2060.1L1376.6 2025.1M943.6 2058L1373.8 2023M941.2 2056.3L1371.4 2021.3M939.1 2054.7L1369.3 2019.7M924.7 2044.2L1354.9 2009.2M917.3 2038.9L1347.5 2003.9M912.1 2035.1L1342.3 2000.1M908.1 2032.2L1338.3 1997.2M904.8 2029.8L1335 1994.8M902 2027.8L1332.2 1992.8M899.6 2026L1329.8 1991M897.5 2024.5L1327.7 1989.5M883.1 2014L1313.3 1979M875.7 2008.6L1305.9 1973.6M870.5 2004.9L1300.7 1969.9M866.5 2001.9L1296.7 1966.9M863.2 1999.5L1293.4 1964.5M860.4 1997.5L1290.6 1962.5M858 1995.8L1288.2 1960.8M855.9 1994.2L1286.1 1959.2M841.4 1983.7L1271.6 1948.7M834.1 1978.4L1264.3 1943.4" stroke="#ABABAB" stroke-width="1" fill="none" stroke-dasharray="2.2 7.3"/>
<path d="M994.5 1965.2L994.5 1526.6M1155 1952.2L1155 1513.6M834 1759L1264.2 1724M1367.4 2018.3L1367.4 1579.7M1325.8 1988.1L1325.8 1549.5M1284.2 1957.8L1284.2 1519.2M1409 1829.3L1264.2 1724M1139.3 2070.5L994.5 1965.2M1299.8 2057.5L1155 1952.2M937.2 2053.3L1367.4 2018.3M895.6 2023.1L1325.8 1988.1M854 1992.8L1284.2 1957.8" stroke="#DCDCDC" stroke-width="1.1" fill="none"/>
<path d="M834.5 1978.3L834.5 1539.7M834.5 1539.7L1264.5 1504.7M1264.5 1504.7L1409.5 1610M1409.5 1610L1409.5 2048.6M978.8 2083.6L1409.5 2048.6M978.8 2083.6L834.5 1978.3M834.5 1978.3L1264.5 1943.3M1264.5 1943.3L1409.5 2048.6M1264.5 1943.3L1264.5 1504.7" stroke="#262626" stroke-width="1.15" fill="none"/>
<path d="M834 1912.3L828.9 1908.8M834 1873.7L828.9 1870.2M834 1846.3L828.9 1842.8M834 1825L828.9 1821.6M834 1807.7L828.9 1804.2M834 1793L828.9 1789.5M834 1780.3L828.9 1776.8M834 1769L828.9 1765.6M834 1759L824.7 1752.7M834 1693L828.9 1689.5M834 1654.4L828.9 1650.9M834 1627L828.9 1623.5M834 1605.7L828.9 1602.3M834 1588.4L828.9 1584.9M834 1573.7L828.9 1570.2M834 1561L828.9 1557.5M834 1549.7L828.9 1546.3M834 1978.3L824.7 1972M834 1539.7L824.7 1533.4M1027.1 2079.7L1032.3 2083.5M1055.4 2077.4L1060.6 2081.2M1075.4 2075.7L1080.6 2079.5M1091 2074.5L1096.2 2078.3M1103.7 2073.4L1108.9 2077.2M1114.5 2072.6L1119.6 2076.4M1123.8 2071.8L1128.9 2075.6M1132 2071.1L1137.1 2074.9M1139.3 2070.5L1148.7 2077.4M1187.6 2066.6L1192.8 2070.4M1215.9 2064.3L1221.1 2068.1M1236 2062.7L1241.1 2066.5M1251.5 2061.4L1256.7 2065.2M1264.2 2060.4L1269.4 2064.2M1275 2059.5L1280.1 2063.3M1284.3 2058.7L1289.5 2062.5M1292.5 2058.1L1297.7 2061.9M1299.8 2057.5L1309.2 2064.4M1348.2 2053.5L1353.3 2057.3M1376.4 2051.2L1381.6 2055M1396.5 2049.6L1401.7 2053.4M978.8 2083.6L988.2 2090.5M966.3 2074.5L960.2 2075M958.9 2069.2L952.9 2069.7M953.7 2065.4L947.7 2065.9M949.7 2062.5L943.7 2062.9M946.4 2060.1L940.4 2060.5M943.6 2058L937.6 2058.5M941.2 2056.3L935.2 2056.8M939.1 2054.7L933 2055.2M937.2 2053.3L926.2 2054.2M924.7 2044.2L918.6 2044.7M917.3 2038.9L911.3 2039.4M912.1 2035.1L906.1 2035.6M908.1 2032.2L902.1 2032.7M904.8 2029.8L898.8 2030.3M902 2027.8L896 2028.3M899.6 2026L893.6 2026.5M897.5 2024.5L891.4 2025M895.6 2023.1L884.6 2024M883.1 2014L877 2014.5M875.7 2008.6L869.7 2009.1M870.5 2004.9L864.5 2005.4M866.5 2001.9L860.4 2002.4M863.2 1999.5L857.2 2000M860.4 1997.5L854.4 1998M858 1995.8L852 1996.3M855.9 1994.2L849.8 1994.7M854 1992.8L843 1993.7M841.4 1983.7L835.4 1984.2M834.1 1978.4L828.1 1978.9M978.8 2083.6L967.8 2084.5" stroke="#262626" stroke-width="1.15" fill="none"/>
<text x="816" y="1974.8" text-anchor="end" style="font-family:'Liberation Serif',serif;font-size:27.5px" fill="#262626">10</text>
<text x="816" y="1755.5" text-anchor="end" style="font-family:'Liberation Serif',serif;font-size:27.5px" fill="#262626">100</text>
<text x="816" y="1536.2" text-anchor="end" style="font-family:'Liberation Serif',serif;font-size:27.5px" fill="#262626">1000</text>
<text x="956.3" y="2111.6" text-anchor="end" style="font-family:'Liberation Serif',serif;font-size:27.5px" fill="#262626">1</text>
<text x="914.7" y="2081.3" text-anchor="end" style="font-family:'Liberation Serif',serif;font-size:27.5px" fill="#262626">10</text>
<text x="873.1" y="2051.1" text-anchor="end" style="font-family:'Liberation Serif',serif;font-size:27.5px" fill="#262626">100</text>
<text x="831.5" y="2020.8" text-anchor="end" style="font-family:'Liberation Serif',serif;font-size:27.5px" fill="#262626">1000</text>
<text x="1020.8" y="2129.1" text-anchor="middle" style="font-family:'Liberation Serif',serif;font-size:27.5px" fill="#262626">10<tspan dy="-12.5" style="font-size:20px">-4</tspan></text>
<text x="1181.3" y="2116" text-anchor="middle" style="font-family:'Liberation Serif',serif;font-size:27.5px" fill="#262626">10<tspan dy="-12.5" style="font-size:20px">-3</tspan></text>
<text x="1341.8" y="2103" text-anchor="middle" style="font-family:'Liberation Serif',serif;font-size:27.5px" fill="#262626">10<tspan dy="-12.5" style="font-size:20px">-2</tspan></text>
<text x="1077.5" y="2154.9" style="font-family:'Liberation Serif',serif;font-size:31px" fill="#262626"><tspan style="font-style:italic">b</tspan><tspan dx="3" dy="14.5" style="font-style:italic;font-size:24px">bp</tspan><tspan dy="-14.5">(700) [m</tspan><tspan dy="-16" style="font-size:25px">-1</tspan><tspan dx="3" dy="16">]</tspan></text>
<text transform="translate(739.9,1762.7) rotate(-90)" text-anchor="middle" style="font-family:'Liberation Serif',serif;font-size:32px" fill="#262626">POC [mg m<tspan dy="-16" style="font-size:24px">-3</tspan><tspan dy="16">]</tspan></text>
<text transform="translate(820,2087.2) rotate(31.5)" style="font-family:'Liberation Serif',serif;font-size:31px" fill="#262626">&#962; [mg m <tspan dy="-15" style="font-size:24px">-2</tspan><tspan dy="15">]</tspan></text>
<polygon points="1125.8,1675.1 1117.1,1690.1 1134.5,1690.1" fill="#FBC6E9" stroke="#000" stroke-width="1.25" stroke-linejoin="miter"/>
<polygon points="1124.7,1675.5 1116,1690.5 1133.4,1690.5" fill="#FBC6E9" stroke="#000" stroke-width="1.25" stroke-linejoin="miter"/>
<polygon points="1102.3,1774.9 1093.6,1789.9 1111,1789.9" fill="#FCB3B1" stroke="#000" stroke-width="1.25" stroke-linejoin="miter"/>
<polygon points="1102.1,1774.7 1093.4,1789.7 1110.8,1789.7" fill="#FCB3B1" stroke="#000" stroke-width="1.25" stroke-linejoin="miter"/>
<polygon points="1244.1,1548.1 1235.4,1563.1 1252.8,1563.1" fill="#FCB3B1" stroke="#000" stroke-width="1.25" stroke-linejoin="miter"/>
<polygon points="1220.1,1578.3 1211.4,1593.3 1228.8,1593.3" fill="#FCB3B1" stroke="#000" stroke-width="1.25" stroke-linejoin="miter"/>
<polygon points="1153.4,1666 1144.7,1681 1162.1,1681" fill="#FCB3B1" stroke="#000" stroke-width="1.25" stroke-linejoin="miter"/>
<circle cx="982.6" cy="1890.7" r="7" fill="#FCB3B1" stroke="#000" stroke-width="1.25"/>
<polygon points="1223.5,1678.9 1214.8,1693.9 1232.2,1693.9" fill="#F8A17C" stroke="#000" stroke-width="1.25" stroke-linejoin="miter"/>
<polygon points="1108.6,1686.4 1099.9,1701.4 1117.3,1701.4" fill="#FCB3B1" stroke="#000" stroke-width="1.25" stroke-linejoin="miter"/>
<polygon points="1002.4,1822.8 993.7,1837.8 1011.1,1837.8" fill="#FCB3B1" stroke="#000" stroke-width="1.25" stroke-linejoin="miter"/>
<circle cx="932" cy="1918.8" r="7" fill="#FCB3B1" stroke="#000" stroke-width="1.25"/>
<polygon points="1218.4,1647.4 1209.7,1662.4 1227.1,1662.4" fill="#F8A17C" stroke="#000" stroke-width="1.25" stroke-linejoin="miter"/>
<circle cx="940.5" cy="1900.1" r="7" fill="#FCB3B1" stroke="#000" stroke-width="1.25"/>
<polygon points="1014.9,1901.9 1006.2,1916.9 1023.6,1916.9" fill="#F8A17C" stroke="#000" stroke-width="1.25" stroke-linejoin="miter"/>
<polygon points="1245.9,1572.9 1237.2,1587.9 1254.6,1587.9" fill="#F8A17C" stroke="#000" stroke-width="1.25" stroke-linejoin="miter"/>
<rect x="1032.8" y="1849.6" width="10" height="10" fill="#F8A17C" stroke="#000" stroke-width="1.25"/>
<rect x="1031" y="1850.6" width="10" height="10" fill="#F8A17C" stroke="#000" stroke-width="1.25"/>
<polygon points="1218.4,1595.3 1209.7,1610.3 1227.1,1610.3" fill="#F8A17C" stroke="#000" stroke-width="1.25" stroke-linejoin="miter"/>
<polygon points="1169.1,1649.6 1160.4,1664.6 1177.8,1664.6" fill="#F8A17C" stroke="#000" stroke-width="1.25" stroke-linejoin="miter"/>
<circle cx="964.3" cy="1931.6" r="7" fill="#F8A17C" stroke="#000" stroke-width="1.25"/>
<polygon points="1105.4,1726.3 1096.7,1741.3 1114.1,1741.3" fill="#F8A17C" stroke="#000" stroke-width="1.25" stroke-linejoin="miter"/>
<circle cx="1000.5" cy="1871.9" r="7" fill="#F8A17C" stroke="#000" stroke-width="1.25"/>
<circle cx="988.6" cy="1888.2" r="7" fill="#F8A17C" stroke="#000" stroke-width="1.25"/>
<circle cx="1077.7" cy="1765.5" r="7" fill="#F8A17C" stroke="#000" stroke-width="1.25"/>
<circle cx="1077.3" cy="1766" r="7" fill="#F8A17C" stroke="#000" stroke-width="1.25"/>
<circle cx="954.4" cy="1926.3" r="7" fill="#F8A17C" stroke="#000" stroke-width="1.25"/>
<circle cx="989.3" cy="1876.7" r="7" fill="#F8A17C" stroke="#000" stroke-width="1.25"/>
<circle cx="959.6" cy="1908.6" r="7" fill="#F8A17C" stroke="#000" stroke-width="1.25"/>
<circle cx="976.1" cy="1885.2" r="7" fill="#F8A17C" stroke="#000" stroke-width="1.25"/>
<polygon points="1252.6,1675.5 1243.9,1690.5 1261.3,1690.5" fill="#CF9242" stroke="#000" stroke-width="1.25" stroke-linejoin="miter"/>
<polygon points="895.8,1981.4 887.1,1996.4 904.5,1996.4" fill="#F8A17C" stroke="#000" stroke-width="1.25" stroke-linejoin="miter"/>
<polygon points="905.5,1962.5 896.8,1977.5 914.2,1977.5" fill="#F8A17C" stroke="#000" stroke-width="1.25" stroke-linejoin="miter"/>
<circle cx="944.5" cy="1915.1" r="7" fill="#F8A17C" stroke="#000" stroke-width="1.25"/>
<polygon points="1108.9,1859.4 1100.2,1874.4 1117.6,1874.4" fill="#CF9242" stroke="#000" stroke-width="1.25" stroke-linejoin="miter"/>
<polygon points="1238.8,1657.9 1230.1,1672.9 1247.5,1672.9" fill="#CF9242" stroke="#000" stroke-width="1.25" stroke-linejoin="miter"/>
<polygon points="1195.4,1707.7 1186.7,1722.7 1204.1,1722.7" fill="#CF9242" stroke="#000" stroke-width="1.25" stroke-linejoin="miter"/>
<polygon points="1123.4,1803.1 1114.7,1818.1 1132.1,1818.1" fill="#CF9242" stroke="#000" stroke-width="1.25" stroke-linejoin="miter"/>
<polygon points="1123.2,1803.4 1114.5,1818.4 1131.9,1818.4" fill="#CF9242" stroke="#000" stroke-width="1.25" stroke-linejoin="miter"/>
<polygon points="1211.3,1661.2 1202.6,1676.2 1220,1676.2" fill="#CF9242" stroke="#000" stroke-width="1.25" stroke-linejoin="miter"/>
<polygon points="1180.9,1693.8 1172.2,1708.8 1189.6,1708.8" fill="#CF9242" stroke="#000" stroke-width="1.25" stroke-linejoin="miter"/>
<polygon points="1095.8,1804.4 1087.1,1819.4 1104.5,1819.4" fill="#CF9242" stroke="#000" stroke-width="1.25" stroke-linejoin="miter"/>
<polygon points="1095.5,1804.6 1086.8,1819.6 1104.2,1819.6" fill="#CF9242" stroke="#000" stroke-width="1.25" stroke-linejoin="miter"/>
<circle cx="1067.4" cy="1842.8" r="7" fill="#CF9242" stroke="#000" stroke-width="1.25"/>
<circle cx="1065" cy="1843.2" r="7" fill="#CF9242" stroke="#000" stroke-width="1.25"/>
<circle cx="1020.8" cy="1894.2" r="7" fill="#CF9242" stroke="#000" stroke-width="1.25"/>
<polygon points="1101.1,1773.3 1092.4,1788.3 1109.8,1788.3" fill="#CF9242" stroke="#000" stroke-width="1.25" stroke-linejoin="miter"/>
<polygon points="1101,1771.6 1092.3,1786.6 1109.7,1786.6" fill="#CF9242" stroke="#000" stroke-width="1.25" stroke-linejoin="miter"/>
<polygon points="1280.6,1686.7 1271.9,1701.7 1289.3,1701.7" fill="#9A882C" stroke="#000" stroke-width="1.25" stroke-linejoin="miter"/>
<rect x="1024.4" y="1869.1" width="10" height="10" fill="#CF9242" stroke="#000" stroke-width="1.25"/>
<polygon points="1190.8,1809.7 1182.1,1824.7 1199.5,1824.7" fill="#9A882C" stroke="#000" stroke-width="1.25" stroke-linejoin="miter"/>
<polygon points="946.4,1979.5 937.7,1994.5 955.1,1994.5" fill="#CF9242" stroke="#000" stroke-width="1.25" stroke-linejoin="miter"/>
<polygon points="929.9,1991.3 921.2,2006.3 938.6,2006.3" fill="#CF9242" stroke="#000" stroke-width="1.25" stroke-linejoin="miter"/>
<circle cx="996.5" cy="1906.9" r="7" fill="#CF9242" stroke="#000" stroke-width="1.25"/>
<polygon points="1265.4,1676.1 1256.7,1691.1 1274.1,1691.1" fill="#9A882C" stroke="#000" stroke-width="1.25" stroke-linejoin="miter"/>
<polygon points="917.4,1987.5 908.7,2002.5 926.1,2002.5" fill="#CF9242" stroke="#000" stroke-width="1.25" stroke-linejoin="miter"/>
<polygon points="1248.8,1687 1240.1,1702 1257.5,1702" fill="#9A882C" stroke="#000" stroke-width="1.25" stroke-linejoin="miter"/>
<polygon points="1264.6,1663.7 1255.9,1678.7 1273.3,1678.7" fill="#9A882C" stroke="#000" stroke-width="1.25" stroke-linejoin="miter"/>
<polygon points="922.7,1967.2 914,1982.2 931.4,1982.2" fill="#CF9242" stroke="#000" stroke-width="1.25" stroke-linejoin="miter"/>
<polygon points="1219,1711.9 1210.3,1726.9 1227.7,1726.9" fill="#9A882C" stroke="#000" stroke-width="1.25" stroke-linejoin="miter"/>
<polygon points="1184.9,1754.3 1176.2,1769.3 1193.6,1769.3" fill="#9A882C" stroke="#000" stroke-width="1.25" stroke-linejoin="miter"/>
<polygon points="1220.1,1847.8 1211.4,1862.8 1228.8,1862.8" fill="#667A3F" stroke="#000" stroke-width="1.25" stroke-linejoin="miter"/>
<polygon points="1173.1,1741 1164.4,1756 1181.8,1756" fill="#9A882C" stroke="#000" stroke-width="1.25" stroke-linejoin="miter"/>
<polygon points="1166.5,1750 1157.8,1765 1175.2,1765" fill="#9A882C" stroke="#000" stroke-width="1.25" stroke-linejoin="miter"/>
<polygon points="1166.8,1748.5 1158.1,1763.5 1175.5,1763.5" fill="#9A882C" stroke="#000" stroke-width="1.25" stroke-linejoin="miter"/>
<polygon points="1168.9,1745 1160.2,1760 1177.6,1760" fill="#9A882C" stroke="#000" stroke-width="1.25" stroke-linejoin="miter"/>
<polygon points="1280.4,1739.1 1271.7,1754.1 1289.1,1754.1" fill="#667A3F" stroke="#000" stroke-width="1.25" stroke-linejoin="miter"/>
<polygon points="1124.1,1786.3 1115.4,1801.3 1132.8,1801.3" fill="#9A882C" stroke="#000" stroke-width="1.25" stroke-linejoin="miter"/>
<polygon points="1069.1,1854.8 1060.4,1869.8 1077.8,1869.8" fill="#9A882C" stroke="#000" stroke-width="1.25" stroke-linejoin="miter"/>
<polygon points="1082.8,1830.2 1074.1,1845.2 1091.5,1845.2" fill="#9A882C" stroke="#000" stroke-width="1.25" stroke-linejoin="miter"/>
<rect x="1053.7" y="1858.5" width="10" height="10" fill="#9A882C" stroke="#000" stroke-width="1.25"/>
<polygon points="1281.9,1703.6 1273.2,1718.6 1290.6,1718.6" fill="#667A3F" stroke="#000" stroke-width="1.25" stroke-linejoin="miter"/>
<polygon points="946.7,1986 938,2001 955.4,2001" fill="#9A882C" stroke="#000" stroke-width="1.25" stroke-linejoin="miter"/>
<polygon points="1231.1,1735.7 1222.4,1750.7 1239.8,1750.7" fill="#667A3F" stroke="#000" stroke-width="1.25" stroke-linejoin="miter"/>
<polygon points="1197,1764.3 1188.3,1779.3 1205.7,1779.3" fill="#667A3F" stroke="#000" stroke-width="1.25" stroke-linejoin="miter"/>
<polygon points="1258.5,1808.4 1249.8,1823.4 1267.2,1823.4" fill="#3B6C56" stroke="#000" stroke-width="1.25" stroke-linejoin="miter"/>
<polygon points="1081.1,1863.1 1072.4,1878.1 1089.8,1878.1" fill="#667A3F" stroke="#000" stroke-width="1.25" stroke-linejoin="miter"/>
<polygon points="1278,1748.3 1269.3,1763.3 1286.7,1763.3" fill="#3B6C56" stroke="#000" stroke-width="1.25" stroke-linejoin="miter"/>
<polygon points="1007.5,1943.7 998.8,1958.7 1016.2,1958.7" fill="#667A3F" stroke="#000" stroke-width="1.25" stroke-linejoin="miter"/>
<circle cx="968.7" cy="1989.4" r="7" fill="#667A3F" stroke="#000" stroke-width="1.25"/>
<circle cx="1000.9" cy="1943.4" r="7" fill="#667A3F" stroke="#000" stroke-width="1.25"/>
<circle cx="991.1" cy="1946.8" r="7" fill="#667A3F" stroke="#000" stroke-width="1.25"/>
<circle cx="971.3" cy="1962.5" r="7" fill="#667A3F" stroke="#000" stroke-width="1.25"/>
<circle cx="961.4" cy="1974.7" r="7" fill="#667A3F" stroke="#000" stroke-width="1.25"/>
<polygon points="953.4,1973.8 944.7,1988.8 962.1,1988.8" fill="#667A3F" stroke="#000" stroke-width="1.25" stroke-linejoin="miter"/>
<circle cx="940.9" cy="1987.7" r="7" fill="#667A3F" stroke="#000" stroke-width="1.25"/>
<polygon points="1112.9,1871 1104.2,1886 1121.6,1886" fill="#3B6C56" stroke="#000" stroke-width="1.25" stroke-linejoin="miter"/>
<polygon points="1074.3,1914 1065.6,1929 1083,1929" fill="#3B6C56" stroke="#000" stroke-width="1.25" stroke-linejoin="miter"/>
<circle cx="1014.3" cy="1995.5" r="7" fill="#3B6C56" stroke="#000" stroke-width="1.25"/>
<polygon points="1233,1846.3 1224.3,1861.3 1241.7,1861.3" fill="#1C5962" stroke="#000" stroke-width="1.25" stroke-linejoin="miter"/>
<polygon points="1040,1941.1 1031.3,1956.1 1048.7,1956.1" fill="#3B6C56" stroke="#000" stroke-width="1.25" stroke-linejoin="miter"/>
<polygon points="1282,1910.1 1273.3,1925.1 1290.7,1925.1" fill="#04205A" stroke="#000" stroke-width="1.25" stroke-linejoin="miter"/>
<polygon points="1167.4,1961.5 1158.7,1976.5 1176.1,1976.5" fill="#04205A" stroke="#000" stroke-width="1.25" stroke-linejoin="miter"/>
<path d="M957.4 2025.8L1353.7 1833.6" stroke="#011959" stroke-width="1.4" fill="none"/>
<path d="M953.1 2023.1L1349.5 1818.5" stroke="#06265B" stroke-width="1.4" fill="none"/>
<path d="M948.9 2020.4L1345.3 1803.5" stroke="#0B335E" stroke-width="1.4" fill="none"/>
<path d="M944.7 2017.7L1341 1788.5" stroke="#104060" stroke-width="1.4" fill="none"/>
<path d="M940.5 2015L1336.8 1773.5" stroke="#154961" stroke-width="1.4" fill="none"/>
<path d="M936.2 2012.3L1332.6 1758.5" stroke="#195361" stroke-width="1.4" fill="none"/>
<path d="M932 2009.7L1328.4 1743.5" stroke="#1E5B61" stroke-width="1.4" fill="none"/>
<path d="M927.8 2007L1324.1 1728.5" stroke="#2A625D" stroke-width="1.4" fill="none"/>
<path d="M923.6 2004.3L1319.9 1713.5" stroke="#356959" stroke-width="1.4" fill="none"/>
<path d="M919.3 2001.6L1315.7 1698.5" stroke="#416F53" stroke-width="1.4" fill="none"/>
<path d="M915.1 1998.9L1311.5 1683.5" stroke="#50734B" stroke-width="1.4" fill="none"/>
<path d="M910.9 1996.2L1307.2 1668.5" stroke="#607843" stroke-width="1.4" fill="none"/>
<path d="M906.7 1993.5L1303 1653.5" stroke="#707D3B" stroke-width="1.4" fill="none"/>
<path d="M902.4 1990.8L1298.8 1638.5" stroke="#828234" stroke-width="1.4" fill="none"/>
<path d="M898.2 1988.1L1294.6 1623.5" stroke="#95872E" stroke-width="1.4" fill="none"/>
<path d="M894 1985.4L1290.3 1608.5" stroke="#A78B30" stroke-width="1.4" fill="none"/>
<path d="M889.8 1982.7L1286.1 1593.5" stroke="#BA8E38" stroke-width="1.4" fill="none"/>
<path d="M885.5 1980L1281.9 1578.5" stroke="#CC9240" stroke-width="1.4" fill="none"/>
<path d="M881.3 1977.4L1277.7 1563.5" stroke="#DB9650" stroke-width="1.4" fill="none"/>
<path d="M877.1 1974.7L1273.4 1548.4" stroke="#E89B63" stroke-width="1.4" fill="none"/>
<path d="M872.9 1972L1269.2 1533.4" stroke="#F5A077" stroke-width="1.4" fill="none"/>
<path d="M868.6 1969.3L1255.8 1528.9" stroke="#F9A78C" stroke-width="1.4" fill="none"/>
<path d="M864.4 1966.6L1240.9 1526.7" stroke="#FBAFA3" stroke-width="1.4" fill="none"/>
<path d="M860.2 1963.9L1226.5 1524.4" stroke="#FDB6BA" stroke-width="1.4" fill="none"/>
<path d="M856 1961.2L1212.7 1522.1" stroke="#FCBDCF" stroke-width="1.4" fill="none"/>
<path d="M851.7 1958.5L1199.4 1519.8" stroke="#FBC5E5" stroke-width="1.4" fill="none"/>
<path d="M847.5 1955.8L1186.6 1517.4" stroke="#FACCFA" stroke-width="1.4" fill="none"/>
<path d="M957.4 2025.8L953.1 2023.1M965 2022.1L960.8 2019.2M972.6 2018.4L968.4 2015.2M980.2 2014.7L976 2011.3M987.9 2011L983.6 2007.4M995.5 2007.3L991.3 2003.4M1003.1 2003.6L998.9 1999.5M1010.7 1999.9L1006.5 1995.6M1018.3 1996.2L1014.1 1991.6M1026 1992.5L1021.7 1987.7M1033.6 1988.8L1029.4 1983.8M1041.2 1985.1L1037 1979.8M1048.8 1981.4L1044.6 1975.9M1056.5 1977.7L1052.2 1972M1064.1 1974L1059.9 1968M1071.7 1970.3L1067.5 1964.1M1079.3 1966.6L1075.1 1960.2M1086.9 1962.9L1082.7 1956.2M1094.6 1959.3L1090.3 1952.3M1102.2 1955.6L1098 1948.4M1109.8 1951.9L1105.6 1944.4M1117.4 1948.2L1113.2 1940.5M1125.1 1944.5L1120.8 1936.6M1132.7 1940.8L1128.4 1932.6M1140.3 1937.1L1136.1 1928.7M1147.9 1933.4L1143.7 1924.8M1155.5 1929.7L1151.3 1920.8M1163.2 1926L1158.9 1916.9M1170.8 1922.3L1166.6 1913M1178.4 1918.6L1174.2 1909M1186 1914.9L1181.8 1905.1M1193.6 1911.2L1189.4 1901.2M1201.3 1907.5L1197 1897.2M1208.9 1903.8L1204.7 1893.3M1216.5 1900.1L1212.3 1889.4M1224.1 1896.4L1219.9 1885.4M1231.8 1892.7L1227.5 1881.5M1239.4 1889L1235.2 1877.6M1247 1885.3L1242.8 1873.6M1254.6 1881.6L1250.4 1869.7M1262.2 1877.9L1258 1865.8M1269.9 1874.2L1265.6 1861.8M1277.5 1870.5L1273.3 1857.9M1285.1 1866.8L1280.9 1854M1292.7 1863.1L1288.5 1850M1300.3 1859.4L1296.1 1846.1M1308 1855.7L1303.7 1842.2M1315.6 1852L1311.4 1838.2M1323.2 1848.3L1319 1834.3M1330.8 1844.6L1326.6 1830.3M1338.5 1840.9L1334.2 1826.4M1346.1 1837.3L1341.9 1822.5M1353.7 1833.6L1349.5 1818.5" stroke="#04205A" stroke-width="1.4" fill="none"/>
<path d="M953.1 2023.1L948.9 2020.4M960.8 2019.2L956.5 2016.2M968.4 2015.2L964.2 2012.1M976 2011.3L971.8 2007.9M983.6 2007.4L979.4 2003.7M991.3 2003.4L987 1999.6M998.9 1999.5L994.7 1995.4M1006.5 1995.6L1002.3 1991.2M1014.1 1991.6L1009.9 1987.1M1021.7 1987.7L1017.5 1982.9M1029.4 1983.8L1025.1 1978.7M1037 1979.8L1032.8 1974.5M1044.6 1975.9L1040.4 1970.4M1052.2 1972L1048 1966.2M1059.9 1968L1055.6 1962M1067.5 1964.1L1063.2 1957.9M1075.1 1960.2L1070.9 1953.7M1082.7 1956.2L1078.5 1949.5M1090.3 1952.3L1086.1 1945.3M1098 1948.4L1093.7 1941.2M1105.6 1944.4L1101.4 1937M1113.2 1940.5L1109 1932.8M1120.8 1936.6L1116.6 1928.7M1128.4 1932.6L1124.2 1924.5M1136.1 1928.7L1131.8 1920.3M1143.7 1924.8L1139.5 1916.2M1151.3 1920.8L1147.1 1912M1158.9 1916.9L1154.7 1907.8M1166.6 1913L1162.3 1903.6M1174.2 1909L1170 1899.5M1181.8 1905.1L1177.6 1895.3M1189.4 1901.2L1185.2 1891.1M1197 1897.2L1192.8 1887M1204.7 1893.3L1200.4 1882.8M1212.3 1889.4L1208.1 1878.6M1219.9 1885.4L1215.7 1874.4M1227.5 1881.5L1223.3 1870.3M1235.2 1877.6L1230.9 1866.1M1242.8 1873.6L1238.5 1861.9M1250.4 1869.7L1246.2 1857.8M1258 1865.8L1253.8 1853.6M1265.6 1861.8L1261.4 1849.4M1273.3 1857.9L1269 1845.2M1280.9 1854L1276.7 1841.1M1288.5 1850L1284.3 1836.9M1296.1 1846.1L1291.9 1832.7M1303.7 1842.2L1299.5 1828.6M1311.4 1838.2L1307.1 1824.4M1319 1834.3L1314.8 1820.2M1326.6 1830.3L1322.4 1816.1M1334.2 1826.4L1330 1811.9M1341.9 1822.5L1337.6 1807.7M1349.5 1818.5L1345.3 1803.5" stroke="#092D5D" stroke-width="1.4" fill="none"/>
<path d="M948.9 2020.4L944.7 2017.7M956.5 2016.2L952.3 2013.3M964.2 2012.1L959.9 2008.9M971.8 2007.9L967.6 2004.5M979.4 2003.7L975.2 2000.1M987 1999.6L982.8 1995.7M994.7 1995.4L990.4 1991.3M1002.3 1991.2L998 1986.9M1009.9 1987.1L1005.7 1982.5M1017.5 1982.9L1013.3 1978.1M1025.1 1978.7L1020.9 1973.7M1032.8 1974.5L1028.5 1969.2M1040.4 1970.4L1036.2 1964.8M1048 1966.2L1043.8 1960.4M1055.6 1962L1051.4 1956M1063.2 1957.9L1059 1951.6M1070.9 1953.7L1066.6 1947.2M1078.5 1949.5L1074.3 1942.8M1086.1 1945.3L1081.9 1938.4M1093.7 1941.2L1089.5 1934M1101.4 1937L1097.1 1929.6M1109 1932.8L1104.8 1925.2M1116.6 1928.7L1112.4 1920.8M1124.2 1924.5L1120 1916.4M1131.8 1920.3L1127.6 1911.9M1139.5 1916.2L1135.2 1907.5M1147.1 1912L1142.9 1903.1M1154.7 1907.8L1150.5 1898.7M1162.3 1903.6L1158.1 1894.3M1170 1899.5L1165.7 1889.9M1177.6 1895.3L1173.3 1885.5M1185.2 1891.1L1181 1881.1M1192.8 1887L1188.6 1876.7M1200.4 1882.8L1196.2 1872.3M1208.1 1878.6L1203.8 1867.9M1215.7 1874.4L1211.5 1863.5M1223.3 1870.3L1219.1 1859.1M1230.9 1866.1L1226.7 1854.6M1238.5 1861.9L1234.3 1850.2M1246.2 1857.8L1241.9 1845.8M1253.8 1853.6L1249.6 1841.4M1261.4 1849.4L1257.2 1837M1269 1845.2L1264.8 1832.6M1276.7 1841.1L1272.4 1828.2M1284.3 1836.9L1280.1 1823.8M1291.9 1832.7L1287.7 1819.4M1299.5 1828.6L1295.3 1815M1307.1 1824.4L1302.9 1810.6M1314.8 1820.2L1310.5 1806.2M1322.4 1816.1L1318.2 1801.8M1330 1811.9L1325.8 1797.4M1337.6 1807.7L1333.4 1792.9M1345.3 1803.5L1341 1788.5" stroke="#0E3A5F" stroke-width="1.4" fill="none"/>
<path d="M944.7 2017.7L940.5 2015M952.3 2013.3L948.1 2010.4M959.9 2008.9L955.7 2005.7M967.6 2004.5L963.3 2001.1M975.2 2000.1L971 1996.5M982.8 1995.7L978.6 1991.8M990.4 1991.3L986.2 1987.2M998 1986.9L993.8 1982.5M1005.7 1982.5L1001.4 1977.9M1013.3 1978.1L1009.1 1973.2M1020.9 1973.7L1016.7 1968.6M1028.5 1969.2L1024.3 1963.9M1036.2 1964.8L1031.9 1959.3M1043.8 1960.4L1039.6 1954.7M1051.4 1956L1047.2 1950M1059 1951.6L1054.8 1945.4M1066.6 1947.2L1062.4 1940.7M1074.3 1942.8L1070 1936.1M1081.9 1938.4L1077.7 1931.4M1089.5 1934L1085.3 1926.8M1097.1 1929.6L1092.9 1922.1M1104.8 1925.2L1100.5 1917.5M1112.4 1920.8L1108.2 1912.9M1120 1916.4L1115.8 1908.2M1127.6 1911.9L1123.4 1903.6M1135.2 1907.5L1131 1898.9M1142.9 1903.1L1138.6 1894.3M1150.5 1898.7L1146.3 1889.6M1158.1 1894.3L1153.9 1885M1165.7 1889.9L1161.5 1880.3M1173.3 1885.5L1169.1 1875.7M1181 1881.1L1176.7 1871.1M1188.6 1876.7L1184.4 1866.4M1196.2 1872.3L1192 1861.8M1203.8 1867.9L1199.6 1857.1M1211.5 1863.5L1207.2 1852.5M1219.1 1859.1L1214.9 1847.8M1226.7 1854.6L1222.5 1843.2M1234.3 1850.2L1230.1 1838.6M1241.9 1845.8L1237.7 1833.9M1249.6 1841.4L1245.3 1829.3M1257.2 1837L1253 1824.6M1264.8 1832.6L1260.6 1820M1272.4 1828.2L1268.2 1815.3M1280.1 1823.8L1275.8 1810.7M1287.7 1819.4L1283.5 1806M1295.3 1815L1291.1 1801.4M1302.9 1810.6L1298.7 1796.8M1310.5 1806.2L1306.3 1792.1M1318.2 1801.8L1313.9 1787.5M1325.8 1797.4L1321.6 1782.8M1333.4 1792.9L1329.2 1778.2M1341 1788.5L1336.8 1773.5" stroke="#134560" stroke-width="1.4" fill="none"/>
<path d="M940.5 2015L936.2 2012.3M948.1 2010.4L943.9 2007.5M955.7 2005.7L951.5 2002.6M963.3 2001.1L959.1 1997.7M971 1996.5L966.7 1992.8M978.6 1991.8L974.4 1987.9M986.2 1987.2L982 1983.1M993.8 1982.5L989.6 1978.2M1001.4 1977.9L997.2 1973.3M1009.1 1973.2L1004.8 1968.4M1016.7 1968.6L1012.5 1963.5M1024.3 1963.9L1020.1 1958.7M1031.9 1959.3L1027.7 1953.8M1039.6 1954.7L1035.3 1948.9M1047.2 1950L1043 1944M1054.8 1945.4L1050.6 1939.1M1062.4 1940.7L1058.2 1934.2M1070 1936.1L1065.8 1929.4M1077.7 1931.4L1073.4 1924.5M1085.3 1926.8L1081.1 1919.6M1092.9 1922.1L1088.7 1914.7M1100.5 1917.5L1096.3 1909.8M1108.2 1912.9L1103.9 1905M1115.8 1908.2L1111.5 1900.1M1123.4 1903.6L1119.2 1895.2M1131 1898.9L1126.8 1890.3M1138.6 1894.3L1134.4 1885.4M1146.3 1889.6L1142 1880.6M1153.9 1885L1149.7 1875.7M1161.5 1880.3L1157.3 1870.8M1169.1 1875.7L1164.9 1865.9M1176.7 1871.1L1172.5 1861M1184.4 1866.4L1180.1 1856.1M1192 1861.8L1187.8 1851.3M1199.6 1857.1L1195.4 1846.4M1207.2 1852.5L1203 1841.5M1214.9 1847.8L1210.6 1836.6M1222.5 1843.2L1218.3 1831.7M1230.1 1838.6L1225.9 1826.9M1237.7 1833.9L1233.5 1822M1245.3 1829.3L1241.1 1817.1M1253 1824.6L1248.7 1812.2M1260.6 1820L1256.4 1807.3M1268.2 1815.3L1264 1802.5M1275.8 1810.7L1271.6 1797.6M1283.5 1806L1279.2 1792.7M1291.1 1801.4L1286.8 1787.8M1298.7 1796.8L1294.5 1782.9M1306.3 1792.1L1302.1 1778M1313.9 1787.5L1309.7 1773.2M1321.6 1782.8L1317.3 1768.3M1329.2 1778.2L1325 1763.4M1336.8 1773.5L1332.6 1758.5" stroke="#174E61" stroke-width="1.4" fill="none"/>
<path d="M936.2 2012.3L932 2009.7M943.9 2007.5L939.6 2004.5M951.5 2002.6L947.3 1999.4M959.1 1997.7L954.9 1994.3M966.7 1992.8L962.5 1989.2M974.4 1987.9L970.1 1984.1M982 1983.1L977.8 1978.9M989.6 1978.2L985.4 1973.8M997.2 1973.3L993 1968.7M1004.8 1968.4L1000.6 1963.6M1012.5 1963.5L1008.2 1958.5M1020.1 1958.7L1015.9 1953.4M1027.7 1953.8L1023.5 1948.2M1035.3 1948.9L1031.1 1943.1M1043 1944L1038.7 1938M1050.6 1939.1L1046.3 1932.9M1058.2 1934.2L1054 1927.8M1065.8 1929.4L1061.6 1922.6M1073.4 1924.5L1069.2 1917.5M1081.1 1919.6L1076.8 1912.4M1088.7 1914.7L1084.5 1907.3M1096.3 1909.8L1092.1 1902.2M1103.9 1905L1099.7 1897.1M1111.5 1900.1L1107.3 1891.9M1119.2 1895.2L1114.9 1886.8M1126.8 1890.3L1122.6 1881.7M1134.4 1885.4L1130.2 1876.6M1142 1880.6L1137.8 1871.5M1149.7 1875.7L1145.4 1866.3M1157.3 1870.8L1153.1 1861.2M1164.9 1865.9L1160.7 1856.1M1172.5 1861L1168.3 1851M1180.1 1856.1L1175.9 1845.9M1187.8 1851.3L1183.5 1840.8M1195.4 1846.4L1191.2 1835.6M1203 1841.5L1198.8 1830.5M1210.6 1836.6L1206.4 1825.4M1218.3 1831.7L1214 1820.3M1225.9 1826.9L1221.6 1815.2M1233.5 1822L1229.3 1810.1M1241.1 1817.1L1236.9 1804.9M1248.7 1812.2L1244.5 1799.8M1256.4 1807.3L1252.1 1794.7M1264 1802.5L1259.8 1789.6M1271.6 1797.6L1267.4 1784.5M1279.2 1792.7L1275 1779.3M1286.8 1787.8L1282.6 1774.2M1294.5 1782.9L1290.2 1769.1M1302.1 1778L1297.9 1764M1309.7 1773.2L1305.5 1758.9M1317.3 1768.3L1313.1 1753.8M1325 1763.4L1320.7 1748.6M1332.6 1758.5L1328.4 1743.5" stroke="#1B5762" stroke-width="1.4" fill="none"/>
<path d="M932 2009.7L927.8 2007M939.6 2004.5L935.4 2001.6M947.3 1999.4L943 1996.3M954.9 1994.3L950.7 1990.9M962.5 1989.2L958.3 1985.5M970.1 1984.1L965.9 1980.2M977.8 1978.9L973.5 1974.8M985.4 1973.8L981.1 1969.5M993 1968.7L988.8 1964.1M1000.6 1963.6L996.4 1958.8M1008.2 1958.5L1004 1953.4M1015.9 1953.4L1011.6 1948.1M1023.5 1948.2L1019.3 1942.7M1031.1 1943.1L1026.9 1937.3M1038.7 1938L1034.5 1932M1046.3 1932.9L1042.1 1926.6M1054 1927.8L1049.7 1921.3M1061.6 1922.6L1057.4 1915.9M1069.2 1917.5L1065 1910.6M1076.8 1912.4L1072.6 1905.2M1084.5 1907.3L1080.2 1899.9M1092.1 1902.2L1087.9 1894.5M1099.7 1897.1L1095.5 1889.2M1107.3 1891.9L1103.1 1883.8M1114.9 1886.8L1110.7 1878.4M1122.6 1881.7L1118.3 1873.1M1130.2 1876.6L1126 1867.7M1137.8 1871.5L1133.6 1862.4M1145.4 1866.3L1141.2 1857M1153.1 1861.2L1148.8 1851.7M1160.7 1856.1L1156.4 1846.3M1168.3 1851L1164.1 1841M1175.9 1845.9L1171.7 1835.6M1183.5 1840.8L1179.3 1830.3M1191.2 1835.6L1186.9 1824.9M1198.8 1830.5L1194.6 1819.5M1206.4 1825.4L1202.2 1814.2M1214 1820.3L1209.8 1808.8M1221.6 1815.2L1217.4 1803.5M1229.3 1810.1L1225 1798.1M1236.9 1804.9L1232.7 1792.8M1244.5 1799.8L1240.3 1787.4M1252.1 1794.7L1247.9 1782.1M1259.8 1789.6L1255.5 1776.7M1267.4 1784.5L1263.2 1771.4M1275 1779.3L1270.8 1766M1282.6 1774.2L1278.4 1760.6M1290.2 1769.1L1286 1755.3M1297.9 1764L1293.6 1749.9M1305.5 1758.9L1301.3 1744.6M1313.1 1753.8L1308.9 1739.2M1320.7 1748.6L1316.5 1733.9M1328.4 1743.5L1324.1 1728.5" stroke="#245F5F" stroke-width="1.4" fill="none"/>
<path d="M927.8 2007L923.6 2004.3M935.4 2001.6L931.2 1998.7M943 1996.3L938.8 1993.1M950.7 1990.9L946.4 1987.5M958.3 1985.5L954.1 1981.9M965.9 1980.2L961.7 1976.3M973.5 1974.8L969.3 1970.7M981.1 1969.5L976.9 1965.1M988.8 1964.1L984.5 1959.5M996.4 1958.8L992.2 1953.9M1004 1953.4L999.8 1948.4M1011.6 1948.1L1007.4 1942.8M1019.3 1942.7L1015 1937.2M1026.9 1937.3L1022.7 1931.6M1034.5 1932L1030.3 1926M1042.1 1926.6L1037.9 1920.4M1049.7 1921.3L1045.5 1914.8M1057.4 1915.9L1053.1 1909.2M1065 1910.6L1060.8 1903.6M1072.6 1905.2L1068.4 1898M1080.2 1899.9L1076 1892.4M1087.9 1894.5L1083.6 1886.8M1095.5 1889.2L1091.3 1881.3M1103.1 1883.8L1098.9 1875.7M1110.7 1878.4L1106.5 1870.1M1118.3 1873.1L1114.1 1864.5M1126 1867.7L1121.7 1858.9M1133.6 1862.4L1129.4 1853.3M1141.2 1857L1137 1847.7M1148.8 1851.7L1144.6 1842.1M1156.4 1846.3L1152.2 1836.5M1164.1 1841L1159.8 1830.9M1171.7 1835.6L1167.5 1825.3M1179.3 1830.3L1175.1 1819.7M1186.9 1824.9L1182.7 1814.2M1194.6 1819.5L1190.3 1808.6M1202.2 1814.2L1198 1803M1209.8 1808.8L1205.6 1797.4M1217.4 1803.5L1213.2 1791.8M1225 1798.1L1220.8 1786.2M1232.7 1792.8L1228.4 1780.6M1240.3 1787.4L1236.1 1775M1247.9 1782.1L1243.7 1769.4M1255.5 1776.7L1251.3 1763.8M1263.2 1771.4L1258.9 1758.2M1270.8 1766L1266.6 1752.6M1278.4 1760.6L1274.2 1747.1M1286 1755.3L1281.8 1741.5M1293.6 1749.9L1289.4 1735.9M1301.3 1744.6L1297 1730.3M1308.9 1739.2L1304.7 1724.7M1316.5 1733.9L1312.3 1719.1M1324.1 1728.5L1319.9 1713.5" stroke="#2F655B" stroke-width="1.4" fill="none"/>
<path d="M923.6 2004.3L919.3 2001.6M931.2 1998.7L927 1995.8M938.8 1993.1L934.6 1989.9M946.4 1987.5L942.2 1984.1M954.1 1981.9L949.8 1978.3M961.7 1976.3L957.5 1972.4M969.3 1970.7L965.1 1966.6M976.9 1965.1L972.7 1960.8M984.5 1959.5L980.3 1955M992.2 1953.9L987.9 1949.1M999.8 1948.4L995.6 1943.3M1007.4 1942.8L1003.2 1937.5M1015 1937.2L1010.8 1931.6M1022.7 1931.6L1018.4 1925.8M1030.3 1926L1026.1 1920M1037.9 1920.4L1033.7 1914.2M1045.5 1914.8L1041.3 1908.3M1053.1 1909.2L1048.9 1902.5M1060.8 1903.6L1056.5 1896.7M1068.4 1898L1064.2 1890.8M1076 1892.4L1071.8 1885M1083.6 1886.8L1079.4 1879.2M1091.3 1881.3L1087 1873.4M1098.9 1875.7L1094.6 1867.5M1106.5 1870.1L1102.3 1861.7M1114.1 1864.5L1109.9 1855.9M1121.7 1858.9L1117.5 1850M1129.4 1853.3L1125.1 1844.2M1137 1847.7L1132.8 1838.4M1144.6 1842.1L1140.4 1832.6M1152.2 1836.5L1148 1826.7M1159.8 1830.9L1155.6 1820.9M1167.5 1825.3L1163.2 1815.1M1175.1 1819.7L1170.9 1809.2M1182.7 1814.2L1178.5 1803.4M1190.3 1808.6L1186.1 1797.6M1198 1803L1193.7 1791.8M1205.6 1797.4L1201.4 1785.9M1213.2 1791.8L1209 1780.1M1220.8 1786.2L1216.6 1774.3M1228.4 1780.6L1224.2 1768.4M1236.1 1775L1231.8 1762.6M1243.7 1769.4L1239.5 1756.8M1251.3 1763.8L1247.1 1751M1258.9 1758.2L1254.7 1745.1M1266.6 1752.6L1262.3 1739.3M1274.2 1747.1L1269.9 1733.5M1281.8 1741.5L1277.6 1727.6M1289.4 1735.9L1285.2 1721.8M1297 1730.3L1292.8 1716M1304.7 1724.7L1300.4 1710.2M1312.3 1719.1L1308.1 1704.3M1319.9 1713.5L1315.7 1698.5" stroke="#3A6C57" stroke-width="1.4" fill="none"/>
<path d="M919.3 2001.6L915.1 1998.9M927 1995.8L922.7 1992.8M934.6 1989.9L930.4 1986.8M942.2 1984.1L938 1980.7M949.8 1978.3L945.6 1974.6M957.5 1972.4L953.2 1968.6M965.1 1966.6L960.9 1962.5M972.7 1960.8L968.5 1956.4M980.3 1955L976.1 1950.4M987.9 1949.1L983.7 1944.3M995.6 1943.3L991.3 1938.2M1003.2 1937.5L999 1932.2M1010.8 1931.6L1006.6 1926.1M1018.4 1925.8L1014.2 1920M1026.1 1920L1021.8 1914M1033.7 1914.2L1029.4 1907.9M1041.3 1908.3L1037.1 1901.8M1048.9 1902.5L1044.7 1895.8M1056.5 1896.7L1052.3 1889.7M1064.2 1890.8L1059.9 1883.6M1071.8 1885L1067.6 1877.6M1079.4 1879.2L1075.2 1871.5M1087 1873.4L1082.8 1865.5M1094.6 1867.5L1090.4 1859.4M1102.3 1861.7L1098 1853.3M1109.9 1855.9L1105.7 1847.3M1117.5 1850L1113.3 1841.2M1125.1 1844.2L1120.9 1835.1M1132.8 1838.4L1128.5 1829.1M1140.4 1832.6L1136.2 1823M1148 1826.7L1143.8 1816.9M1155.6 1820.9L1151.4 1810.9M1163.2 1815.1L1159 1804.8M1170.9 1809.2L1166.6 1798.7M1178.5 1803.4L1174.3 1792.7M1186.1 1797.6L1181.9 1786.6M1193.7 1791.8L1189.5 1780.5M1201.4 1785.9L1197.1 1774.5M1209 1780.1L1204.7 1768.4M1216.6 1774.3L1212.4 1762.3M1224.2 1768.4L1220 1756.3M1231.8 1762.6L1227.6 1750.2M1239.5 1756.8L1235.2 1744.1M1247.1 1751L1242.9 1738.1M1254.7 1745.1L1250.5 1732M1262.3 1739.3L1258.1 1726M1269.9 1733.5L1265.7 1719.9M1277.6 1727.6L1273.3 1713.8M1285.2 1721.8L1281 1707.8M1292.8 1716L1288.6 1701.7M1300.4 1710.2L1296.2 1695.6M1308.1 1704.3L1303.8 1689.6M1315.7 1698.5L1311.5 1683.5" stroke="#49714F" stroke-width="1.4" fill="none"/>
<path d="M915.1 1998.9L910.9 1996.2M922.7 1992.8L918.5 1989.9M930.4 1986.8L926.1 1983.6M938 1980.7L933.8 1977.3M945.6 1974.6L941.4 1971M953.2 1968.6L949 1964.7M960.9 1962.5L956.6 1958.4M968.5 1956.4L964.3 1952.1M976.1 1950.4L971.9 1945.8M983.7 1944.3L979.5 1939.5M991.3 1938.2L987.1 1933.2M999 1932.2L994.7 1926.9M1006.6 1926.1L1002.4 1920.6M1014.2 1920L1010 1914.3M1021.8 1914L1017.6 1908M1029.4 1907.9L1025.2 1901.7M1037.1 1901.8L1032.8 1895.4M1044.7 1895.8L1040.5 1889.1M1052.3 1889.7L1048.1 1882.8M1059.9 1883.6L1055.7 1876.5M1067.6 1877.6L1063.3 1870.2M1075.2 1871.5L1071 1863.9M1082.8 1865.5L1078.6 1857.6M1090.4 1859.4L1086.2 1851.2M1098 1853.3L1093.8 1844.9M1105.7 1847.3L1101.4 1838.6M1113.3 1841.2L1109.1 1832.3M1120.9 1835.1L1116.7 1826M1128.5 1829.1L1124.3 1819.7M1136.2 1823L1131.9 1813.4M1143.8 1816.9L1139.5 1807.1M1151.4 1810.9L1147.2 1800.8M1159 1804.8L1154.8 1794.5M1166.6 1798.7L1162.4 1788.2M1174.3 1792.7L1170 1781.9M1181.9 1786.6L1177.7 1775.6M1189.5 1780.5L1185.3 1769.3M1197.1 1774.5L1192.9 1763M1204.7 1768.4L1200.5 1756.7M1212.4 1762.3L1208.1 1750.4M1220 1756.3L1215.8 1744.1M1227.6 1750.2L1223.4 1737.8M1235.2 1744.1L1231 1731.5M1242.9 1738.1L1238.6 1725.2M1250.5 1732L1246.3 1718.9M1258.1 1726L1253.9 1712.6M1265.7 1719.9L1261.5 1706.3M1273.3 1713.8L1269.1 1700M1281 1707.8L1276.7 1693.7M1288.6 1701.7L1284.4 1687.4M1296.2 1695.6L1292 1681.1M1303.8 1689.6L1299.6 1674.8M1311.5 1683.5L1307.2 1668.5" stroke="#587647" stroke-width="1.4" fill="none"/>
<path d="M910.9 1996.2L906.7 1993.5M918.5 1989.9L914.3 1987M926.1 1983.6L921.9 1980.4M933.8 1977.3L929.5 1973.9M941.4 1971L937.2 1967.3M949 1964.7L944.8 1960.8M956.6 1958.4L952.4 1954.3M964.3 1952.1L960 1947.7M971.9 1945.8L967.6 1941.2M979.5 1939.5L975.3 1934.7M987.1 1933.2L982.9 1928.1M994.7 1926.9L990.5 1921.6M1002.4 1920.6L998.1 1915M1010 1914.3L1005.8 1908.5M1017.6 1908L1013.4 1902M1025.2 1901.7L1021 1895.4M1032.8 1895.4L1028.6 1888.9M1040.5 1889.1L1036.2 1882.3M1048.1 1882.8L1043.9 1875.8M1055.7 1876.5L1051.5 1869.3M1063.3 1870.2L1059.1 1862.7M1071 1863.9L1066.7 1856.2M1078.6 1857.6L1074.4 1849.7M1086.2 1851.2L1082 1843.1M1093.8 1844.9L1089.6 1836.6M1101.4 1838.6L1097.2 1830M1109.1 1832.3L1104.8 1823.5M1116.7 1826L1112.5 1817M1124.3 1819.7L1120.1 1810.4M1131.9 1813.4L1127.7 1803.9M1139.5 1807.1L1135.3 1797.3M1147.2 1800.8L1142.9 1790.8M1154.8 1794.5L1150.6 1784.3M1162.4 1788.2L1158.2 1777.7M1170 1781.9L1165.8 1771.2M1177.7 1775.6L1173.4 1764.6M1185.3 1769.3L1181.1 1758.1M1192.9 1763L1188.7 1751.6M1200.5 1756.7L1196.3 1745M1208.1 1750.4L1203.9 1738.5M1215.8 1744.1L1211.5 1732M1223.4 1737.8L1219.2 1725.4M1231 1731.5L1226.8 1718.9M1238.6 1725.2L1234.4 1712.3M1246.3 1718.9L1242 1705.8M1253.9 1712.6L1249.7 1699.3M1261.5 1706.3L1257.3 1692.7M1269.1 1700L1264.9 1686.2M1276.7 1693.7L1272.5 1679.6M1284.4 1687.4L1280.1 1673.1M1292 1681.1L1287.8 1666.6M1299.6 1674.8L1295.4 1660M1307.2 1668.5L1303 1653.5" stroke="#677B3E" stroke-width="1.4" fill="none"/>
<path d="M906.7 1993.5L902.4 1990.8M914.3 1987L910.1 1984M921.9 1980.4L917.7 1977.3M929.5 1973.9L925.3 1970.5M937.2 1967.3L932.9 1963.7M944.8 1960.8L940.6 1956.9M952.4 1954.3L948.2 1950.2M960 1947.7L955.8 1943.4M967.6 1941.2L963.4 1936.6M975.3 1934.7L971 1929.8M982.9 1928.1L978.7 1923.1M990.5 1921.6L986.3 1916.3M998.1 1915L993.9 1909.5M1005.8 1908.5L1001.5 1902.7M1013.4 1902L1009.2 1896M1021 1895.4L1016.8 1889.2M1028.6 1888.9L1024.4 1882.4M1036.2 1882.3L1032 1875.6M1043.9 1875.8L1039.6 1868.9M1051.5 1869.3L1047.3 1862.1M1059.1 1862.7L1054.9 1855.3M1066.7 1856.2L1062.5 1848.5M1074.4 1849.7L1070.1 1841.7M1082 1843.1L1077.7 1835M1089.6 1836.6L1085.4 1828.2M1097.2 1830L1093 1821.4M1104.8 1823.5L1100.6 1814.6M1112.5 1817L1108.2 1807.9M1120.1 1810.4L1115.9 1801.1M1127.7 1803.9L1123.5 1794.3M1135.3 1797.3L1131.1 1787.5M1142.9 1790.8L1138.7 1780.8M1150.6 1784.3L1146.3 1774M1158.2 1777.7L1154 1767.2M1165.8 1771.2L1161.6 1760.4M1173.4 1764.6L1169.2 1753.7M1181.1 1758.1L1176.8 1746.9M1188.7 1751.6L1184.5 1740.1M1196.3 1745L1192.1 1733.3M1203.9 1738.5L1199.7 1726.6M1211.5 1732L1207.3 1719.8M1219.2 1725.4L1214.9 1713M1226.8 1718.9L1222.6 1706.2M1234.4 1712.3L1230.2 1699.5M1242 1705.8L1237.8 1692.7M1249.7 1699.3L1245.4 1685.9M1257.3 1692.7L1253 1679.1M1264.9 1686.2L1260.7 1672.4M1272.5 1679.6L1268.3 1665.6M1280.1 1673.1L1275.9 1658.8M1287.8 1666.6L1283.5 1652M1295.4 1660L1291.2 1645.3M1303 1653.5L1298.8 1638.5" stroke="#798038" stroke-width="1.4" fill="none"/>
<path d="M902.4 1990.8L898.2 1988.1M910.1 1984L905.8 1981.1M917.7 1977.3L913.5 1974.1M925.3 1970.5L921.1 1967.1M932.9 1963.7L928.7 1960.1M940.6 1956.9L936.3 1953.1M948.2 1950.2L944 1946M955.8 1943.4L951.6 1939M963.4 1936.6L959.2 1932M971 1929.8L966.8 1925M978.7 1923.1L974.4 1918M986.3 1916.3L982.1 1911M993.9 1909.5L989.7 1904M1001.5 1902.7L997.3 1897M1009.2 1896L1004.9 1889.9M1016.8 1889.2L1012.5 1882.9M1024.4 1882.4L1020.2 1875.9M1032 1875.6L1027.8 1868.9M1039.6 1868.9L1035.4 1861.9M1047.3 1862.1L1043 1854.9M1054.9 1855.3L1050.7 1847.9M1062.5 1848.5L1058.3 1840.9M1070.1 1841.7L1065.9 1833.8M1077.7 1835L1073.5 1826.8M1085.4 1828.2L1081.1 1819.8M1093 1821.4L1088.8 1812.8M1100.6 1814.6L1096.4 1805.8M1108.2 1807.9L1104 1798.8M1115.9 1801.1L1111.6 1791.8M1123.5 1794.3L1119.3 1784.8M1131.1 1787.5L1126.9 1777.7M1138.7 1780.8L1134.5 1770.7M1146.3 1774L1142.1 1763.7M1154 1767.2L1149.7 1756.7M1161.6 1760.4L1157.4 1749.7M1169.2 1753.7L1165 1742.7M1176.8 1746.9L1172.6 1735.7M1184.5 1740.1L1180.2 1728.7M1192.1 1733.3L1187.8 1721.6M1199.7 1726.6L1195.5 1714.6M1207.3 1719.8L1203.1 1707.6M1214.9 1713L1210.7 1700.6M1222.6 1706.2L1218.3 1693.6M1230.2 1699.5L1226 1686.6M1237.8 1692.7L1233.6 1679.6M1245.4 1685.9L1241.2 1672.6M1253 1679.1L1248.8 1665.5M1260.7 1672.4L1256.4 1658.5M1268.3 1665.6L1264.1 1651.5M1275.9 1658.8L1271.7 1644.5M1283.5 1652L1279.3 1637.5M1291.2 1645.3L1286.9 1630.5M1298.8 1638.5L1294.6 1623.5" stroke="#8C8431" stroke-width="1.4" fill="none"/>
<path d="M898.2 1988.1L894 1985.4M905.8 1981.1L901.6 1978.2M913.5 1974.1L909.2 1970.9M921.1 1967.1L916.9 1963.7M928.7 1960.1L924.5 1956.4M936.3 1953.1L932.1 1949.2M944 1946L939.7 1941.9M951.6 1939L947.4 1934.7M959.2 1932L955 1927.4M966.8 1925L962.6 1920.2M974.4 1918L970.2 1912.9M982.1 1911L977.8 1905.7M989.7 1904L985.5 1898.4M997.3 1897L993.1 1891.2M1004.9 1889.9L1000.7 1883.9M1012.5 1882.9L1008.3 1876.7M1020.2 1875.9L1015.9 1869.4M1027.8 1868.9L1023.6 1862.2M1035.4 1861.9L1031.2 1854.9M1043 1854.9L1038.8 1847.7M1050.7 1847.9L1046.4 1840.4M1058.3 1840.9L1054.1 1833.2M1065.9 1833.8L1061.7 1825.9M1073.5 1826.8L1069.3 1818.7M1081.1 1819.8L1076.9 1811.4M1088.8 1812.8L1084.5 1804.2M1096.4 1805.8L1092.2 1796.9M1104 1798.8L1099.8 1789.7M1111.6 1791.8L1107.4 1782.5M1119.3 1784.8L1115 1775.2M1126.9 1777.7L1122.7 1768M1134.5 1770.7L1130.3 1760.7M1142.1 1763.7L1137.9 1753.5M1149.7 1756.7L1145.5 1746.2M1157.4 1749.7L1153.1 1739M1165 1742.7L1160.8 1731.7M1172.6 1735.7L1168.4 1724.5M1180.2 1728.7L1176 1717.2M1187.8 1721.6L1183.6 1710M1195.5 1714.6L1191.2 1702.7M1203.1 1707.6L1198.9 1695.5M1210.7 1700.6L1206.5 1688.2M1218.3 1693.6L1214.1 1681M1226 1686.6L1221.7 1673.7M1233.6 1679.6L1229.4 1666.5M1241.2 1672.6L1237 1659.2M1248.8 1665.5L1244.6 1652M1256.4 1658.5L1252.2 1644.7M1264.1 1651.5L1259.8 1637.5M1271.7 1644.5L1267.5 1630.2M1279.3 1637.5L1275.1 1623M1286.9 1630.5L1282.7 1615.7M1294.6 1623.5L1290.3 1608.5" stroke="#9E892B" stroke-width="1.4" fill="none"/>
<path d="M894 1985.4L889.8 1982.7M901.6 1978.2L897.4 1975.3M909.2 1970.9L905 1967.8M916.9 1963.7L912.6 1960.3M924.5 1956.4L920.3 1952.8M932.1 1949.2L927.9 1945.3M939.7 1941.9L935.5 1937.8M947.4 1934.7L943.1 1930.3M955 1927.4L950.7 1922.9M962.6 1920.2L958.4 1915.4M970.2 1912.9L966 1907.9M977.8 1905.7L973.6 1900.4M985.5 1898.4L981.2 1892.9M993.1 1891.2L988.9 1885.4M1000.7 1883.9L996.5 1877.9M1008.3 1876.7L1004.1 1870.4M1015.9 1869.4L1011.7 1863M1023.6 1862.2L1019.3 1855.5M1031.2 1854.9L1027 1848M1038.8 1847.7L1034.6 1840.5M1046.4 1840.4L1042.2 1833M1054.1 1833.2L1049.8 1825.5M1061.7 1825.9L1057.5 1818M1069.3 1818.7L1065.1 1810.6M1076.9 1811.4L1072.7 1803.1M1084.5 1804.2L1080.3 1795.6M1092.2 1796.9L1087.9 1788.1M1099.8 1789.7L1095.6 1780.6M1107.4 1782.5L1103.2 1773.1M1115 1775.2L1110.8 1765.6M1122.7 1768L1118.4 1758.2M1130.3 1760.7L1126 1750.7M1137.9 1753.5L1133.7 1743.2M1145.5 1746.2L1141.3 1735.7M1153.1 1739L1148.9 1728.2M1160.8 1731.7L1156.5 1720.7M1168.4 1724.5L1164.2 1713.2M1176 1717.2L1171.8 1705.8M1183.6 1710L1179.4 1698.3M1191.2 1702.7L1187 1690.8M1198.9 1695.5L1194.6 1683.3M1206.5 1688.2L1202.3 1675.8M1214.1 1681L1209.9 1668.3M1221.7 1673.7L1217.5 1660.8M1229.4 1666.5L1225.1 1653.4M1237 1659.2L1232.8 1645.9M1244.6 1652L1240.4 1638.4M1252.2 1644.7L1248 1630.9M1259.8 1637.5L1255.6 1623.4M1267.5 1630.2L1263.2 1615.9M1275.1 1623L1270.9 1608.4M1282.7 1615.7L1278.5 1600.9M1290.3 1608.5L1286.1 1593.5" stroke="#B08D34" stroke-width="1.4" fill="none"/>
<path d="M889.8 1982.7L885.5 1980M897.4 1975.3L893.2 1972.3M905 1967.8L900.8 1964.6M912.6 1960.3L908.4 1956.9M920.3 1952.8L916 1949.2M927.9 1945.3L923.7 1941.4M935.5 1937.8L931.3 1933.7M943.1 1930.3L938.9 1926M950.7 1922.9L946.5 1918.3M958.4 1915.4L954.1 1910.5M966 1907.9L961.8 1902.8M973.6 1900.4L969.4 1895.1M981.2 1892.9L977 1887.4M988.9 1885.4L984.6 1879.7M996.5 1877.9L992.3 1871.9M1004.1 1870.4L999.9 1864.2M1011.7 1863L1007.5 1856.5M1019.3 1855.5L1015.1 1848.8M1027 1848L1022.7 1841M1034.6 1840.5L1030.4 1833.3M1042.2 1833L1038 1825.6M1049.8 1825.5L1045.6 1817.9M1057.5 1818L1053.2 1810.1M1065.1 1810.6L1060.8 1802.4M1072.7 1803.1L1068.5 1794.7M1080.3 1795.6L1076.1 1787M1087.9 1788.1L1083.7 1779.3M1095.6 1780.6L1091.3 1771.5M1103.2 1773.1L1099 1763.8M1110.8 1765.6L1106.6 1756.1M1118.4 1758.2L1114.2 1748.4M1126 1750.7L1121.8 1740.6M1133.7 1743.2L1129.4 1732.9M1141.3 1735.7L1137.1 1725.2M1148.9 1728.2L1144.7 1717.5M1156.5 1720.7L1152.3 1709.7M1164.2 1713.2L1159.9 1702M1171.8 1705.8L1167.6 1694.3M1179.4 1698.3L1175.2 1686.6M1187 1690.8L1182.8 1678.9M1194.6 1683.3L1190.4 1671.1M1202.3 1675.8L1198 1663.4M1209.9 1668.3L1205.7 1655.7M1217.5 1660.8L1213.3 1648M1225.1 1653.4L1220.9 1640.2M1232.8 1645.9L1228.5 1632.5M1240.4 1638.4L1236.1 1624.8M1248 1630.9L1243.8 1617.1M1255.6 1623.4L1251.4 1609.3M1263.2 1615.9L1259 1601.6M1270.9 1608.4L1266.6 1593.9M1278.5 1600.9L1274.3 1586.2M1286.1 1593.5L1281.9 1578.5" stroke="#C3903C" stroke-width="1.4" fill="none"/>
<path d="M885.5 1980L881.3 1977.4M893.2 1972.3L888.9 1969.4M900.8 1964.6L896.6 1961.4M908.4 1956.9L904.2 1953.5M916 1949.2L911.8 1945.5M923.7 1941.4L919.4 1937.6M931.3 1933.7L927.1 1929.6M938.9 1926L934.7 1921.6M946.5 1918.3L942.3 1913.7M954.1 1910.5L949.9 1905.7M961.8 1902.8L957.5 1897.8M969.4 1895.1L965.2 1889.8M977 1887.4L972.8 1881.8M984.6 1879.7L980.4 1873.9M992.3 1871.9L988 1865.9M999.9 1864.2L995.6 1858M1007.5 1856.5L1003.3 1850M1015.1 1848.8L1010.9 1842M1022.7 1841L1018.5 1834.1M1030.4 1833.3L1026.1 1826.1M1038 1825.6L1033.8 1818.2M1045.6 1817.9L1041.4 1810.2M1053.2 1810.1L1049 1802.2M1060.8 1802.4L1056.6 1794.3M1068.5 1794.7L1064.2 1786.3M1076.1 1787L1071.9 1778.4M1083.7 1779.3L1079.5 1770.4M1091.3 1771.5L1087.1 1762.4M1099 1763.8L1094.7 1754.5M1106.6 1756.1L1102.4 1746.5M1114.2 1748.4L1110 1738.6M1121.8 1740.6L1117.6 1730.6M1129.4 1732.9L1125.2 1722.6M1137.1 1725.2L1132.8 1714.7M1144.7 1717.5L1140.5 1706.7M1152.3 1709.7L1148.1 1698.8M1159.9 1702L1155.7 1690.8M1167.6 1694.3L1163.3 1682.8M1175.2 1686.6L1170.9 1674.9M1182.8 1678.9L1178.6 1666.9M1190.4 1671.1L1186.2 1659M1198 1663.4L1193.8 1651M1205.7 1655.7L1201.4 1643M1213.3 1648L1209.1 1635.1M1220.9 1640.2L1216.7 1627.1M1228.5 1632.5L1224.3 1619.2M1236.1 1624.8L1231.9 1611.2M1243.8 1617.1L1239.5 1603.2M1251.4 1609.3L1247.2 1595.3M1259 1601.6L1254.8 1587.3M1266.6 1593.9L1262.4 1579.4M1274.3 1586.2L1270 1571.4M1281.9 1578.5L1277.7 1563.5" stroke="#D49446" stroke-width="1.4" fill="none"/>
<path d="M881.3 1977.4L877.1 1974.7M888.9 1969.4L884.7 1966.5M896.6 1961.4L892.3 1958.3M904.2 1953.5L900 1950.1M911.8 1945.5L907.6 1941.9M919.4 1937.6L915.2 1933.7M927.1 1929.6L922.8 1925.5M934.7 1921.6L930.5 1917.3M942.3 1913.7L938.1 1909.1M949.9 1905.7L945.7 1900.9M957.5 1897.8L953.3 1892.7M965.2 1889.8L960.9 1884.5M972.8 1881.8L968.6 1876.3M980.4 1873.9L976.2 1868.1M988 1865.9L983.8 1859.9M995.6 1858L991.4 1851.7M1003.3 1850L999 1843.5M1010.9 1842L1006.7 1835.3M1018.5 1834.1L1014.3 1827.1M1026.1 1826.1L1021.9 1818.9M1033.8 1818.2L1029.5 1810.7M1041.4 1810.2L1037.2 1802.5M1049 1802.2L1044.8 1794.3M1056.6 1794.3L1052.4 1786.1M1064.2 1786.3L1060 1777.9M1071.9 1778.4L1067.6 1769.8M1079.5 1770.4L1075.3 1761.6M1087.1 1762.4L1082.9 1753.4M1094.7 1754.5L1090.5 1745.2M1102.4 1746.5L1098.1 1737M1110 1738.6L1105.8 1728.8M1117.6 1730.6L1113.4 1720.6M1125.2 1722.6L1121 1712.4M1132.8 1714.7L1128.6 1704.2M1140.5 1706.7L1136.2 1696M1148.1 1698.8L1143.9 1687.8M1155.7 1690.8L1151.5 1679.6M1163.3 1682.8L1159.1 1671.4M1170.9 1674.9L1166.7 1663.2M1178.6 1666.9L1174.3 1655M1186.2 1659L1182 1646.8M1193.8 1651L1189.6 1638.6M1201.4 1643L1197.2 1630.4M1209.1 1635.1L1204.8 1622.2M1216.7 1627.1L1212.5 1614M1224.3 1619.2L1220.1 1605.8M1231.9 1611.2L1227.7 1597.6M1239.5 1603.2L1235.3 1589.4M1247.2 1595.3L1242.9 1581.2M1254.8 1587.3L1250.6 1573M1262.4 1579.4L1258.2 1564.8M1270 1571.4L1265.8 1556.6M1277.7 1563.5L1273.4 1548.4" stroke="#E1995A" stroke-width="1.4" fill="none"/>
<path d="M877.1 1974.7L872.9 1972M884.7 1966.5L880.5 1963.5M892.3 1958.3L888.1 1955.1M900 1950.1L895.7 1946.7M907.6 1941.9L903.4 1938.2M915.2 1933.7L911 1929.8M922.8 1925.5L918.6 1921.4M930.5 1917.3L926.2 1912.9M938.1 1909.1L933.8 1904.5M945.7 1900.9L941.5 1896.1M953.3 1892.7L949.1 1887.6M960.9 1884.5L956.7 1879.2M968.6 1876.3L964.3 1870.8M976.2 1868.1L972 1862.3M983.8 1859.9L979.6 1853.9M991.4 1851.7L987.2 1845.5M999 1843.5L994.8 1837M1006.7 1835.3L1002.4 1828.6M1014.3 1827.1L1010.1 1820.2M1021.9 1818.9L1017.7 1811.7M1029.5 1810.7L1025.3 1803.3M1037.2 1802.5L1032.9 1794.9M1044.8 1794.3L1040.6 1786.4M1052.4 1786.1L1048.2 1778M1060 1777.9L1055.8 1769.6M1067.6 1769.8L1063.4 1761.1M1075.3 1761.6L1071 1752.7M1082.9 1753.4L1078.7 1744.3M1090.5 1745.2L1086.3 1735.8M1098.1 1737L1093.9 1727.4M1105.8 1728.8L1101.5 1719M1113.4 1720.6L1109.1 1710.5M1121 1712.4L1116.8 1702.1M1128.6 1704.2L1124.4 1693.7M1136.2 1696L1132 1685.2M1143.9 1687.8L1139.6 1676.8M1151.5 1679.6L1147.3 1668.4M1159.1 1671.4L1154.9 1659.9M1166.7 1663.2L1162.5 1651.5M1174.3 1655L1170.1 1643.1M1182 1646.8L1177.7 1634.6M1189.6 1638.6L1185.4 1626.2M1197.2 1630.4L1193 1617.8M1204.8 1622.2L1200.6 1609.3M1212.5 1614L1208.2 1600.9M1220.1 1605.8L1215.9 1592.5M1227.7 1597.6L1223.5 1584M1235.3 1589.4L1231.1 1575.6M1242.9 1581.2L1238.7 1567.2M1250.6 1573L1246.3 1558.7M1258.2 1564.8L1254 1550.3M1265.8 1556.6L1261.6 1541.9M1273.4 1548.4L1269.2 1533.4" stroke="#EE9E6D" stroke-width="1.4" fill="none"/>
<path d="M872.9 1972L868.6 1969.3M880.5 1963.5L876.3 1960.6M888.1 1955.1L883.9 1951.9M895.7 1946.7L891.5 1943.3M903.4 1938.2L899.1 1934.6M911 1929.8L906.8 1925.9M918.6 1921.4L914.4 1917.3M926.2 1912.9L922 1908.6M933.8 1904.5L929.6 1899.9M941.5 1896.1L937.2 1891.3M949.1 1887.6L944.9 1882.6M956.7 1879.2L952.5 1873.9M964.3 1870.8L960.1 1865.2M972 1862.3L967.7 1856.6M979.6 1853.9L975.4 1847.9M987.2 1845.5L983 1839.2M994.8 1837L990.6 1830.6M1002.4 1828.6L998.2 1821.9M1010.1 1820.2L1005.8 1813.2M1017.7 1811.7L1013.5 1804.6M1025.3 1803.3L1021.1 1795.9M1032.9 1794.9L1028.7 1787.2M1040.6 1786.4L1036.3 1778.5M1048.2 1778L1043.9 1769.9M1055.8 1769.6L1051.6 1761.2M1063.4 1761.1L1059.2 1752.5M1071 1752.7L1066.8 1743.9M1078.7 1744.3L1074.4 1735.2M1086.3 1735.8L1082.1 1726.5M1093.9 1727.4L1089.7 1717.8M1101.5 1719L1097.3 1709.2M1109.1 1710.5L1104.9 1700.5M1116.8 1702.1L1112.5 1691.8M1124.4 1693.7L1120.2 1683.2M1132 1685.2L1127.8 1674.5M1139.6 1676.8L1135.4 1665.8M1147.3 1668.4L1143 1657.2M1154.9 1659.9L1150.7 1648.5M1162.5 1651.5L1158.3 1639.8M1170.1 1643.1L1165.9 1631.1M1177.7 1634.6L1173.5 1622.5M1185.4 1626.2L1181.1 1613.8M1193 1617.8L1188.8 1605.1M1200.6 1609.3L1196.4 1596.5M1208.2 1600.9L1204 1587.8M1215.9 1592.5L1211.6 1579.1M1223.5 1584L1219.2 1570.5M1231.1 1575.6L1226.9 1561.8M1238.7 1567.2L1234.5 1553.1M1246.3 1558.7L1242.1 1544.4M1254 1550.3L1249.7 1535.8M1261.6 1541.9L1257.9 1529.2M1269.2 1533.4L1268.4 1530.6" stroke="#F8A381" stroke-width="1.4" fill="none"/>
<path d="M868.6 1969.3L864.4 1966.6M876.3 1960.6L872 1957.7M883.9 1951.9L879.7 1948.8M891.5 1943.3L887.3 1939.9M899.1 1934.6L894.9 1931M906.8 1925.9L902.5 1922.1M914.4 1917.3L910.2 1913.2M922 1908.6L917.8 1904.2M929.6 1899.9L925.4 1895.3M937.2 1891.3L933 1886.4M944.9 1882.6L940.6 1877.5M952.5 1873.9L948.3 1868.6M960.1 1865.2L955.9 1859.7M967.7 1856.6L963.5 1850.8M975.4 1847.9L971.1 1841.9M983 1839.2L978.7 1833M990.6 1830.6L986.4 1824.1M998.2 1821.9L994 1815.2M1005.8 1813.2L1001.6 1806.3M1013.5 1804.6L1009.2 1797.4M1021.1 1795.9L1016.9 1788.5M1028.7 1787.2L1024.5 1779.5M1036.3 1778.5L1032.1 1770.6M1043.9 1769.9L1039.7 1761.7M1051.6 1761.2L1047.3 1752.8M1059.2 1752.5L1055 1743.9M1066.8 1743.9L1062.6 1735M1074.4 1735.2L1070.2 1726.1M1082.1 1726.5L1077.8 1717.2M1089.7 1717.8L1085.5 1708.3M1097.3 1709.2L1093.1 1699.4M1104.9 1700.5L1100.7 1690.5M1112.5 1691.8L1108.3 1681.6M1120.2 1683.2L1115.9 1672.7M1127.8 1674.5L1123.6 1663.8M1135.4 1665.8L1131.2 1654.8M1143 1657.2L1138.8 1645.9M1150.7 1648.5L1146.4 1637M1158.3 1639.8L1154 1628.1M1165.9 1631.1L1161.7 1619.2M1173.5 1622.5L1169.3 1610.3M1181.1 1613.8L1176.9 1601.4M1188.8 1605.1L1184.5 1592.5M1196.4 1596.5L1192.2 1583.6M1204 1587.8L1199.8 1574.7M1211.6 1579.1L1207.4 1565.8M1219.2 1570.5L1215 1556.9M1226.9 1561.8L1222.6 1548M1234.5 1553.1L1230.3 1539.1M1242.1 1544.4L1237.9 1530.1M1249.7 1535.8L1247.4 1527.6" stroke="#FAAB98" stroke-width="1.4" fill="none"/>
<path d="M864.4 1966.6L860.2 1963.9M872 1957.7L867.8 1954.8M879.7 1948.8L875.4 1945.6M887.3 1939.9L883.1 1936.5M894.9 1931L890.7 1927.3M902.5 1922.1L898.3 1918.2M910.2 1913.2L905.9 1909M917.8 1904.2L913.6 1899.9M925.4 1895.3L921.2 1890.8M933 1886.4L928.8 1881.6M940.6 1877.5L936.4 1872.5M948.3 1868.6L944 1863.3M955.9 1859.7L951.7 1854.2M963.5 1850.8L959.3 1845M971.1 1841.9L966.9 1835.9M978.7 1833L974.5 1826.7M986.4 1824.1L982.1 1817.6M994 1815.2L989.8 1808.5M1001.6 1806.3L997.4 1799.3M1009.2 1797.4L1005 1790.2M1016.9 1788.5L1012.6 1781M1024.5 1779.5L1020.3 1771.9M1032.1 1770.6L1027.9 1762.7M1039.7 1761.7L1035.5 1753.6M1047.3 1752.8L1043.1 1744.4M1055 1743.9L1050.7 1735.3M1062.6 1735L1058.4 1726.2M1070.2 1726.1L1066 1717M1077.8 1717.2L1073.6 1707.9M1085.5 1708.3L1081.2 1698.7M1093.1 1699.4L1088.9 1689.6M1100.7 1690.5L1096.5 1680.4M1108.3 1681.6L1104.1 1671.3M1115.9 1672.7L1111.7 1662.2M1123.6 1663.8L1119.3 1653M1131.2 1654.8L1127 1643.9M1138.8 1645.9L1134.6 1634.7M1146.4 1637L1142.2 1625.6M1154 1628.1L1149.8 1616.4M1161.7 1619.2L1157.4 1607.3M1169.3 1610.3L1165.1 1598.1M1176.9 1601.4L1172.7 1589M1184.5 1592.5L1180.3 1579.9M1192.2 1583.6L1187.9 1570.7M1199.8 1574.7L1195.6 1561.6M1207.4 1565.8L1203.2 1552.4M1215 1556.9L1210.8 1543.3M1222.6 1548L1218.4 1534.1M1230.3 1539.1L1226 1525M1237.9 1530.1L1236.7 1526" stroke="#FCB2AE" stroke-width="1.4" fill="none"/>
<path d="M860.2 1963.9L856 1961.2M867.8 1954.8L863.6 1951.8M875.4 1945.6L871.2 1942.4M883.1 1936.5L878.8 1933.1M890.7 1927.3L886.5 1923.7M898.3 1918.2L894.1 1914.3M905.9 1909L901.7 1904.9M913.6 1899.9L909.3 1895.5M921.2 1890.8L916.9 1886.2M928.8 1881.6L924.6 1876.8M936.4 1872.5L932.2 1867.4M944 1863.3L939.8 1858M951.7 1854.2L947.4 1848.6M959.3 1845L955.1 1839.3M966.9 1835.9L962.7 1829.9M974.5 1826.7L970.3 1820.5M982.1 1817.6L977.9 1811.1M989.8 1808.5L985.5 1801.7M997.4 1799.3L993.2 1792.4M1005 1790.2L1000.8 1783M1012.6 1781L1008.4 1773.6M1020.3 1771.9L1016 1764.2M1027.9 1762.7L1023.7 1754.8M1035.5 1753.6L1031.3 1745.5M1043.1 1744.4L1038.9 1736.1M1050.7 1735.3L1046.5 1726.7M1058.4 1726.2L1054.1 1717.3M1066 1717L1061.8 1707.9M1073.6 1707.9L1069.4 1698.6M1081.2 1698.7L1077 1689.2M1088.9 1689.6L1084.6 1679.8M1096.5 1680.4L1092.2 1670.4M1104.1 1671.3L1099.9 1661M1111.7 1662.2L1107.5 1651.6M1119.3 1653L1115.1 1642.3M1127 1643.9L1122.7 1632.9M1134.6 1634.7L1130.4 1623.5M1142.2 1625.6L1138 1614.1M1149.8 1616.4L1145.6 1604.7M1157.4 1607.3L1153.2 1595.4M1165.1 1598.1L1160.8 1586M1172.7 1589L1168.5 1576.6M1180.3 1579.9L1176.1 1567.2M1187.9 1570.7L1183.7 1557.8M1195.6 1561.6L1191.3 1548.5M1203.2 1552.4L1199 1539.1M1210.8 1543.3L1206.6 1529.7M1218.4 1534.1L1214.9 1522.5M1226 1525L1225.8 1524.3" stroke="#FDBAC4" stroke-width="1.4" fill="none"/>
<path d="M856 1961.2L851.7 1958.5M863.6 1951.8L859.4 1948.9M871.2 1942.4L867 1939.3M878.8 1933.1L874.6 1929.7M886.5 1923.7L882.2 1920M894.1 1914.3L889.9 1910.4M901.7 1904.9L897.5 1900.8M909.3 1895.5L905.1 1891.2M916.9 1886.2L912.7 1881.6M924.6 1876.8L920.3 1872M932.2 1867.4L928 1862.3M939.8 1858L935.6 1852.7M947.4 1848.6L943.2 1843.1M955.1 1839.3L950.8 1833.5M962.7 1829.9L958.5 1823.9M970.3 1820.5L966.1 1814.3M977.9 1811.1L973.7 1804.6M985.5 1801.7L981.3 1795M993.2 1792.4L988.9 1785.4M1000.8 1783L996.6 1775.8M1008.4 1773.6L1004.2 1766.2M1016 1764.2L1011.8 1756.6M1023.7 1754.8L1019.4 1746.9M1031.3 1745.5L1027 1737.3M1038.9 1736.1L1034.7 1727.7M1046.5 1726.7L1042.3 1718.1M1054.1 1717.3L1049.9 1708.5M1061.8 1707.9L1057.5 1698.8M1069.4 1698.6L1065.2 1689.2M1077 1689.2L1072.8 1679.6M1084.6 1679.8L1080.4 1670M1092.2 1670.4L1088 1660.4M1099.9 1661L1095.6 1650.8M1107.5 1651.6L1103.3 1641.1M1115.1 1642.3L1110.9 1631.5M1122.7 1632.9L1118.5 1621.9M1130.4 1623.5L1126.1 1612.3M1138 1614.1L1133.8 1602.7M1145.6 1604.7L1141.4 1593.1M1153.2 1595.4L1149 1583.4M1160.8 1586L1156.6 1573.8M1168.5 1576.6L1164.2 1564.2M1176.1 1567.2L1171.9 1554.6M1183.7 1557.8L1179.5 1545M1191.3 1548.5L1187.1 1535.4M1199 1539.1L1194.7 1525.7M1206.6 1529.7L1203.7 1520.5" stroke="#FCC1DA" stroke-width="1.4" fill="none"/>
<path d="M851.7 1958.5L847.5 1955.8M859.4 1948.9L855.1 1946M867 1939.3L862.8 1936.1M874.6 1929.7L870.4 1926.3M882.2 1920L878 1916.4M889.9 1910.4L885.6 1906.6M897.5 1900.8L893.3 1896.7M905.1 1891.2L900.9 1886.8M912.7 1881.6L908.5 1877M920.3 1872L916.1 1867.1M928 1862.3L923.7 1857.3M935.6 1852.7L931.4 1847.4M943.2 1843.1L939 1837.6M950.8 1833.5L946.6 1827.7M958.5 1823.9L954.2 1817.9M966.1 1814.3L961.8 1808M973.7 1804.6L969.5 1798.2M981.3 1795L977.1 1788.3M988.9 1785.4L984.7 1778.5M996.6 1775.8L992.3 1768.6M1004.2 1766.2L1000 1758.7M1011.8 1756.6L1007.6 1748.9M1019.4 1746.9L1015.2 1739M1027 1737.3L1022.8 1729.2M1034.7 1727.7L1030.4 1719.3M1042.3 1718.1L1038.1 1709.5M1049.9 1708.5L1045.7 1699.6M1057.5 1698.8L1053.3 1689.8M1065.2 1689.2L1060.9 1679.9M1072.8 1679.6L1068.6 1670.1M1080.4 1670L1076.2 1660.2M1088 1660.4L1083.8 1650.3M1095.6 1650.8L1091.4 1640.5M1103.3 1641.1L1099 1630.6M1110.9 1631.5L1106.7 1620.8M1118.5 1621.9L1114.3 1610.9M1126.1 1612.3L1121.9 1601.1M1133.8 1602.7L1129.5 1591.2M1141.4 1593.1L1137.1 1581.4M1149 1583.4L1144.8 1571.5M1156.6 1573.8L1152.4 1561.7M1164.2 1564.2L1160 1551.8M1171.9 1554.6L1167.6 1541.9M1179.5 1545L1175.3 1532.1M1187.1 1535.4L1182.9 1522.2M1194.7 1525.7L1192.4 1518.5" stroke="#FBC8EF" stroke-width="1.4" fill="none"/>
<polygon points="1116.4,1628.9 1107.7,1643.9 1125.1,1643.9" fill="#FBC6E9" stroke="#000" stroke-width="1.25" stroke-linejoin="miter"/>
<polygon points="1155.5,1567.3 1146.8,1582.3 1164.2,1582.3" fill="#FBC6E9" stroke="#000" stroke-width="1.25" stroke-linejoin="miter"/>
<polygon points="900.5,1891.7 891.8,1906.7 909.2,1906.7" fill="#FBC6E9" stroke="#000" stroke-width="1.25" stroke-linejoin="miter"/>
<polygon points="1141.7,1553.4 1133,1568.4 1150.4,1568.4" fill="#FBC6E9" stroke="#000" stroke-width="1.25" stroke-linejoin="miter"/>
<polygon points="867.6,1924 858.9,1939 876.3,1939" fill="#FBC6E9" stroke="#000" stroke-width="1.25" stroke-linejoin="miter"/>
<polygon points="1072,1641.4 1063.3,1656.4 1080.7,1656.4" fill="#FBC6E9" stroke="#000" stroke-width="1.25" stroke-linejoin="miter"/>
<polygon points="1130.9,1549.9 1122.2,1564.9 1139.6,1564.9" fill="#FBC6E9" stroke="#000" stroke-width="1.25" stroke-linejoin="miter"/>
<polygon points="1209.2,1549.5 1200.5,1564.5 1217.9,1564.5" fill="#FCB3B1" stroke="#000" stroke-width="1.25" stroke-linejoin="miter"/>
<circle cx="1109.3" cy="1670.2" r="7" fill="#FCB3B1" stroke="#000" stroke-width="1.25"/>
<polygon points="1034.3,1753.9 1041.7,1763.7 1034.3,1773.5 1026.9,1763.7" fill="#FCB3B1" stroke="#000" stroke-width="1.25"/>
<circle cx="956.3" cy="1868.1" r="7" fill="#FCB3B1" stroke="#000" stroke-width="1.25"/>
<polygon points="1176.7,1552.8 1168,1567.8 1185.4,1567.8" fill="#FCB3B1" stroke="#000" stroke-width="1.25" stroke-linejoin="miter"/>
<circle cx="1073.1" cy="1700.4" r="7" fill="#FCB3B1" stroke="#000" stroke-width="1.25"/>
<circle cx="971.4" cy="1838.1" r="7" fill="#FCB3B1" stroke="#000" stroke-width="1.25"/>
<polygon points="988.8,1803.6 996.2,1813.4 988.8,1823.2 981.4,1813.4" fill="#FCB3B1" stroke="#000" stroke-width="1.25"/>
<circle cx="924.7" cy="1898.7" r="7" fill="#FCB3B1" stroke="#000" stroke-width="1.25"/>
<polygon points="1003.3,1778.4 1010.7,1788.2 1003.3,1798 995.9,1788.2" fill="#FCB3B1" stroke="#000" stroke-width="1.25"/>
<polygon points="1176.7,1542.2 1168,1557.2 1185.4,1557.2" fill="#FCB3B1" stroke="#000" stroke-width="1.25" stroke-linejoin="miter"/>
<circle cx="955" cy="1853.6" r="7" fill="#FCB3B1" stroke="#000" stroke-width="1.25"/>
<polygon points="977,1811.3 984.4,1821.1 977,1830.9 969.6,1821.1" fill="#FCB3B1" stroke="#000" stroke-width="1.25"/>
<polygon points="1055.3,1703.4 1062.7,1713.2 1055.3,1723 1047.9,1713.2" fill="#FCB3B1" stroke="#000" stroke-width="1.25"/>
<polygon points="989.3,1794.5 980.6,1809.5 998,1809.5" fill="#FCB3B1" stroke="#000" stroke-width="1.25" stroke-linejoin="miter"/>
<polygon points="889.8,1931.1 881.1,1946.1 898.5,1946.1" fill="#FCB3B1" stroke="#000" stroke-width="1.25" stroke-linejoin="miter"/>
<polygon points="976,1812.3 967.3,1827.3 984.7,1827.3" fill="#FCB3B1" stroke="#000" stroke-width="1.25" stroke-linejoin="miter"/>
<polygon points="1125.5,1605.5 1116.8,1620.5 1134.2,1620.5" fill="#FCB3B1" stroke="#000" stroke-width="1.25" stroke-linejoin="miter"/>
<polygon points="903.6,1910.3 894.9,1925.3 912.3,1925.3" fill="#FCB3B1" stroke="#000" stroke-width="1.25" stroke-linejoin="miter"/>
<polygon points="1007.3,1764.8 1014.7,1774.6 1007.3,1784.4 999.9,1774.6" fill="#FCB3B1" stroke="#000" stroke-width="1.25"/>
<polygon points="1103.5,1633.7 1094.8,1648.7 1112.2,1648.7" fill="#FCB3B1" stroke="#000" stroke-width="1.25" stroke-linejoin="miter"/>
<rect x="983.2" y="1791.2" width="10" height="10" fill="#FCB3B1" stroke="#000" stroke-width="1.25"/>
<polygon points="1042.8,1708.4 1050.2,1718.2 1042.8,1728 1035.4,1718.2" fill="#FCB3B1" stroke="#000" stroke-width="1.25"/>
<polygon points="891.7,1916.3 883,1931.3 900.4,1931.3" fill="#FCB3B1" stroke="#000" stroke-width="1.25" stroke-linejoin="miter"/>
<polygon points="1031,1721.4 1038.4,1731.2 1031,1741 1023.6,1731.2" fill="#FCB3B1" stroke="#000" stroke-width="1.25"/>
<polygon points="902.9,1897.7 894.2,1912.7 911.6,1912.7" fill="#FCB3B1" stroke="#000" stroke-width="1.25" stroke-linejoin="miter"/>
<polygon points="1223.5,1584.2 1214.8,1599.2 1232.2,1599.2" fill="#F8A17C" stroke="#000" stroke-width="1.25" stroke-linejoin="miter"/>
<polygon points="1016.4,1741.2 1007.7,1726.2 1025.1,1726.2" fill="#FCB3B1" stroke="#000" stroke-width="1.25"/>
<polygon points="1142.6,1552 1133.9,1567 1151.3,1567" fill="#FCB3B1" stroke="#000" stroke-width="1.25" stroke-linejoin="miter"/>
<polygon points="1046.8,1682 1038.1,1697 1055.5,1697" fill="#FCB3B1" stroke="#000" stroke-width="1.25" stroke-linejoin="miter"/>
<polygon points="1143.4,1547.5 1134.7,1562.5 1152.1,1562.5" fill="#FCB3B1" stroke="#000" stroke-width="1.25" stroke-linejoin="miter"/>
<circle cx="926.6" cy="1851.1" r="7" fill="#FCB3B1" stroke="#000" stroke-width="1.25"/>
<polygon points="1036.9,1703.9 1028.2,1688.9 1045.6,1688.9" fill="#FCB3B1" stroke="#000" stroke-width="1.25"/>
<polygon points="1150.3,1663.6 1141.6,1678.6 1159,1678.6" fill="#F8A17C" stroke="#000" stroke-width="1.25" stroke-linejoin="miter"/>
<polygon points="882.5,1891.6 873.8,1906.6 891.2,1906.6" fill="#FCB3B1" stroke="#000" stroke-width="1.25" stroke-linejoin="miter"/>
<circle cx="1106.9" cy="1720.9" r="7" fill="#F8A17C" stroke="#000" stroke-width="1.25"/>
<circle cx="1106.7" cy="1720.4" r="7" fill="#F8A17C" stroke="#000" stroke-width="1.25"/>
<polygon points="1088.7,1737.2 1080,1752.2 1097.4,1752.2" fill="#F8A17C" stroke="#000" stroke-width="1.25" stroke-linejoin="miter"/>
<polygon points="1119.2,1692.9 1110.5,1707.9 1127.9,1707.9" fill="#F8A17C" stroke="#000" stroke-width="1.25" stroke-linejoin="miter"/>
<polygon points="1108.1,1706.8 1099.4,1721.8 1116.8,1721.8" fill="#F8A17C" stroke="#000" stroke-width="1.25" stroke-linejoin="miter"/>
<polygon points="864.1,1902.5 855.4,1917.5 872.8,1917.5" fill="#FCB3B1" stroke="#000" stroke-width="1.25" stroke-linejoin="miter"/>
<polygon points="1093.4,1718.3 1084.7,1733.3 1102.1,1733.3" fill="#F8A17C" stroke="#000" stroke-width="1.25" stroke-linejoin="miter"/>
<circle cx="1074" cy="1739.6" r="7" fill="#F8A17C" stroke="#000" stroke-width="1.25"/>
<circle cx="1073.8" cy="1739.8" r="7" fill="#F8A17C" stroke="#000" stroke-width="1.25"/>
<polygon points="860.8,1889.8 852.1,1904.8 869.5,1904.8" fill="#FCB3B1" stroke="#000" stroke-width="1.25" stroke-linejoin="miter"/>
<circle cx="1024.8" cy="1803.8" r="7" fill="#F8A17C" stroke="#000" stroke-width="1.25"/>
<circle cx="1080.4" cy="1725.2" r="7" fill="#F8A17C" stroke="#000" stroke-width="1.25"/>
<polygon points="1089.6,1704.6 1080.9,1719.6 1098.3,1719.6" fill="#F8A17C" stroke="#000" stroke-width="1.25" stroke-linejoin="miter"/>
<circle cx="1024.4" cy="1800.6" r="7" fill="#F8A17C" stroke="#000" stroke-width="1.25"/>
<circle cx="1103.4" cy="1688.7" r="7" fill="#F8A17C" stroke="#000" stroke-width="1.25"/>
<circle cx="1103.2" cy="1688.9" r="7" fill="#F8A17C" stroke="#000" stroke-width="1.25"/>
<polygon points="1058.6,1741.9 1049.9,1756.9 1067.3,1756.9" fill="#F8A17C" stroke="#000" stroke-width="1.25" stroke-linejoin="miter"/>
<circle cx="957" cy="1885.4" r="7" fill="#F8A17C" stroke="#000" stroke-width="1.25"/>
<polygon points="1056.3,1738.2 1063.7,1748 1056.3,1757.8 1048.9,1748" fill="#F8A17C" stroke="#000" stroke-width="1.25"/>
<polygon points="1051.4,1742.7 1042.7,1757.7 1060.1,1757.7" fill="#F8A17C" stroke="#000" stroke-width="1.25" stroke-linejoin="miter"/>
<polygon points="999.2,1813.7 990.5,1828.7 1007.9,1828.7" fill="#F8A17C" stroke="#000" stroke-width="1.25" stroke-linejoin="miter"/>
<polygon points="1106.7,1664.8 1098,1679.8 1115.4,1679.8" fill="#F8A17C" stroke="#000" stroke-width="1.25" stroke-linejoin="miter"/>
<polygon points="1106.1,1664.3 1097.4,1679.3 1114.8,1679.3" fill="#F8A17C" stroke="#000" stroke-width="1.25" stroke-linejoin="miter"/>
<rect x="978.3" y="1833.5" width="10" height="10" fill="#F8A17C" stroke="#000" stroke-width="1.25"/>
<polygon points="879.9,1957.9 871.2,1972.9 888.6,1972.9" fill="#F8A17C" stroke="#000" stroke-width="1.25" stroke-linejoin="miter"/>
<circle cx="1065.2" cy="1703.8" r="7" fill="#F8A17C" stroke="#000" stroke-width="1.25"/>
<circle cx="958.9" cy="1847.1" r="7" fill="#F8A17C" stroke="#000" stroke-width="1.25"/>
<circle cx="1087" cy="1670.6" r="7" fill="#F8A17C" stroke="#000" stroke-width="1.25"/>
<circle cx="1075.1" cy="1682.9" r="7" fill="#F8A17C" stroke="#000" stroke-width="1.25"/>
<polygon points="918.1,1889.7 909.4,1904.7 926.8,1904.7" fill="#F8A17C" stroke="#000" stroke-width="1.25" stroke-linejoin="miter"/>
<polygon points="1075.1,1672.3 1066.4,1657.3 1083.8,1657.3" fill="#F8A17C" stroke="#000" stroke-width="1.25"/>
<polygon points="1050.1,1689.7 1041.4,1704.7 1058.8,1704.7" fill="#F8A17C" stroke="#000" stroke-width="1.25" stroke-linejoin="miter"/>
<polygon points="927.3,1842.6 918.6,1857.6 936,1857.6" fill="#F8A17C" stroke="#000" stroke-width="1.25" stroke-linejoin="miter"/>
<polygon points="1039.6,1677.6 1030.9,1692.6 1048.3,1692.6" fill="#F8A17C" stroke="#000" stroke-width="1.25" stroke-linejoin="miter"/>
<polygon points="1136.6,1722.8 1127.9,1737.8 1145.3,1737.8" fill="#CF9242" stroke="#000" stroke-width="1.25" stroke-linejoin="miter"/>
<polygon points="1163.4,1683.5 1154.7,1698.5 1172.1,1698.5" fill="#CF9242" stroke="#000" stroke-width="1.25" stroke-linejoin="miter"/>
<polygon points="1122.1,1739.5 1113.4,1754.5 1130.8,1754.5" fill="#CF9242" stroke="#000" stroke-width="1.25" stroke-linejoin="miter"/>
<polygon points="1119.2,1742.3 1110.5,1757.3 1127.9,1757.3" fill="#CF9242" stroke="#000" stroke-width="1.25" stroke-linejoin="miter"/>
<polygon points="1144.7,1706.3 1136,1721.3 1153.4,1721.3" fill="#CF9242" stroke="#000" stroke-width="1.25" stroke-linejoin="miter"/>
<polygon points="1144.3,1706.5 1135.6,1721.5 1153,1721.5" fill="#CF9242" stroke="#000" stroke-width="1.25" stroke-linejoin="miter"/>
<polygon points="1102.8,1744.6 1094.1,1759.6 1111.5,1759.6" fill="#CF9242" stroke="#000" stroke-width="1.25" stroke-linejoin="miter"/>
<polygon points="1101.7,1745.1 1093,1760.1 1110.4,1760.1" fill="#CF9242" stroke="#000" stroke-width="1.25" stroke-linejoin="miter"/>
<polygon points="1131.7,1697.5 1123,1712.5 1140.4,1712.5" fill="#CF9242" stroke="#000" stroke-width="1.25" stroke-linejoin="miter"/>
<polygon points="1131.6,1697.1 1122.9,1712.1 1140.3,1712.1" fill="#CF9242" stroke="#000" stroke-width="1.25" stroke-linejoin="miter"/>
<polygon points="1199,1604.2 1190.3,1619.2 1207.7,1619.2" fill="#CF9242" stroke="#000" stroke-width="1.25" stroke-linejoin="miter"/>
<polygon points="1078.4,1769.4 1080.2,1774.9 1086,1774.9 1081.3,1778.4 1083.1,1783.9 1078.4,1780.5 1073.7,1783.9 1075.5,1778.4 1070.8,1774.9 1076.6,1774.9" fill="#CF9242" stroke="#000" stroke-width="1.25"/>
<polygon points="1077.9,1769.3 1079.7,1774.8 1085.6,1774.8 1080.9,1778.2 1082.6,1783.7 1077.9,1780.3 1073.2,1783.7 1075,1778.2 1070.3,1774.8 1076.2,1774.8" fill="#CF9242" stroke="#000" stroke-width="1.25"/>
<polygon points="1032.7,1811.3 1040.1,1821.1 1032.7,1830.9 1025.3,1821.1" fill="#CF9242" stroke="#000" stroke-width="1.25"/>
<polygon points="1031.7,1812.2 1039.1,1822 1031.7,1831.8 1024.3,1822" fill="#CF9242" stroke="#000" stroke-width="1.25"/>
<rect x="1019.2" y="1824.1" width="10" height="10" fill="#CF9242" stroke="#000" stroke-width="1.25"/>
<rect x="1018.7" y="1824.3" width="10" height="10" fill="#CF9242" stroke="#000" stroke-width="1.25"/>
<rect x="1005.3" y="1837.3" width="10" height="10" fill="#CF9242" stroke="#000" stroke-width="1.25"/>
<circle cx="963.5" cy="1902.2" r="7" fill="#CF9242" stroke="#000" stroke-width="1.25"/>
<polygon points="1072.4,1759.4 1063.7,1744.4 1081.1,1744.4" fill="#CF9242" stroke="#000" stroke-width="1.25"/>
<circle cx="1058" cy="1765.1" r="7" fill="#CF9242" stroke="#000" stroke-width="1.25"/>
<polygon points="905.6,1960.1 896.9,1975.1 914.3,1975.1" fill="#CF9242" stroke="#000" stroke-width="1.25" stroke-linejoin="miter"/>
<polygon points="1019.8,1794.7 1011.1,1809.7 1028.5,1809.7" fill="#CF9242" stroke="#000" stroke-width="1.25" stroke-linejoin="miter"/>
<polygon points="1195.9,1717.4 1187.2,1732.4 1204.6,1732.4" fill="#9A882C" stroke="#000" stroke-width="1.25" stroke-linejoin="miter"/>
<polygon points="1002.4,1813.8 1009.8,1823.6 1002.4,1833.4 995,1823.6" fill="#CF9242" stroke="#000" stroke-width="1.25"/>
<polygon points="1002.6,1811.8 1010,1821.6 1002.6,1831.4 995.2,1821.6" fill="#CF9242" stroke="#000" stroke-width="1.25"/>
<polygon points="1035.6,1767.4 1026.9,1782.4 1044.3,1782.4" fill="#CF9242" stroke="#000" stroke-width="1.25" stroke-linejoin="miter"/>
<polygon points="990.8,1823.5 998.2,1833.3 990.8,1843.1 983.4,1833.3" fill="#CF9242" stroke="#000" stroke-width="1.25"/>
<polygon points="989.9,1824.1 997.3,1833.9 989.9,1843.7 982.5,1833.9" fill="#CF9242" stroke="#000" stroke-width="1.25"/>
<polygon points="1060.6,1728.6 1051.9,1743.6 1069.3,1743.6" fill="#CF9242" stroke="#000" stroke-width="1.25" stroke-linejoin="miter"/>
<polygon points="1172.6,1738.1 1163.9,1753.1 1181.3,1753.1" fill="#9A882C" stroke="#000" stroke-width="1.25" stroke-linejoin="miter"/>
<polygon points="1162.8,1584.7 1154.1,1599.7 1171.5,1599.7" fill="#CF9242" stroke="#000" stroke-width="1.25" stroke-linejoin="miter"/>
<polygon points="1227,1659.5 1218.3,1674.5 1235.7,1674.5" fill="#9A882C" stroke="#000" stroke-width="1.25" stroke-linejoin="miter"/>
<polygon points="1106,1659.8 1097.3,1674.8 1114.7,1674.8" fill="#CF9242" stroke="#000" stroke-width="1.25" stroke-linejoin="miter"/>
<polygon points="1173.9,1557.8 1165.2,1572.8 1182.6,1572.8" fill="#CF9242" stroke="#000" stroke-width="1.25" stroke-linejoin="miter"/>
<circle cx="989.3" cy="1818.6" r="7" fill="#CF9242" stroke="#000" stroke-width="1.25"/>
<circle cx="988.8" cy="1817.4" r="7" fill="#CF9242" stroke="#000" stroke-width="1.25"/>
<polygon points="1123.6,1784.5 1114.9,1799.5 1132.3,1799.5" fill="#9A882C" stroke="#000" stroke-width="1.25" stroke-linejoin="miter"/>
<polygon points="1128.9,1770.4 1120.2,1785.4 1137.6,1785.4" fill="#9A882C" stroke="#000" stroke-width="1.25" stroke-linejoin="miter"/>
<polygon points="1128,1771.3 1119.3,1786.3 1136.7,1786.3" fill="#9A882C" stroke="#000" stroke-width="1.25" stroke-linejoin="miter"/>
<polygon points="889.8,1931.4 881.1,1946.4 898.5,1946.4" fill="#CF9242" stroke="#000" stroke-width="1.25" stroke-linejoin="miter"/>
<polygon points="951,1846.6 942.3,1861.6 959.7,1861.6" fill="#CF9242" stroke="#000" stroke-width="1.25" stroke-linejoin="miter"/>
<polygon points="1204.5,1660.5 1195.8,1675.5 1213.2,1675.5" fill="#9A882C" stroke="#000" stroke-width="1.25" stroke-linejoin="miter"/>
<polygon points="1149.8,1731.1 1141.1,1746.1 1158.5,1746.1" fill="#9A882C" stroke="#000" stroke-width="1.25" stroke-linejoin="miter"/>
<polygon points="1191.5,1675.8 1182.8,1660.8 1200.2,1660.8" fill="#9A882C" stroke="#000" stroke-width="1.25"/>
<polygon points="1117.8,1761.9 1109.1,1776.9 1126.5,1776.9" fill="#9A882C" stroke="#000" stroke-width="1.25" stroke-linejoin="miter"/>
<polygon points="1117.1,1758.9 1108.4,1773.9 1125.8,1773.9" fill="#9A882C" stroke="#000" stroke-width="1.25" stroke-linejoin="miter"/>
<polygon points="1124.1,1748.6 1115.4,1763.6 1132.8,1763.6" fill="#9A882C" stroke="#000" stroke-width="1.25" stroke-linejoin="miter"/>
<circle cx="974.1" cy="1886.6" r="7" fill="#B28D35" stroke="#000" stroke-width="1.25"/>
<polygon points="1070.1,1819.7 1061.4,1834.7 1078.8,1834.7" fill="#9A882C" stroke="#000" stroke-width="1.25" stroke-linejoin="miter"/>
<polygon points="1069.7,1819.3 1061,1834.3 1078.4,1834.3" fill="#9A882C" stroke="#000" stroke-width="1.25" stroke-linejoin="miter"/>
<polygon points="1070.5,1817.6 1061.8,1832.6 1079.2,1832.6" fill="#9A882C" stroke="#000" stroke-width="1.25" stroke-linejoin="miter"/>
<polygon points="1050.7,1843.5 1052.5,1849 1058.3,1849 1053.6,1852.4 1055.4,1858 1050.7,1854.5 1046,1858 1047.8,1852.4 1043.1,1849 1048.9,1849" fill="#9A882C" stroke="#000" stroke-width="1.25"/>
<circle cx="1031" cy="1875.8" r="7" fill="#9A882C" stroke="#000" stroke-width="1.25"/>
<polygon points="1185.7,1655.4 1177,1670.4 1194.4,1670.4" fill="#9A882C" stroke="#000" stroke-width="1.25" stroke-linejoin="miter"/>
<polygon points="1103,1761.7 1094.3,1776.7 1111.7,1776.7" fill="#9A882C" stroke="#000" stroke-width="1.25" stroke-linejoin="miter"/>
<circle cx="1025.1" cy="1876.3" r="7" fill="#9A882C" stroke="#000" stroke-width="1.25"/>
<polygon points="1101.3,1761.7 1092.6,1776.7 1110,1776.7" fill="#9A882C" stroke="#000" stroke-width="1.25" stroke-linejoin="miter"/>
<polygon points="1154.5,1683.7 1145.8,1698.7 1163.2,1698.7" fill="#9A882C" stroke="#000" stroke-width="1.25" stroke-linejoin="miter"/>
<polygon points="1154.3,1683.7 1145.6,1698.7 1163,1698.7" fill="#9A882C" stroke="#000" stroke-width="1.25" stroke-linejoin="miter"/>
<circle cx="1017.1" cy="1874.9" r="7" fill="#9A882C" stroke="#000" stroke-width="1.25"/>
<circle cx="1005.9" cy="1888.4" r="7" fill="#9A882C" stroke="#000" stroke-width="1.25"/>
<polygon points="1077.6,1770.8 1068.9,1785.8 1086.3,1785.8" fill="#9A882C" stroke="#000" stroke-width="1.25" stroke-linejoin="miter"/>
<polygon points="1122.8,1707 1114.1,1722 1131.5,1722" fill="#9A882C" stroke="#000" stroke-width="1.25" stroke-linejoin="miter"/>
<polygon points="937.4,1951.3 928.7,1966.3 946.1,1966.3" fill="#9A882C" stroke="#000" stroke-width="1.25" stroke-linejoin="miter"/>
<polygon points="953.2,1927.3 944.5,1942.3 961.9,1942.3" fill="#9A882C" stroke="#000" stroke-width="1.25" stroke-linejoin="miter"/>
<circle cx="1000.6" cy="1868.2" r="7" fill="#9A882C" stroke="#000" stroke-width="1.25"/>
<polygon points="1112.2,1706.8 1103.5,1721.8 1120.9,1721.8" fill="#9A882C" stroke="#000" stroke-width="1.25" stroke-linejoin="miter"/>
<polygon points="1188.4,1762.9 1179.7,1777.9 1197.1,1777.9" fill="#667A3F" stroke="#000" stroke-width="1.25" stroke-linejoin="miter"/>
<polygon points="1188.3,1762.3 1179.6,1777.3 1197,1777.3" fill="#667A3F" stroke="#000" stroke-width="1.25" stroke-linejoin="miter"/>
<polygon points="1184.9,1762.7 1176.2,1777.7 1193.6,1777.7" fill="#667A3F" stroke="#000" stroke-width="1.25" stroke-linejoin="miter"/>
<circle cx="979" cy="1884.7" r="7" fill="#9A882C" stroke="#000" stroke-width="1.25"/>
<polygon points="954.5,1907.8 945.8,1922.8 963.2,1922.8" fill="#9A882C" stroke="#000" stroke-width="1.25" stroke-linejoin="miter"/>
<circle cx="971" cy="1887.3" r="7" fill="#9A882C" stroke="#000" stroke-width="1.25"/>
<polygon points="966.5,1885.6 957.8,1900.6 975.2,1900.6" fill="#9A882C" stroke="#000" stroke-width="1.25" stroke-linejoin="miter"/>
<polygon points="1324.4,1717.7 1315.7,1732.7 1333.1,1732.7" fill="#3B6C56" stroke="#000" stroke-width="1.25" stroke-linejoin="miter"/>
<circle cx="982.9" cy="1850.3" r="7" fill="#9A882C" stroke="#000" stroke-width="1.25"/>
<polygon points="1031.2,1774.2 1022.5,1789.2 1039.9,1789.2" fill="#9A882C" stroke="#000" stroke-width="1.25" stroke-linejoin="miter"/>
<polygon points="917.7,1921.5 909,1936.5 926.4,1936.5" fill="#9A882C" stroke="#000" stroke-width="1.25" stroke-linejoin="miter"/>
<polygon points="1118.6,1802.4 1109.9,1817.4 1127.3,1817.4" fill="#667A3F" stroke="#000" stroke-width="1.25" stroke-linejoin="miter"/>
<polygon points="1117.7,1802.2 1109,1817.2 1126.4,1817.2" fill="#667A3F" stroke="#000" stroke-width="1.25" stroke-linejoin="miter"/>
<polygon points="1090.1,1837.9 1081.4,1852.9 1098.8,1852.9" fill="#667A3F" stroke="#000" stroke-width="1.25" stroke-linejoin="miter"/>
<polygon points="1061.5,1876.3 1052.8,1891.3 1070.2,1891.3" fill="#667A3F" stroke="#000" stroke-width="1.25" stroke-linejoin="miter"/>
<polygon points="1087.6,1837.6 1078.9,1852.6 1096.3,1852.6" fill="#667A3F" stroke="#000" stroke-width="1.25" stroke-linejoin="miter"/>
<polygon points="1048.3,1726.4 1039.6,1741.4 1057,1741.4" fill="#9A882C" stroke="#000" stroke-width="1.25" stroke-linejoin="miter"/>
<polygon points="1086.5,1837.4 1077.8,1852.4 1095.2,1852.4" fill="#667A3F" stroke="#000" stroke-width="1.25" stroke-linejoin="miter"/>
<polygon points="1267.8,1749.1 1259.1,1764.1 1276.5,1764.1" fill="#3B6C56" stroke="#000" stroke-width="1.25" stroke-linejoin="miter"/>
<polygon points="1314.9,1681.8 1306.2,1696.8 1323.6,1696.8" fill="#3B6C56" stroke="#000" stroke-width="1.25" stroke-linejoin="miter"/>
<polygon points="1259.1,1749 1250.4,1764 1267.8,1764" fill="#3B6C56" stroke="#000" stroke-width="1.25" stroke-linejoin="miter"/>
<circle cx="1052.3" cy="1873.8" r="7" fill="#667A3F" stroke="#000" stroke-width="1.25"/>
<polygon points="1283.8,1712.5 1275.1,1727.5 1292.5,1727.5" fill="#3B6C56" stroke="#000" stroke-width="1.25" stroke-linejoin="miter"/>
<circle cx="1068.3" cy="1849.1" r="7" fill="#667A3F" stroke="#000" stroke-width="1.25"/>
<circle cx="1068" cy="1849.2" r="7" fill="#667A3F" stroke="#000" stroke-width="1.25"/>
<polygon points="1148.5,1724.8 1139.8,1739.8 1157.2,1739.8" fill="#667A3F" stroke="#000" stroke-width="1.25" stroke-linejoin="miter"/>
<circle cx="1003.6" cy="1922.4" r="7" fill="#667A3F" stroke="#000" stroke-width="1.25"/>
<polygon points="1262,1723.2 1253.3,1738.2 1270.7,1738.2" fill="#3B6C56" stroke="#000" stroke-width="1.25" stroke-linejoin="miter"/>
<circle cx="1043" cy="1866.5" r="7" fill="#667A3F" stroke="#000" stroke-width="1.25"/>
<polygon points="1254.7,1731 1246,1746 1263.4,1746" fill="#3B6C56" stroke="#000" stroke-width="1.25" stroke-linejoin="miter"/>
<polygon points="1234.5,1748.5 1225.8,1763.5 1243.2,1763.5" fill="#3B6C56" stroke="#000" stroke-width="1.25" stroke-linejoin="miter"/>
<polygon points="1109.8,1748.2 1101.1,1763.2 1118.5,1763.2" fill="#667A3F" stroke="#000" stroke-width="1.25" stroke-linejoin="miter"/>
<polygon points="958.8,1953.3 950.1,1968.3 967.5,1968.3" fill="#667A3F" stroke="#000" stroke-width="1.25" stroke-linejoin="miter"/>
<polygon points="1148.9,1827.8 1140.2,1842.8 1157.6,1842.8" fill="#3B6C56" stroke="#000" stroke-width="1.25" stroke-linejoin="miter"/>
<polygon points="1148.4,1827.7 1139.7,1842.7 1157.1,1842.7" fill="#3B6C56" stroke="#000" stroke-width="1.25" stroke-linejoin="miter"/>
<polygon points="1097.9,1728.4 1089.2,1743.4 1106.6,1743.4" fill="#667A3F" stroke="#000" stroke-width="1.25" stroke-linejoin="miter"/>
<circle cx="987.7" cy="1882.4" r="7" fill="#667A3F" stroke="#000" stroke-width="1.25"/>
<circle cx="1000.2" cy="1862.6" r="7" fill="#667A3F" stroke="#000" stroke-width="1.25"/>
<polygon points="1116.9,1850.3 1108.2,1865.3 1125.6,1865.3" fill="#3B6C56" stroke="#000" stroke-width="1.25" stroke-linejoin="miter"/>
<polygon points="1167.3,1775.5 1158.6,1790.5 1176,1790.5" fill="#3B6C56" stroke="#000" stroke-width="1.25" stroke-linejoin="miter"/>
<polygon points="1304.5,1742 1295.8,1757 1313.2,1757" fill="#1C5962" stroke="#000" stroke-width="1.25" stroke-linejoin="miter"/>
<polygon points="1269.3,1770.9 1260.6,1785.9 1278,1785.9" fill="#1C5962" stroke="#000" stroke-width="1.25" stroke-linejoin="miter"/>
<polygon points="1269.8,1769.7 1261.1,1784.7 1278.5,1784.7" fill="#1C5962" stroke="#000" stroke-width="1.25" stroke-linejoin="miter"/>
<polygon points="1092,1845.4 1083.3,1860.4 1100.7,1860.4" fill="#3B6C56" stroke="#000" stroke-width="1.25" stroke-linejoin="miter"/>
<polygon points="1285.7,1736.9 1277,1751.9 1294.4,1751.9" fill="#1C5962" stroke="#000" stroke-width="1.25" stroke-linejoin="miter"/>
<polygon points="1116.6,1803.5 1107.9,1818.5 1125.3,1818.5" fill="#3B6C56" stroke="#000" stroke-width="1.25" stroke-linejoin="miter"/>
<polygon points="1114.4,1803.9 1105.7,1818.9 1123.1,1818.9" fill="#3B6C56" stroke="#000" stroke-width="1.25" stroke-linejoin="miter"/>
<polygon points="1091.6,1832.2 1082.9,1847.2 1100.3,1847.2" fill="#3B6C56" stroke="#000" stroke-width="1.25" stroke-linejoin="miter"/>
<polygon points="1205.1,1829.4 1196.4,1844.4 1213.8,1844.4" fill="#1C5962" stroke="#000" stroke-width="1.25" stroke-linejoin="miter"/>
<polygon points="1087.2,1826.3 1078.5,1841.3 1095.9,1841.3" fill="#3B6C56" stroke="#000" stroke-width="1.25" stroke-linejoin="miter"/>
<polygon points="1204.7,1829.3 1196,1844.3 1213.4,1844.3" fill="#1C5962" stroke="#000" stroke-width="1.25" stroke-linejoin="miter"/>
<polygon points="1263.3,1746.4 1254.6,1761.4 1272,1761.4" fill="#1C5962" stroke="#000" stroke-width="1.25" stroke-linejoin="miter"/>
<polygon points="1239.6,1776.3 1230.9,1791.3 1248.3,1791.3" fill="#1C5962" stroke="#000" stroke-width="1.25" stroke-linejoin="miter"/>
<polygon points="1240,1775.4 1231.3,1790.4 1248.7,1790.4" fill="#1C5962" stroke="#000" stroke-width="1.25" stroke-linejoin="miter"/>
<polygon points="1132.3,1879.2 1123.6,1894.2 1141,1894.2" fill="#1C5962" stroke="#000" stroke-width="1.25" stroke-linejoin="miter"/>
<polygon points="1219.8,1755.1 1211.1,1770.1 1228.5,1770.1" fill="#1C5962" stroke="#000" stroke-width="1.25" stroke-linejoin="miter"/>
<polygon points="1141.5,1861.8 1132.8,1876.8 1150.2,1876.8" fill="#1C5962" stroke="#000" stroke-width="1.25" stroke-linejoin="miter"/>
<polygon points="1140.6,1859.2 1131.9,1874.2 1149.3,1874.2" fill="#1C5962" stroke="#000" stroke-width="1.25" stroke-linejoin="miter"/>
<polygon points="1245.2,1707.1 1236.5,1722.1 1253.9,1722.1" fill="#1C5962" stroke="#000" stroke-width="1.25" stroke-linejoin="miter"/>
<polygon points="1130,1858.7 1121.3,1873.7 1138.7,1873.7" fill="#1C5962" stroke="#000" stroke-width="1.25" stroke-linejoin="miter"/>
<polygon points="1181.4,1782.5 1172.7,1797.5 1190.1,1797.5" fill="#1C5962" stroke="#000" stroke-width="1.25" stroke-linejoin="miter"/>
<polygon points="1179.7,1784.2 1171,1799.2 1188.4,1799.2" fill="#1C5962" stroke="#000" stroke-width="1.25" stroke-linejoin="miter"/>
<polygon points="1312.6,1749.1 1303.9,1764.1 1321.3,1764.1" fill="#114160" stroke="#000" stroke-width="1.25" stroke-linejoin="miter"/>
<polygon points="1280.9,1789.9 1272.2,1804.9 1289.6,1804.9" fill="#114160" stroke="#000" stroke-width="1.25" stroke-linejoin="miter"/>
<polygon points="1265.7,1794.4 1257,1809.4 1274.4,1809.4" fill="#114160" stroke="#000" stroke-width="1.25" stroke-linejoin="miter"/>
<polygon points="1103.7,1855.7 1095,1870.7 1112.4,1870.7" fill="#1C5962" stroke="#000" stroke-width="1.25" stroke-linejoin="miter"/>
<polygon points="1351.9,1787.8 1343.2,1802.8 1360.6,1802.8" fill="#04205A" stroke="#000" stroke-width="1.25" stroke-linejoin="miter"/>
<polygon points="1204.3,1818.3 1195.6,1833.3 1213,1833.3" fill="#114160" stroke="#000" stroke-width="1.25" stroke-linejoin="miter"/>
<polygon points="1203.8,1818.2 1195.1,1833.2 1212.5,1833.2" fill="#114160" stroke="#000" stroke-width="1.25" stroke-linejoin="miter"/>
<polygon points="1272.7,1809.1 1264,1824.1 1281.4,1824.1" fill="#04205A" stroke="#000" stroke-width="1.25" stroke-linejoin="miter"/>
<rect x="1019.8" y="1750.3" width="26" height="26" fill="none" stroke="#000" stroke-width="3.6"/>
<rect x="1249.4" y="1763" width="26" height="26" fill="none" stroke="#000" stroke-width="3.6"/>
</g></svg></body></html>
